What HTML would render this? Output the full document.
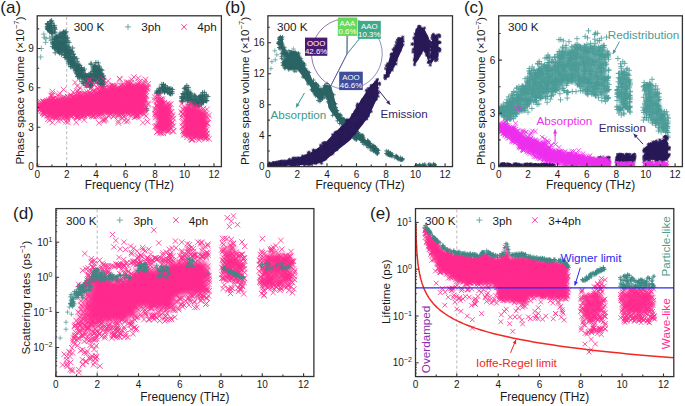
<!DOCTYPE html><html><head><meta charset="utf-8"><style>html,body{margin:0;padding:0;background:#fff;overflow:hidden}svg{display:block}</style></head><body>
<svg width="685" height="406" viewBox="0 0 685 406" font-family="'Liberation Sans', sans-serif">
<rect width="685" height="406" fill="#fff"/>
<defs>
<clipPath id="ca"><rect x="37.2" y="15.8" width="184.2" height="150.8"/></clipPath>
<clipPath id="cb"><rect x="267.9" y="15.8" width="184.6" height="150.8"/></clipPath>
<clipPath id="cc"><rect x="498.7" y="15.8" width="183.7" height="150.8"/></clipPath>
<clipPath id="cd"><rect x="55.9" y="208.6" width="258.0" height="167.9"/></clipPath>
<clipPath id="ce"><rect x="415.5" y="208.6" width="258.3" height="168.0"/></clipPath>
<filter id="bl" x="-20%" y="-20%" width="140%" height="140%"><feGaussianBlur stdDeviation="1.6"/></filter>
<filter id="bl2" x="-20%" y="-20%" width="140%" height="140%"><feGaussianBlur stdDeviation="2.6"/></filter>
</defs>
<path d="M66.7 16.8V166.5" stroke="#a8a8a8" stroke-width="0.8" stroke-dasharray="3 2.2" fill="none"/>
<g clip-path="url(#ca)"><path d="M49.8 26.2L49.7 22.3L52.7 23.6L52.9 30.8L52.9 30.8L52.7 31.5L49.7 30.2L49.8 26.3Z" fill="#2c6464" opacity="0.9" filter="url(#bl)"/></g>
<g clip-path="url(#ca)"><path d="M55.3 40.6L56.4 38L62.3 34.1L66.7 33.4L68.1 44.6L74 57.7L81.4 69.5L86.3 77.3L89.5 78.6L93.2 69.5L96.9 66.2L100.6 70.8L101.6 80L101.6 86.6L100.6 82.6L96.9 80L93.2 82.6L89.5 85.2L86.3 83.9L81.4 78.7L74 69.5L68.1 60.3L66.7 53.8L62.3 52.5L56.4 48.5L55.3 43.3Z" fill="#2c6464" opacity="0.9" filter="url(#bl)"/></g>
<g clip-path="url(#ca)"><path d="M158.6 92.5L159.5 87.2L163.2 85.3L168.4 89.8L171.5 91.8L171.5 94.4L168.4 91.1L163.2 90.4L159.5 92.4L158.6 96.3Z" fill="#2c6464" opacity="1.0" filter="url(#bl)"/></g>
<g clip-path="url(#ca)"><path d="M183.6 97.7L184.6 89.8L187.5 86.6L191.9 93.8L197.8 100.3L202.2 93.8L206.1 95.1L206.1 99L202.2 102.9L197.8 105.5L191.9 104.2L187.5 100.3L184.6 100.3L183.6 101.6Z" fill="#2c6464" opacity="1.0" filter="url(#bl)"/></g>
<path d="M115.2 107.9h5.2m-2.6-2.6v5.2M129.7 109.7h5.2m-2.6-2.6v5.2M124.6 102.8h5.2m-2.6-2.6v5.2M103.5 99.5h5.2m-2.6-2.6v5.2M102.6 101.2h5.2m-2.6-2.6v5.2M104 109.3h5.2m-2.6-2.6v5.2M119.7 91.9h5.2m-2.6-2.6v5.2M106.4 106.2h5.2m-2.6-2.6v5.2M128.6 89.1h5.2m-2.6-2.6v5.2M126.4 102.1h5.2m-2.6-2.6v5.2M144.1 110.3h5.2m-2.6-2.6v5.2M138.9 104.6h5.2m-2.6-2.6v5.2M107.3 108.7h5.2m-2.6-2.6v5.2M114.5 92.2h5.2m-2.6-2.6v5.2M108.9 97.7h5.2m-2.6-2.6v5.2M129.2 102.7h5.2m-2.6-2.6v5.2M125.1 110h5.2m-2.6-2.6v5.2M103.5 106.6h5.2m-2.6-2.6v5.2M131 101.4h5.2m-2.6-2.6v5.2M114.8 97.6h5.2m-2.6-2.6v5.2M120.9 104.4h5.2m-2.6-2.6v5.2M136 95h5.2m-2.6-2.6v5.2M111.7 97.9h5.2m-2.6-2.6v5.2M124.1 90.8h5.2m-2.6-2.6v5.2M133.2 104.6h5.2m-2.6-2.6v5.2M144.2 108.7h5.2m-2.6-2.6v5.2M119.4 93.6h5.2m-2.6-2.6v5.2M107.6 99.9h5.2m-2.6-2.6v5.2M102.6 95.7h5.2m-2.6-2.6v5.2M134.7 97.9h5.2m-2.6-2.6v5.2M139.6 104h5.2m-2.6-2.6v5.2M131.6 97.4h5.2m-2.6-2.6v5.2M126.5 100.7h5.2m-2.6-2.6v5.2M138 89.2h5.2m-2.6-2.6v5.2M121.9 95.8h5.2m-2.6-2.6v5.2M103.6 94.9h5.2m-2.6-2.6v5.2M129.5 88h5.2m-2.6-2.6v5.2M137.2 104.7h5.2m-2.6-2.6v5.2M118 95.7h5.2m-2.6-2.6v5.2M101.9 100.5h5.2m-2.6-2.6v5.2M46 29.9h5.2m-2.6-2.6v5.2M45.1 24.4h5.2m-2.6-2.6v5.2M45.7 28.4h5.2m-2.6-2.6v5.2M47.8 21.7h5.2m-2.6-2.6v5.2M45.3 26.6h5.2m-2.6-2.6v5.2M49.2 22.1h5.2m-2.6-2.6v5.2M51.4 25.9h5.2m-2.6-2.6v5.2M46.9 27.3h5.2m-2.6-2.6v5.2M47.6 21.4h5.2m-2.6-2.6v5.2M52.5 32.2h5.2m-2.6-2.6v5.2M46.1 28.9h5.2m-2.6-2.6v5.2M46.5 26.4h5.2m-2.6-2.6v5.2M49.5 30.4h5.2m-2.6-2.6v5.2M44.7 26.7h5.2m-2.6-2.6v5.2M47.7 25.6h5.2m-2.6-2.6v5.2M52.5 29.4h5.2m-2.6-2.6v5.2M48.9 25.5h5.2m-2.6-2.6v5.2M50.2 33.4h5.2m-2.6-2.6v5.2M52 28h5.2m-2.6-2.6v5.2M51.8 27.4h5.2m-2.6-2.6v5.2M47.9 27.9h5.2m-2.6-2.6v5.2M45.5 25.2h5.2m-2.6-2.6v5.2M45.1 29.2h5.2m-2.6-2.6v5.2M46.3 29.8h5.2m-2.6-2.6v5.2M47.4 32.2h5.2m-2.6-2.6v5.2M44.6 28.1h5.2m-2.6-2.6v5.2M45.5 27.3h5.2m-2.6-2.6v5.2M44.8 24h5.2m-2.6-2.6v5.2M49.7 32h5.2m-2.6-2.6v5.2M46.7 28h5.2m-2.6-2.6v5.2M47.6 31.4h5.2m-2.6-2.6v5.2M51.6 25.4h5.2m-2.6-2.6v5.2M48.5 27h5.2m-2.6-2.6v5.2M45.3 29.2h5.2m-2.6-2.6v5.2M47.4 29.5h5.2m-2.6-2.6v5.2M51.5 32.1h5.2m-2.6-2.6v5.2M44.8 23.6h5.2m-2.6-2.6v5.2M49 31.7h5.2m-2.6-2.6v5.2M49.1 33.3h5.2m-2.6-2.6v5.2M49 20.8h5.2m-2.6-2.6v5.2M51.7 28h5.2m-2.6-2.6v5.2M46.8 27.8h5.2m-2.6-2.6v5.2M46 23.6h5.2m-2.6-2.6v5.2M49 23.4h5.2m-2.6-2.6v5.2M47.3 30h5.2m-2.6-2.6v5.2M91.9 66h5.2m-2.6-2.6v5.2M94 67.5h5.2m-2.6-2.6v5.2M92.3 70.2h5.2m-2.6-2.6v5.2M61.8 43h5.2m-2.6-2.6v5.2M68.4 66.9h5.2m-2.6-2.6v5.2M51.5 44.9h5.2m-2.6-2.6v5.2M63.4 38.7h5.2m-2.6-2.6v5.2M99.4 80.1h5.2m-2.6-2.6v5.2M98.4 69.5h5.2m-2.6-2.6v5.2M99.3 81.2h5.2m-2.6-2.6v5.2M61.4 50.1h5.2m-2.6-2.6v5.2M60.2 50.4h5.2m-2.6-2.6v5.2M82.3 73.7h5.2m-2.6-2.6v5.2M93.4 74.2h5.2m-2.6-2.6v5.2M83.8 77.1h5.2m-2.6-2.6v5.2M54.4 40.6h5.2m-2.6-2.6v5.2M97 70.8h5.2m-2.6-2.6v5.2M88.8 79.3h5.2m-2.6-2.6v5.2M59.3 36.6h5.2m-2.6-2.6v5.2M67.2 49.7h5.2m-2.6-2.6v5.2M100.2 82.1h5.2m-2.6-2.6v5.2M70.8 54.5h5.2m-2.6-2.6v5.2M87.5 85.3h5.2m-2.6-2.6v5.2M56.6 50.1h5.2m-2.6-2.6v5.2M96.7 70.1h5.2m-2.6-2.6v5.2M57.6 36.5h5.2m-2.6-2.6v5.2M100.6 79.4h5.2m-2.6-2.6v5.2M68.1 56.4h5.2m-2.6-2.6v5.2M56.8 52.9h5.2m-2.6-2.6v5.2M100.1 78.5h5.2m-2.6-2.6v5.2M77.2 65.3h5.2m-2.6-2.6v5.2M72.4 58.8h5.2m-2.6-2.6v5.2M92.7 79.8h5.2m-2.6-2.6v5.2M63.1 48.7h5.2m-2.6-2.6v5.2M62.5 41.3h5.2m-2.6-2.6v5.2M63.4 45.6h5.2m-2.6-2.6v5.2M56.8 35.1h5.2m-2.6-2.6v5.2M68.3 58.5h5.2m-2.6-2.6v5.2M80.2 70.4h5.2m-2.6-2.6v5.2M71.8 57h5.2m-2.6-2.6v5.2M75.9 69.5h5.2m-2.6-2.6v5.2M77.1 78.9h5.2m-2.6-2.6v5.2M72.8 70.7h5.2m-2.6-2.6v5.2M50.3 39.6h5.2m-2.6-2.6v5.2M59 43.9h5.2m-2.6-2.6v5.2M87.5 80.3h5.2m-2.6-2.6v5.2M66.9 54.6h5.2m-2.6-2.6v5.2M78.7 69.9h5.2m-2.6-2.6v5.2M55.5 42.2h5.2m-2.6-2.6v5.2M62.9 49.1h5.2m-2.6-2.6v5.2M89.9 77h5.2m-2.6-2.6v5.2M79 70.7h5.2m-2.6-2.6v5.2M97.1 76.9h5.2m-2.6-2.6v5.2M81.7 77.9h5.2m-2.6-2.6v5.2M76.5 67.8h5.2m-2.6-2.6v5.2M73.4 65.8h5.2m-2.6-2.6v5.2M74.7 61.3h5.2m-2.6-2.6v5.2M86.1 77.2h5.2m-2.6-2.6v5.2M98.7 81.8h5.2m-2.6-2.6v5.2M78.9 67.9h5.2m-2.6-2.6v5.2M93.4 80.6h5.2m-2.6-2.6v5.2M56.3 44.4h5.2m-2.6-2.6v5.2M53.8 47.4h5.2m-2.6-2.6v5.2M53.8 40.6h5.2m-2.6-2.6v5.2M90.5 69h5.2m-2.6-2.6v5.2M58 38.6h5.2m-2.6-2.6v5.2M84.1 85h5.2m-2.6-2.6v5.2M95.6 65.8h5.2m-2.6-2.6v5.2M61.4 32.4h5.2m-2.6-2.6v5.2M70.6 62.3h5.2m-2.6-2.6v5.2M101.1 78.2h5.2m-2.6-2.6v5.2M58.4 44.8h5.2m-2.6-2.6v5.2M76.7 73.5h5.2m-2.6-2.6v5.2M60.2 47.6h5.2m-2.6-2.6v5.2M87.3 87.3h5.2m-2.6-2.6v5.2M78.6 74.7h5.2m-2.6-2.6v5.2M51 44h5.2m-2.6-2.6v5.2M82.3 78.6h5.2m-2.6-2.6v5.2M53.4 35.9h5.2m-2.6-2.6v5.2M90.7 67.3h5.2m-2.6-2.6v5.2M55.5 47.5h5.2m-2.6-2.6v5.2M52.1 39.3h5.2m-2.6-2.6v5.2M64 53.1h5.2m-2.6-2.6v5.2M71.9 57.2h5.2m-2.6-2.6v5.2M92.3 79.2h5.2m-2.6-2.6v5.2M57.8 34.4h5.2m-2.6-2.6v5.2M79.5 72.2h5.2m-2.6-2.6v5.2M54.7 50.8h5.2m-2.6-2.6v5.2M85.6 82.3h5.2m-2.6-2.6v5.2M53.8 36.4h5.2m-2.6-2.6v5.2M82.8 75.8h5.2m-2.6-2.6v5.2M54.4 37.4h5.2m-2.6-2.6v5.2M53.5 37.7h5.2m-2.6-2.6v5.2M73.5 69.1h5.2m-2.6-2.6v5.2M78.6 67.6h5.2m-2.6-2.6v5.2M63.9 53h5.2m-2.6-2.6v5.2M77.2 75.8h5.2m-2.6-2.6v5.2M55.7 49.5h5.2m-2.6-2.6v5.2M52.7 46.9h5.2m-2.6-2.6v5.2M66.2 57.6h5.2m-2.6-2.6v5.2M89.2 81.6h5.2m-2.6-2.6v5.2M75.9 74.9h5.2m-2.6-2.6v5.2M68 66.4h5.2m-2.6-2.6v5.2M63 55.7h5.2m-2.6-2.6v5.2M87.9 79.7h5.2m-2.6-2.6v5.2M59.8 43.9h5.2m-2.6-2.6v5.2M98.3 83.8h5.2m-2.6-2.6v5.2M92.3 75.9h5.2m-2.6-2.6v5.2M75.6 64.3h5.2m-2.6-2.6v5.2M70.3 61.4h5.2m-2.6-2.6v5.2M85.5 75.7h5.2m-2.6-2.6v5.2M67.7 50.1h5.2m-2.6-2.6v5.2M86.5 80.2h5.2m-2.6-2.6v5.2M70.9 65.3h5.2m-2.6-2.6v5.2M52.9 48.1h5.2m-2.6-2.6v5.2M53.7 39.5h5.2m-2.6-2.6v5.2M63.3 52h5.2m-2.6-2.6v5.2M54.4 37.6h5.2m-2.6-2.6v5.2M95 70.6h5.2m-2.6-2.6v5.2M64.6 53h5.2m-2.6-2.6v5.2M65.2 51.2h5.2m-2.6-2.6v5.2M58.2 44.5h5.2m-2.6-2.6v5.2M63.6 31.9h5.2m-2.6-2.6v5.2M100.2 80.1h5.2m-2.6-2.6v5.2M62.7 31.9h5.2m-2.6-2.6v5.2M66 56.3h5.2m-2.6-2.6v5.2M50.1 42.9h5.2m-2.6-2.6v5.2M74.6 68h5.2m-2.6-2.6v5.2M60.4 43.2h5.2m-2.6-2.6v5.2M50.3 44h5.2m-2.6-2.6v5.2M54.7 45h5.2m-2.6-2.6v5.2M52.2 48.7h5.2m-2.6-2.6v5.2M65.8 58.4h5.2m-2.6-2.6v5.2M80.3 75.7h5.2m-2.6-2.6v5.2M88.8 76.6h5.2m-2.6-2.6v5.2M87 77.3h5.2m-2.6-2.6v5.2M70.2 64.3h5.2m-2.6-2.6v5.2M100.9 86.4h5.2m-2.6-2.6v5.2M87.4 79.3h5.2m-2.6-2.6v5.2M52.3 38.5h5.2m-2.6-2.6v5.2M96.1 72.6h5.2m-2.6-2.6v5.2M87.9 76.1h5.2m-2.6-2.6v5.2M57.3 42.8h5.2m-2.6-2.6v5.2M76.1 65.1h5.2m-2.6-2.6v5.2M91.6 69.2h5.2m-2.6-2.6v5.2M80.2 70.6h5.2m-2.6-2.6v5.2M85.3 79h5.2m-2.6-2.6v5.2M61.9 55h5.2m-2.6-2.6v5.2M56.9 46.1h5.2m-2.6-2.6v5.2M55.5 37.2h5.2m-2.6-2.6v5.2M78.9 72.3h5.2m-2.6-2.6v5.2M82.4 76.6h5.2m-2.6-2.6v5.2M75.3 76.9h5.2m-2.6-2.6v5.2M91.2 71h5.2m-2.6-2.6v5.2M76 69.6h5.2m-2.6-2.6v5.2M84.1 85.9h5.2m-2.6-2.6v5.2M88.1 83.5h5.2m-2.6-2.6v5.2M53.9 47h5.2m-2.6-2.6v5.2M87.7 84.6h5.2m-2.6-2.6v5.2M88.2 73.1h5.2m-2.6-2.6v5.2M75.5 71.3h5.2m-2.6-2.6v5.2M74.8 65.4h5.2m-2.6-2.6v5.2M89.6 75.7h5.2m-2.6-2.6v5.2M83.2 85.1h5.2m-2.6-2.6v5.2M57.7 48.4h5.2m-2.6-2.6v5.2M88.4 82.4h5.2m-2.6-2.6v5.2M79.4 81.7h5.2m-2.6-2.6v5.2M53.2 46.4h5.2m-2.6-2.6v5.2M84.7 78.8h5.2m-2.6-2.6v5.2M84.9 83.6h5.2m-2.6-2.6v5.2M76.7 71.6h5.2m-2.6-2.6v5.2M74.1 73.6h5.2m-2.6-2.6v5.2M96.2 80.4h5.2m-2.6-2.6v5.2M100.5 75.4h5.2m-2.6-2.6v5.2M51 42.7h5.2m-2.6-2.6v5.2M92.4 65.9h5.2m-2.6-2.6v5.2M73.3 70h5.2m-2.6-2.6v5.2M60.9 32.6h5.2m-2.6-2.6v5.2M60.9 41.4h5.2m-2.6-2.6v5.2M57.4 42.8h5.2m-2.6-2.6v5.2M99.2 84.5h5.2m-2.6-2.6v5.2M92.4 74.5h5.2m-2.6-2.6v5.2M95.8 70.9h5.2m-2.6-2.6v5.2M62 33.7h5.2m-2.6-2.6v5.2M75.1 76.3h5.2m-2.6-2.6v5.2M50.3 42.1h5.2m-2.6-2.6v5.2M73.3 69.5h5.2m-2.6-2.6v5.2M57.3 46.5h5.2m-2.6-2.6v5.2M66.4 47.1h5.2m-2.6-2.6v5.2M50.2 40h5.2m-2.6-2.6v5.2M93.4 81h5.2m-2.6-2.6v5.2M97.9 73h5.2m-2.6-2.6v5.2M96.6 79.1h5.2m-2.6-2.6v5.2M69.3 61.5h5.2m-2.6-2.6v5.2M101.6 82.1h5.2m-2.6-2.6v5.2M68.7 59.7h5.2m-2.6-2.6v5.2M64.3 56h5.2m-2.6-2.6v5.2M55.3 37.3h5.2m-2.6-2.6v5.2M64.8 37.9h5.2m-2.6-2.6v5.2M62.9 49.4h5.2m-2.6-2.6v5.2M76.4 75.4h5.2m-2.6-2.6v5.2M69.3 51.2h5.2m-2.6-2.6v5.2M95.7 68.8h5.2m-2.6-2.6v5.2M82.6 74.1h5.2m-2.6-2.6v5.2M98.6 77h5.2m-2.6-2.6v5.2M87.2 87h5.2m-2.6-2.6v5.2M87.8 81.1h5.2m-2.6-2.6v5.2M88.9 76.6h5.2m-2.6-2.6v5.2M64.8 58.6h5.2m-2.6-2.6v5.2M97.9 83h5.2m-2.6-2.6v5.2M74.4 70.3h5.2m-2.6-2.6v5.2M65.4 46.7h5.2m-2.6-2.6v5.2M100.4 84.3h5.2m-2.6-2.6v5.2M83.9 83.1h5.2m-2.6-2.6v5.2M78.8 75.6h5.2m-2.6-2.6v5.2M58.7 50.8h5.2m-2.6-2.6v5.2M60.8 33.6h5.2m-2.6-2.6v5.2M75.7 74h5.2m-2.6-2.6v5.2M96.8 66.8h5.2m-2.6-2.6v5.2M73.3 72.1h5.2m-2.6-2.6v5.2M60 53h5.2m-2.6-2.6v5.2M67.7 64.5h5.2m-2.6-2.6v5.2M62.4 49.5h5.2m-2.6-2.6v5.2M79.5 69.5h5.2m-2.6-2.6v5.2M88.7 80.3h5.2m-2.6-2.6v5.2M71.4 63.1h5.2m-2.6-2.6v5.2M69.5 62.9h5.2m-2.6-2.6v5.2M53.3 46.4h5.2m-2.6-2.6v5.2M100 85.6h5.2m-2.6-2.6v5.2M76 68.1h5.2m-2.6-2.6v5.2M94.6 78.7h5.2m-2.6-2.6v5.2M64.1 50h5.2m-2.6-2.6v5.2M70.7 63.1h5.2m-2.6-2.6v5.2M99.3 73.7h5.2m-2.6-2.6v5.2M95.1 82.8h5.2m-2.6-2.6v5.2M51.7 40.2h5.2m-2.6-2.6v5.2M96.3 75.5h5.2m-2.6-2.6v5.2M80.4 83h5.2m-2.6-2.6v5.2M70.3 53.8h5.2m-2.6-2.6v5.2M92.7 67.7h5.2m-2.6-2.6v5.2M100.2 84.2h5.2m-2.6-2.6v5.2M55.7 49.6h5.2m-2.6-2.6v5.2M77 68.8h5.2m-2.6-2.6v5.2M98.6 74.3h5.2m-2.6-2.6v5.2M83.5 77.2h5.2m-2.6-2.6v5.2M73.7 65.9h5.2m-2.6-2.6v5.2M52.1 39.2h5.2m-2.6-2.6v5.2M62.1 33.1h5.2m-2.6-2.6v5.2M83.4 82.6h5.2m-2.6-2.6v5.2M56.7 48.1h5.2m-2.6-2.6v5.2M82.9 77.2h5.2m-2.6-2.6v5.2M55.9 51.2h5.2m-2.6-2.6v5.2M77.1 70.4h5.2m-2.6-2.6v5.2M70.1 66h5.2m-2.6-2.6v5.2M81.1 83.6h5.2m-2.6-2.6v5.2M65.6 53.4h5.2m-2.6-2.6v5.2M99.5 77.4h5.2m-2.6-2.6v5.2M95.7 74.9h5.2m-2.6-2.6v5.2M62.2 49.7h5.2m-2.6-2.6v5.2M99.6 76.6h5.2m-2.6-2.6v5.2M65.9 63.1h5.2m-2.6-2.6v5.2M75.8 67.1h5.2m-2.6-2.6v5.2M71.7 68.1h5.2m-2.6-2.6v5.2M84.5 76h5.2m-2.6-2.6v5.2M61.8 54.9h5.2m-2.6-2.6v5.2M67.5 57.7h5.2m-2.6-2.6v5.2M85.3 84.8h5.2m-2.6-2.6v5.2M91.2 71.2h5.2m-2.6-2.6v5.2M76.1 74.8h5.2m-2.6-2.6v5.2M100.1 83.1h5.2m-2.6-2.6v5.2M92.4 79.7h5.2m-2.6-2.6v5.2M61.5 37.1h5.2m-2.6-2.6v5.2M65.3 41h5.2m-2.6-2.6v5.2M75.6 74.4h5.2m-2.6-2.6v5.2M61.6 45.5h5.2m-2.6-2.6v5.2M84.4 75.6h5.2m-2.6-2.6v5.2M57.6 45.5h5.2m-2.6-2.6v5.2M61.1 31.9h5.2m-2.6-2.6v5.2M57.4 52.5h5.2m-2.6-2.6v5.2M53.2 44.6h5.2m-2.6-2.6v5.2M96.4 68.3h5.2m-2.6-2.6v5.2M87.9 73.7h5.2m-2.6-2.6v5.2M98.1 79.9h5.2m-2.6-2.6v5.2M59.6 33h5.2m-2.6-2.6v5.2M88.6 86.2h5.2m-2.6-2.6v5.2M84.3 82.3h5.2m-2.6-2.6v5.2M69.4 62.8h5.2m-2.6-2.6v5.2M58.8 54.4h5.2m-2.6-2.6v5.2M64.5 49.8h5.2m-2.6-2.6v5.2M99.4 84.8h5.2m-2.6-2.6v5.2M99.8 84.2h5.2m-2.6-2.6v5.2M68.5 51.9h5.2m-2.6-2.6v5.2M92.5 75.8h5.2m-2.6-2.6v5.2M52.6 43.2h5.2m-2.6-2.6v5.2M69.3 51.8h5.2m-2.6-2.6v5.2M60 46.5h5.2m-2.6-2.6v5.2M96.3 83.5h5.2m-2.6-2.6v5.2M71.3 57.9h5.2m-2.6-2.6v5.2M89.6 85.3h5.2m-2.6-2.6v5.2M51.9 47.7h5.2m-2.6-2.6v5.2M97.5 82h5.2m-2.6-2.6v5.2M88.4 63.3h5.2m-2.6-2.6v5.2M67.1 61.9h5.2m-2.6-2.6v5.2M99.4 76.9h5.2m-2.6-2.6v5.2M63.1 37.8h5.2m-2.6-2.6v5.2M65.9 60.1h5.2m-2.6-2.6v5.2M49.5 36.9h5.2m-2.6-2.6v5.2M97.3 73.6h5.2m-2.6-2.6v5.2M98.7 87.9h5.2m-2.6-2.6v5.2M61.6 45h5.2m-2.6-2.6v5.2M99.4 70.3h5.2m-2.6-2.6v5.2M69.6 66h5.2m-2.6-2.6v5.2M71.8 63.2h5.2m-2.6-2.6v5.2M97.9 83.9h5.2m-2.6-2.6v5.2M91.3 67h5.2m-2.6-2.6v5.2M92.4 66.1h5.2m-2.6-2.6v5.2M81.1 77.4h5.2m-2.6-2.6v5.2M66.1 58.1h5.2m-2.6-2.6v5.2M90.3 83.3h5.2m-2.6-2.6v5.2M59.7 36.7h5.2m-2.6-2.6v5.2M62.3 57.6h5.2m-2.6-2.6v5.2M51.1 41.6h5.2m-2.6-2.6v5.2M66.4 42.5h5.2m-2.6-2.6v5.2M95.6 62.9h5.2m-2.6-2.6v5.2M63.2 57.3h5.2m-2.6-2.6v5.2M54.4 43.3h5.2m-2.6-2.6v5.2M86.5 74.4h5.2m-2.6-2.6v5.2M61.6 46.7h5.2m-2.6-2.6v5.2M81.8 69.1h5.2m-2.6-2.6v5.2M88.5 64.5h5.2m-2.6-2.6v5.2M84.1 82.3h5.2m-2.6-2.6v5.2M93.3 77.9h5.2m-2.6-2.6v5.2M79 76.4h5.2m-2.6-2.6v5.2M87.9 80.4h5.2m-2.6-2.6v5.2M62.3 52.1h5.2m-2.6-2.6v5.2M57.4 33.2h5.2m-2.6-2.6v5.2M79.6 77.5h5.2m-2.6-2.6v5.2M70.1 48h5.2m-2.6-2.6v5.2M75.9 75.6h5.2m-2.6-2.6v5.2M91.6 69.1h5.2m-2.6-2.6v5.2M101.2 88.3h5.2m-2.6-2.6v5.2M74.2 58.7h5.2m-2.6-2.6v5.2M93.3 62.5h5.2m-2.6-2.6v5.2M51.4 47.8h5.2m-2.6-2.6v5.2M55.6 51.6h5.2m-2.6-2.6v5.2M100.2 78.6h5.2m-2.6-2.6v5.2M98 80.1h5.2m-2.6-2.6v5.2M94.6 74.5h5.2m-2.6-2.6v5.2M62.9 35.9h5.2m-2.6-2.6v5.2M98.8 86.3h5.2m-2.6-2.6v5.2M80.5 70.5h5.2m-2.6-2.6v5.2M60.7 48h5.2m-2.6-2.6v5.2M56.7 51.6h5.2m-2.6-2.6v5.2M62.7 41.4h5.2m-2.6-2.6v5.2M83.4 80.3h5.2m-2.6-2.6v5.2M49.9 46.6h5.2m-2.6-2.6v5.2M84.8 80.8h5.2m-2.6-2.6v5.2M65.7 61.7h5.2m-2.6-2.6v5.2M90.9 71.7h5.2m-2.6-2.6v5.2M52.6 52.8h5.2m-2.6-2.6v5.2M160.7 87.4h5.2m-2.6-2.6v5.2M164.8 92.4h5.2m-2.6-2.6v5.2M156.7 88.3h5.2m-2.6-2.6v5.2M160.9 89.9h5.2m-2.6-2.6v5.2M159.2 84.4h5.2m-2.6-2.6v5.2M159.3 88h5.2m-2.6-2.6v5.2M160 88.9h5.2m-2.6-2.6v5.2M168.6 89h5.2m-2.6-2.6v5.2M160.1 90.9h5.2m-2.6-2.6v5.2M166.3 92.3h5.2m-2.6-2.6v5.2M154.1 91.1h5.2m-2.6-2.6v5.2M161.1 85.3h5.2m-2.6-2.6v5.2M160.8 84.5h5.2m-2.6-2.6v5.2M161.8 91.2h5.2m-2.6-2.6v5.2M154.2 93.6h5.2m-2.6-2.6v5.2M164.8 87.6h5.2m-2.6-2.6v5.2M155.5 91h5.2m-2.6-2.6v5.2M160.2 88h5.2m-2.6-2.6v5.2M156.4 92.5h5.2m-2.6-2.6v5.2M162.8 85.8h5.2m-2.6-2.6v5.2M155.8 91.6h5.2m-2.6-2.6v5.2M167.6 88.7h5.2m-2.6-2.6v5.2M157.3 93h5.2m-2.6-2.6v5.2M169.9 89.6h5.2m-2.6-2.6v5.2M162.1 92.2h5.2m-2.6-2.6v5.2M169.7 93.2h5.2m-2.6-2.6v5.2M169.3 91.5h5.2m-2.6-2.6v5.2M167.9 93.5h5.2m-2.6-2.6v5.2M167.3 92.8h5.2m-2.6-2.6v5.2M160.8 84.8h5.2m-2.6-2.6v5.2M168 93.5h5.2m-2.6-2.6v5.2M157.7 90.3h5.2m-2.6-2.6v5.2M162.7 89.8h5.2m-2.6-2.6v5.2M156 93.4h5.2m-2.6-2.6v5.2M166.2 88.6h5.2m-2.6-2.6v5.2M154.7 92.8h5.2m-2.6-2.6v5.2M166.8 93.5h5.2m-2.6-2.6v5.2M168.2 93.9h5.2m-2.6-2.6v5.2M164.1 89.3h5.2m-2.6-2.6v5.2M164.6 91.1h5.2m-2.6-2.6v5.2M161.1 87.4h5.2m-2.6-2.6v5.2M161.2 86.8h5.2m-2.6-2.6v5.2M161.5 88.8h5.2m-2.6-2.6v5.2M154.4 92.8h5.2m-2.6-2.6v5.2M162.3 90.8h5.2m-2.6-2.6v5.2M166.9 89.5h5.2m-2.6-2.6v5.2M161.7 91.1h5.2m-2.6-2.6v5.2M162 91.7h5.2m-2.6-2.6v5.2M156.1 91.6h5.2m-2.6-2.6v5.2M155.5 92.5h5.2m-2.6-2.6v5.2M192.5 106.4h5.2m-2.6-2.6v5.2M195.9 106.3h5.2m-2.6-2.6v5.2M198.5 96.2h5.2m-2.6-2.6v5.2M192.6 106.3h5.2m-2.6-2.6v5.2M192.4 102.5h5.2m-2.6-2.6v5.2M204.2 100.6h5.2m-2.6-2.6v5.2M201.7 92.3h5.2m-2.6-2.6v5.2M198.4 95.8h5.2m-2.6-2.6v5.2M184.2 85.7h5.2m-2.6-2.6v5.2M192.1 95.3h5.2m-2.6-2.6v5.2M203.3 100.8h5.2m-2.6-2.6v5.2M199.9 92.7h5.2m-2.6-2.6v5.2M180.8 98.7h5.2m-2.6-2.6v5.2M199.1 103.2h5.2m-2.6-2.6v5.2M202.8 100h5.2m-2.6-2.6v5.2M200.6 102.5h5.2m-2.6-2.6v5.2M192.3 96.1h5.2m-2.6-2.6v5.2M184.5 97.7h5.2m-2.6-2.6v5.2M192.4 103.2h5.2m-2.6-2.6v5.2M180 101.3h5.2m-2.6-2.6v5.2M183.3 87.4h5.2m-2.6-2.6v5.2M197 96.8h5.2m-2.6-2.6v5.2M183.5 89.6h5.2m-2.6-2.6v5.2M182.1 94.6h5.2m-2.6-2.6v5.2M195.9 103.6h5.2m-2.6-2.6v5.2M202.2 97.2h5.2m-2.6-2.6v5.2M194.4 98.6h5.2m-2.6-2.6v5.2M181.8 88.4h5.2m-2.6-2.6v5.2M195.7 103.4h5.2m-2.6-2.6v5.2M200.2 101.2h5.2m-2.6-2.6v5.2M205.3 96.5h5.2m-2.6-2.6v5.2M188.6 94.1h5.2m-2.6-2.6v5.2M190.7 104.2h5.2m-2.6-2.6v5.2M198.7 104.8h5.2m-2.6-2.6v5.2M200.8 101.1h5.2m-2.6-2.6v5.2M196 97.4h5.2m-2.6-2.6v5.2M194.6 100.9h5.2m-2.6-2.6v5.2M187.3 104.4h5.2m-2.6-2.6v5.2M179.9 101.7h5.2m-2.6-2.6v5.2M195.4 103.4h5.2m-2.6-2.6v5.2M192.6 96.6h5.2m-2.6-2.6v5.2M182.5 98.9h5.2m-2.6-2.6v5.2M196.3 106.6h5.2m-2.6-2.6v5.2M179.1 100.7h5.2m-2.6-2.6v5.2M181.8 97.3h5.2m-2.6-2.6v5.2M185 92h5.2m-2.6-2.6v5.2M194.6 105.4h5.2m-2.6-2.6v5.2M195.6 102.8h5.2m-2.6-2.6v5.2M182.6 88.1h5.2m-2.6-2.6v5.2M185.5 100.2h5.2m-2.6-2.6v5.2M181.6 93.8h5.2m-2.6-2.6v5.2M202.1 94.7h5.2m-2.6-2.6v5.2M189.7 102.5h5.2m-2.6-2.6v5.2M179.3 97.9h5.2m-2.6-2.6v5.2M193.9 103.6h5.2m-2.6-2.6v5.2M196.1 102.5h5.2m-2.6-2.6v5.2M203.9 95.2h5.2m-2.6-2.6v5.2M185.6 87.4h5.2m-2.6-2.6v5.2M180.2 97.5h5.2m-2.6-2.6v5.2M189.8 103h5.2m-2.6-2.6v5.2M180.6 94.1h5.2m-2.6-2.6v5.2M179.3 98.7h5.2m-2.6-2.6v5.2M204 100.7h5.2m-2.6-2.6v5.2M184.3 91.9h5.2m-2.6-2.6v5.2M192.5 99.4h5.2m-2.6-2.6v5.2M200.6 102.1h5.2m-2.6-2.6v5.2M187.2 99.5h5.2m-2.6-2.6v5.2M180.3 93.5h5.2m-2.6-2.6v5.2M199.8 95.5h5.2m-2.6-2.6v5.2M179.2 96.5h5.2m-2.6-2.6v5.2M198.8 99.7h5.2m-2.6-2.6v5.2M198.7 99.9h5.2m-2.6-2.6v5.2M185 100.5h5.2m-2.6-2.6v5.2M185.2 101.8h5.2m-2.6-2.6v5.2M187.9 93.3h5.2m-2.6-2.6v5.2M197.5 96.8h5.2m-2.6-2.6v5.2M197.9 102.9h5.2m-2.6-2.6v5.2M193.7 102.6h5.2m-2.6-2.6v5.2M199.9 98h5.2m-2.6-2.6v5.2M186 92.5h5.2m-2.6-2.6v5.2" stroke="#2c6464" stroke-width="0.8" fill="none" opacity="1.0" clip-path="url(#ca)"/>
<path d="M38.5 48.5h5.6m-2.8-2.8v5.6M37.9 57h5.6m-2.8-2.8v5.6M41.6 37.4h5.6m-2.8-2.8v5.6M42.8 42.4h5.6m-2.8-2.8v5.6M43.2 38.7h5.6m-2.8-2.8v5.6M46.9 38h5.6m-2.8-2.8v5.6M48.4 40.7h5.6m-2.8-2.8v5.6M41 34.1h5.6m-2.8-2.8v5.6" stroke="#5f9f9c" stroke-width="0.8" fill="none" opacity="1.0" clip-path="url(#ca)"/>
<g clip-path="url(#ca)"><path d="M42.2 105.1L44.6 103.2L51.9 100.5L61.7 99.2L86.3 94L110.9 87.4L135.5 83.5L146.3 83.5L146.3 114.5L135.5 115.1L110.9 114.5L86.3 115.1L61.7 115.8L51.9 115.1L44.6 113.2L42.2 107.9Z" fill="#ff2b8e" opacity="1.0" filter="url(#bl)"/></g>
<g clip-path="url(#ca)"><path d="M156.6 99.2L159.5 96.6L165.4 104.5L171.3 107.1L171.3 130.2L165.4 131.5L159.5 131.5L156.6 128.9Z" fill="#ff2b8e" opacity="1.0" filter="url(#bl)"/></g>
<g clip-path="url(#ca)"><path d="M183.5 105.8L189 105.1L199.3 108.4L206.8 112.3L206.8 136.8L199.3 139.4L189 138.1L183.5 134.2Z" fill="#ff2b8e" opacity="1.0" filter="url(#bl)"/></g>
<path d="M141.9 106.4l5.6 5.6m0-5.6l-5.6 5.6M132.6 114l5.6 5.6m0-5.6l-5.6 5.6M65.4 109.8l5.6 5.6m0-5.6l-5.6 5.6M117.9 82.7l5.6 5.6m0-5.6l-5.6 5.6M118.1 103.3l5.6 5.6m0-5.6l-5.6 5.6M132.7 102.7l5.6 5.6m0-5.6l-5.6 5.6M63.1 95.3l5.6 5.6m0-5.6l-5.6 5.6M105.6 92.6l5.6 5.6m0-5.6l-5.6 5.6M109.3 82.9l5.6 5.6m0-5.6l-5.6 5.6M88.1 92l5.6 5.6m0-5.6l-5.6 5.6M112.9 86.3l5.6 5.6m0-5.6l-5.6 5.6M84.6 95.8l5.6 5.6m0-5.6l-5.6 5.6M99.1 105.1l5.6 5.6m0-5.6l-5.6 5.6M60.2 101.9l5.6 5.6m0-5.6l-5.6 5.6M45.6 98.3l5.6 5.6m0-5.6l-5.6 5.6M52.9 114.3l5.6 5.6m0-5.6l-5.6 5.6M48.8 97l5.6 5.6m0-5.6l-5.6 5.6M74.6 111.4l5.6 5.6m0-5.6l-5.6 5.6M40.3 110.4l5.6 5.6m0-5.6l-5.6 5.6M112.3 93.6l5.6 5.6m0-5.6l-5.6 5.6M112.8 90.2l5.6 5.6m0-5.6l-5.6 5.6M44.3 103.8l5.6 5.6m0-5.6l-5.6 5.6M76.6 94.9l5.6 5.6m0-5.6l-5.6 5.6M126.1 83.3l5.6 5.6m0-5.6l-5.6 5.6M44.4 99.4l5.6 5.6m0-5.6l-5.6 5.6M136.4 80.5l5.6 5.6m0-5.6l-5.6 5.6M48.8 110.6l5.6 5.6m0-5.6l-5.6 5.6M49.3 113.9l5.6 5.6m0-5.6l-5.6 5.6M129.1 85.7l5.6 5.6m0-5.6l-5.6 5.6M106 88.4l5.6 5.6m0-5.6l-5.6 5.6M105.7 105.1l5.6 5.6m0-5.6l-5.6 5.6M48 112.5l5.6 5.6m0-5.6l-5.6 5.6M119.3 107.3l5.6 5.6m0-5.6l-5.6 5.6M71.8 104.9l5.6 5.6m0-5.6l-5.6 5.6M39.5 107.2l5.6 5.6m0-5.6l-5.6 5.6M67.8 98.7l5.6 5.6m0-5.6l-5.6 5.6M77.1 106.9l5.6 5.6m0-5.6l-5.6 5.6M141.8 96.2l5.6 5.6m0-5.6l-5.6 5.6M129.5 92.5l5.6 5.6m0-5.6l-5.6 5.6M40.6 106l5.6 5.6m0-5.6l-5.6 5.6M84.5 94.6l5.6 5.6m0-5.6l-5.6 5.6M74.8 97.9l5.6 5.6m0-5.6l-5.6 5.6M95.5 108.1l5.6 5.6m0-5.6l-5.6 5.6M130.7 111.2l5.6 5.6m0-5.6l-5.6 5.6M126.1 108.4l5.6 5.6m0-5.6l-5.6 5.6M37.3 106l5.6 5.6m0-5.6l-5.6 5.6M119.9 81.3l5.6 5.6m0-5.6l-5.6 5.6M37.7 104l5.6 5.6m0-5.6l-5.6 5.6M90.5 92.6l5.6 5.6m0-5.6l-5.6 5.6M57.2 104.9l5.6 5.6m0-5.6l-5.6 5.6M74.9 94.8l5.6 5.6m0-5.6l-5.6 5.6M65.5 94.1l5.6 5.6m0-5.6l-5.6 5.6M68 110.1l5.6 5.6m0-5.6l-5.6 5.6M113.1 97.9l5.6 5.6m0-5.6l-5.6 5.6M49.1 102.4l5.6 5.6m0-5.6l-5.6 5.6M46 100.3l5.6 5.6m0-5.6l-5.6 5.6M112.8 88.6l5.6 5.6m0-5.6l-5.6 5.6M105.3 103l5.6 5.6m0-5.6l-5.6 5.6M80.7 104.7l5.6 5.6m0-5.6l-5.6 5.6M133.8 111.4l5.6 5.6m0-5.6l-5.6 5.6M133.6 113.6l5.6 5.6m0-5.6l-5.6 5.6M59.6 109.6l5.6 5.6m0-5.6l-5.6 5.6M134.9 96.4l5.6 5.6m0-5.6l-5.6 5.6M78.3 92.9l5.6 5.6m0-5.6l-5.6 5.6M62.5 105.1l5.6 5.6m0-5.6l-5.6 5.6M94.8 92.9l5.6 5.6m0-5.6l-5.6 5.6M118.9 92.5l5.6 5.6m0-5.6l-5.6 5.6M75 106.9l5.6 5.6m0-5.6l-5.6 5.6M54 98l5.6 5.6m0-5.6l-5.6 5.6M109 90.4l5.6 5.6m0-5.6l-5.6 5.6M55.6 106.1l5.6 5.6m0-5.6l-5.6 5.6M121.1 94.6l5.6 5.6m0-5.6l-5.6 5.6M50.9 105.7l5.6 5.6m0-5.6l-5.6 5.6M133.2 105.9l5.6 5.6m0-5.6l-5.6 5.6M58 108.9l5.6 5.6m0-5.6l-5.6 5.6M113.5 86.6l5.6 5.6m0-5.6l-5.6 5.6M54 111.8l5.6 5.6m0-5.6l-5.6 5.6M64.1 107.9l5.6 5.6m0-5.6l-5.6 5.6M93.8 109.8l5.6 5.6m0-5.6l-5.6 5.6M72.8 110.4l5.6 5.6m0-5.6l-5.6 5.6M143 88.1l5.6 5.6m0-5.6l-5.6 5.6M48.2 96.5l5.6 5.6m0-5.6l-5.6 5.6M48.2 107.2l5.6 5.6m0-5.6l-5.6 5.6M143.9 85.8l5.6 5.6m0-5.6l-5.6 5.6M116.7 99.7l5.6 5.6m0-5.6l-5.6 5.6M58.5 101.8l5.6 5.6m0-5.6l-5.6 5.6M48.8 110.6l5.6 5.6m0-5.6l-5.6 5.6M79.3 113.8l5.6 5.6m0-5.6l-5.6 5.6M80.5 94.8l5.6 5.6m0-5.6l-5.6 5.6M112.4 97.9l5.6 5.6m0-5.6l-5.6 5.6M105.8 99.6l5.6 5.6m0-5.6l-5.6 5.6M52.6 102.9l5.6 5.6m0-5.6l-5.6 5.6M81.1 96l5.6 5.6m0-5.6l-5.6 5.6M135.7 99l5.6 5.6m0-5.6l-5.6 5.6M99.5 92.1l5.6 5.6m0-5.6l-5.6 5.6M82.9 108.7l5.6 5.6m0-5.6l-5.6 5.6M115.5 85.2l5.6 5.6m0-5.6l-5.6 5.6M121.2 90.5l5.6 5.6m0-5.6l-5.6 5.6M129.7 90.3l5.6 5.6m0-5.6l-5.6 5.6M106.8 99.8l5.6 5.6m0-5.6l-5.6 5.6M71.1 100.3l5.6 5.6m0-5.6l-5.6 5.6M47.8 106.6l5.6 5.6m0-5.6l-5.6 5.6M122.1 90l5.6 5.6m0-5.6l-5.6 5.6M105.5 106.2l5.6 5.6m0-5.6l-5.6 5.6M83.1 102.9l5.6 5.6m0-5.6l-5.6 5.6M104.6 101.4l5.6 5.6m0-5.6l-5.6 5.6M110.4 84.3l5.6 5.6m0-5.6l-5.6 5.6M57.1 101.6l5.6 5.6m0-5.6l-5.6 5.6M121.6 101l5.6 5.6m0-5.6l-5.6 5.6M90.3 87.8l5.6 5.6m0-5.6l-5.6 5.6M41.3 104.6l5.6 5.6m0-5.6l-5.6 5.6M54.6 99.2l5.6 5.6m0-5.6l-5.6 5.6M139.2 95.7l5.6 5.6m0-5.6l-5.6 5.6M48.2 103.7l5.6 5.6m0-5.6l-5.6 5.6M95.9 93.7l5.6 5.6m0-5.6l-5.6 5.6M92.8 96.5l5.6 5.6m0-5.6l-5.6 5.6M127.1 96.1l5.6 5.6m0-5.6l-5.6 5.6M81.7 90.7l5.6 5.6m0-5.6l-5.6 5.6M60 100.7l5.6 5.6m0-5.6l-5.6 5.6M79.8 95.7l5.6 5.6m0-5.6l-5.6 5.6M50.5 95.7l5.6 5.6m0-5.6l-5.6 5.6M75.8 113.4l5.6 5.6m0-5.6l-5.6 5.6M67 106l5.6 5.6m0-5.6l-5.6 5.6M38.6 105l5.6 5.6m0-5.6l-5.6 5.6M82.8 96.8l5.6 5.6m0-5.6l-5.6 5.6M75.4 108.4l5.6 5.6m0-5.6l-5.6 5.6M61.5 99.2l5.6 5.6m0-5.6l-5.6 5.6M139.1 95.4l5.6 5.6m0-5.6l-5.6 5.6M60.9 98l5.6 5.6m0-5.6l-5.6 5.6M79.7 109.4l5.6 5.6m0-5.6l-5.6 5.6M51.2 99.6l5.6 5.6m0-5.6l-5.6 5.6M125 92.4l5.6 5.6m0-5.6l-5.6 5.6M88.1 99.4l5.6 5.6m0-5.6l-5.6 5.6M61.7 94.4l5.6 5.6m0-5.6l-5.6 5.6M75.5 99.4l5.6 5.6m0-5.6l-5.6 5.6M126 86l5.6 5.6m0-5.6l-5.6 5.6M88 106.6l5.6 5.6m0-5.6l-5.6 5.6M96.7 110.6l5.6 5.6m0-5.6l-5.6 5.6M127.6 102l5.6 5.6m0-5.6l-5.6 5.6M129.5 105l5.6 5.6m0-5.6l-5.6 5.6M78 108.5l5.6 5.6m0-5.6l-5.6 5.6M83.4 109.8l5.6 5.6m0-5.6l-5.6 5.6M37.5 102.1l5.6 5.6m0-5.6l-5.6 5.6M67.7 109.4l5.6 5.6m0-5.6l-5.6 5.6M69.9 103.9l5.6 5.6m0-5.6l-5.6 5.6M83.7 98.2l5.6 5.6m0-5.6l-5.6 5.6M108.7 102.5l5.6 5.6m0-5.6l-5.6 5.6M137.9 83.7l5.6 5.6m0-5.6l-5.6 5.6M43.4 100.2l5.6 5.6m0-5.6l-5.6 5.6M135.4 86.2l5.6 5.6m0-5.6l-5.6 5.6M52.4 98.4l5.6 5.6m0-5.6l-5.6 5.6M105.9 113.5l5.6 5.6m0-5.6l-5.6 5.6M38.4 100l5.6 5.6m0-5.6l-5.6 5.6M108.3 106l5.6 5.6m0-5.6l-5.6 5.6M48.2 111.7l5.6 5.6m0-5.6l-5.6 5.6M62.5 98.3l5.6 5.6m0-5.6l-5.6 5.6M74.8 111.1l5.6 5.6m0-5.6l-5.6 5.6M135.3 86l5.6 5.6m0-5.6l-5.6 5.6M55.4 96.9l5.6 5.6m0-5.6l-5.6 5.6M103.2 90.4l5.6 5.6m0-5.6l-5.6 5.6M109.7 85.5l5.6 5.6m0-5.6l-5.6 5.6M122.7 85.6l5.6 5.6m0-5.6l-5.6 5.6M58.6 100.7l5.6 5.6m0-5.6l-5.6 5.6M94.8 93.3l5.6 5.6m0-5.6l-5.6 5.6M84.8 91.7l5.6 5.6m0-5.6l-5.6 5.6M97.4 106.5l5.6 5.6m0-5.6l-5.6 5.6M62.6 112.1l5.6 5.6m0-5.6l-5.6 5.6M90.7 112.8l5.6 5.6m0-5.6l-5.6 5.6M87.9 110.6l5.6 5.6m0-5.6l-5.6 5.6M90.5 100.8l5.6 5.6m0-5.6l-5.6 5.6M95.7 89.6l5.6 5.6m0-5.6l-5.6 5.6M37.9 101.1l5.6 5.6m0-5.6l-5.6 5.6M88 99.4l5.6 5.6m0-5.6l-5.6 5.6M109.4 87.3l5.6 5.6m0-5.6l-5.6 5.6M77.9 104.4l5.6 5.6m0-5.6l-5.6 5.6M141.4 111.4l5.6 5.6m0-5.6l-5.6 5.6M106.3 94.2l5.6 5.6m0-5.6l-5.6 5.6M40.3 103.5l5.6 5.6m0-5.6l-5.6 5.6M111.2 84.1l5.6 5.6m0-5.6l-5.6 5.6M73 91.6l5.6 5.6m0-5.6l-5.6 5.6M92.6 100.9l5.6 5.6m0-5.6l-5.6 5.6M134.5 113.2l5.6 5.6m0-5.6l-5.6 5.6M115.1 93.6l5.6 5.6m0-5.6l-5.6 5.6M73.9 94.3l5.6 5.6m0-5.6l-5.6 5.6M76.9 103.2l5.6 5.6m0-5.6l-5.6 5.6M94.2 92.6l5.6 5.6m0-5.6l-5.6 5.6M60.1 105.9l5.6 5.6m0-5.6l-5.6 5.6M83 100.4l5.6 5.6m0-5.6l-5.6 5.6M126.9 104.1l5.6 5.6m0-5.6l-5.6 5.6M127 100.3l5.6 5.6m0-5.6l-5.6 5.6M91.8 106.8l5.6 5.6m0-5.6l-5.6 5.6M92.1 87.4l5.6 5.6m0-5.6l-5.6 5.6M108.2 89l5.6 5.6m0-5.6l-5.6 5.6M73.1 107.3l5.6 5.6m0-5.6l-5.6 5.6M69.7 101.4l5.6 5.6m0-5.6l-5.6 5.6M106.1 89.7l5.6 5.6m0-5.6l-5.6 5.6M41.5 102.2l5.6 5.6m0-5.6l-5.6 5.6M133.2 94.9l5.6 5.6m0-5.6l-5.6 5.6M42.6 108.3l5.6 5.6m0-5.6l-5.6 5.6M37.9 106.5l5.6 5.6m0-5.6l-5.6 5.6M137.1 92.5l5.6 5.6m0-5.6l-5.6 5.6M108.6 89l5.6 5.6m0-5.6l-5.6 5.6M135.9 92.4l5.6 5.6m0-5.6l-5.6 5.6M104.1 94.9l5.6 5.6m0-5.6l-5.6 5.6M112.7 94.7l5.6 5.6m0-5.6l-5.6 5.6M111.1 107.2l5.6 5.6m0-5.6l-5.6 5.6M109.5 99.4l5.6 5.6m0-5.6l-5.6 5.6M119.9 110.8l5.6 5.6m0-5.6l-5.6 5.6M56.9 114.3l5.6 5.6m0-5.6l-5.6 5.6M121.2 83.2l5.6 5.6m0-5.6l-5.6 5.6M108.3 102.3l5.6 5.6m0-5.6l-5.6 5.6M126.4 86.9l5.6 5.6m0-5.6l-5.6 5.6M98.2 106.6l5.6 5.6m0-5.6l-5.6 5.6M70 105.2l5.6 5.6m0-5.6l-5.6 5.6M71.7 104.8l5.6 5.6m0-5.6l-5.6 5.6M106.8 84.8l5.6 5.6m0-5.6l-5.6 5.6M43.1 104.3l5.6 5.6m0-5.6l-5.6 5.6M41.5 110.6l5.6 5.6m0-5.6l-5.6 5.6M125.1 94.4l5.6 5.6m0-5.6l-5.6 5.6M136.8 98.3l5.6 5.6m0-5.6l-5.6 5.6M38.7 105.4l5.6 5.6m0-5.6l-5.6 5.6M101.4 86.1l5.6 5.6m0-5.6l-5.6 5.6M143.6 97.1l5.6 5.6m0-5.6l-5.6 5.6M81.9 112l5.6 5.6m0-5.6l-5.6 5.6M107.1 107.3l5.6 5.6m0-5.6l-5.6 5.6M53.7 114.5l5.6 5.6m0-5.6l-5.6 5.6M37.7 102.4l5.6 5.6m0-5.6l-5.6 5.6M50.4 96l5.6 5.6m0-5.6l-5.6 5.6M46.8 98.7l5.6 5.6m0-5.6l-5.6 5.6M51.2 114.3l5.6 5.6m0-5.6l-5.6 5.6M115.2 106.1l5.6 5.6m0-5.6l-5.6 5.6M116.8 107.9l5.6 5.6m0-5.6l-5.6 5.6M42.6 101.2l5.6 5.6m0-5.6l-5.6 5.6M114.6 86.1l5.6 5.6m0-5.6l-5.6 5.6M116.3 111.3l5.6 5.6m0-5.6l-5.6 5.6M105.4 92.1l5.6 5.6m0-5.6l-5.6 5.6M87.2 89.8l5.6 5.6m0-5.6l-5.6 5.6M64.8 93.8l5.6 5.6m0-5.6l-5.6 5.6M115 113.7l5.6 5.6m0-5.6l-5.6 5.6M38.8 102.8l5.6 5.6m0-5.6l-5.6 5.6M125.8 111.6l5.6 5.6m0-5.6l-5.6 5.6M70.9 97.9l5.6 5.6m0-5.6l-5.6 5.6M55.2 97.5l5.6 5.6m0-5.6l-5.6 5.6M89.9 112.7l5.6 5.6m0-5.6l-5.6 5.6M77.1 100.7l5.6 5.6m0-5.6l-5.6 5.6M84.8 97l5.6 5.6m0-5.6l-5.6 5.6M52.9 99l5.6 5.6m0-5.6l-5.6 5.6M76.6 99.1l5.6 5.6m0-5.6l-5.6 5.6M105.5 101.1l5.6 5.6m0-5.6l-5.6 5.6M79 95.2l5.6 5.6m0-5.6l-5.6 5.6M139.7 86.2l5.6 5.6m0-5.6l-5.6 5.6M98.7 105.6l5.6 5.6m0-5.6l-5.6 5.6M43.8 97.9l5.6 5.6m0-5.6l-5.6 5.6M113.5 87.2l5.6 5.6m0-5.6l-5.6 5.6M73.2 100.5l5.6 5.6m0-5.6l-5.6 5.6M143.2 84.5l5.6 5.6m0-5.6l-5.6 5.6M102.4 104.7l5.6 5.6m0-5.6l-5.6 5.6M83.7 91.8l5.6 5.6m0-5.6l-5.6 5.6M78.1 97.9l5.6 5.6m0-5.6l-5.6 5.6M102.5 87l5.6 5.6m0-5.6l-5.6 5.6M124.8 104.5l5.6 5.6m0-5.6l-5.6 5.6M37.4 105.6l5.6 5.6m0-5.6l-5.6 5.6M83 99.6l5.6 5.6m0-5.6l-5.6 5.6M125.7 83.5l5.6 5.6m0-5.6l-5.6 5.6M41.8 100.6l5.6 5.6m0-5.6l-5.6 5.6M125.2 84.3l5.6 5.6m0-5.6l-5.6 5.6M99.2 106.1l5.6 5.6m0-5.6l-5.6 5.6M129.5 85.8l5.6 5.6m0-5.6l-5.6 5.6M111.5 84.7l5.6 5.6m0-5.6l-5.6 5.6M74.8 112.7l5.6 5.6m0-5.6l-5.6 5.6M97.2 91.2l5.6 5.6m0-5.6l-5.6 5.6M58.9 99.5l5.6 5.6m0-5.6l-5.6 5.6M138.3 105.9l5.6 5.6m0-5.6l-5.6 5.6M103 93.5l5.6 5.6m0-5.6l-5.6 5.6M87.7 108.9l5.6 5.6m0-5.6l-5.6 5.6M64.8 98.4l5.6 5.6m0-5.6l-5.6 5.6M123.1 98.5l5.6 5.6m0-5.6l-5.6 5.6M46.7 99.8l5.6 5.6m0-5.6l-5.6 5.6M120.9 106.3l5.6 5.6m0-5.6l-5.6 5.6M100.1 87.6l5.6 5.6m0-5.6l-5.6 5.6M133.2 95.7l5.6 5.6m0-5.6l-5.6 5.6M88.9 98.6l5.6 5.6m0-5.6l-5.6 5.6M57.7 111.1l5.6 5.6m0-5.6l-5.6 5.6M56.8 100.6l5.6 5.6m0-5.6l-5.6 5.6M76.6 101l5.6 5.6m0-5.6l-5.6 5.6M80.9 101.6l5.6 5.6m0-5.6l-5.6 5.6M53.4 113.9l5.6 5.6m0-5.6l-5.6 5.6M145.3 100.7l5.6 5.6m0-5.6l-5.6 5.6M48.7 102.6l5.6 5.6m0-5.6l-5.6 5.6M122.6 108.9l5.6 5.6m0-5.6l-5.6 5.6M102 103.7l5.6 5.6m0-5.6l-5.6 5.6M93.5 113.7l5.6 5.6m0-5.6l-5.6 5.6M40.8 98.7l5.6 5.6m0-5.6l-5.6 5.6M131.1 97.1l5.6 5.6m0-5.6l-5.6 5.6M98.7 106.5l5.6 5.6m0-5.6l-5.6 5.6M121.7 99.8l5.6 5.6m0-5.6l-5.6 5.6M139.9 86.8l5.6 5.6m0-5.6l-5.6 5.6M126 80.8l5.6 5.6m0-5.6l-5.6 5.6M64.7 114.2l5.6 5.6m0-5.6l-5.6 5.6M59 111.4l5.6 5.6m0-5.6l-5.6 5.6M46.3 112.9l5.6 5.6m0-5.6l-5.6 5.6M97.7 88.9l5.6 5.6m0-5.6l-5.6 5.6M86.9 89.5l5.6 5.6m0-5.6l-5.6 5.6M135.9 112.1l5.6 5.6m0-5.6l-5.6 5.6M102.1 102.1l5.6 5.6m0-5.6l-5.6 5.6M50.2 96.2l5.6 5.6m0-5.6l-5.6 5.6M65.1 102.5l5.6 5.6m0-5.6l-5.6 5.6M106.7 84.2l5.6 5.6m0-5.6l-5.6 5.6M109.8 101.4l5.6 5.6m0-5.6l-5.6 5.6M85.8 110.3l5.6 5.6m0-5.6l-5.6 5.6M141.9 78.8l5.6 5.6m0-5.6l-5.6 5.6M61.2 114.3l5.6 5.6m0-5.6l-5.6 5.6M64.9 107.3l5.6 5.6m0-5.6l-5.6 5.6M135.1 81.9l5.6 5.6m0-5.6l-5.6 5.6M128 112.8l5.6 5.6m0-5.6l-5.6 5.6M122.5 90l5.6 5.6m0-5.6l-5.6 5.6M107.3 83.1l5.6 5.6m0-5.6l-5.6 5.6M43.2 110.7l5.6 5.6m0-5.6l-5.6 5.6M119.1 82.7l5.6 5.6m0-5.6l-5.6 5.6M110.6 104.4l5.6 5.6m0-5.6l-5.6 5.6M101.3 91.4l5.6 5.6m0-5.6l-5.6 5.6M48.6 108.4l5.6 5.6m0-5.6l-5.6 5.6M65.1 112.3l5.6 5.6m0-5.6l-5.6 5.6M89.4 109.8l5.6 5.6m0-5.6l-5.6 5.6M63.1 112l5.6 5.6m0-5.6l-5.6 5.6M110.7 113.6l5.6 5.6m0-5.6l-5.6 5.6M115 107.7l5.6 5.6m0-5.6l-5.6 5.6M41.1 99.4l5.6 5.6m0-5.6l-5.6 5.6M61.1 95.2l5.6 5.6m0-5.6l-5.6 5.6M131.2 82.7l5.6 5.6m0-5.6l-5.6 5.6M52.4 106l5.6 5.6m0-5.6l-5.6 5.6M47.7 97.3l5.6 5.6m0-5.6l-5.6 5.6M128.5 92.3l5.6 5.6m0-5.6l-5.6 5.6M86.3 105.6l5.6 5.6m0-5.6l-5.6 5.6M126.5 97.7l5.6 5.6m0-5.6l-5.6 5.6M105.3 109.6l5.6 5.6m0-5.6l-5.6 5.6M61.2 113.9l5.6 5.6m0-5.6l-5.6 5.6M114.6 96l5.6 5.6m0-5.6l-5.6 5.6M52.9 97.6l5.6 5.6m0-5.6l-5.6 5.6M66.1 105.8l5.6 5.6m0-5.6l-5.6 5.6M54.1 109.5l5.6 5.6m0-5.6l-5.6 5.6M128.3 102.6l5.6 5.6m0-5.6l-5.6 5.6M55.4 105l5.6 5.6m0-5.6l-5.6 5.6M71.7 93.8l5.6 5.6m0-5.6l-5.6 5.6M49.6 95.9l5.6 5.6m0-5.6l-5.6 5.6M43.4 99.2l5.6 5.6m0-5.6l-5.6 5.6M109.7 107.2l5.6 5.6m0-5.6l-5.6 5.6M89 106.7l5.6 5.6m0-5.6l-5.6 5.6M65.2 110.6l5.6 5.6m0-5.6l-5.6 5.6M76.7 90.6l5.6 5.6m0-5.6l-5.6 5.6M145.4 81.1l5.6 5.6m0-5.6l-5.6 5.6M47.8 108.9l5.6 5.6m0-5.6l-5.6 5.6M134.4 112.4l5.6 5.6m0-5.6l-5.6 5.6M116 104.4l5.6 5.6m0-5.6l-5.6 5.6M143.3 113.4l5.6 5.6m0-5.6l-5.6 5.6M124.7 102.5l5.6 5.6m0-5.6l-5.6 5.6M52.4 114.7l5.6 5.6m0-5.6l-5.6 5.6M127.5 95.9l5.6 5.6m0-5.6l-5.6 5.6M57.4 106.1l5.6 5.6m0-5.6l-5.6 5.6M136.1 106.5l5.6 5.6m0-5.6l-5.6 5.6M99.2 110.1l5.6 5.6m0-5.6l-5.6 5.6M56.7 99.2l5.6 5.6m0-5.6l-5.6 5.6M114.4 107.6l5.6 5.6m0-5.6l-5.6 5.6M45.8 112.2l5.6 5.6m0-5.6l-5.6 5.6M103.2 99l5.6 5.6m0-5.6l-5.6 5.6M66.9 110.4l5.6 5.6m0-5.6l-5.6 5.6M103.6 92.5l5.6 5.6m0-5.6l-5.6 5.6M125.2 94.1l5.6 5.6m0-5.6l-5.6 5.6M59.1 113.8l5.6 5.6m0-5.6l-5.6 5.6M116.7 100.6l5.6 5.6m0-5.6l-5.6 5.6M115.5 112.3l5.6 5.6m0-5.6l-5.6 5.6M125.1 102.7l5.6 5.6m0-5.6l-5.6 5.6M128.5 83.9l5.6 5.6m0-5.6l-5.6 5.6M90.7 113.9l5.6 5.6m0-5.6l-5.6 5.6M135.9 97.3l5.6 5.6m0-5.6l-5.6 5.6M131.8 105l5.6 5.6m0-5.6l-5.6 5.6M57.4 97.9l5.6 5.6m0-5.6l-5.6 5.6M77 110.7l5.6 5.6m0-5.6l-5.6 5.6M77.5 100.2l5.6 5.6m0-5.6l-5.6 5.6M37.7 103.7l5.6 5.6m0-5.6l-5.6 5.6M85.5 101.1l5.6 5.6m0-5.6l-5.6 5.6M50.3 100.9l5.6 5.6m0-5.6l-5.6 5.6M125.8 84.3l5.6 5.6m0-5.6l-5.6 5.6M72 98.2l5.6 5.6m0-5.6l-5.6 5.6M78.6 96.2l5.6 5.6m0-5.6l-5.6 5.6M43.8 99.4l5.6 5.6m0-5.6l-5.6 5.6M140.7 96.5l5.6 5.6m0-5.6l-5.6 5.6M92.9 99.5l5.6 5.6m0-5.6l-5.6 5.6M95.5 113.6l5.6 5.6m0-5.6l-5.6 5.6M142.1 106.1l5.6 5.6m0-5.6l-5.6 5.6M57 113l5.6 5.6m0-5.6l-5.6 5.6M64.4 97.1l5.6 5.6m0-5.6l-5.6 5.6M40.5 109.9l5.6 5.6m0-5.6l-5.6 5.6M113 107.7l5.6 5.6m0-5.6l-5.6 5.6M39.1 103.4l5.6 5.6m0-5.6l-5.6 5.6M99.7 98.7l5.6 5.6m0-5.6l-5.6 5.6M113.4 110.7l5.6 5.6m0-5.6l-5.6 5.6M131.5 88.8l5.6 5.6m0-5.6l-5.6 5.6M42.1 110.9l5.6 5.6m0-5.6l-5.6 5.6M90.7 100.7l5.6 5.6m0-5.6l-5.6 5.6M67.5 112.2l5.6 5.6m0-5.6l-5.6 5.6M81.2 111.2l5.6 5.6m0-5.6l-5.6 5.6M101.4 88.4l5.6 5.6m0-5.6l-5.6 5.6M53.2 103.5l5.6 5.6m0-5.6l-5.6 5.6M118.2 108.7l5.6 5.6m0-5.6l-5.6 5.6M126.8 81.6l5.6 5.6m0-5.6l-5.6 5.6M79.4 104.2l5.6 5.6m0-5.6l-5.6 5.6M128.3 95.9l5.6 5.6m0-5.6l-5.6 5.6M80.1 91.2l5.6 5.6m0-5.6l-5.6 5.6M121.5 102.7l5.6 5.6m0-5.6l-5.6 5.6M63.3 107.8l5.6 5.6m0-5.6l-5.6 5.6M84.4 89.2l5.6 5.6m0-5.6l-5.6 5.6M124.4 82.8l5.6 5.6m0-5.6l-5.6 5.6M125.6 84.9l5.6 5.6m0-5.6l-5.6 5.6M43 105l5.6 5.6m0-5.6l-5.6 5.6M141.1 80.8l5.6 5.6m0-5.6l-5.6 5.6M64.2 105.8l5.6 5.6m0-5.6l-5.6 5.6M105.8 102.7l5.6 5.6m0-5.6l-5.6 5.6M94.8 112.3l5.6 5.6m0-5.6l-5.6 5.6M84.2 101.5l5.6 5.6m0-5.6l-5.6 5.6M39.5 108.4l5.6 5.6m0-5.6l-5.6 5.6M142.4 86.4l5.6 5.6m0-5.6l-5.6 5.6M138.8 91.6l5.6 5.6m0-5.6l-5.6 5.6M125 83.7l5.6 5.6m0-5.6l-5.6 5.6M133.1 113.3l5.6 5.6m0-5.6l-5.6 5.6M106.8 105.6l5.6 5.6m0-5.6l-5.6 5.6M110.8 105.2l5.6 5.6m0-5.6l-5.6 5.6M96 87.8l5.6 5.6m0-5.6l-5.6 5.6M104.6 106.3l5.6 5.6m0-5.6l-5.6 5.6M93.6 102.1l5.6 5.6m0-5.6l-5.6 5.6M140.3 103.9l5.6 5.6m0-5.6l-5.6 5.6M70.3 99.9l5.6 5.6m0-5.6l-5.6 5.6M50.3 103.2l5.6 5.6m0-5.6l-5.6 5.6M140.9 95.8l5.6 5.6m0-5.6l-5.6 5.6M66.3 104.6l5.6 5.6m0-5.6l-5.6 5.6M95.1 110l5.6 5.6m0-5.6l-5.6 5.6M50.6 112.1l5.6 5.6m0-5.6l-5.6 5.6M69 105.6l5.6 5.6m0-5.6l-5.6 5.6M68.5 109.4l5.6 5.6m0-5.6l-5.6 5.6M46.7 104.3l5.6 5.6m0-5.6l-5.6 5.6M128.3 92.9l5.6 5.6m0-5.6l-5.6 5.6M99 95.1l5.6 5.6m0-5.6l-5.6 5.6M59 100.3l5.6 5.6m0-5.6l-5.6 5.6M87.2 99.9l5.6 5.6m0-5.6l-5.6 5.6M103.7 99.7l5.6 5.6m0-5.6l-5.6 5.6M70.9 109.3l5.6 5.6m0-5.6l-5.6 5.6M61.2 104.2l5.6 5.6m0-5.6l-5.6 5.6M78.8 100.2l5.6 5.6m0-5.6l-5.6 5.6M38.5 105.6l5.6 5.6m0-5.6l-5.6 5.6M130.7 106l5.6 5.6m0-5.6l-5.6 5.6M97.6 99.9l5.6 5.6m0-5.6l-5.6 5.6M68.1 92.5l5.6 5.6m0-5.6l-5.6 5.6M69.2 97.2l5.6 5.6m0-5.6l-5.6 5.6M54.4 113.6l5.6 5.6m0-5.6l-5.6 5.6M131.7 98.7l5.6 5.6m0-5.6l-5.6 5.6M43.9 107l5.6 5.6m0-5.6l-5.6 5.6M84.9 95.5l5.6 5.6m0-5.6l-5.6 5.6M49 110.3l5.6 5.6m0-5.6l-5.6 5.6M141.2 87.8l5.6 5.6m0-5.6l-5.6 5.6M54 108.1l5.6 5.6m0-5.6l-5.6 5.6M75.4 98.5l5.6 5.6m0-5.6l-5.6 5.6M104 88.1l5.6 5.6m0-5.6l-5.6 5.6M126.3 96.3l5.6 5.6m0-5.6l-5.6 5.6M117.3 89.5l5.6 5.6m0-5.6l-5.6 5.6M119.6 98.2l5.6 5.6m0-5.6l-5.6 5.6M122.3 90.1l5.6 5.6m0-5.6l-5.6 5.6M136.4 109.8l5.6 5.6m0-5.6l-5.6 5.6M131.6 114.4l5.6 5.6m0-5.6l-5.6 5.6M120.2 94.5l5.6 5.6m0-5.6l-5.6 5.6M91.2 87.9l5.6 5.6m0-5.6l-5.6 5.6M99.2 101.9l5.6 5.6m0-5.6l-5.6 5.6M122.2 84.5l5.6 5.6m0-5.6l-5.6 5.6M103.1 102.5l5.6 5.6m0-5.6l-5.6 5.6M86.3 102.5l5.6 5.6m0-5.6l-5.6 5.6M115.6 104.5l5.6 5.6m0-5.6l-5.6 5.6M79.6 100.9l5.6 5.6m0-5.6l-5.6 5.6M78.9 106.7l5.6 5.6m0-5.6l-5.6 5.6M122.6 85.3l5.6 5.6m0-5.6l-5.6 5.6M91.4 102.1l5.6 5.6m0-5.6l-5.6 5.6M57.2 108.8l5.6 5.6m0-5.6l-5.6 5.6M52.9 103.4l5.6 5.6m0-5.6l-5.6 5.6M100.3 111.5l5.6 5.6m0-5.6l-5.6 5.6M137 102.7l5.6 5.6m0-5.6l-5.6 5.6M128.7 84.8l5.6 5.6m0-5.6l-5.6 5.6M141.2 106.8l5.6 5.6m0-5.6l-5.6 5.6M83.5 91.3l5.6 5.6m0-5.6l-5.6 5.6M38.4 108.2l5.6 5.6m0-5.6l-5.6 5.6M98.5 99.6l5.6 5.6m0-5.6l-5.6 5.6M137 86.6l5.6 5.6m0-5.6l-5.6 5.6M95.6 85.8l5.6 5.6m0-5.6l-5.6 5.6M93.3 99.8l5.6 5.6m0-5.6l-5.6 5.6M111.5 101.5l5.6 5.6m0-5.6l-5.6 5.6M76 100.4l5.6 5.6m0-5.6l-5.6 5.6M75.3 92l5.6 5.6m0-5.6l-5.6 5.6M110.6 97.2l5.6 5.6m0-5.6l-5.6 5.6M47.9 107.4l5.6 5.6m0-5.6l-5.6 5.6M80.7 100.6l5.6 5.6m0-5.6l-5.6 5.6M99.5 88.3l5.6 5.6m0-5.6l-5.6 5.6M141.8 96.8l5.6 5.6m0-5.6l-5.6 5.6M84.9 98.3l5.6 5.6m0-5.6l-5.6 5.6M145.2 101.8l5.6 5.6m0-5.6l-5.6 5.6M94.7 91.2l5.6 5.6m0-5.6l-5.6 5.6M55.7 108.5l5.6 5.6m0-5.6l-5.6 5.6M143.3 84.7l5.6 5.6m0-5.6l-5.6 5.6M92.8 111.2l5.6 5.6m0-5.6l-5.6 5.6M134.2 89.6l5.6 5.6m0-5.6l-5.6 5.6M126.2 79.9l5.6 5.6m0-5.6l-5.6 5.6M133.5 99.3l5.6 5.6m0-5.6l-5.6 5.6M54.2 109.1l5.6 5.6m0-5.6l-5.6 5.6M92.7 100.3l5.6 5.6m0-5.6l-5.6 5.6M57.6 111.3l5.6 5.6m0-5.6l-5.6 5.6M105.5 95.3l5.6 5.6m0-5.6l-5.6 5.6M75.5 90.8l5.6 5.6m0-5.6l-5.6 5.6M106.2 112.6l5.6 5.6m0-5.6l-5.6 5.6M81.8 94.7l5.6 5.6m0-5.6l-5.6 5.6M70.5 98.9l5.6 5.6m0-5.6l-5.6 5.6M37.6 105.4l5.6 5.6m0-5.6l-5.6 5.6M128.5 93.8l5.6 5.6m0-5.6l-5.6 5.6M109.7 107.7l5.6 5.6m0-5.6l-5.6 5.6M91.2 99.2l5.6 5.6m0-5.6l-5.6 5.6M66.1 100.6l5.6 5.6m0-5.6l-5.6 5.6M94.8 86l5.6 5.6m0-5.6l-5.6 5.6M99.5 102l5.6 5.6m0-5.6l-5.6 5.6M50.4 111.6l5.6 5.6m0-5.6l-5.6 5.6M119.6 110.6l5.6 5.6m0-5.6l-5.6 5.6M48.1 111.1l5.6 5.6m0-5.6l-5.6 5.6M93.9 91.2l5.6 5.6m0-5.6l-5.6 5.6M103.7 89.5l5.6 5.6m0-5.6l-5.6 5.6M43.9 113l5.6 5.6m0-5.6l-5.6 5.6M120.8 103.3l5.6 5.6m0-5.6l-5.6 5.6M114.8 102.5l5.6 5.6m0-5.6l-5.6 5.6M55.6 109.6l5.6 5.6m0-5.6l-5.6 5.6M48 97.7l5.6 5.6m0-5.6l-5.6 5.6M100.3 103.8l5.6 5.6m0-5.6l-5.6 5.6M86 104.4l5.6 5.6m0-5.6l-5.6 5.6M43.1 99.3l5.6 5.6m0-5.6l-5.6 5.6M100.4 85.7l5.6 5.6m0-5.6l-5.6 5.6M84.9 98.4l5.6 5.6m0-5.6l-5.6 5.6M64.2 114.1l5.6 5.6m0-5.6l-5.6 5.6M138.2 83.7l5.6 5.6m0-5.6l-5.6 5.6M71.3 93.9l5.6 5.6m0-5.6l-5.6 5.6M125.7 103.8l5.6 5.6m0-5.6l-5.6 5.6M102.6 85.1l5.6 5.6m0-5.6l-5.6 5.6M90.9 88.4l5.6 5.6m0-5.6l-5.6 5.6M63.5 106.6l5.6 5.6m0-5.6l-5.6 5.6M115.1 106.8l5.6 5.6m0-5.6l-5.6 5.6M70.7 94.6l5.6 5.6m0-5.6l-5.6 5.6M89.7 92.9l5.6 5.6m0-5.6l-5.6 5.6M63.6 111.3l5.6 5.6m0-5.6l-5.6 5.6M76.1 110.2l5.6 5.6m0-5.6l-5.6 5.6M142.6 103.7l5.6 5.6m0-5.6l-5.6 5.6M98.1 110.8l5.6 5.6m0-5.6l-5.6 5.6M95.1 103.3l5.6 5.6m0-5.6l-5.6 5.6M80.9 113l5.6 5.6m0-5.6l-5.6 5.6M50.6 98.7l5.6 5.6m0-5.6l-5.6 5.6M75.3 108.9l5.6 5.6m0-5.6l-5.6 5.6M57.9 109.2l5.6 5.6m0-5.6l-5.6 5.6M62.9 114.3l5.6 5.6m0-5.6l-5.6 5.6M109.2 103.1l5.6 5.6m0-5.6l-5.6 5.6M54.1 100.8l5.6 5.6m0-5.6l-5.6 5.6M47.2 109.2l5.6 5.6m0-5.6l-5.6 5.6M127.8 109.9l5.6 5.6m0-5.6l-5.6 5.6M85.3 92.8l5.6 5.6m0-5.6l-5.6 5.6M124.5 108.8l5.6 5.6m0-5.6l-5.6 5.6M75.5 97.4l5.6 5.6m0-5.6l-5.6 5.6M78.1 91.2l5.6 5.6m0-5.6l-5.6 5.6M59.8 95.1l5.6 5.6m0-5.6l-5.6 5.6M92 108l5.6 5.6m0-5.6l-5.6 5.6M86.3 111l5.6 5.6m0-5.6l-5.6 5.6M113.8 105.6l5.6 5.6m0-5.6l-5.6 5.6M134.8 93.3l5.6 5.6m0-5.6l-5.6 5.6M77.1 108.7l5.6 5.6m0-5.6l-5.6 5.6M103.2 107.6l5.6 5.6m0-5.6l-5.6 5.6M131.8 110.1l5.6 5.6m0-5.6l-5.6 5.6M92.8 99.2l5.6 5.6m0-5.6l-5.6 5.6M66.5 97.7l5.6 5.6m0-5.6l-5.6 5.6M78.9 98.4l5.6 5.6m0-5.6l-5.6 5.6M98.8 105.1l5.6 5.6m0-5.6l-5.6 5.6M79.5 112.5l5.6 5.6m0-5.6l-5.6 5.6M56.4 97.6l5.6 5.6m0-5.6l-5.6 5.6M72 99.3l5.6 5.6m0-5.6l-5.6 5.6M49 103.9l5.6 5.6m0-5.6l-5.6 5.6M76.4 102.6l5.6 5.6m0-5.6l-5.6 5.6M69.4 113.4l5.6 5.6m0-5.6l-5.6 5.6M71 109.6l5.6 5.6m0-5.6l-5.6 5.6M50.9 100.8l5.6 5.6m0-5.6l-5.6 5.6M67.8 105.8l5.6 5.6m0-5.6l-5.6 5.6M135.8 86.6l5.6 5.6m0-5.6l-5.6 5.6M132.9 83.5l5.6 5.6m0-5.6l-5.6 5.6M51.5 109.3l5.6 5.6m0-5.6l-5.6 5.6M40.4 102.7l5.6 5.6m0-5.6l-5.6 5.6M109.2 102.8l5.6 5.6m0-5.6l-5.6 5.6M81.9 97.9l5.6 5.6m0-5.6l-5.6 5.6M113 106l5.6 5.6m0-5.6l-5.6 5.6M129 102l5.6 5.6m0-5.6l-5.6 5.6M105.4 108.4l5.6 5.6m0-5.6l-5.6 5.6M49.7 97.1l5.6 5.6m0-5.6l-5.6 5.6M116.8 90.5l5.6 5.6m0-5.6l-5.6 5.6M41.6 111.8l5.6 5.6m0-5.6l-5.6 5.6M54.8 110.9l5.6 5.6m0-5.6l-5.6 5.6M70.1 106.1l5.6 5.6m0-5.6l-5.6 5.6M41.5 107.9l5.6 5.6m0-5.6l-5.6 5.6M106.4 108.3l5.6 5.6m0-5.6l-5.6 5.6M128.2 94.3l5.6 5.6m0-5.6l-5.6 5.6M114.9 105.7l5.6 5.6m0-5.6l-5.6 5.6M84.4 96.9l5.6 5.6m0-5.6l-5.6 5.6M75.1 114.7l5.6 5.6m0-5.6l-5.6 5.6M127.7 87.1l5.6 5.6m0-5.6l-5.6 5.6M68.3 114l5.6 5.6m0-5.6l-5.6 5.6M129.8 92.9l5.6 5.6m0-5.6l-5.6 5.6M42.3 109.1l5.6 5.6m0-5.6l-5.6 5.6M49.3 99.5l5.6 5.6m0-5.6l-5.6 5.6M60 95.8l5.6 5.6m0-5.6l-5.6 5.6M118.5 111.3l5.6 5.6m0-5.6l-5.6 5.6M112.5 101.3l5.6 5.6m0-5.6l-5.6 5.6M118.3 86.5l5.6 5.6m0-5.6l-5.6 5.6M67.7 112.9l5.6 5.6m0-5.6l-5.6 5.6M139.8 99.1l5.6 5.6m0-5.6l-5.6 5.6M138.1 89.5l5.6 5.6m0-5.6l-5.6 5.6M117.3 86.6l5.6 5.6m0-5.6l-5.6 5.6M105.3 100l5.6 5.6m0-5.6l-5.6 5.6M43.1 102.3l5.6 5.6m0-5.6l-5.6 5.6M83.7 101.4l5.6 5.6m0-5.6l-5.6 5.6M137.9 109.7l5.6 5.6m0-5.6l-5.6 5.6M119.8 112.7l5.6 5.6m0-5.6l-5.6 5.6M113.4 87.9l5.6 5.6m0-5.6l-5.6 5.6M65.5 102.9l5.6 5.6m0-5.6l-5.6 5.6M142.3 91.4l5.6 5.6m0-5.6l-5.6 5.6M96.2 107.1l5.6 5.6m0-5.6l-5.6 5.6M43.6 107.5l5.6 5.6m0-5.6l-5.6 5.6M81.8 109.5l5.6 5.6m0-5.6l-5.6 5.6M70.9 111.7l5.6 5.6m0-5.6l-5.6 5.6M113.9 92.2l5.6 5.6m0-5.6l-5.6 5.6M63 109.8l5.6 5.6m0-5.6l-5.6 5.6M93.1 101.9l5.6 5.6m0-5.6l-5.6 5.6M138.7 101.7l5.6 5.6m0-5.6l-5.6 5.6M69.7 94.6l5.6 5.6m0-5.6l-5.6 5.6M52.6 103.7l5.6 5.6m0-5.6l-5.6 5.6M73.4 95.5l5.6 5.6m0-5.6l-5.6 5.6M96.7 92.3l5.6 5.6m0-5.6l-5.6 5.6M55.6 101.4l5.6 5.6m0-5.6l-5.6 5.6M102.1 100.2l5.6 5.6m0-5.6l-5.6 5.6M120.3 86.2l5.6 5.6m0-5.6l-5.6 5.6M49.6 109l5.6 5.6m0-5.6l-5.6 5.6M76.3 109.7l5.6 5.6m0-5.6l-5.6 5.6M43.7 108.7l5.6 5.6m0-5.6l-5.6 5.6M58.6 100.5l5.6 5.6m0-5.6l-5.6 5.6M85.8 111.5l5.6 5.6m0-5.6l-5.6 5.6M72.4 103.8l5.6 5.6m0-5.6l-5.6 5.6M76.6 110.6l5.6 5.6m0-5.6l-5.6 5.6M45 116.5l5.6 5.6m0-5.6l-5.6 5.6M144.8 84.1l5.6 5.6m0-5.6l-5.6 5.6M46.3 97.3l5.6 5.6m0-5.6l-5.6 5.6M143.5 93.2l5.6 5.6m0-5.6l-5.6 5.6M49 103.8l5.6 5.6m0-5.6l-5.6 5.6M84.3 112.1l5.6 5.6m0-5.6l-5.6 5.6M96.1 120.1l5.6 5.6m0-5.6l-5.6 5.6M136.9 89.6l5.6 5.6m0-5.6l-5.6 5.6M105.3 78l5.6 5.6m0-5.6l-5.6 5.6M108 109l5.6 5.6m0-5.6l-5.6 5.6M63.9 115.1l5.6 5.6m0-5.6l-5.6 5.6M40.2 99.1l5.6 5.6m0-5.6l-5.6 5.6M128.3 106.5l5.6 5.6m0-5.6l-5.6 5.6M57.3 97.1l5.6 5.6m0-5.6l-5.6 5.6M128.9 76.7l5.6 5.6m0-5.6l-5.6 5.6M55.5 92.2l5.6 5.6m0-5.6l-5.6 5.6M127.3 85.5l5.6 5.6m0-5.6l-5.6 5.6M72.6 112.8l5.6 5.6m0-5.6l-5.6 5.6M126.7 105.4l5.6 5.6m0-5.6l-5.6 5.6M77.2 96.8l5.6 5.6m0-5.6l-5.6 5.6M77.3 84.8l5.6 5.6m0-5.6l-5.6 5.6M63.2 118.9l5.6 5.6m0-5.6l-5.6 5.6M98.7 92.3l5.6 5.6m0-5.6l-5.6 5.6M126.1 87.3l5.6 5.6m0-5.6l-5.6 5.6M135.4 75.4l5.6 5.6m0-5.6l-5.6 5.6M90.8 98.4l5.6 5.6m0-5.6l-5.6 5.6M54.3 109.8l5.6 5.6m0-5.6l-5.6 5.6M100.2 116.8l5.6 5.6m0-5.6l-5.6 5.6M111.8 112.9l5.6 5.6m0-5.6l-5.6 5.6M85.3 78l5.6 5.6m0-5.6l-5.6 5.6M46.9 117.3l5.6 5.6m0-5.6l-5.6 5.6M84.9 112.1l5.6 5.6m0-5.6l-5.6 5.6M115.6 120.3l5.6 5.6m0-5.6l-5.6 5.6M128.4 80.1l5.6 5.6m0-5.6l-5.6 5.6M122.5 100.6l5.6 5.6m0-5.6l-5.6 5.6M67.9 94l5.6 5.6m0-5.6l-5.6 5.6M93 101.7l5.6 5.6m0-5.6l-5.6 5.6M73.9 102.1l5.6 5.6m0-5.6l-5.6 5.6M109.4 82.7l5.6 5.6m0-5.6l-5.6 5.6M135.2 112.6l5.6 5.6m0-5.6l-5.6 5.6M69.3 102.6l5.6 5.6m0-5.6l-5.6 5.6M98.3 104.8l5.6 5.6m0-5.6l-5.6 5.6M58.4 117.3l5.6 5.6m0-5.6l-5.6 5.6M72.3 101.4l5.6 5.6m0-5.6l-5.6 5.6M142.5 76.6l5.6 5.6m0-5.6l-5.6 5.6M131.1 74.3l5.6 5.6m0-5.6l-5.6 5.6M141.5 90.6l5.6 5.6m0-5.6l-5.6 5.6M125.2 117.6l5.6 5.6m0-5.6l-5.6 5.6M110.6 92.6l5.6 5.6m0-5.6l-5.6 5.6M69.4 97.4l5.6 5.6m0-5.6l-5.6 5.6M140.5 97.3l5.6 5.6m0-5.6l-5.6 5.6M107.4 106.8l5.6 5.6m0-5.6l-5.6 5.6M74.4 83.3l5.6 5.6m0-5.6l-5.6 5.6M40.2 109.3l5.6 5.6m0-5.6l-5.6 5.6M110.8 100l5.6 5.6m0-5.6l-5.6 5.6M46.4 98.9l5.6 5.6m0-5.6l-5.6 5.6M77.5 95.5l5.6 5.6m0-5.6l-5.6 5.6M82.4 97.4l5.6 5.6m0-5.6l-5.6 5.6M98.5 102.7l5.6 5.6m0-5.6l-5.6 5.6M49.6 114.3l5.6 5.6m0-5.6l-5.6 5.6M133.7 94.4l5.6 5.6m0-5.6l-5.6 5.6M49.4 91l5.6 5.6m0-5.6l-5.6 5.6M64.7 116.7l5.6 5.6m0-5.6l-5.6 5.6M94.8 109.2l5.6 5.6m0-5.6l-5.6 5.6M90.3 96l5.6 5.6m0-5.6l-5.6 5.6M61.8 98.7l5.6 5.6m0-5.6l-5.6 5.6M49.5 102.9l5.6 5.6m0-5.6l-5.6 5.6M101 116.8l5.6 5.6m0-5.6l-5.6 5.6M81.5 117.2l5.6 5.6m0-5.6l-5.6 5.6M84.9 82.7l5.6 5.6m0-5.6l-5.6 5.6M96.9 88.5l5.6 5.6m0-5.6l-5.6 5.6M119.3 115.1l5.6 5.6m0-5.6l-5.6 5.6M144.6 85.5l5.6 5.6m0-5.6l-5.6 5.6M48.3 92.7l5.6 5.6m0-5.6l-5.6 5.6M79.7 113l5.6 5.6m0-5.6l-5.6 5.6M141.3 93.3l5.6 5.6m0-5.6l-5.6 5.6M121.3 114.1l5.6 5.6m0-5.6l-5.6 5.6M121.4 117.8l5.6 5.6m0-5.6l-5.6 5.6M62.9 106.2l5.6 5.6m0-5.6l-5.6 5.6M38.8 102.6l5.6 5.6m0-5.6l-5.6 5.6M60.3 109.2l5.6 5.6m0-5.6l-5.6 5.6M113.9 100.8l5.6 5.6m0-5.6l-5.6 5.6M133.6 90.9l5.6 5.6m0-5.6l-5.6 5.6M131.8 93.7l5.6 5.6m0-5.6l-5.6 5.6M136.7 78.8l5.6 5.6m0-5.6l-5.6 5.6M55.4 93.6l5.6 5.6m0-5.6l-5.6 5.6M74.2 88.4l5.6 5.6m0-5.6l-5.6 5.6M111 82.6l5.6 5.6m0-5.6l-5.6 5.6M50.5 107.6l5.6 5.6m0-5.6l-5.6 5.6M117.2 76.6l5.6 5.6m0-5.6l-5.6 5.6M115.5 118.4l5.6 5.6m0-5.6l-5.6 5.6M102.7 115.9l5.6 5.6m0-5.6l-5.6 5.6M96.7 84.6l5.6 5.6m0-5.6l-5.6 5.6M49.5 88.8l5.6 5.6m0-5.6l-5.6 5.6M110.4 108.8l5.6 5.6m0-5.6l-5.6 5.6M58.1 104l5.6 5.6m0-5.6l-5.6 5.6M128.1 93l5.6 5.6m0-5.6l-5.6 5.6M49.5 119.7l5.6 5.6m0-5.6l-5.6 5.6M49.2 93.1l5.6 5.6m0-5.6l-5.6 5.6M57.3 100.1l5.6 5.6m0-5.6l-5.6 5.6M68.7 92.8l5.6 5.6m0-5.6l-5.6 5.6M78.5 114.2l5.6 5.6m0-5.6l-5.6 5.6M132.1 94.9l5.6 5.6m0-5.6l-5.6 5.6M112 83.4l5.6 5.6m0-5.6l-5.6 5.6M140.1 119.8l5.6 5.6m0-5.6l-5.6 5.6M74.3 114.1l5.6 5.6m0-5.6l-5.6 5.6M91.6 81.8l5.6 5.6m0-5.6l-5.6 5.6M124 118.8l5.6 5.6m0-5.6l-5.6 5.6M57 90.6l5.6 5.6m0-5.6l-5.6 5.6M110.9 102.5l5.6 5.6m0-5.6l-5.6 5.6M88.8 113.5l5.6 5.6m0-5.6l-5.6 5.6M128.9 101.9l5.6 5.6m0-5.6l-5.6 5.6M131.9 91.5l5.6 5.6m0-5.6l-5.6 5.6M45.4 108.2l5.6 5.6m0-5.6l-5.6 5.6M60.7 86.8l5.6 5.6m0-5.6l-5.6 5.6M101.1 118.5l5.6 5.6m0-5.6l-5.6 5.6M55.6 107.4l5.6 5.6m0-5.6l-5.6 5.6M87.9 95.1l5.6 5.6m0-5.6l-5.6 5.6M79.3 105.1l5.6 5.6m0-5.6l-5.6 5.6M37.8 103l5.6 5.6m0-5.6l-5.6 5.6M73.4 119.6l5.6 5.6m0-5.6l-5.6 5.6M87 77.1l5.6 5.6m0-5.6l-5.6 5.6M42.1 111.2l5.6 5.6m0-5.6l-5.6 5.6M110 108l5.6 5.6m0-5.6l-5.6 5.6M66.8 100.6l5.6 5.6m0-5.6l-5.6 5.6M65.6 98.1l5.6 5.6m0-5.6l-5.6 5.6M94.5 77.9l5.6 5.6m0-5.6l-5.6 5.6M144.8 118.8l5.6 5.6m0-5.6l-5.6 5.6M98 85.9l5.6 5.6m0-5.6l-5.6 5.6M131.8 83.7l5.6 5.6m0-5.6l-5.6 5.6M105.9 91.6l5.6 5.6m0-5.6l-5.6 5.6M76.6 108.4l5.6 5.6m0-5.6l-5.6 5.6M123.5 79.6l5.6 5.6m0-5.6l-5.6 5.6M139 87.7l5.6 5.6m0-5.6l-5.6 5.6M70.2 89.4l5.6 5.6m0-5.6l-5.6 5.6M117.4 96.9l5.6 5.6m0-5.6l-5.6 5.6M106.1 104.5l5.6 5.6m0-5.6l-5.6 5.6M96.9 102.3l5.6 5.6m0-5.6l-5.6 5.6M43.8 107.6l5.6 5.6m0-5.6l-5.6 5.6M72.3 79.6l5.6 5.6m0-5.6l-5.6 5.6M89.4 104.2l5.6 5.6m0-5.6l-5.6 5.6M63.6 111.4l5.6 5.6m0-5.6l-5.6 5.6M75.1 114.7l5.6 5.6m0-5.6l-5.6 5.6M38 99.1l5.6 5.6m0-5.6l-5.6 5.6M86.3 100.9l5.6 5.6m0-5.6l-5.6 5.6M98.9 106.9l5.6 5.6m0-5.6l-5.6 5.6M55.5 118l5.6 5.6m0-5.6l-5.6 5.6M69.9 107.9l5.6 5.6m0-5.6l-5.6 5.6M116 95l5.6 5.6m0-5.6l-5.6 5.6M138.9 104.1l5.6 5.6m0-5.6l-5.6 5.6M137.1 92.5l5.6 5.6m0-5.6l-5.6 5.6M45.9 112.6l5.6 5.6m0-5.6l-5.6 5.6M100.2 76.1l5.6 5.6m0-5.6l-5.6 5.6M75.9 87.6l5.6 5.6m0-5.6l-5.6 5.6M83.6 82.5l5.6 5.6m0-5.6l-5.6 5.6M44.5 104l5.6 5.6m0-5.6l-5.6 5.6M134.7 107.3l5.6 5.6m0-5.6l-5.6 5.6M65.1 119.5l5.6 5.6m0-5.6l-5.6 5.6M55 110.8l5.6 5.6m0-5.6l-5.6 5.6M113.6 110.4l5.6 5.6m0-5.6l-5.6 5.6M80.5 111.7l5.6 5.6m0-5.6l-5.6 5.6M102.6 81.4l5.6 5.6m0-5.6l-5.6 5.6M107.5 111.5l5.6 5.6m0-5.6l-5.6 5.6M116.8 75.9l5.6 5.6m0-5.6l-5.6 5.6M102.4 116.9l5.6 5.6m0-5.6l-5.6 5.6M125 79.4l5.6 5.6m0-5.6l-5.6 5.6M74.2 114.7l5.6 5.6m0-5.6l-5.6 5.6M57.6 100.7l5.6 5.6m0-5.6l-5.6 5.6M132.1 90.1l5.6 5.6m0-5.6l-5.6 5.6M137.3 110.3l5.6 5.6m0-5.6l-5.6 5.6M157.8 102.6l5.6 5.6m0-5.6l-5.6 5.6M164 118.2l5.6 5.6m0-5.6l-5.6 5.6M164.6 120.3l5.6 5.6m0-5.6l-5.6 5.6M152.7 114.3l5.6 5.6m0-5.6l-5.6 5.6M152.4 106.8l5.6 5.6m0-5.6l-5.6 5.6M158 112.3l5.6 5.6m0-5.6l-5.6 5.6M163 122.8l5.6 5.6m0-5.6l-5.6 5.6M160.4 130.5l5.6 5.6m0-5.6l-5.6 5.6M169.3 113.9l5.6 5.6m0-5.6l-5.6 5.6M170.5 128.1l5.6 5.6m0-5.6l-5.6 5.6M163.3 108.3l5.6 5.6m0-5.6l-5.6 5.6M157.9 127.4l5.6 5.6m0-5.6l-5.6 5.6M154.5 124.5l5.6 5.6m0-5.6l-5.6 5.6M166.2 127.7l5.6 5.6m0-5.6l-5.6 5.6M167.1 117.8l5.6 5.6m0-5.6l-5.6 5.6M161.9 111.8l5.6 5.6m0-5.6l-5.6 5.6M162.2 109.9l5.6 5.6m0-5.6l-5.6 5.6M163.1 120.5l5.6 5.6m0-5.6l-5.6 5.6M165.7 122.7l5.6 5.6m0-5.6l-5.6 5.6M165.2 107.5l5.6 5.6m0-5.6l-5.6 5.6M166.4 121.2l5.6 5.6m0-5.6l-5.6 5.6M166.4 101.4l5.6 5.6m0-5.6l-5.6 5.6M160.2 121.3l5.6 5.6m0-5.6l-5.6 5.6M161.6 100l5.6 5.6m0-5.6l-5.6 5.6M154.1 129.3l5.6 5.6m0-5.6l-5.6 5.6M160.7 108.6l5.6 5.6m0-5.6l-5.6 5.6M166.4 119.6l5.6 5.6m0-5.6l-5.6 5.6M170.5 123.3l5.6 5.6m0-5.6l-5.6 5.6M166 127.7l5.6 5.6m0-5.6l-5.6 5.6M152.1 123.9l5.6 5.6m0-5.6l-5.6 5.6M152.7 111.2l5.6 5.6m0-5.6l-5.6 5.6M162.2 125.1l5.6 5.6m0-5.6l-5.6 5.6M169.6 119.5l5.6 5.6m0-5.6l-5.6 5.6M154.4 123.2l5.6 5.6m0-5.6l-5.6 5.6M165.7 102.8l5.6 5.6m0-5.6l-5.6 5.6M154.7 128.8l5.6 5.6m0-5.6l-5.6 5.6M166.5 123.1l5.6 5.6m0-5.6l-5.6 5.6M170.4 115.9l5.6 5.6m0-5.6l-5.6 5.6M163.7 120.1l5.6 5.6m0-5.6l-5.6 5.6M166.9 116.7l5.6 5.6m0-5.6l-5.6 5.6M157.8 96.7l5.6 5.6m0-5.6l-5.6 5.6M153.6 102.8l5.6 5.6m0-5.6l-5.6 5.6M152.8 106.1l5.6 5.6m0-5.6l-5.6 5.6M159.2 99.9l5.6 5.6m0-5.6l-5.6 5.6M152.7 109l5.6 5.6m0-5.6l-5.6 5.6M159.4 98.1l5.6 5.6m0-5.6l-5.6 5.6M169.7 112.2l5.6 5.6m0-5.6l-5.6 5.6M155.8 120.8l5.6 5.6m0-5.6l-5.6 5.6M156.6 113.9l5.6 5.6m0-5.6l-5.6 5.6M156 122.7l5.6 5.6m0-5.6l-5.6 5.6M166.1 111.2l5.6 5.6m0-5.6l-5.6 5.6M157.3 92.6l5.6 5.6m0-5.6l-5.6 5.6M155.7 108.6l5.6 5.6m0-5.6l-5.6 5.6M154.6 97.8l5.6 5.6m0-5.6l-5.6 5.6M168.2 122.3l5.6 5.6m0-5.6l-5.6 5.6M165.9 105.8l5.6 5.6m0-5.6l-5.6 5.6M157 118l5.6 5.6m0-5.6l-5.6 5.6M160.9 100.8l5.6 5.6m0-5.6l-5.6 5.6M154.6 104.5l5.6 5.6m0-5.6l-5.6 5.6M163 116.7l5.6 5.6m0-5.6l-5.6 5.6M162.6 103.2l5.6 5.6m0-5.6l-5.6 5.6M155.6 96.6l5.6 5.6m0-5.6l-5.6 5.6M158.5 102.1l5.6 5.6m0-5.6l-5.6 5.6M168.1 124.8l5.6 5.6m0-5.6l-5.6 5.6M168.1 101.4l5.6 5.6m0-5.6l-5.6 5.6M157.3 130l5.6 5.6m0-5.6l-5.6 5.6M153.7 94.1l5.6 5.6m0-5.6l-5.6 5.6M151.7 97.2l5.6 5.6m0-5.6l-5.6 5.6M154.4 102.5l5.6 5.6m0-5.6l-5.6 5.6M153.4 123.2l5.6 5.6m0-5.6l-5.6 5.6M164.6 127.9l5.6 5.6m0-5.6l-5.6 5.6M158.1 96.5l5.6 5.6m0-5.6l-5.6 5.6M165.3 103.9l5.6 5.6m0-5.6l-5.6 5.6M170.3 128.8l5.6 5.6m0-5.6l-5.6 5.6M156 100l5.6 5.6m0-5.6l-5.6 5.6M164.8 129.4l5.6 5.6m0-5.6l-5.6 5.6M161.2 123.2l5.6 5.6m0-5.6l-5.6 5.6M159.8 127.2l5.6 5.6m0-5.6l-5.6 5.6M151.9 94.3l5.6 5.6m0-5.6l-5.6 5.6M157.6 97.4l5.6 5.6m0-5.6l-5.6 5.6M153.9 111.7l5.6 5.6m0-5.6l-5.6 5.6M154.2 113.9l5.6 5.6m0-5.6l-5.6 5.6M155 104.3l5.6 5.6m0-5.6l-5.6 5.6M154.4 102.5l5.6 5.6m0-5.6l-5.6 5.6M161.1 127.2l5.6 5.6m0-5.6l-5.6 5.6M158.3 112.5l5.6 5.6m0-5.6l-5.6 5.6M169.2 120l5.6 5.6m0-5.6l-5.6 5.6M155.7 93.4l5.6 5.6m0-5.6l-5.6 5.6M168.5 109.1l5.6 5.6m0-5.6l-5.6 5.6M156.8 124l5.6 5.6m0-5.6l-5.6 5.6M156.6 128.2l5.6 5.6m0-5.6l-5.6 5.6M152.4 111l5.6 5.6m0-5.6l-5.6 5.6M159.4 111l5.6 5.6m0-5.6l-5.6 5.6M158.5 130.5l5.6 5.6m0-5.6l-5.6 5.6M164.7 110.7l5.6 5.6m0-5.6l-5.6 5.6M162 113.2l5.6 5.6m0-5.6l-5.6 5.6M164.8 100.7l5.6 5.6m0-5.6l-5.6 5.6M168.3 109.4l5.6 5.6m0-5.6l-5.6 5.6M159.2 119.5l5.6 5.6m0-5.6l-5.6 5.6M159.6 96.4l5.6 5.6m0-5.6l-5.6 5.6M189.2 123.7l5.6 5.6m0-5.6l-5.6 5.6M189.9 132.7l5.6 5.6m0-5.6l-5.6 5.6M206.2 136l5.6 5.6m0-5.6l-5.6 5.6M195.4 105.7l5.6 5.6m0-5.6l-5.6 5.6M185.6 114.6l5.6 5.6m0-5.6l-5.6 5.6M189 129l5.6 5.6m0-5.6l-5.6 5.6M184 132.2l5.6 5.6m0-5.6l-5.6 5.6M201.9 112.4l5.6 5.6m0-5.6l-5.6 5.6M203.7 135.3l5.6 5.6m0-5.6l-5.6 5.6M197.7 127.2l5.6 5.6m0-5.6l-5.6 5.6M196.4 119.3l5.6 5.6m0-5.6l-5.6 5.6M187.3 101.5l5.6 5.6m0-5.6l-5.6 5.6M178.5 109.1l5.6 5.6m0-5.6l-5.6 5.6M202.2 121.2l5.6 5.6m0-5.6l-5.6 5.6M194.9 103.1l5.6 5.6m0-5.6l-5.6 5.6M185 113.8l5.6 5.6m0-5.6l-5.6 5.6M199.1 125.3l5.6 5.6m0-5.6l-5.6 5.6M198.2 124.9l5.6 5.6m0-5.6l-5.6 5.6M193.1 116.3l5.6 5.6m0-5.6l-5.6 5.6M197.3 127.4l5.6 5.6m0-5.6l-5.6 5.6M195.9 119.4l5.6 5.6m0-5.6l-5.6 5.6M184.7 114.4l5.6 5.6m0-5.6l-5.6 5.6M185.9 103.5l5.6 5.6m0-5.6l-5.6 5.6M191.6 112l5.6 5.6m0-5.6l-5.6 5.6M193 121.2l5.6 5.6m0-5.6l-5.6 5.6M184.6 131.5l5.6 5.6m0-5.6l-5.6 5.6M204.2 120.7l5.6 5.6m0-5.6l-5.6 5.6M193 119.3l5.6 5.6m0-5.6l-5.6 5.6M201.1 129.9l5.6 5.6m0-5.6l-5.6 5.6M183.3 106.7l5.6 5.6m0-5.6l-5.6 5.6M191.3 114.8l5.6 5.6m0-5.6l-5.6 5.6M201.4 108.8l5.6 5.6m0-5.6l-5.6 5.6M202.6 135.8l5.6 5.6m0-5.6l-5.6 5.6M189.1 107.2l5.6 5.6m0-5.6l-5.6 5.6M201.2 133.6l5.6 5.6m0-5.6l-5.6 5.6M182.8 126.9l5.6 5.6m0-5.6l-5.6 5.6M181.4 122.7l5.6 5.6m0-5.6l-5.6 5.6M200.8 120.7l5.6 5.6m0-5.6l-5.6 5.6M191.1 134.9l5.6 5.6m0-5.6l-5.6 5.6M189.5 101.3l5.6 5.6m0-5.6l-5.6 5.6M197.8 122.9l5.6 5.6m0-5.6l-5.6 5.6M191.8 109.2l5.6 5.6m0-5.6l-5.6 5.6M199.5 133l5.6 5.6m0-5.6l-5.6 5.6M197.4 125.8l5.6 5.6m0-5.6l-5.6 5.6M192.9 129.8l5.6 5.6m0-5.6l-5.6 5.6M188.8 125.3l5.6 5.6m0-5.6l-5.6 5.6M189.1 137.2l5.6 5.6m0-5.6l-5.6 5.6M184.1 115.8l5.6 5.6m0-5.6l-5.6 5.6M180.1 128.4l5.6 5.6m0-5.6l-5.6 5.6M198.4 128.9l5.6 5.6m0-5.6l-5.6 5.6M187.5 128.7l5.6 5.6m0-5.6l-5.6 5.6M201.6 134.5l5.6 5.6m0-5.6l-5.6 5.6M196.1 108.3l5.6 5.6m0-5.6l-5.6 5.6M184.1 121.1l5.6 5.6m0-5.6l-5.6 5.6M200.5 117.5l5.6 5.6m0-5.6l-5.6 5.6M188.8 136.2l5.6 5.6m0-5.6l-5.6 5.6M190.8 124.7l5.6 5.6m0-5.6l-5.6 5.6M198.3 128.2l5.6 5.6m0-5.6l-5.6 5.6M189.8 114.2l5.6 5.6m0-5.6l-5.6 5.6M201 126.2l5.6 5.6m0-5.6l-5.6 5.6M189.2 116.6l5.6 5.6m0-5.6l-5.6 5.6M204.1 130.9l5.6 5.6m0-5.6l-5.6 5.6M205.4 115.5l5.6 5.6m0-5.6l-5.6 5.6M188.8 113.3l5.6 5.6m0-5.6l-5.6 5.6M187.6 135l5.6 5.6m0-5.6l-5.6 5.6M199.5 125.3l5.6 5.6m0-5.6l-5.6 5.6M193.1 120.5l5.6 5.6m0-5.6l-5.6 5.6M203.5 113.7l5.6 5.6m0-5.6l-5.6 5.6M179.2 114.2l5.6 5.6m0-5.6l-5.6 5.6M191.3 121.3l5.6 5.6m0-5.6l-5.6 5.6M201.8 124.2l5.6 5.6m0-5.6l-5.6 5.6M191.6 105.8l5.6 5.6m0-5.6l-5.6 5.6M190.7 120.1l5.6 5.6m0-5.6l-5.6 5.6M192.7 108.5l5.6 5.6m0-5.6l-5.6 5.6M197.1 112.7l5.6 5.6m0-5.6l-5.6 5.6M189.6 136.4l5.6 5.6m0-5.6l-5.6 5.6M197.4 119.3l5.6 5.6m0-5.6l-5.6 5.6M199.8 112.4l5.6 5.6m0-5.6l-5.6 5.6M181.8 127.6l5.6 5.6m0-5.6l-5.6 5.6M180.7 106.8l5.6 5.6m0-5.6l-5.6 5.6M181.3 132l5.6 5.6m0-5.6l-5.6 5.6M199.4 119.1l5.6 5.6m0-5.6l-5.6 5.6M180 111.4l5.6 5.6m0-5.6l-5.6 5.6M198.2 121.8l5.6 5.6m0-5.6l-5.6 5.6M180 111.1l5.6 5.6m0-5.6l-5.6 5.6M190.1 116.6l5.6 5.6m0-5.6l-5.6 5.6M206.2 112.6l5.6 5.6m0-5.6l-5.6 5.6M202.7 132.6l5.6 5.6m0-5.6l-5.6 5.6M187.8 118.5l5.6 5.6m0-5.6l-5.6 5.6M178.7 101.1l5.6 5.6m0-5.6l-5.6 5.6M186.1 127.7l5.6 5.6m0-5.6l-5.6 5.6M187.2 128.1l5.6 5.6m0-5.6l-5.6 5.6M202.3 119.7l5.6 5.6m0-5.6l-5.6 5.6M192.7 123.1l5.6 5.6m0-5.6l-5.6 5.6M179.9 124l5.6 5.6m0-5.6l-5.6 5.6M202.5 112l5.6 5.6m0-5.6l-5.6 5.6M202.3 129.1l5.6 5.6m0-5.6l-5.6 5.6M184.1 134.5l5.6 5.6m0-5.6l-5.6 5.6M193.4 124.9l5.6 5.6m0-5.6l-5.6 5.6M191.4 120.4l5.6 5.6m0-5.6l-5.6 5.6M194.7 125.5l5.6 5.6m0-5.6l-5.6 5.6M200.7 131.1l5.6 5.6m0-5.6l-5.6 5.6M204 119.9l5.6 5.6m0-5.6l-5.6 5.6M179.9 123.7l5.6 5.6m0-5.6l-5.6 5.6M193.3 123.7l5.6 5.6m0-5.6l-5.6 5.6M194.2 126.9l5.6 5.6m0-5.6l-5.6 5.6M186.1 107.7l5.6 5.6m0-5.6l-5.6 5.6M186.6 111l5.6 5.6m0-5.6l-5.6 5.6M200.7 118.4l5.6 5.6m0-5.6l-5.6 5.6M191.1 104.1l5.6 5.6m0-5.6l-5.6 5.6M190.8 106.1l5.6 5.6m0-5.6l-5.6 5.6M180.1 119.7l5.6 5.6m0-5.6l-5.6 5.6M196.2 137l5.6 5.6m0-5.6l-5.6 5.6M202.4 134.9l5.6 5.6m0-5.6l-5.6 5.6M195 132.2l5.6 5.6m0-5.6l-5.6 5.6M204.1 119.8l5.6 5.6m0-5.6l-5.6 5.6M200.7 121.4l5.6 5.6m0-5.6l-5.6 5.6M197.2 115l5.6 5.6m0-5.6l-5.6 5.6M186.7 129.7l5.6 5.6m0-5.6l-5.6 5.6M201.7 132.7l5.6 5.6m0-5.6l-5.6 5.6M203.9 130.5l5.6 5.6m0-5.6l-5.6 5.6M181.3 131.7l5.6 5.6m0-5.6l-5.6 5.6M200.2 106.5l5.6 5.6m0-5.6l-5.6 5.6M190 113.8l5.6 5.6m0-5.6l-5.6 5.6M185.7 103.7l5.6 5.6m0-5.6l-5.6 5.6M197.5 133.1l5.6 5.6m0-5.6l-5.6 5.6M180.1 110.9l5.6 5.6m0-5.6l-5.6 5.6M179.7 106.2l5.6 5.6m0-5.6l-5.6 5.6M186.7 128.9l5.6 5.6m0-5.6l-5.6 5.6M194.6 127.2l5.6 5.6m0-5.6l-5.6 5.6M194 133l5.6 5.6m0-5.6l-5.6 5.6M203.8 126.9l5.6 5.6m0-5.6l-5.6 5.6M201.8 132.5l5.6 5.6m0-5.6l-5.6 5.6M200.7 105.7l5.6 5.6m0-5.6l-5.6 5.6M189.4 136.7l5.6 5.6m0-5.6l-5.6 5.6M189 114.3l5.6 5.6m0-5.6l-5.6 5.6M184.7 116.8l5.6 5.6m0-5.6l-5.6 5.6M181.1 118.9l5.6 5.6m0-5.6l-5.6 5.6M198.7 123.6l5.6 5.6m0-5.6l-5.6 5.6M197.3 134.6l5.6 5.6m0-5.6l-5.6 5.6M201.5 133.5l5.6 5.6m0-5.6l-5.6 5.6M204.1 106.6l5.6 5.6m0-5.6l-5.6 5.6M204.5 120.8l5.6 5.6m0-5.6l-5.6 5.6M186.6 124.6l5.6 5.6m0-5.6l-5.6 5.6M199.3 121.4l5.6 5.6m0-5.6l-5.6 5.6M204.3 133.9l5.6 5.6m0-5.6l-5.6 5.6M191.9 106.9l5.6 5.6m0-5.6l-5.6 5.6M195.1 119.3l5.6 5.6m0-5.6l-5.6 5.6M181 130l5.6 5.6m0-5.6l-5.6 5.6M186 104.1l5.6 5.6m0-5.6l-5.6 5.6M34.4 163.7l5.6 5.6m0-5.6l-5.6 5.6" stroke="#ff2b8e" stroke-width="0.75" fill="none" opacity="1.0" clip-path="url(#ca)"/>
<rect x="37.2" y="15.8" width="184.2" height="150.8" fill="none" stroke="#333333" stroke-width="1.3"/>
<path d="M37.2 166.5v-3.2M51.9 166.5v-2.0M66.7 166.5v-3.2M81.4 166.5v-2.0M96.1 166.5v-3.2M110.9 166.5v-2.0M125.6 166.5v-3.2M140.4 166.5v-2.0M155.1 166.5v-3.2M169.8 166.5v-2.0M184.6 166.5v-3.2M199.3 166.5v-2.0M214.0 166.5v-3.2" stroke="#333333" stroke-width="1.1" fill="none"/>
<text x="37.2" y="178.2" font-size="10" fill="#1a1a1a" text-anchor="middle">0</text>
<text x="66.7" y="178.2" font-size="10" fill="#1a1a1a" text-anchor="middle">2</text>
<text x="96.1" y="178.2" font-size="10" fill="#1a1a1a" text-anchor="middle">4</text>
<text x="125.6" y="178.2" font-size="10" fill="#1a1a1a" text-anchor="middle">6</text>
<text x="155.1" y="178.2" font-size="10" fill="#1a1a1a" text-anchor="middle">8</text>
<text x="184.6" y="178.2" font-size="10" fill="#1a1a1a" text-anchor="middle">10</text>
<text x="214.0" y="178.2" font-size="10" fill="#1a1a1a" text-anchor="middle">12</text>
<text x="33.8" y="170.1" font-size="10" fill="#1a1a1a" text-anchor="end">0</text>
<text x="33.8" y="130.8" font-size="10" fill="#1a1a1a" text-anchor="end">3</text>
<text x="33.8" y="91.4" font-size="10" fill="#1a1a1a" text-anchor="end">6</text>
<text x="33.8" y="52.1" font-size="10" fill="#1a1a1a" text-anchor="end">9</text>
<path d="M37.2 166.5h3.2M37.2 146.8h2.0M37.2 127.2h3.2M37.2 107.5h2.0M37.2 87.8h3.2M37.2 68.2h2.0M37.2 48.5h3.2M37.2 28.9h2.0" stroke="#333333" stroke-width="1.1" fill="none"/>
<text x="73.8" y="31.0" font-size="11.7" fill="#1a1a1a" text-anchor="start">300 K</text>
<path d="M125 26.9h6m-3-3v6" stroke="#5f9f9c" stroke-width="0.9" fill="none" opacity="1.0"/>
<text x="141.3" y="31.0" font-size="11.7" fill="#1a1a1a" text-anchor="start">3ph</text>
<path d="M181.2 24.1l5.6 5.6m0-5.6l-5.6 5.6" stroke="#ff2b8e" stroke-width="0.9" fill="none" opacity="1.0"/>
<text x="197.2" y="31.0" font-size="11.7" fill="#1a1a1a" text-anchor="start">4ph</text>
<path d="M279.4 42.1L279.7 37.5L282.7 38.2L284 48.3L284 49.7L282.7 48.9L279.7 48.2L279.4 45.1Z" fill="#2c6464" opacity="1.0" clip-path="url(#cb)"/>
<path d="M282.8 53.7L283.7 51.4L289.6 49.8L297.4 52.1L299.4 55.2L303.3 63L305.3 67.2L310 73.8L312.4 80L314.9 83.1L317.4 86.2L319.7 88.1L322.2 89.8L324.8 86.2L325.9 84.8L327.1 85L328.4 85.2L330.8 85.4L333.3 93.5L337 109.3L339.4 114.8L349.3 126.4L359 133.3L368.9 142.6L374.2 147.2L377.1 151.1L377.1 153.3L374.2 151L368.9 147.1L359 140.2L349.3 134L339.4 122.4L337 119.3L333.3 114.7L330.8 111.6L328.4 107.7L327.1 98.9L325.9 96.1L324.8 95.3L322.2 98.4L319.7 100.1L317.4 98.4L314.9 94.6L312.4 90.7L310 86L305.3 79.9L303.3 77.5L299.4 72.1L297.4 69.8L289.6 69.8L283.7 67.5L282.8 62.9Z" fill="#2c6464" opacity="1.0" clip-path="url(#cb)"/>
<path d="M387.6 151.9L392 154.2L397.9 156.9L401.4 159.5L401.4 159.5L397.9 157.9L392 155.2L387.6 152.5Z" fill="#2c6464" opacity="1.0" clip-path="url(#cb)"/>
<path d="M416.4 165L418.5 164.2L424.4 164.8L434.7 165L434.7 165L424.4 164.8L418.5 164.5L416.4 165Z" fill="#2c6464" opacity="1.0" clip-path="url(#cb)"/>
<path d="M282.4 49.1h4m-2-2v4M283 50.9h4m-2-2v4M280.5 37h4m-2-2v4M278.5 36.8h4m-2-2v4M280.9 50h4m-2-2v4M278.4 43.7h4m-2-2v4M277.7 39.4h4m-2-2v4M277.2 39.6h4m-2-2v4M278.1 48.9h4m-2-2v4M280.2 49.1h4m-2-2v4M280.1 39.4h4m-2-2v4M280.5 44.1h4m-2-2v4M276.1 43.4h4m-2-2v4M276.6 41.9h4m-2-2v4M276.8 42.4h4m-2-2v4M278.6 44.8h4m-2-2v4M281 48.5h4m-2-2v4M277.1 38h4m-2-2v4M278.4 38.2h4m-2-2v4M282.6 47.3h4m-2-2v4M277 47.5h4m-2-2v4M282.7 50.2h4m-2-2v4M279.7 42.8h4m-2-2v4M276.7 43.5h4m-2-2v4M277.1 42.7h4m-2-2v4M279.8 45.2h4m-2-2v4M277.3 44.2h4m-2-2v4M277.4 47.6h4m-2-2v4M277.7 37.7h4m-2-2v4M279.7 37.9h4m-2-2v4M280.7 51.7h4m-2-2v4M326.8 89.1h4m-2-2v4M334.8 111.1h4m-2-2v4M301.5 66.2h4m-2-2v4M294.2 65.8h4m-2-2v4M282.2 61.6h4m-2-2v4M329.7 106.2h4m-2-2v4M366 147.4h4m-2-2v4M335.6 118.7h4m-2-2v4M337.2 115.2h4m-2-2v4M348.5 135.7h4m-2-2v4M303.1 71.8h4m-2-2v4M375 153.8h4m-2-2v4M339.5 118.9h4m-2-2v4M358.6 139.6h4m-2-2v4M358.2 138.1h4m-2-2v4M368.9 150.1h4m-2-2v4M370.8 148.6h4m-2-2v4M318.9 99.7h4m-2-2v4M303.1 69.4h4m-2-2v4M345.4 131.7h4m-2-2v4M312.8 93.9h4m-2-2v4M298.5 71h4m-2-2v4M311.5 80.1h4m-2-2v4M376.4 150.4h4m-2-2v4M325.9 94.8h4m-2-2v4M355.1 131.3h4m-2-2v4M352.4 132.2h4m-2-2v4M298.6 63.3h4m-2-2v4M361.6 137.9h4m-2-2v4M288.2 54.9h4m-2-2v4M313.2 94.3h4m-2-2v4M373.3 148.7h4m-2-2v4M351.9 137.1h4m-2-2v4M359.9 135h4m-2-2v4M367.4 143.3h4m-2-2v4M360.3 136.7h4m-2-2v4M336.7 118.2h4m-2-2v4M359.6 136.2h4m-2-2v4M364.1 144.2h4m-2-2v4M372.9 149.3h4m-2-2v4M371.4 151.2h4m-2-2v4M373.6 148.2h4m-2-2v4M303.8 68.9h4m-2-2v4M301.8 76.3h4m-2-2v4M323.8 94.2h4m-2-2v4M327.2 86.1h4m-2-2v4M346 126.4h4m-2-2v4M317.4 89.5h4m-2-2v4M356.5 134.6h4m-2-2v4M371 145.8h4m-2-2v4M318.8 99.8h4m-2-2v4M342.8 121.3h4m-2-2v4M312.3 86.6h4m-2-2v4M360.7 137.1h4m-2-2v4M279.6 58.6h4m-2-2v4M280.8 65.5h4m-2-2v4M358.4 138.6h4m-2-2v4M338.1 119.9h4m-2-2v4M311.9 91.6h4m-2-2v4M313.7 84.8h4m-2-2v4M339.6 123.4h4m-2-2v4M287.8 65.1h4m-2-2v4M347.5 131h4m-2-2v4M343.6 122.6h4m-2-2v4M291 56.2h4m-2-2v4M283.2 53h4m-2-2v4M297.1 68h4m-2-2v4M372.5 150.3h4m-2-2v4M301 62.8h4m-2-2v4M338.7 115.8h4m-2-2v4M317.6 94h4m-2-2v4M372.4 149.1h4m-2-2v4M375.5 153.2h4m-2-2v4M360.2 142.5h4m-2-2v4M330.6 115.3h4m-2-2v4M296.3 53h4m-2-2v4M323.5 86.3h4m-2-2v4M303.6 76.4h4m-2-2v4M289 58.8h4m-2-2v4M363.2 141.7h4m-2-2v4M315.9 86.1h4m-2-2v4M366.3 143h4m-2-2v4M286.6 57h4m-2-2v4M322.5 85.5h4m-2-2v4M314.5 88.6h4m-2-2v4M340.8 123.9h4m-2-2v4M330.1 96.6h4m-2-2v4M367.6 145.4h4m-2-2v4M314.6 84h4m-2-2v4M284.7 52.5h4m-2-2v4M345.8 127.8h4m-2-2v4M322.8 87.6h4m-2-2v4M366 142.3h4m-2-2v4M352.3 138.4h4m-2-2v4M310.9 91.2h4m-2-2v4M372.1 146.3h4m-2-2v4M293.3 58.8h4m-2-2v4M335.4 120.8h4m-2-2v4M317.4 90.1h4m-2-2v4M341.7 126h4m-2-2v4M353.5 136.5h4m-2-2v4M332.2 108.3h4m-2-2v4M374.5 149.8h4m-2-2v4M357.6 135.5h4m-2-2v4M316.3 85.9h4m-2-2v4M348.4 128.9h4m-2-2v4M306.2 82.8h4m-2-2v4M335.3 110.5h4m-2-2v4M356.5 138h4m-2-2v4M292.8 60.2h4m-2-2v4M364.7 145.8h4m-2-2v4M351.2 136.2h4m-2-2v4M309.6 90h4m-2-2v4M308.2 82.2h4m-2-2v4M373.4 146.9h4m-2-2v4M297.4 67.6h4m-2-2v4M371.2 150.4h4m-2-2v4M310.5 86.4h4m-2-2v4M289.8 65.5h4m-2-2v4M317.6 95.7h4m-2-2v4M373.1 151.3h4m-2-2v4M299.1 58.7h4m-2-2v4M323.1 86.3h4m-2-2v4M341.3 120.1h4m-2-2v4M309.9 89.2h4m-2-2v4M353 134.3h4m-2-2v4M333.7 107.6h4m-2-2v4M352.5 136.1h4m-2-2v4M314.5 84.8h4m-2-2v4M330.8 108.3h4m-2-2v4M340.6 125h4m-2-2v4M354.4 139.7h4m-2-2v4M359.8 138.4h4m-2-2v4M313.7 83.3h4m-2-2v4M305.1 80h4m-2-2v4M286 58.6h4m-2-2v4M352.7 131.9h4m-2-2v4M319.4 90.1h4m-2-2v4M290 64.5h4m-2-2v4M342 119h4m-2-2v4M341 120.7h4m-2-2v4M354.7 136.2h4m-2-2v4M370.8 146.3h4m-2-2v4M312.5 89.9h4m-2-2v4M357.7 138.8h4m-2-2v4M297.3 56.1h4m-2-2v4M331 102.9h4m-2-2v4M344.4 122.5h4m-2-2v4M292.2 64h4m-2-2v4M285.6 61.6h4m-2-2v4M328.1 87.9h4m-2-2v4M344.3 125.8h4m-2-2v4M318.5 93.1h4m-2-2v4M305.9 71.7h4m-2-2v4M356 132.7h4m-2-2v4M293.9 57.1h4m-2-2v4M352.7 133.8h4m-2-2v4M366.8 141.6h4m-2-2v4M351.6 129.7h4m-2-2v4M342.4 120.4h4m-2-2v4M292 56h4m-2-2v4M347.8 129.3h4m-2-2v4M306 84h4m-2-2v4M338 115.8h4m-2-2v4M305.8 81.5h4m-2-2v4M301 77h4m-2-2v4M345.1 122.5h4m-2-2v4M357.4 138.4h4m-2-2v4M347.4 134.9h4m-2-2v4M360.9 141.5h4m-2-2v4M279.5 56.7h4m-2-2v4M292.7 65.4h4m-2-2v4M285 60.8h4m-2-2v4M333.3 103.8h4m-2-2v4M283.1 52.9h4m-2-2v4M290 66.4h4m-2-2v4M340.5 124h4m-2-2v4M311.5 85.9h4m-2-2v4M300.4 63.4h4m-2-2v4M299.6 60.9h4m-2-2v4M358 137.2h4m-2-2v4M282.2 54h4m-2-2v4M282 59.4h4m-2-2v4M320.5 98.9h4m-2-2v4M340.6 119.9h4m-2-2v4M336.2 117.7h4m-2-2v4M329.1 96.6h4m-2-2v4M301.2 63.5h4m-2-2v4M376.2 150.2h4m-2-2v4M372.9 150.7h4m-2-2v4M375.3 153.8h4m-2-2v4M325.8 101.9h4m-2-2v4M323.4 88.1h4m-2-2v4M348.2 131.3h4m-2-2v4M312.5 92.8h4m-2-2v4M318.5 97.2h4m-2-2v4M298.1 60.3h4m-2-2v4M329.5 101.7h4m-2-2v4M298.5 61.5h4m-2-2v4M298.4 69.9h4m-2-2v4M333.8 107.6h4m-2-2v4M374 148.8h4m-2-2v4M371.6 145.7h4m-2-2v4M349.6 129.4h4m-2-2v4M285.3 66h4m-2-2v4M280.5 53.1h4m-2-2v4M349.6 130.3h4m-2-2v4M304.9 78h4m-2-2v4M295.1 58.2h4m-2-2v4M375.8 152.7h4m-2-2v4M283.5 66.2h4m-2-2v4M313.8 84.2h4m-2-2v4M357.6 137.7h4m-2-2v4M289.1 69h4m-2-2v4M294.2 54.9h4m-2-2v4M325.1 83.6h4m-2-2v4M368.1 143.5h4m-2-2v4M325.6 87.1h4m-2-2v4M291.7 69h4m-2-2v4M334.1 111.7h4m-2-2v4M299.6 72h4m-2-2v4M281.3 51.8h4m-2-2v4M348.4 126.2h4m-2-2v4M374.8 151.3h4m-2-2v4M350.6 133.6h4m-2-2v4M358.3 134.5h4m-2-2v4M292.2 71.1h4m-2-2v4M300.1 66.5h4m-2-2v4M316.1 100.4h4m-2-2v4M360.1 136.6h4m-2-2v4M324.4 98.1h4m-2-2v4M365.8 143.7h4m-2-2v4M286.1 63.6h4m-2-2v4M340.1 117.6h4m-2-2v4M326.4 92.8h4m-2-2v4M299.2 71.7h4m-2-2v4M367.5 146.2h4m-2-2v4M289.3 58h4m-2-2v4M291.5 67h4m-2-2v4M323.7 89.3h4m-2-2v4M341.2 120.8h4m-2-2v4M322 97h4m-2-2v4M349.8 136.6h4m-2-2v4M325.1 93.6h4m-2-2v4M344.8 124.9h4m-2-2v4M302.6 69.9h4m-2-2v4M346.6 129.7h4m-2-2v4M293 51.8h4m-2-2v4M337.6 123.5h4m-2-2v4M302.4 64h4m-2-2v4M301.5 72.4h4m-2-2v4M356 132.8h4m-2-2v4M341 120.2h4m-2-2v4M282.9 67.7h4m-2-2v4M374.3 148.7h4m-2-2v4M282.9 68.6h4m-2-2v4M302.6 65.3h4m-2-2v4M300.6 65.9h4m-2-2v4M369.9 146.2h4m-2-2v4M368.8 148.1h4m-2-2v4M294.1 71h4m-2-2v4M353 138.1h4m-2-2v4M374 149h4m-2-2v4M297.4 57.6h4m-2-2v4M295.1 60.7h4m-2-2v4M289.5 53.6h4m-2-2v4M365.9 140.7h4m-2-2v4M279.4 53.8h4m-2-2v4M333.4 103.9h4m-2-2v4M328.2 94.5h4m-2-2v4M337.1 114.8h4m-2-2v4M286.8 69.8h4m-2-2v4M332.4 111.4h4m-2-2v4M317.9 101.5h4m-2-2v4M351.8 138.2h4m-2-2v4M360.1 136.3h4m-2-2v4M323.8 95.9h4m-2-2v4M342.6 127.8h4m-2-2v4M321 97.8h4m-2-2v4M374.4 150.3h4m-2-2v4M313.6 95.8h4m-2-2v4M350.4 128.5h4m-2-2v4M361.9 144.3h4m-2-2v4M315 94.8h4m-2-2v4M353.5 138h4m-2-2v4M338.3 114.5h4m-2-2v4M354.1 139.9h4m-2-2v4M286.5 68.4h4m-2-2v4M346.7 128.4h4m-2-2v4M329.9 102.1h4m-2-2v4M318.9 92.6h4m-2-2v4M342.4 120h4m-2-2v4M350.6 129.3h4m-2-2v4M368.2 143.3h4m-2-2v4M349 136.4h4m-2-2v4M345.6 124.4h4m-2-2v4M321.2 88.3h4m-2-2v4M296.7 53.8h4m-2-2v4M322.2 88.9h4m-2-2v4M303.8 77.4h4m-2-2v4M313.2 91.8h4m-2-2v4M288.4 61.2h4m-2-2v4M374.8 150h4m-2-2v4M370.1 145.5h4m-2-2v4M360.8 135.3h4m-2-2v4M352.6 136.1h4m-2-2v4M303.5 75.3h4m-2-2v4M281.2 64.1h4m-2-2v4M365.6 140.4h4m-2-2v4M311.2 82.7h4m-2-2v4M354.7 131.2h4m-2-2v4M356.6 136.2h4m-2-2v4M289.4 52.7h4m-2-2v4M309.8 82.2h4m-2-2v4M315 91.2h4m-2-2v4M373.3 152.1h4m-2-2v4M330.9 99.5h4m-2-2v4M331.7 94.8h4m-2-2v4M318.9 88.5h4m-2-2v4M346.4 124.1h4m-2-2v4M287.9 66.5h4m-2-2v4M307.2 72.5h4m-2-2v4M280.5 62.7h4m-2-2v4M349 126.1h4m-2-2v4M296.4 63.6h4m-2-2v4M346.1 126.8h4m-2-2v4M351.9 130.6h4m-2-2v4M303.4 77.6h4m-2-2v4M281.9 55.7h4m-2-2v4M387.6 154.7h4m-2-2v4M400.4 158.8h4m-2-2v4M394.1 155.9h4m-2-2v4M394.2 155.8h4m-2-2v4M389.2 156.2h4m-2-2v4M385.2 154.6h4m-2-2v4M390.2 156.3h4m-2-2v4M386 153h4m-2-2v4M400.5 158.7h4m-2-2v4M388.7 153.1h4m-2-2v4M387.1 155.1h4m-2-2v4M389.2 154.8h4m-2-2v4M395.8 157.6h4m-2-2v4M396.4 159.3h4m-2-2v4M399.9 159.6h4m-2-2v4M398.2 160.1h4m-2-2v4M398.1 159.4h4m-2-2v4M398.6 157.4h4m-2-2v4M395.4 158.2h4m-2-2v4M384.2 153.5h4m-2-2v4M399.4 160.1h4m-2-2v4M395.2 156.8h4m-2-2v4M395.3 158.5h4m-2-2v4M386.5 154.9h4m-2-2v4M400.7 159.8h4m-2-2v4M395.1 156.8h4m-2-2v4M387.8 155.6h4m-2-2v4M384.3 150.9h4m-2-2v4M386.3 151.3h4m-2-2v4M390.2 153.9h4m-2-2v4M386.4 152h4m-2-2v4M388.3 154.6h4m-2-2v4M392.9 157.7h4m-2-2v4M388.3 152.8h4m-2-2v4M388.9 154.8h4m-2-2v4M429.2 165.6h4m-2-2v4M417 165.4h4m-2-2v4M421.1 165.1h4m-2-2v4M426.6 164.9h4m-2-2v4M431.5 166h4m-2-2v4M427.1 164h4m-2-2v4M417.9 166h4m-2-2v4M422.2 165.8h4m-2-2v4M422.7 164.2h4m-2-2v4M414.8 165.8h4m-2-2v4M423.1 165.6h4m-2-2v4M417.8 164.7h4m-2-2v4M415.4 165.9h4m-2-2v4M420.6 164.7h4m-2-2v4M432.9 164.8h4m-2-2v4M414.4 165.5h4m-2-2v4M428.8 164.7h4m-2-2v4M431.5 163.8h4m-2-2v4M431.2 165.8h4m-2-2v4M433 164.9h4m-2-2v4M418 165.6h4m-2-2v4M431.4 165.6h4m-2-2v4M414.6 165.3h4m-2-2v4M432.6 165h4m-2-2v4M428.5 165.9h4m-2-2v4" stroke="#2c6464" stroke-width="0.8" fill="none" opacity="1.0" clip-path="url(#cb)"/>
<path d="M269.6 61.7h4.6m-2.3-2.3v4.6M268.6 68.6h4.6m-2.3-2.3v4.6M272.5 50.8h4.6m-2.3-2.3v4.6M274.5 54.8h4.6m-2.3-2.3v4.6M281.4 57.7h4.6m-2.3-2.3v4.6M286.3 51.3h4.6m-2.3-2.3v4.6M291.1 49h4.6m-2.3-2.3v4.6M273 59.8h4.6m-2.3-2.3v4.6" stroke="#5f9f9c" stroke-width="0.8" fill="none" opacity="1.0" clip-path="url(#cb)"/>
<path d="M269.3 164.5L285.2 161.9L299.9 157.1L312.2 151.7L324.6 143.2L334.4 133.1L349.3 118.5L359.5 102.2L368.9 87.5L376.3 79.8L378.7 78.2L378 79.8L378 87.8L378.7 93.2L376.3 100.2L368.9 116.4L359.5 128.8L349.3 141.1L334.4 152.7L324.6 161.2L312.2 164.7L299.9 165.1L285.2 165.1L269.3 165.1Z" fill="#2a1b58" opacity="1.0" clip-path="url(#cb)"/>
<path d="M386 70.5L389 59.7L393.4 50.4L397.9 40.3L400.8 37.3L403.1 38L403.1 46.8L400.8 52.2L397.9 58.4L393.4 68.5L389 75.4L386 78.5Z" fill="#2a1b58" opacity="1.0" clip-path="url(#cb)"/>
<path d="M413.7 40.3L415.6 28.7L420 26.4L424.4 28.7L428.9 38L428.9 51.9L428.9 64.6L428.9 63.1L424.4 49.1L420 56.9L415.6 63.8L413.7 64.6Z" fill="#2a1b58" opacity="1.0" clip-path="url(#cb)"/>
<path d="M431 45.8L433.3 34.2L438.5 36.5L438.5 56.9L433.3 60.7L431 64.6Z" fill="#2a1b58" opacity="1.0" clip-path="url(#cb)"/>
<path d="M316.7 158.5h3.4m-1.7-1.7v3.4M289.1 161.3h3.4m-1.7-1.7v3.4M306.5 164.5h3.4m-1.7-1.7v3.4M375.9 87.9h3.4m-1.7-1.7v3.4M286.3 166.4h3.4m-1.7-1.7v3.4M339 137h3.4m-1.7-1.7v3.4M268.9 164.7h3.4m-1.7-1.7v3.4M348.8 127.2h3.4m-1.7-1.7v3.4M292.3 162.1h3.4m-1.7-1.7v3.4M333.6 138.6h3.4m-1.7-1.7v3.4M282.4 161.8h3.4m-1.7-1.7v3.4M371.6 88.4h3.4m-1.7-1.7v3.4M361.8 113.7h3.4m-1.7-1.7v3.4M366.9 112.5h3.4m-1.7-1.7v3.4M291.5 161.4h3.4m-1.7-1.7v3.4M366.7 115.8h3.4m-1.7-1.7v3.4M290.4 166.2h3.4m-1.7-1.7v3.4M315.1 162.3h3.4m-1.7-1.7v3.4M287.6 161h3.4m-1.7-1.7v3.4M331.2 134.5h3.4m-1.7-1.7v3.4M311 155.1h3.4m-1.7-1.7v3.4M267.6 163.1h3.4m-1.7-1.7v3.4M292.2 162.3h3.4m-1.7-1.7v3.4M323.2 142.5h3.4m-1.7-1.7v3.4M321.1 143.2h3.4m-1.7-1.7v3.4M335.5 147h3.4m-1.7-1.7v3.4M359.2 122.3h3.4m-1.7-1.7v3.4M377.7 84.4h3.4m-1.7-1.7v3.4M291.4 158.3h3.4m-1.7-1.7v3.4M302.1 161.3h3.4m-1.7-1.7v3.4M304.5 157.4h3.4m-1.7-1.7v3.4M268.8 165.1h3.4m-1.7-1.7v3.4M284.3 161.4h3.4m-1.7-1.7v3.4M266.2 164.4h3.4m-1.7-1.7v3.4M294.9 162.1h3.4m-1.7-1.7v3.4M328.8 141.9h3.4m-1.7-1.7v3.4M281.6 165.1h3.4m-1.7-1.7v3.4M279.6 161.3h3.4m-1.7-1.7v3.4M282.8 165.7h3.4m-1.7-1.7v3.4M324.4 149h3.4m-1.7-1.7v3.4M365 118.9h3.4m-1.7-1.7v3.4M292.3 165h3.4m-1.7-1.7v3.4M331.5 145.1h3.4m-1.7-1.7v3.4M311.8 151.2h3.4m-1.7-1.7v3.4M340 127.9h3.4m-1.7-1.7v3.4M372.9 98.5h3.4m-1.7-1.7v3.4M371.2 97.9h3.4m-1.7-1.7v3.4M272 162.6h3.4m-1.7-1.7v3.4M277.8 166.4h3.4m-1.7-1.7v3.4M298.5 163.3h3.4m-1.7-1.7v3.4M374 82.1h3.4m-1.7-1.7v3.4M313 156.5h3.4m-1.7-1.7v3.4M360.8 101.8h3.4m-1.7-1.7v3.4M339.1 137h3.4m-1.7-1.7v3.4M279.2 165.2h3.4m-1.7-1.7v3.4M339.6 134.8h3.4m-1.7-1.7v3.4M355.5 107.3h3.4m-1.7-1.7v3.4M373.5 99.3h3.4m-1.7-1.7v3.4M274.7 162.3h3.4m-1.7-1.7v3.4M329.8 152.6h3.4m-1.7-1.7v3.4M343.4 139.5h3.4m-1.7-1.7v3.4M292.6 163.2h3.4m-1.7-1.7v3.4M324.6 146.8h3.4m-1.7-1.7v3.4M274.4 163.1h3.4m-1.7-1.7v3.4M335.8 140.8h3.4m-1.7-1.7v3.4M341.1 128.2h3.4m-1.7-1.7v3.4M267.3 164.8h3.4m-1.7-1.7v3.4M341.8 129.8h3.4m-1.7-1.7v3.4M338.4 145.4h3.4m-1.7-1.7v3.4M373.1 85.3h3.4m-1.7-1.7v3.4M292.2 162.7h3.4m-1.7-1.7v3.4M373 99.9h3.4m-1.7-1.7v3.4M311.8 150h3.4m-1.7-1.7v3.4M366.6 111.3h3.4m-1.7-1.7v3.4M348.2 132.6h3.4m-1.7-1.7v3.4M340.2 129.9h3.4m-1.7-1.7v3.4M280.4 165.3h3.4m-1.7-1.7v3.4M290.2 164.3h3.4m-1.7-1.7v3.4M270.2 166h3.4m-1.7-1.7v3.4M311.5 159h3.4m-1.7-1.7v3.4M274.9 163.8h3.4m-1.7-1.7v3.4M371.3 93.3h3.4m-1.7-1.7v3.4M305.9 156.4h3.4m-1.7-1.7v3.4M314.9 161.8h3.4m-1.7-1.7v3.4M319.9 163.1h3.4m-1.7-1.7v3.4M341.6 143.3h3.4m-1.7-1.7v3.4M307.4 152.2h3.4m-1.7-1.7v3.4M351.7 114.9h3.4m-1.7-1.7v3.4M337.8 135.3h3.4m-1.7-1.7v3.4M344.8 120.7h3.4m-1.7-1.7v3.4M288.1 160.8h3.4m-1.7-1.7v3.4M299.7 163.5h3.4m-1.7-1.7v3.4M357.8 112.4h3.4m-1.7-1.7v3.4M360.9 99.6h3.4m-1.7-1.7v3.4M331.9 150.4h3.4m-1.7-1.7v3.4M267.9 164.5h3.4m-1.7-1.7v3.4M347.1 136h3.4m-1.7-1.7v3.4M274 166.5h3.4m-1.7-1.7v3.4M285.5 161.9h3.4m-1.7-1.7v3.4M266.6 165.7h3.4m-1.7-1.7v3.4M295.8 159.4h3.4m-1.7-1.7v3.4M376.3 96.3h3.4m-1.7-1.7v3.4M278.9 161.6h3.4m-1.7-1.7v3.4M374.3 98.6h3.4m-1.7-1.7v3.4M303.6 159.5h3.4m-1.7-1.7v3.4M301.9 161.2h3.4m-1.7-1.7v3.4M319.6 158.5h3.4m-1.7-1.7v3.4M272.3 166.1h3.4m-1.7-1.7v3.4M284.3 165.9h3.4m-1.7-1.7v3.4M335.8 135.6h3.4m-1.7-1.7v3.4M295.5 158.6h3.4m-1.7-1.7v3.4M347.5 133.9h3.4m-1.7-1.7v3.4M321 159.4h3.4m-1.7-1.7v3.4M369.8 96h3.4m-1.7-1.7v3.4M271.9 165.8h3.4m-1.7-1.7v3.4M343.4 136.3h3.4m-1.7-1.7v3.4M346.1 137.9h3.4m-1.7-1.7v3.4M355.1 110.7h3.4m-1.7-1.7v3.4M276.7 163.6h3.4m-1.7-1.7v3.4M287.5 161.3h3.4m-1.7-1.7v3.4M355.8 109.8h3.4m-1.7-1.7v3.4M292 165.7h3.4m-1.7-1.7v3.4M340.2 134.8h3.4m-1.7-1.7v3.4M281.6 165.4h3.4m-1.7-1.7v3.4M331.1 153.1h3.4m-1.7-1.7v3.4M336.9 145.2h3.4m-1.7-1.7v3.4M295 162.4h3.4m-1.7-1.7v3.4M325.6 144.8h3.4m-1.7-1.7v3.4M269.6 163.7h3.4m-1.7-1.7v3.4M290.8 164.1h3.4m-1.7-1.7v3.4M337.5 134.2h3.4m-1.7-1.7v3.4M334.7 131.9h3.4m-1.7-1.7v3.4M289 164.1h3.4m-1.7-1.7v3.4M340.1 142.1h3.4m-1.7-1.7v3.4M283.7 165.1h3.4m-1.7-1.7v3.4M352.2 114.4h3.4m-1.7-1.7v3.4M346.1 119.6h3.4m-1.7-1.7v3.4M354.8 125.1h3.4m-1.7-1.7v3.4M301.4 157.7h3.4m-1.7-1.7v3.4M272.4 163.9h3.4m-1.7-1.7v3.4M276.1 166.3h3.4m-1.7-1.7v3.4M323.5 159h3.4m-1.7-1.7v3.4M370.1 86.6h3.4m-1.7-1.7v3.4M317.7 160.4h3.4m-1.7-1.7v3.4M279.5 163.8h3.4m-1.7-1.7v3.4M324.3 153.7h3.4m-1.7-1.7v3.4M346.1 130.4h3.4m-1.7-1.7v3.4M352.7 133.4h3.4m-1.7-1.7v3.4M274 164.7h3.4m-1.7-1.7v3.4M320.1 158.4h3.4m-1.7-1.7v3.4M340.7 142.5h3.4m-1.7-1.7v3.4M301.7 160.6h3.4m-1.7-1.7v3.4M345.6 124.8h3.4m-1.7-1.7v3.4M307.6 159.6h3.4m-1.7-1.7v3.4M369.6 85.5h3.4m-1.7-1.7v3.4M335.2 149.8h3.4m-1.7-1.7v3.4M317 152.5h3.4m-1.7-1.7v3.4M297.3 166.1h3.4m-1.7-1.7v3.4M375.6 79.6h3.4m-1.7-1.7v3.4M280.6 163.9h3.4m-1.7-1.7v3.4M335.3 145.2h3.4m-1.7-1.7v3.4M273.8 163.1h3.4m-1.7-1.7v3.4M352.1 125.1h3.4m-1.7-1.7v3.4M275.8 164.6h3.4m-1.7-1.7v3.4M276.7 161.7h3.4m-1.7-1.7v3.4M271.9 165.3h3.4m-1.7-1.7v3.4M351.8 133.7h3.4m-1.7-1.7v3.4M278.1 166.1h3.4m-1.7-1.7v3.4M284.5 163.2h3.4m-1.7-1.7v3.4M359.1 123.4h3.4m-1.7-1.7v3.4M285.6 161.4h3.4m-1.7-1.7v3.4M313.7 159.4h3.4m-1.7-1.7v3.4M279.9 165.2h3.4m-1.7-1.7v3.4M374.5 98.9h3.4m-1.7-1.7v3.4M295.1 159.2h3.4m-1.7-1.7v3.4M365.6 91.6h3.4m-1.7-1.7v3.4M318.9 145.3h3.4m-1.7-1.7v3.4M333.6 146.9h3.4m-1.7-1.7v3.4M318.1 150.4h3.4m-1.7-1.7v3.4M348 138.6h3.4m-1.7-1.7v3.4M287.8 159.4h3.4m-1.7-1.7v3.4M278.1 162.3h3.4m-1.7-1.7v3.4M304 163.1h3.4m-1.7-1.7v3.4M294.6 162h3.4m-1.7-1.7v3.4M376.6 92.8h3.4m-1.7-1.7v3.4M361.5 115.6h3.4m-1.7-1.7v3.4M285.5 161.6h3.4m-1.7-1.7v3.4M304.3 163.8h3.4m-1.7-1.7v3.4M312.9 151.7h3.4m-1.7-1.7v3.4M362.4 106.5h3.4m-1.7-1.7v3.4M267.4 163.8h3.4m-1.7-1.7v3.4M333.8 132.8h3.4m-1.7-1.7v3.4M372.3 98.1h3.4m-1.7-1.7v3.4M360.8 101.5h3.4m-1.7-1.7v3.4M295.9 162.8h3.4m-1.7-1.7v3.4M308 161h3.4m-1.7-1.7v3.4M308.4 164.5h3.4m-1.7-1.7v3.4M291.5 158.7h3.4m-1.7-1.7v3.4M312 155.2h3.4m-1.7-1.7v3.4M365.1 97h3.4m-1.7-1.7v3.4M293.4 158h3.4m-1.7-1.7v3.4M355.9 104.1h3.4m-1.7-1.7v3.4M347.4 123.5h3.4m-1.7-1.7v3.4M356.8 123.9h3.4m-1.7-1.7v3.4M339.3 139.9h3.4m-1.7-1.7v3.4M359.8 123.5h3.4m-1.7-1.7v3.4M326.3 152.5h3.4m-1.7-1.7v3.4M357.7 120.1h3.4m-1.7-1.7v3.4M360.3 101.4h3.4m-1.7-1.7v3.4M364.2 117.4h3.4m-1.7-1.7v3.4M370.8 89.4h3.4m-1.7-1.7v3.4M341.7 131.3h3.4m-1.7-1.7v3.4M271.6 162.9h3.4m-1.7-1.7v3.4M327.3 149h3.4m-1.7-1.7v3.4M304 156h3.4m-1.7-1.7v3.4M353.4 111.3h3.4m-1.7-1.7v3.4M290.1 163.7h3.4m-1.7-1.7v3.4M294 165.6h3.4m-1.7-1.7v3.4M302.7 166h3.4m-1.7-1.7v3.4M355 127.1h3.4m-1.7-1.7v3.4M274.1 166.2h3.4m-1.7-1.7v3.4M348.8 135.9h3.4m-1.7-1.7v3.4M317.7 156.5h3.4m-1.7-1.7v3.4M355.7 105.5h3.4m-1.7-1.7v3.4M300.8 158.9h3.4m-1.7-1.7v3.4M366 104.7h3.4m-1.7-1.7v3.4M366.5 95.6h3.4m-1.7-1.7v3.4M300.9 156h3.4m-1.7-1.7v3.4M330.1 154h3.4m-1.7-1.7v3.4M331.7 136.5h3.4m-1.7-1.7v3.4M324 151.5h3.4m-1.7-1.7v3.4M312.6 150.8h3.4m-1.7-1.7v3.4M340.4 143.1h3.4m-1.7-1.7v3.4M306.6 161.1h3.4m-1.7-1.7v3.4M373.1 87.5h3.4m-1.7-1.7v3.4M280.1 161.5h3.4m-1.7-1.7v3.4M270.1 164.2h3.4m-1.7-1.7v3.4M314.4 152.5h3.4m-1.7-1.7v3.4M314.1 163.5h3.4m-1.7-1.7v3.4M324.6 143.8h3.4m-1.7-1.7v3.4M354.2 124.6h3.4m-1.7-1.7v3.4M291 160.2h3.4m-1.7-1.7v3.4M355.6 126.6h3.4m-1.7-1.7v3.4M364.7 90.3h3.4m-1.7-1.7v3.4M314.5 158.3h3.4m-1.7-1.7v3.4M345.3 121h3.4m-1.7-1.7v3.4M288.7 164.2h3.4m-1.7-1.7v3.4M302.9 157h3.4m-1.7-1.7v3.4M287 162.6h3.4m-1.7-1.7v3.4M322 149.2h3.4m-1.7-1.7v3.4M282.2 161h3.4m-1.7-1.7v3.4M377.7 83.1h3.4m-1.7-1.7v3.4M354.9 128.5h3.4m-1.7-1.7v3.4M367.7 99.6h3.4m-1.7-1.7v3.4M350.9 115.3h3.4m-1.7-1.7v3.4M306.5 153.1h3.4m-1.7-1.7v3.4M289.3 166.3h3.4m-1.7-1.7v3.4M322.2 144.3h3.4m-1.7-1.7v3.4M366.6 88.5h3.4m-1.7-1.7v3.4M323.2 142.9h3.4m-1.7-1.7v3.4M328.6 154.5h3.4m-1.7-1.7v3.4M336.6 132.4h3.4m-1.7-1.7v3.4M313.5 155h3.4m-1.7-1.7v3.4M295.1 163.8h3.4m-1.7-1.7v3.4M313.1 156.7h3.4m-1.7-1.7v3.4M318.4 162.1h3.4m-1.7-1.7v3.4M266.8 165.3h3.4m-1.7-1.7v3.4M346.1 124.8h3.4m-1.7-1.7v3.4M292.6 164.2h3.4m-1.7-1.7v3.4M323.8 158.2h3.4m-1.7-1.7v3.4M333.4 133.1h3.4m-1.7-1.7v3.4M288.7 162h3.4m-1.7-1.7v3.4M346.6 124.4h3.4m-1.7-1.7v3.4M345.6 126.3h3.4m-1.7-1.7v3.4M296.6 157.9h3.4m-1.7-1.7v3.4M369.3 111.6h3.4m-1.7-1.7v3.4M371.5 96.6h3.4m-1.7-1.7v3.4M275.8 166.2h3.4m-1.7-1.7v3.4M355 114.3h3.4m-1.7-1.7v3.4M282 163.9h3.4m-1.7-1.7v3.4M395.6 40.3h3.4m-1.7-1.7v3.4M389.6 58.1h3.4m-1.7-1.7v3.4M387.8 72.4h3.4m-1.7-1.7v3.4M386.1 70.9h3.4m-1.7-1.7v3.4M395.2 55.7h3.4m-1.7-1.7v3.4M386.1 74.1h3.4m-1.7-1.7v3.4M384.6 76.1h3.4m-1.7-1.7v3.4M389.2 64h3.4m-1.7-1.7v3.4M386.5 69.1h3.4m-1.7-1.7v3.4M391.6 49.7h3.4m-1.7-1.7v3.4M392.6 48.3h3.4m-1.7-1.7v3.4M392.3 64.5h3.4m-1.7-1.7v3.4M394.7 60.2h3.4m-1.7-1.7v3.4M386.2 76.3h3.4m-1.7-1.7v3.4M396.8 38.9h3.4m-1.7-1.7v3.4M390.9 63.9h3.4m-1.7-1.7v3.4M391.3 63.2h3.4m-1.7-1.7v3.4M396.6 50.8h3.4m-1.7-1.7v3.4M385.9 63.9h3.4m-1.7-1.7v3.4M394.3 63.9h3.4m-1.7-1.7v3.4M399.8 40.5h3.4m-1.7-1.7v3.4M389.9 60.1h3.4m-1.7-1.7v3.4M401.2 44.8h3.4m-1.7-1.7v3.4M391.5 64h3.4m-1.7-1.7v3.4M393.9 51.1h3.4m-1.7-1.7v3.4M397.5 38.5h3.4m-1.7-1.7v3.4M385.8 72.1h3.4m-1.7-1.7v3.4M399.8 39.5h3.4m-1.7-1.7v3.4M394.6 49.1h3.4m-1.7-1.7v3.4M389.6 54.4h3.4m-1.7-1.7v3.4M393.8 56.7h3.4m-1.7-1.7v3.4M386.5 75.4h3.4m-1.7-1.7v3.4M400.8 39.2h3.4m-1.7-1.7v3.4M383.4 75.7h3.4m-1.7-1.7v3.4M392.4 57.9h3.4m-1.7-1.7v3.4M390.1 54.5h3.4m-1.7-1.7v3.4M389.8 62.2h3.4m-1.7-1.7v3.4M401.4 41.4h3.4m-1.7-1.7v3.4M392.4 61.5h3.4m-1.7-1.7v3.4M390.6 59.3h3.4m-1.7-1.7v3.4M398.5 50h3.4m-1.7-1.7v3.4M390.3 64.4h3.4m-1.7-1.7v3.4M390.1 54.1h3.4m-1.7-1.7v3.4M393.6 59.8h3.4m-1.7-1.7v3.4M389.5 57.2h3.4m-1.7-1.7v3.4M386.1 66.4h3.4m-1.7-1.7v3.4M383.3 77.4h3.4m-1.7-1.7v3.4M384.1 68.7h3.4m-1.7-1.7v3.4M385.8 74.2h3.4m-1.7-1.7v3.4M384 75.7h3.4m-1.7-1.7v3.4M397.5 43h3.4m-1.7-1.7v3.4M401 37h3.4m-1.7-1.7v3.4M393.9 45.8h3.4m-1.7-1.7v3.4M384.7 65.8h3.4m-1.7-1.7v3.4M391.5 66.2h3.4m-1.7-1.7v3.4M397.8 40h3.4m-1.7-1.7v3.4M390.6 69.8h3.4m-1.7-1.7v3.4M400.3 40h3.4m-1.7-1.7v3.4M394.8 42.6h3.4m-1.7-1.7v3.4M383.6 78.7h3.4m-1.7-1.7v3.4M412.9 64.7h3.4m-1.7-1.7v3.4M423.4 37.5h3.4m-1.7-1.7v3.4M412.7 60h3.4m-1.7-1.7v3.4M413.9 42.1h3.4m-1.7-1.7v3.4M422.7 28.1h3.4m-1.7-1.7v3.4M417.1 26.4h3.4m-1.7-1.7v3.4M418.5 45.1h3.4m-1.7-1.7v3.4M415.2 54.7h3.4m-1.7-1.7v3.4M428.2 46.3h3.4m-1.7-1.7v3.4M423.3 48.3h3.4m-1.7-1.7v3.4M413.9 59.5h3.4m-1.7-1.7v3.4M417 34.8h3.4m-1.7-1.7v3.4M411.7 49.5h3.4m-1.7-1.7v3.4M422.9 50.2h3.4m-1.7-1.7v3.4M418.6 32h3.4m-1.7-1.7v3.4M421 41.3h3.4m-1.7-1.7v3.4M426.5 46.1h3.4m-1.7-1.7v3.4M416.7 47h3.4m-1.7-1.7v3.4M427.6 44.3h3.4m-1.7-1.7v3.4M427.1 48.7h3.4m-1.7-1.7v3.4M413.2 59.2h3.4m-1.7-1.7v3.4M417.5 36h3.4m-1.7-1.7v3.4M410.7 44.1h3.4m-1.7-1.7v3.4M424.8 43.9h3.4m-1.7-1.7v3.4M410.7 44.1h3.4m-1.7-1.7v3.4M418.1 36.2h3.4m-1.7-1.7v3.4M420.9 33.8h3.4m-1.7-1.7v3.4M418 26.5h3.4m-1.7-1.7v3.4M427.8 44.6h3.4m-1.7-1.7v3.4M421.7 44.3h3.4m-1.7-1.7v3.4M417.4 50.5h3.4m-1.7-1.7v3.4M426.9 41.8h3.4m-1.7-1.7v3.4M424.8 36.3h3.4m-1.7-1.7v3.4M428.5 54.2h3.4m-1.7-1.7v3.4M416.4 34.6h3.4m-1.7-1.7v3.4M415.4 40.7h3.4m-1.7-1.7v3.4M413.5 34h3.4m-1.7-1.7v3.4M419.4 47.9h3.4m-1.7-1.7v3.4M427.3 62.3h3.4m-1.7-1.7v3.4M427.4 45h3.4m-1.7-1.7v3.4M413.3 38h3.4m-1.7-1.7v3.4M421 28.9h3.4m-1.7-1.7v3.4M421.2 41.8h3.4m-1.7-1.7v3.4M427.4 62.5h3.4m-1.7-1.7v3.4M424.6 53.9h3.4m-1.7-1.7v3.4M415.6 58.4h3.4m-1.7-1.7v3.4M426.3 49.9h3.4m-1.7-1.7v3.4M423.7 47.4h3.4m-1.7-1.7v3.4M423.8 38.1h3.4m-1.7-1.7v3.4M412.4 49.3h3.4m-1.7-1.7v3.4M423.6 48.2h3.4m-1.7-1.7v3.4M422.4 44.5h3.4m-1.7-1.7v3.4M417.3 28.3h3.4m-1.7-1.7v3.4M427.6 40.9h3.4m-1.7-1.7v3.4M418.3 39.3h3.4m-1.7-1.7v3.4M425.2 38.7h3.4m-1.7-1.7v3.4M418.9 29.7h3.4m-1.7-1.7v3.4M417.9 26.9h3.4m-1.7-1.7v3.4M419.1 53.1h3.4m-1.7-1.7v3.4M424.1 51.3h3.4m-1.7-1.7v3.4M422.9 49.7h3.4m-1.7-1.7v3.4M428.4 56.5h3.4m-1.7-1.7v3.4M424 51.2h3.4m-1.7-1.7v3.4M422.1 42.4h3.4m-1.7-1.7v3.4M415.1 33.5h3.4m-1.7-1.7v3.4M411.2 52h3.4m-1.7-1.7v3.4M412.2 38.2h3.4m-1.7-1.7v3.4M426.7 62.1h3.4m-1.7-1.7v3.4M419 42.2h3.4m-1.7-1.7v3.4M423.6 35.6h3.4m-1.7-1.7v3.4M416.8 28.1h3.4m-1.7-1.7v3.4M414 59.9h3.4m-1.7-1.7v3.4M425.3 55.5h3.4m-1.7-1.7v3.4M414 46.2h3.4m-1.7-1.7v3.4M416.7 55.1h3.4m-1.7-1.7v3.4M427.4 52.3h3.4m-1.7-1.7v3.4M424.8 50.6h3.4m-1.7-1.7v3.4M427.1 58h3.4m-1.7-1.7v3.4M427 46.9h3.4m-1.7-1.7v3.4M428.1 50.2h3.4m-1.7-1.7v3.4M434.4 46.2h3.4m-1.7-1.7v3.4M436.7 48.2h3.4m-1.7-1.7v3.4M428.9 43.2h3.4m-1.7-1.7v3.4M436.2 42.3h3.4m-1.7-1.7v3.4M435.6 53.9h3.4m-1.7-1.7v3.4M432.7 38.2h3.4m-1.7-1.7v3.4M437.9 36.7h3.4m-1.7-1.7v3.4M429.6 47.1h3.4m-1.7-1.7v3.4M433.6 49.8h3.4m-1.7-1.7v3.4M429.6 60.7h3.4m-1.7-1.7v3.4M432.8 47.5h3.4m-1.7-1.7v3.4M430.7 53h3.4m-1.7-1.7v3.4M433.6 40h3.4m-1.7-1.7v3.4M434 56.3h3.4m-1.7-1.7v3.4M437.1 50h3.4m-1.7-1.7v3.4M437.8 35.4h3.4m-1.7-1.7v3.4M429.4 50.1h3.4m-1.7-1.7v3.4M437.9 49.4h3.4m-1.7-1.7v3.4M433.6 52.3h3.4m-1.7-1.7v3.4M428.2 61.1h3.4m-1.7-1.7v3.4M429.2 57.7h3.4m-1.7-1.7v3.4M434.4 45.4h3.4m-1.7-1.7v3.4M437.7 42.3h3.4m-1.7-1.7v3.4M431.7 34.3h3.4m-1.7-1.7v3.4M434.5 46h3.4m-1.7-1.7v3.4M436.8 42.7h3.4m-1.7-1.7v3.4M431.6 44.4h3.4m-1.7-1.7v3.4M431 35.5h3.4m-1.7-1.7v3.4M430.4 37.2h3.4m-1.7-1.7v3.4M428.6 65.1h3.4m-1.7-1.7v3.4M433.6 55.3h3.4m-1.7-1.7v3.4M433.2 57.9h3.4m-1.7-1.7v3.4M436.6 42.7h3.4m-1.7-1.7v3.4M435 35.9h3.4m-1.7-1.7v3.4M438.2 42.5h3.4m-1.7-1.7v3.4M435.3 59.9h3.4m-1.7-1.7v3.4M428.4 55.8h3.4m-1.7-1.7v3.4M437.9 51.1h3.4m-1.7-1.7v3.4M433.8 60.6h3.4m-1.7-1.7v3.4M432.2 35.8h3.4m-1.7-1.7v3.4M434 38.4h3.4m-1.7-1.7v3.4M428 61.4h3.4m-1.7-1.7v3.4M429.8 42.8h3.4m-1.7-1.7v3.4M429 42.7h3.4m-1.7-1.7v3.4M430.7 38.9h3.4m-1.7-1.7v3.4M433.2 52.2h3.4m-1.7-1.7v3.4M437.9 48.9h3.4m-1.7-1.7v3.4M435.1 58.3h3.4m-1.7-1.7v3.4M436.5 34.9h3.4m-1.7-1.7v3.4M429.1 46.9h3.4m-1.7-1.7v3.4M317.1 157.2l2.7 2.7m0-2.7l-2.7 2.7M289.4 160l2.7 2.7m0-2.7l-2.7 2.7M306.8 163.2l2.7 2.7m0-2.7l-2.7 2.7M376.3 86.6l2.7 2.7m0-2.7l-2.7 2.7M286.6 165.1l2.7 2.7m0-2.7l-2.7 2.7M339.3 135.6l2.7 2.7m0-2.7l-2.7 2.7M269.3 163.4l2.7 2.7m0-2.7l-2.7 2.7M349.1 125.8l2.7 2.7m0-2.7l-2.7 2.7M292.6 160.7l2.7 2.7m0-2.7l-2.7 2.7M334 137.3l2.7 2.7m0-2.7l-2.7 2.7M282.7 160.5l2.7 2.7m0-2.7l-2.7 2.7M372 87l2.7 2.7m0-2.7l-2.7 2.7M362.1 112.4l2.7 2.7m0-2.7l-2.7 2.7M367.2 111.2l2.7 2.7m0-2.7l-2.7 2.7M291.8 160l2.7 2.7m0-2.7l-2.7 2.7M367.1 114.5l2.7 2.7m0-2.7l-2.7 2.7M290.7 164.8l2.7 2.7m0-2.7l-2.7 2.7M315.5 161l2.7 2.7m0-2.7l-2.7 2.7M287.9 159.7l2.7 2.7m0-2.7l-2.7 2.7M331.6 133.2l2.7 2.7m0-2.7l-2.7 2.7M311.4 153.7l2.7 2.7m0-2.7l-2.7 2.7M267.9 161.7l2.7 2.7m0-2.7l-2.7 2.7M292.5 160.9l2.7 2.7m0-2.7l-2.7 2.7M323.6 141.1l2.7 2.7m0-2.7l-2.7 2.7M321.4 141.8l2.7 2.7m0-2.7l-2.7 2.7M335.8 145.6l2.7 2.7m0-2.7l-2.7 2.7M359.5 120.9l2.7 2.7m0-2.7l-2.7 2.7M378 83l2.7 2.7m0-2.7l-2.7 2.7M291.8 156.9l2.7 2.7m0-2.7l-2.7 2.7M302.4 160l2.7 2.7m0-2.7l-2.7 2.7M304.8 156l2.7 2.7m0-2.7l-2.7 2.7M269.1 163.7l2.7 2.7m0-2.7l-2.7 2.7M284.6 160l2.7 2.7m0-2.7l-2.7 2.7M266.6 163.1l2.7 2.7m0-2.7l-2.7 2.7M295.3 160.7l2.7 2.7m0-2.7l-2.7 2.7M329.2 140.6l2.7 2.7m0-2.7l-2.7 2.7M281.9 163.8l2.7 2.7m0-2.7l-2.7 2.7M280 160l2.7 2.7m0-2.7l-2.7 2.7M283.2 164.3l2.7 2.7m0-2.7l-2.7 2.7M324.8 147.7l2.7 2.7m0-2.7l-2.7 2.7M365.4 117.5l2.7 2.7m0-2.7l-2.7 2.7M292.7 163.7l2.7 2.7m0-2.7l-2.7 2.7M331.8 143.7l2.7 2.7m0-2.7l-2.7 2.7M312.1 149.8l2.7 2.7m0-2.7l-2.7 2.7M340.3 126.5l2.7 2.7m0-2.7l-2.7 2.7M373.2 97.2l2.7 2.7m0-2.7l-2.7 2.7M371.6 96.6l2.7 2.7m0-2.7l-2.7 2.7M272.3 161.3l2.7 2.7m0-2.7l-2.7 2.7M278.1 165.1l2.7 2.7m0-2.7l-2.7 2.7M298.8 162l2.7 2.7m0-2.7l-2.7 2.7M374.3 80.7l2.7 2.7m0-2.7l-2.7 2.7M313.4 155.1l2.7 2.7m0-2.7l-2.7 2.7M361.2 100.5l2.7 2.7m0-2.7l-2.7 2.7M339.4 135.6l2.7 2.7m0-2.7l-2.7 2.7M279.5 163.8l2.7 2.7m0-2.7l-2.7 2.7M339.9 133.4l2.7 2.7m0-2.7l-2.7 2.7M355.9 105.9l2.7 2.7m0-2.7l-2.7 2.7M373.8 97.9l2.7 2.7m0-2.7l-2.7 2.7M275 161l2.7 2.7m0-2.7l-2.7 2.7M330.1 151.3l2.7 2.7m0-2.7l-2.7 2.7M343.7 138.2l2.7 2.7m0-2.7l-2.7 2.7M292.9 161.9l2.7 2.7m0-2.7l-2.7 2.7M325 145.5l2.7 2.7m0-2.7l-2.7 2.7M274.7 161.7l2.7 2.7m0-2.7l-2.7 2.7M336.1 139.4l2.7 2.7m0-2.7l-2.7 2.7M341.5 126.9l2.7 2.7m0-2.7l-2.7 2.7M267.6 163.4l2.7 2.7m0-2.7l-2.7 2.7M342.1 128.5l2.7 2.7m0-2.7l-2.7 2.7M338.7 144.1l2.7 2.7m0-2.7l-2.7 2.7M373.4 84l2.7 2.7m0-2.7l-2.7 2.7M292.5 161.3l2.7 2.7m0-2.7l-2.7 2.7M373.3 98.5l2.7 2.7m0-2.7l-2.7 2.7M312.2 148.6l2.7 2.7m0-2.7l-2.7 2.7M366.9 110l2.7 2.7m0-2.7l-2.7 2.7M348.5 131.2l2.7 2.7m0-2.7l-2.7 2.7M340.5 128.6l2.7 2.7m0-2.7l-2.7 2.7M280.8 163.9l2.7 2.7m0-2.7l-2.7 2.7M290.5 163l2.7 2.7m0-2.7l-2.7 2.7M270.5 164.6l2.7 2.7m0-2.7l-2.7 2.7M311.8 157.6l2.7 2.7m0-2.7l-2.7 2.7M275.2 162.4l2.7 2.7m0-2.7l-2.7 2.7M371.6 91.9l2.7 2.7m0-2.7l-2.7 2.7M306.2 155.1l2.7 2.7m0-2.7l-2.7 2.7M315.3 160.4l2.7 2.7m0-2.7l-2.7 2.7M320.2 161.8l2.7 2.7m0-2.7l-2.7 2.7M341.9 141.9l2.7 2.7m0-2.7l-2.7 2.7M307.8 150.8l2.7 2.7m0-2.7l-2.7 2.7M352 113.6l2.7 2.7m0-2.7l-2.7 2.7M338.1 133.9l2.7 2.7m0-2.7l-2.7 2.7M345.1 119.3l2.7 2.7m0-2.7l-2.7 2.7M288.4 159.4l2.7 2.7m0-2.7l-2.7 2.7M300.1 162.2l2.7 2.7m0-2.7l-2.7 2.7M358.1 111.1l2.7 2.7m0-2.7l-2.7 2.7M361.3 98.3l2.7 2.7m0-2.7l-2.7 2.7M332.2 149.1l2.7 2.7m0-2.7l-2.7 2.7M268.2 163.2l2.7 2.7m0-2.7l-2.7 2.7M347.4 134.6l2.7 2.7m0-2.7l-2.7 2.7M274.4 165.1l2.7 2.7m0-2.7l-2.7 2.7M285.9 160.5l2.7 2.7m0-2.7l-2.7 2.7M267 164.3l2.7 2.7m0-2.7l-2.7 2.7M296.1 158l2.7 2.7m0-2.7l-2.7 2.7M376.6 94.9l2.7 2.7m0-2.7l-2.7 2.7M279.3 160.2l2.7 2.7m0-2.7l-2.7 2.7M374.7 97.3l2.7 2.7m0-2.7l-2.7 2.7M303.9 158.2l2.7 2.7m0-2.7l-2.7 2.7M302.2 159.9l2.7 2.7m0-2.7l-2.7 2.7M319.9 157.2l2.7 2.7m0-2.7l-2.7 2.7M272.7 164.8l2.7 2.7m0-2.7l-2.7 2.7M284.7 164.6l2.7 2.7m0-2.7l-2.7 2.7M336.1 134.3l2.7 2.7m0-2.7l-2.7 2.7M295.9 157.3l2.7 2.7m0-2.7l-2.7 2.7M347.8 132.6l2.7 2.7m0-2.7l-2.7 2.7M321.4 158l2.7 2.7m0-2.7l-2.7 2.7M370.1 94.7l2.7 2.7m0-2.7l-2.7 2.7M272.3 164.5l2.7 2.7m0-2.7l-2.7 2.7M343.8 134.9l2.7 2.7m0-2.7l-2.7 2.7M346.5 136.5l2.7 2.7m0-2.7l-2.7 2.7M355.4 109.3l2.7 2.7m0-2.7l-2.7 2.7M277 162.2l2.7 2.7m0-2.7l-2.7 2.7M287.9 160l2.7 2.7m0-2.7l-2.7 2.7M356.2 108.5l2.7 2.7m0-2.7l-2.7 2.7M292.3 164.3l2.7 2.7m0-2.7l-2.7 2.7M340.5 133.4l2.7 2.7m0-2.7l-2.7 2.7M282 164l2.7 2.7m0-2.7l-2.7 2.7M331.5 151.7l2.7 2.7m0-2.7l-2.7 2.7M337.2 143.9l2.7 2.7m0-2.7l-2.7 2.7M295.4 161l2.7 2.7m0-2.7l-2.7 2.7M326 143.5l2.7 2.7m0-2.7l-2.7 2.7M270 162.3l2.7 2.7m0-2.7l-2.7 2.7M291.2 162.7l2.7 2.7m0-2.7l-2.7 2.7M337.9 132.8l2.7 2.7m0-2.7l-2.7 2.7M335.1 130.6l2.7 2.7m0-2.7l-2.7 2.7M289.4 162.7l2.7 2.7m0-2.7l-2.7 2.7M340.4 140.8l2.7 2.7m0-2.7l-2.7 2.7M284.1 163.8l2.7 2.7m0-2.7l-2.7 2.7M352.5 113l2.7 2.7m0-2.7l-2.7 2.7M346.4 118.3l2.7 2.7m0-2.7l-2.7 2.7M355.1 123.7l2.7 2.7m0-2.7l-2.7 2.7M301.7 156.3l2.7 2.7m0-2.7l-2.7 2.7M272.7 162.5l2.7 2.7m0-2.7l-2.7 2.7M276.5 164.9l2.7 2.7m0-2.7l-2.7 2.7M323.8 157.6l2.7 2.7m0-2.7l-2.7 2.7M370.4 85.2l2.7 2.7m0-2.7l-2.7 2.7M318 159l2.7 2.7m0-2.7l-2.7 2.7M279.9 162.4l2.7 2.7m0-2.7l-2.7 2.7M324.7 152.4l2.7 2.7m0-2.7l-2.7 2.7M346.4 129l2.7 2.7m0-2.7l-2.7 2.7M353 132.1l2.7 2.7m0-2.7l-2.7 2.7M274.4 163.4l2.7 2.7m0-2.7l-2.7 2.7M320.5 157.1l2.7 2.7m0-2.7l-2.7 2.7M341.1 141.1l2.7 2.7m0-2.7l-2.7 2.7M302 159.2l2.7 2.7m0-2.7l-2.7 2.7M346 123.4l2.7 2.7m0-2.7l-2.7 2.7M308 158.3l2.7 2.7m0-2.7l-2.7 2.7M370 84.1l2.7 2.7m0-2.7l-2.7 2.7M335.5 148.4l2.7 2.7m0-2.7l-2.7 2.7M317.4 151.2l2.7 2.7m0-2.7l-2.7 2.7M297.6 164.7l2.7 2.7m0-2.7l-2.7 2.7M375.9 78.2l2.7 2.7m0-2.7l-2.7 2.7M280.9 162.6l2.7 2.7m0-2.7l-2.7 2.7M335.6 143.9l2.7 2.7m0-2.7l-2.7 2.7M274.2 161.7l2.7 2.7m0-2.7l-2.7 2.7M352.5 123.7l2.7 2.7m0-2.7l-2.7 2.7M276.1 163.2l2.7 2.7m0-2.7l-2.7 2.7M277 160.4l2.7 2.7m0-2.7l-2.7 2.7M272.3 163.9l2.7 2.7m0-2.7l-2.7 2.7M352.2 132.4l2.7 2.7m0-2.7l-2.7 2.7M278.4 164.8l2.7 2.7m0-2.7l-2.7 2.7M284.8 161.8l2.7 2.7m0-2.7l-2.7 2.7M359.4 122l2.7 2.7m0-2.7l-2.7 2.7M285.9 160.1l2.7 2.7m0-2.7l-2.7 2.7M314 158.1l2.7 2.7m0-2.7l-2.7 2.7M280.3 163.8l2.7 2.7m0-2.7l-2.7 2.7M374.9 97.6l2.7 2.7m0-2.7l-2.7 2.7M295.5 157.9l2.7 2.7m0-2.7l-2.7 2.7M366 90.2l2.7 2.7m0-2.7l-2.7 2.7M319.3 144l2.7 2.7m0-2.7l-2.7 2.7M333.9 145.6l2.7 2.7m0-2.7l-2.7 2.7M318.4 149.1l2.7 2.7m0-2.7l-2.7 2.7M348.4 137.3l2.7 2.7m0-2.7l-2.7 2.7M288.1 158.1l2.7 2.7m0-2.7l-2.7 2.7M278.5 160.9l2.7 2.7m0-2.7l-2.7 2.7M304.3 161.7l2.7 2.7m0-2.7l-2.7 2.7M295 160.6l2.7 2.7m0-2.7l-2.7 2.7M377 91.4l2.7 2.7m0-2.7l-2.7 2.7M361.8 114.2l2.7 2.7m0-2.7l-2.7 2.7M285.8 160.2l2.7 2.7m0-2.7l-2.7 2.7M304.6 162.5l2.7 2.7m0-2.7l-2.7 2.7M313.2 150.3l2.7 2.7m0-2.7l-2.7 2.7M362.8 105.1l2.7 2.7m0-2.7l-2.7 2.7M267.7 162.4l2.7 2.7m0-2.7l-2.7 2.7M334.2 131.5l2.7 2.7m0-2.7l-2.7 2.7M372.7 96.7l2.7 2.7m0-2.7l-2.7 2.7M361.1 100.2l2.7 2.7m0-2.7l-2.7 2.7M296.2 161.5l2.7 2.7m0-2.7l-2.7 2.7M308.3 159.6l2.7 2.7m0-2.7l-2.7 2.7M308.7 163.2l2.7 2.7m0-2.7l-2.7 2.7M291.9 157.3l2.7 2.7m0-2.7l-2.7 2.7M312.3 153.9l2.7 2.7m0-2.7l-2.7 2.7M365.5 95.6l2.7 2.7m0-2.7l-2.7 2.7M293.8 156.6l2.7 2.7m0-2.7l-2.7 2.7M356.2 102.7l2.7 2.7m0-2.7l-2.7 2.7M347.7 122.2l2.7 2.7m0-2.7l-2.7 2.7M357.2 122.6l2.7 2.7m0-2.7l-2.7 2.7M339.7 138.5l2.7 2.7m0-2.7l-2.7 2.7M360.2 122.1l2.7 2.7m0-2.7l-2.7 2.7M326.7 151.1l2.7 2.7m0-2.7l-2.7 2.7M358 118.7l2.7 2.7m0-2.7l-2.7 2.7M360.6 100.1l2.7 2.7m0-2.7l-2.7 2.7M364.5 116.1l2.7 2.7m0-2.7l-2.7 2.7M371.2 88l2.7 2.7m0-2.7l-2.7 2.7M342 129.9l2.7 2.7m0-2.7l-2.7 2.7M271.9 161.5l2.7 2.7m0-2.7l-2.7 2.7M327.6 147.6l2.7 2.7m0-2.7l-2.7 2.7M304.4 154.6l2.7 2.7m0-2.7l-2.7 2.7M353.8 110l2.7 2.7m0-2.7l-2.7 2.7M290.4 162.4l2.7 2.7m0-2.7l-2.7 2.7M294.3 164.2l2.7 2.7m0-2.7l-2.7 2.7M303 164.7l2.7 2.7m0-2.7l-2.7 2.7M355.4 125.7l2.7 2.7m0-2.7l-2.7 2.7M274.4 164.8l2.7 2.7m0-2.7l-2.7 2.7M349.2 134.5l2.7 2.7m0-2.7l-2.7 2.7M318.1 155.2l2.7 2.7m0-2.7l-2.7 2.7M356 104.1l2.7 2.7m0-2.7l-2.7 2.7M301.1 157.6l2.7 2.7m0-2.7l-2.7 2.7M366.3 103.3l2.7 2.7m0-2.7l-2.7 2.7M366.9 94.2l2.7 2.7m0-2.7l-2.7 2.7M301.3 154.6l2.7 2.7m0-2.7l-2.7 2.7M330.5 152.7l2.7 2.7m0-2.7l-2.7 2.7M332 135.1l2.7 2.7m0-2.7l-2.7 2.7M324.4 150.1l2.7 2.7m0-2.7l-2.7 2.7M313 149.4l2.7 2.7m0-2.7l-2.7 2.7M340.7 141.8l2.7 2.7m0-2.7l-2.7 2.7M306.9 159.7l2.7 2.7m0-2.7l-2.7 2.7M373.4 86.2l2.7 2.7m0-2.7l-2.7 2.7M280.5 160.2l2.7 2.7m0-2.7l-2.7 2.7M270.4 162.8l2.7 2.7m0-2.7l-2.7 2.7M314.7 151.2l2.7 2.7m0-2.7l-2.7 2.7M314.4 162.2l2.7 2.7m0-2.7l-2.7 2.7M324.9 142.5l2.7 2.7m0-2.7l-2.7 2.7M354.5 123.2l2.7 2.7m0-2.7l-2.7 2.7M291.3 158.9l2.7 2.7m0-2.7l-2.7 2.7M355.9 125.2l2.7 2.7m0-2.7l-2.7 2.7M365 88.9l2.7 2.7m0-2.7l-2.7 2.7M314.9 157l2.7 2.7m0-2.7l-2.7 2.7M345.7 119.7l2.7 2.7m0-2.7l-2.7 2.7M289 162.8l2.7 2.7m0-2.7l-2.7 2.7M303.2 155.7l2.7 2.7m0-2.7l-2.7 2.7M287.4 161.2l2.7 2.7m0-2.7l-2.7 2.7M322.3 147.8l2.7 2.7m0-2.7l-2.7 2.7M282.5 159.6l2.7 2.7m0-2.7l-2.7 2.7M378 81.8l2.7 2.7m0-2.7l-2.7 2.7M355.2 127.1l2.7 2.7m0-2.7l-2.7 2.7M368 98.2l2.7 2.7m0-2.7l-2.7 2.7M351.2 113.9l2.7 2.7m0-2.7l-2.7 2.7M306.9 151.7l2.7 2.7m0-2.7l-2.7 2.7M289.7 165l2.7 2.7m0-2.7l-2.7 2.7M322.6 143l2.7 2.7m0-2.7l-2.7 2.7M366.9 87.1l2.7 2.7m0-2.7l-2.7 2.7M323.5 141.6l2.7 2.7m0-2.7l-2.7 2.7M329 153.1l2.7 2.7m0-2.7l-2.7 2.7M336.9 131.1l2.7 2.7m0-2.7l-2.7 2.7M313.8 153.7l2.7 2.7m0-2.7l-2.7 2.7M295.4 162.4l2.7 2.7m0-2.7l-2.7 2.7M313.4 155.4l2.7 2.7m0-2.7l-2.7 2.7M318.8 160.8l2.7 2.7m0-2.7l-2.7 2.7M267.2 164l2.7 2.7m0-2.7l-2.7 2.7M346.5 123.5l2.7 2.7m0-2.7l-2.7 2.7M293 162.8l2.7 2.7m0-2.7l-2.7 2.7M324.1 156.8l2.7 2.7m0-2.7l-2.7 2.7M333.8 131.8l2.7 2.7m0-2.7l-2.7 2.7M289.1 160.6l2.7 2.7m0-2.7l-2.7 2.7M346.9 123.1l2.7 2.7m0-2.7l-2.7 2.7M345.9 124.9l2.7 2.7m0-2.7l-2.7 2.7M296.9 156.5l2.7 2.7m0-2.7l-2.7 2.7M369.7 110.2l2.7 2.7m0-2.7l-2.7 2.7M371.8 95.2l2.7 2.7m0-2.7l-2.7 2.7M276.2 164.8l2.7 2.7m0-2.7l-2.7 2.7M355.4 112.9l2.7 2.7m0-2.7l-2.7 2.7M282.4 162.5l2.7 2.7m0-2.7l-2.7 2.7M395.9 38.9l2.7 2.7m0-2.7l-2.7 2.7M389.9 56.8l2.7 2.7m0-2.7l-2.7 2.7M388.1 71l2.7 2.7m0-2.7l-2.7 2.7M386.4 69.6l2.7 2.7m0-2.7l-2.7 2.7M395.5 54.3l2.7 2.7m0-2.7l-2.7 2.7M386.4 72.7l2.7 2.7m0-2.7l-2.7 2.7M384.9 74.7l2.7 2.7m0-2.7l-2.7 2.7M389.5 62.7l2.7 2.7m0-2.7l-2.7 2.7M386.9 67.7l2.7 2.7m0-2.7l-2.7 2.7M392 48.4l2.7 2.7m0-2.7l-2.7 2.7M392.9 46.9l2.7 2.7m0-2.7l-2.7 2.7M392.6 63.2l2.7 2.7m0-2.7l-2.7 2.7M395 58.8l2.7 2.7m0-2.7l-2.7 2.7M386.6 75l2.7 2.7m0-2.7l-2.7 2.7M397.2 37.5l2.7 2.7m0-2.7l-2.7 2.7M391.2 62.6l2.7 2.7m0-2.7l-2.7 2.7M391.7 61.8l2.7 2.7m0-2.7l-2.7 2.7M397 49.5l2.7 2.7m0-2.7l-2.7 2.7M386.2 62.5l2.7 2.7m0-2.7l-2.7 2.7M394.6 62.6l2.7 2.7m0-2.7l-2.7 2.7M400.1 39.1l2.7 2.7m0-2.7l-2.7 2.7M390.3 58.8l2.7 2.7m0-2.7l-2.7 2.7M401.6 43.5l2.7 2.7m0-2.7l-2.7 2.7M391.8 62.7l2.7 2.7m0-2.7l-2.7 2.7M394.3 49.7l2.7 2.7m0-2.7l-2.7 2.7M397.9 37.1l2.7 2.7m0-2.7l-2.7 2.7M386.1 70.7l2.7 2.7m0-2.7l-2.7 2.7M400.2 38.1l2.7 2.7m0-2.7l-2.7 2.7M395 47.8l2.7 2.7m0-2.7l-2.7 2.7M390 53.1l2.7 2.7m0-2.7l-2.7 2.7M394.2 55.4l2.7 2.7m0-2.7l-2.7 2.7M386.8 74l2.7 2.7m0-2.7l-2.7 2.7M401.1 37.8l2.7 2.7m0-2.7l-2.7 2.7M383.7 74.4l2.7 2.7m0-2.7l-2.7 2.7M392.8 56.6l2.7 2.7m0-2.7l-2.7 2.7M390.5 53.1l2.7 2.7m0-2.7l-2.7 2.7M390.2 60.9l2.7 2.7m0-2.7l-2.7 2.7M401.7 40l2.7 2.7m0-2.7l-2.7 2.7M392.7 60.1l2.7 2.7m0-2.7l-2.7 2.7M390.9 57.9l2.7 2.7m0-2.7l-2.7 2.7M398.9 48.7l2.7 2.7m0-2.7l-2.7 2.7M390.6 63l2.7 2.7m0-2.7l-2.7 2.7M390.4 52.8l2.7 2.7m0-2.7l-2.7 2.7M394 58.5l2.7 2.7m0-2.7l-2.7 2.7M389.8 55.8l2.7 2.7m0-2.7l-2.7 2.7M386.4 65l2.7 2.7m0-2.7l-2.7 2.7M383.6 76l2.7 2.7m0-2.7l-2.7 2.7M384.4 67.3l2.7 2.7m0-2.7l-2.7 2.7M386.1 72.9l2.7 2.7m0-2.7l-2.7 2.7M384.4 74.4l2.7 2.7m0-2.7l-2.7 2.7M397.8 41.6l2.7 2.7m0-2.7l-2.7 2.7M401.4 35.7l2.7 2.7m0-2.7l-2.7 2.7M394.2 44.4l2.7 2.7m0-2.7l-2.7 2.7M385 64.4l2.7 2.7m0-2.7l-2.7 2.7M391.9 64.8l2.7 2.7m0-2.7l-2.7 2.7M398.1 38.6l2.7 2.7m0-2.7l-2.7 2.7M390.9 68.5l2.7 2.7m0-2.7l-2.7 2.7M400.6 38.6l2.7 2.7m0-2.7l-2.7 2.7M395.1 41.2l2.7 2.7m0-2.7l-2.7 2.7M384 77.3l2.7 2.7m0-2.7l-2.7 2.7M413.2 63.4l2.7 2.7m0-2.7l-2.7 2.7M423.7 36.2l2.7 2.7m0-2.7l-2.7 2.7M413 58.7l2.7 2.7m0-2.7l-2.7 2.7M414.2 40.8l2.7 2.7m0-2.7l-2.7 2.7M423.1 26.7l2.7 2.7m0-2.7l-2.7 2.7M417.5 25l2.7 2.7m0-2.7l-2.7 2.7M418.8 43.8l2.7 2.7m0-2.7l-2.7 2.7M415.5 53.3l2.7 2.7m0-2.7l-2.7 2.7M428.5 45l2.7 2.7m0-2.7l-2.7 2.7M423.7 46.9l2.7 2.7m0-2.7l-2.7 2.7M414.2 58.1l2.7 2.7m0-2.7l-2.7 2.7M417.3 33.5l2.7 2.7m0-2.7l-2.7 2.7M412 48.2l2.7 2.7m0-2.7l-2.7 2.7M423.2 48.9l2.7 2.7m0-2.7l-2.7 2.7M418.9 30.6l2.7 2.7m0-2.7l-2.7 2.7M421.3 40l2.7 2.7m0-2.7l-2.7 2.7M426.9 44.7l2.7 2.7m0-2.7l-2.7 2.7M417 45.6l2.7 2.7m0-2.7l-2.7 2.7M428 42.9l2.7 2.7m0-2.7l-2.7 2.7M427.5 47.3l2.7 2.7m0-2.7l-2.7 2.7M413.5 57.8l2.7 2.7m0-2.7l-2.7 2.7M417.9 34.6l2.7 2.7m0-2.7l-2.7 2.7M411.1 42.7l2.7 2.7m0-2.7l-2.7 2.7M425.1 42.6l2.7 2.7m0-2.7l-2.7 2.7M411.1 42.8l2.7 2.7m0-2.7l-2.7 2.7M418.4 34.8l2.7 2.7m0-2.7l-2.7 2.7M421.2 32.5l2.7 2.7m0-2.7l-2.7 2.7M418.3 25.2l2.7 2.7m0-2.7l-2.7 2.7M428.2 43.2l2.7 2.7m0-2.7l-2.7 2.7M422.1 42.9l2.7 2.7m0-2.7l-2.7 2.7M417.8 49.1l2.7 2.7m0-2.7l-2.7 2.7M427.3 40.5l2.7 2.7m0-2.7l-2.7 2.7M425.2 34.9l2.7 2.7m0-2.7l-2.7 2.7M428.8 52.9l2.7 2.7m0-2.7l-2.7 2.7M416.7 33.2l2.7 2.7m0-2.7l-2.7 2.7M415.7 39.4l2.7 2.7m0-2.7l-2.7 2.7M413.8 32.6l2.7 2.7m0-2.7l-2.7 2.7M419.8 46.5l2.7 2.7m0-2.7l-2.7 2.7M427.6 60.9l2.7 2.7m0-2.7l-2.7 2.7M427.7 43.6l2.7 2.7m0-2.7l-2.7 2.7M413.7 36.6l2.7 2.7m0-2.7l-2.7 2.7M421.3 27.6l2.7 2.7m0-2.7l-2.7 2.7M421.5 40.5l2.7 2.7m0-2.7l-2.7 2.7M427.8 61.2l2.7 2.7m0-2.7l-2.7 2.7M425 52.5l2.7 2.7m0-2.7l-2.7 2.7M416 57l2.7 2.7m0-2.7l-2.7 2.7M426.7 48.5l2.7 2.7m0-2.7l-2.7 2.7M424.1 46l2.7 2.7m0-2.7l-2.7 2.7M424.1 36.7l2.7 2.7m0-2.7l-2.7 2.7M412.7 48l2.7 2.7m0-2.7l-2.7 2.7M424 46.8l2.7 2.7m0-2.7l-2.7 2.7M422.8 43.1l2.7 2.7m0-2.7l-2.7 2.7M417.6 26.9l2.7 2.7m0-2.7l-2.7 2.7M428 39.6l2.7 2.7m0-2.7l-2.7 2.7M418.7 37.9l2.7 2.7m0-2.7l-2.7 2.7M425.5 37.4l2.7 2.7m0-2.7l-2.7 2.7M419.2 28.3l2.7 2.7m0-2.7l-2.7 2.7M418.2 25.6l2.7 2.7m0-2.7l-2.7 2.7M419.5 51.7l2.7 2.7m0-2.7l-2.7 2.7M424.5 50l2.7 2.7m0-2.7l-2.7 2.7M423.2 48.3l2.7 2.7m0-2.7l-2.7 2.7M428.8 55.1l2.7 2.7m0-2.7l-2.7 2.7M424.3 49.8l2.7 2.7m0-2.7l-2.7 2.7M422.4 41l2.7 2.7m0-2.7l-2.7 2.7M415.5 32.1l2.7 2.7m0-2.7l-2.7 2.7M411.6 50.6l2.7 2.7m0-2.7l-2.7 2.7M412.5 36.8l2.7 2.7m0-2.7l-2.7 2.7M427.1 60.7l2.7 2.7m0-2.7l-2.7 2.7M419.3 40.8l2.7 2.7m0-2.7l-2.7 2.7M423.9 34.3l2.7 2.7m0-2.7l-2.7 2.7M417.2 26.8l2.7 2.7m0-2.7l-2.7 2.7M414.3 58.6l2.7 2.7m0-2.7l-2.7 2.7M425.6 54.1l2.7 2.7m0-2.7l-2.7 2.7M414.3 44.8l2.7 2.7m0-2.7l-2.7 2.7M417 53.7l2.7 2.7m0-2.7l-2.7 2.7M427.7 51l2.7 2.7m0-2.7l-2.7 2.7M425.1 49.3l2.7 2.7m0-2.7l-2.7 2.7M427.4 56.7l2.7 2.7m0-2.7l-2.7 2.7M427.3 45.5l2.7 2.7m0-2.7l-2.7 2.7M428.5 48.8l2.7 2.7m0-2.7l-2.7 2.7M434.8 44.9l2.7 2.7m0-2.7l-2.7 2.7M437.1 46.9l2.7 2.7m0-2.7l-2.7 2.7M429.3 41.9l2.7 2.7m0-2.7l-2.7 2.7M436.6 41l2.7 2.7m0-2.7l-2.7 2.7M435.9 52.5l2.7 2.7m0-2.7l-2.7 2.7M433 36.8l2.7 2.7m0-2.7l-2.7 2.7M438.2 35.4l2.7 2.7m0-2.7l-2.7 2.7M429.9 45.7l2.7 2.7m0-2.7l-2.7 2.7M434 48.5l2.7 2.7m0-2.7l-2.7 2.7M430 59.4l2.7 2.7m0-2.7l-2.7 2.7M433.1 46.1l2.7 2.7m0-2.7l-2.7 2.7M431 51.7l2.7 2.7m0-2.7l-2.7 2.7M434 38.7l2.7 2.7m0-2.7l-2.7 2.7M434.3 55l2.7 2.7m0-2.7l-2.7 2.7M437.4 48.7l2.7 2.7m0-2.7l-2.7 2.7M438.2 34l2.7 2.7m0-2.7l-2.7 2.7M429.7 48.7l2.7 2.7m0-2.7l-2.7 2.7M438.2 48.1l2.7 2.7m0-2.7l-2.7 2.7M433.9 51l2.7 2.7m0-2.7l-2.7 2.7M428.5 59.8l2.7 2.7m0-2.7l-2.7 2.7M429.5 56.4l2.7 2.7m0-2.7l-2.7 2.7M434.8 44.1l2.7 2.7m0-2.7l-2.7 2.7M438.1 41l2.7 2.7m0-2.7l-2.7 2.7M432 32.9l2.7 2.7m0-2.7l-2.7 2.7M434.8 44.6l2.7 2.7m0-2.7l-2.7 2.7M437.2 41.3l2.7 2.7m0-2.7l-2.7 2.7M432 43l2.7 2.7m0-2.7l-2.7 2.7M431.4 34.1l2.7 2.7m0-2.7l-2.7 2.7M430.8 35.8l2.7 2.7m0-2.7l-2.7 2.7M428.9 63.7l2.7 2.7m0-2.7l-2.7 2.7M434 53.9l2.7 2.7m0-2.7l-2.7 2.7M433.5 56.6l2.7 2.7m0-2.7l-2.7 2.7M436.9 41.3l2.7 2.7m0-2.7l-2.7 2.7M435.3 34.5l2.7 2.7m0-2.7l-2.7 2.7M438.5 41.2l2.7 2.7m0-2.7l-2.7 2.7M435.6 58.6l2.7 2.7m0-2.7l-2.7 2.7M428.8 54.4l2.7 2.7m0-2.7l-2.7 2.7M438.3 49.7l2.7 2.7m0-2.7l-2.7 2.7M434.1 59.3l2.7 2.7m0-2.7l-2.7 2.7M432.5 34.4l2.7 2.7m0-2.7l-2.7 2.7M434.3 37l2.7 2.7m0-2.7l-2.7 2.7M428.4 60.1l2.7 2.7m0-2.7l-2.7 2.7M430.1 41.5l2.7 2.7m0-2.7l-2.7 2.7M429.3 41.3l2.7 2.7m0-2.7l-2.7 2.7M431 37.6l2.7 2.7m0-2.7l-2.7 2.7M433.6 50.8l2.7 2.7m0-2.7l-2.7 2.7M438.2 47.6l2.7 2.7m0-2.7l-2.7 2.7M435.5 57l2.7 2.7m0-2.7l-2.7 2.7M436.8 33.6l2.7 2.7m0-2.7l-2.7 2.7M429.4 45.5l2.7 2.7m0-2.7l-2.7 2.7" stroke="#2a1b58" stroke-width="0.7" fill="none" opacity="1.0" clip-path="url(#cb)"/>
<rect x="267.9" y="15.8" width="184.6" height="150.8" fill="none" stroke="#333333" stroke-width="1.3"/>
<path d="M267.9 166.5v-3.2M282.7 166.5v-2.0M297.4 166.5v-3.2M312.2 166.5v-2.0M327.0 166.5v-3.2M341.7 166.5v-2.0M356.5 166.5v-3.2M371.3 166.5v-2.0M386.0 166.5v-3.2M400.8 166.5v-2.0M415.6 166.5v-3.2M430.3 166.5v-2.0M445.1 166.5v-3.2" stroke="#333333" stroke-width="1.1" fill="none"/>
<text x="267.9" y="178.2" font-size="10" fill="#1a1a1a" text-anchor="middle">0</text>
<text x="297.4" y="178.2" font-size="10" fill="#1a1a1a" text-anchor="middle">2</text>
<text x="327.0" y="178.2" font-size="10" fill="#1a1a1a" text-anchor="middle">4</text>
<text x="356.5" y="178.2" font-size="10" fill="#1a1a1a" text-anchor="middle">6</text>
<text x="386.0" y="178.2" font-size="10" fill="#1a1a1a" text-anchor="middle">8</text>
<text x="415.6" y="178.2" font-size="10" fill="#1a1a1a" text-anchor="middle">10</text>
<text x="445.1" y="178.2" font-size="10" fill="#1a1a1a" text-anchor="middle">12</text>
<text x="264.6" y="170.1" font-size="10" fill="#1a1a1a" text-anchor="end">0</text>
<text x="264.6" y="139.2" font-size="10" fill="#1a1a1a" text-anchor="end">4</text>
<text x="264.6" y="108.3" font-size="10" fill="#1a1a1a" text-anchor="end">8</text>
<text x="264.6" y="77.3" font-size="10" fill="#1a1a1a" text-anchor="end">12</text>
<text x="264.6" y="46.4" font-size="10" fill="#1a1a1a" text-anchor="end">16</text>
<path d="M267.9 166.5h3.2M267.9 151.0h2.0M267.9 135.6h3.2M267.9 120.1h2.0M267.9 104.7h3.2M267.9 89.2h2.0M267.9 73.7h3.2M267.9 58.3h2.0M267.9 42.8h3.2M267.9 27.3h2.0" stroke="#333333" stroke-width="1.1" fill="none"/>
<text x="276.9" y="30.8" font-size="11.7" fill="#1a1a1a" text-anchor="start">300 K</text>
<text x="270.4" y="119.1" font-size="11.7" fill="#3d9a8c" text-anchor="start">Absorption</text>
<path d="M304.5 92.9L296.0 107.5" stroke="#3d9a8c" stroke-width="1.0" fill="none"/>
<path d="M296.0 107.5L296.3 103.0L299.7 105.0Z" fill="#3d9a8c"/>
<text x="380.4" y="117.5" font-size="11.7" fill="#35276e" text-anchor="start">Emission</text>
<path d="M378.4 89.9L390.2 104.7" stroke="#35276e" stroke-width="1.0" fill="none"/>
<path d="M390.2 104.7L386.1 102.8L389.2 100.3Z" fill="#35276e"/>
<path d="M330.9 85.6A35.5 35.5 0 0 1 347.0 18.5L347.0 54.0Z" fill="none" stroke="#4d1b73" stroke-width="0.6"/>
<path d="M369.4 26.5A35.5 35.5 0 0 1 330.9 85.6L347.0 54.0Z" fill="none" stroke="#3e4c98" stroke-width="0.6"/>
<path d="M348.4 18.5A35.5 35.5 0 0 1 369.4 26.5L347.0 54.0Z" fill="none" stroke="#3c9f88" stroke-width="0.6"/>
<path d="M347.0 54.0L347.0 18.5" stroke="#3c8f80" stroke-width="0.6"/>
<rect x="337.8" y="17.5" width="19.4" height="18.4" fill="#68d95c"/>
<text x="347.5" y="25.5" font-size="7.9" fill="#ffffff" text-anchor="middle">AAA</text>
<text x="347.5" y="33.5" font-size="7.9" fill="#ffffff" text-anchor="middle">0.6%</text>
<rect x="357.8" y="20.9" width="23.0" height="18.0" fill="#3fa98a"/>
<text x="369.3" y="28.9" font-size="7.9" fill="#ffffff" text-anchor="middle">AAO</text>
<text x="369.3" y="36.9" font-size="7.9" fill="#ffffff" text-anchor="middle">10.3%</text>
<rect x="305.0" y="37.6" width="22.3" height="18.2" fill="#4b1a70"/>
<text x="316.1" y="45.6" font-size="7.9" fill="#ffffff" text-anchor="middle">OOO</text>
<text x="316.1" y="53.6" font-size="7.9" fill="#ffffff" text-anchor="middle">42.6%</text>
<rect x="339.2" y="71.7" width="23.6" height="18.4" fill="#3f4d9a"/>
<text x="351.0" y="79.7" font-size="7.9" fill="#ffffff" text-anchor="middle">AOO</text>
<text x="351.0" y="87.7" font-size="7.9" fill="#ffffff" text-anchor="middle">46.6%</text>
<g clip-path="url(#cc)"><path d="M502 110.6L506 105.3L510.5 101.7L516.3 94.6L525.2 85.7L530 73.3L542.8 66.2L556 62.7L558.2 50.3L569.2 48.5L576.6 48.5L583.2 45L594.2 45L606 48.5L606.6 57.4L606.6 96.5L606 96.5L594.2 94.7L583.2 91.2L576.6 84.1L569.2 82.3L558.2 89.4L556 93L542.8 94.7L530 101.8L525.2 107.1L516.3 111.6L510.5 117.8L506 116L502 110.7Z" fill="#4b9c98" opacity="0.85" filter="url(#bl)"/></g>
<g clip-path="url(#cc)"><path d="M619.6 75.1L623.6 73.3L627.6 80.4L627.6 107.1L623.6 108.9L619.6 107.1Z" fill="#4b9c98" opacity="0.85" filter="url(#bl)"/></g>
<g clip-path="url(#cc)"><path d="M645.8 84L648.6 82.2L655.9 89.3L662.4 110.6L665.8 121.2L665.8 132L662.4 130.2L655.9 123.1L648.6 117.8L645.8 112.5Z" fill="#4b9c98" opacity="0.85" filter="url(#bl)"/></g>
<path d="M526.3 100.6h5.6m-2.8-2.8v5.6M536.6 76.9h5.6m-2.8-2.8v5.6M601.3 45.7h5.6m-2.8-2.8v5.6M605.7 70.3h5.6m-2.8-2.8v5.6M568.4 79h5.6m-2.8-2.8v5.6M576.3 64.7h5.6m-2.8-2.8v5.6M536 69.2h5.6m-2.8-2.8v5.6M524.6 103h5.6m-2.8-2.8v5.6M514 110.6h5.6m-2.8-2.8v5.6M561.2 55h5.6m-2.8-2.8v5.6M514.2 102.5h5.6m-2.8-2.8v5.6M559.7 65.6h5.6m-2.8-2.8v5.6M541.9 78.6h5.6m-2.8-2.8v5.6M498.3 114.2h5.6m-2.8-2.8v5.6M543 88.8h5.6m-2.8-2.8v5.6M579.7 80.9h5.6m-2.8-2.8v5.6M587.1 83h5.6m-2.8-2.8v5.6M506.8 110.4h5.6m-2.8-2.8v5.6M539.2 86.5h5.6m-2.8-2.8v5.6M580.6 82.4h5.6m-2.8-2.8v5.6M570.2 52.5h5.6m-2.8-2.8v5.6M546.3 79.1h5.6m-2.8-2.8v5.6M598 65.7h5.6m-2.8-2.8v5.6M516.5 111h5.6m-2.8-2.8v5.6M505.7 113.3h5.6m-2.8-2.8v5.6M506.4 107.1h5.6m-2.8-2.8v5.6M543.1 86.4h5.6m-2.8-2.8v5.6M552.9 62.4h5.6m-2.8-2.8v5.6M523.5 104.2h5.6m-2.8-2.8v5.6M530.2 91.9h5.6m-2.8-2.8v5.6M596.5 59.8h5.6m-2.8-2.8v5.6M543.7 91.2h5.6m-2.8-2.8v5.6M501.6 115.7h5.6m-2.8-2.8v5.6M589.7 61.5h5.6m-2.8-2.8v5.6M513.8 100.1h5.6m-2.8-2.8v5.6M503 110.5h5.6m-2.8-2.8v5.6M533.4 97.5h5.6m-2.8-2.8v5.6M578.1 57.1h5.6m-2.8-2.8v5.6M552.7 89.7h5.6m-2.8-2.8v5.6M570.1 68.5h5.6m-2.8-2.8v5.6M569.2 82h5.6m-2.8-2.8v5.6M595.7 97.8h5.6m-2.8-2.8v5.6M521.1 100h5.6m-2.8-2.8v5.6M518.4 109.6h5.6m-2.8-2.8v5.6M572.1 46.1h5.6m-2.8-2.8v5.6M533.4 92h5.6m-2.8-2.8v5.6M570.3 76.9h5.6m-2.8-2.8v5.6M540.6 74h5.6m-2.8-2.8v5.6M543.9 91.5h5.6m-2.8-2.8v5.6M504.4 109.7h5.6m-2.8-2.8v5.6M605.4 55.7h5.6m-2.8-2.8v5.6M507.6 109.7h5.6m-2.8-2.8v5.6M550.3 89.2h5.6m-2.8-2.8v5.6M570.2 66h5.6m-2.8-2.8v5.6M585.4 79.9h5.6m-2.8-2.8v5.6M599.2 54.7h5.6m-2.8-2.8v5.6M548.6 91.3h5.6m-2.8-2.8v5.6M549.7 91.6h5.6m-2.8-2.8v5.6M571.9 58.1h5.6m-2.8-2.8v5.6M560.1 47.9h5.6m-2.8-2.8v5.6M501.6 107.8h5.6m-2.8-2.8v5.6M584.6 89.2h5.6m-2.8-2.8v5.6M532 100h5.6m-2.8-2.8v5.6M560.6 58.4h5.6m-2.8-2.8v5.6M534.8 76.8h5.6m-2.8-2.8v5.6M536.9 75.1h5.6m-2.8-2.8v5.6M527 71.9h5.6m-2.8-2.8v5.6M544.7 96.6h5.6m-2.8-2.8v5.6M506.7 105.4h5.6m-2.8-2.8v5.6M591.6 62.4h5.6m-2.8-2.8v5.6M513.7 94.7h5.6m-2.8-2.8v5.6M575.3 83.4h5.6m-2.8-2.8v5.6M538.4 75.6h5.6m-2.8-2.8v5.6M497 113.4h5.6m-2.8-2.8v5.6M535.5 70.4h5.6m-2.8-2.8v5.6M606 84.6h5.6m-2.8-2.8v5.6M596.4 55.5h5.6m-2.8-2.8v5.6M591.6 65h5.6m-2.8-2.8v5.6M603 64.8h5.6m-2.8-2.8v5.6M600.7 68.4h5.6m-2.8-2.8v5.6M518.2 99.1h5.6m-2.8-2.8v5.6M549.7 84.2h5.6m-2.8-2.8v5.6M537.7 81.4h5.6m-2.8-2.8v5.6M561.2 79.1h5.6m-2.8-2.8v5.6M527.1 87.7h5.6m-2.8-2.8v5.6M552 80.9h5.6m-2.8-2.8v5.6M569.5 78.3h5.6m-2.8-2.8v5.6M555 80.9h5.6m-2.8-2.8v5.6M581.2 57.7h5.6m-2.8-2.8v5.6M582.4 67.5h5.6m-2.8-2.8v5.6M524 81.2h5.6m-2.8-2.8v5.6M552.7 82.3h5.6m-2.8-2.8v5.6M528.5 90.2h5.6m-2.8-2.8v5.6M574.4 53.1h5.6m-2.8-2.8v5.6M549.6 70.5h5.6m-2.8-2.8v5.6M520 99.4h5.6m-2.8-2.8v5.6M535.9 89.3h5.6m-2.8-2.8v5.6M536.1 74.1h5.6m-2.8-2.8v5.6M577.1 80.7h5.6m-2.8-2.8v5.6M522.3 88.9h5.6m-2.8-2.8v5.6M568.5 58.7h5.6m-2.8-2.8v5.6M566.4 57.9h5.6m-2.8-2.8v5.6M526.6 103.1h5.6m-2.8-2.8v5.6M536.2 98.3h5.6m-2.8-2.8v5.6M602.2 71h5.6m-2.8-2.8v5.6M570.2 47.2h5.6m-2.8-2.8v5.6M584.9 83.1h5.6m-2.8-2.8v5.6M533.6 97.2h5.6m-2.8-2.8v5.6M584 56.2h5.6m-2.8-2.8v5.6M550.2 83h5.6m-2.8-2.8v5.6M526.3 89.7h5.6m-2.8-2.8v5.6M574.8 49.8h5.6m-2.8-2.8v5.6M589.8 49.6h5.6m-2.8-2.8v5.6M544.9 82.2h5.6m-2.8-2.8v5.6M531.1 69.4h5.6m-2.8-2.8v5.6M516.8 108.8h5.6m-2.8-2.8v5.6M527.5 73.2h5.6m-2.8-2.8v5.6M590.2 78.9h5.6m-2.8-2.8v5.6M590.1 48.3h5.6m-2.8-2.8v5.6M543.5 90.3h5.6m-2.8-2.8v5.6M581.5 74.7h5.6m-2.8-2.8v5.6M509.7 98.7h5.6m-2.8-2.8v5.6M544.9 83h5.6m-2.8-2.8v5.6M562 77.3h5.6m-2.8-2.8v5.6M498.9 111.6h5.6m-2.8-2.8v5.6M538.3 97.9h5.6m-2.8-2.8v5.6M537.4 73.1h5.6m-2.8-2.8v5.6M533.2 78.2h5.6m-2.8-2.8v5.6M565.2 78.3h5.6m-2.8-2.8v5.6M498.9 109.1h5.6m-2.8-2.8v5.6M563.7 74.8h5.6m-2.8-2.8v5.6M518.6 90.5h5.6m-2.8-2.8v5.6M596.5 85.4h5.6m-2.8-2.8v5.6M561 64.5h5.6m-2.8-2.8v5.6M532 100.5h5.6m-2.8-2.8v5.6M532.3 79.9h5.6m-2.8-2.8v5.6M562.7 66.5h5.6m-2.8-2.8v5.6M510.1 113.2h5.6m-2.8-2.8v5.6M530.8 88.4h5.6m-2.8-2.8v5.6M536.5 68.9h5.6m-2.8-2.8v5.6M509.4 97.3h5.6m-2.8-2.8v5.6M523 85.4h5.6m-2.8-2.8v5.6M523.4 92.1h5.6m-2.8-2.8v5.6M538 97.1h5.6m-2.8-2.8v5.6M584.1 52.3h5.6m-2.8-2.8v5.6M526.2 80.5h5.6m-2.8-2.8v5.6M549.2 61.6h5.6m-2.8-2.8v5.6M502.6 112.4h5.6m-2.8-2.8v5.6M521.6 93.7h5.6m-2.8-2.8v5.6M582 50.6h5.6m-2.8-2.8v5.6M556.8 74.2h5.6m-2.8-2.8v5.6M584.4 89.6h5.6m-2.8-2.8v5.6M525.2 83.5h5.6m-2.8-2.8v5.6M545 62.5h5.6m-2.8-2.8v5.6M506.6 110.7h5.6m-2.8-2.8v5.6M520 110.9h5.6m-2.8-2.8v5.6M506.9 118.2h5.6m-2.8-2.8v5.6M537.1 84.3h5.6m-2.8-2.8v5.6M552.4 85.4h5.6m-2.8-2.8v5.6M573.7 65.6h5.6m-2.8-2.8v5.6M604.4 90.7h5.6m-2.8-2.8v5.6M552.7 78.2h5.6m-2.8-2.8v5.6M537.5 69.7h5.6m-2.8-2.8v5.6M519.6 89h5.6m-2.8-2.8v5.6M535.9 88.3h5.6m-2.8-2.8v5.6M564.1 63.8h5.6m-2.8-2.8v5.6M527.8 101.2h5.6m-2.8-2.8v5.6M601.5 79.1h5.6m-2.8-2.8v5.6M509.2 104.6h5.6m-2.8-2.8v5.6M555 78.6h5.6m-2.8-2.8v5.6M532.7 72.9h5.6m-2.8-2.8v5.6M533.8 86.7h5.6m-2.8-2.8v5.6M601.7 79.6h5.6m-2.8-2.8v5.6M540.8 91.8h5.6m-2.8-2.8v5.6M569.4 59.2h5.6m-2.8-2.8v5.6M545.6 82.6h5.6m-2.8-2.8v5.6M522.2 88.9h5.6m-2.8-2.8v5.6M546.8 67.6h5.6m-2.8-2.8v5.6M537.8 73.8h5.6m-2.8-2.8v5.6M499.8 113.5h5.6m-2.8-2.8v5.6M602.1 62.5h5.6m-2.8-2.8v5.6M570.8 66.1h5.6m-2.8-2.8v5.6M548.5 89.3h5.6m-2.8-2.8v5.6M515.6 98.1h5.6m-2.8-2.8v5.6M572.8 76h5.6m-2.8-2.8v5.6M567.4 79.8h5.6m-2.8-2.8v5.6M563.9 79.6h5.6m-2.8-2.8v5.6M552.6 84.5h5.6m-2.8-2.8v5.6M557.1 85.1h5.6m-2.8-2.8v5.6M549.7 74.4h5.6m-2.8-2.8v5.6M511.4 109.7h5.6m-2.8-2.8v5.6M571.1 64.1h5.6m-2.8-2.8v5.6M564.3 55h5.6m-2.8-2.8v5.6M559.4 80h5.6m-2.8-2.8v5.6M545.2 68.1h5.6m-2.8-2.8v5.6M558.8 57.7h5.6m-2.8-2.8v5.6M536.6 84.1h5.6m-2.8-2.8v5.6M603.1 55.3h5.6m-2.8-2.8v5.6M568.3 81.2h5.6m-2.8-2.8v5.6M563.8 85.3h5.6m-2.8-2.8v5.6M599.2 46.2h5.6m-2.8-2.8v5.6M576.6 77.6h5.6m-2.8-2.8v5.6M589.5 87.1h5.6m-2.8-2.8v5.6M587.5 68.1h5.6m-2.8-2.8v5.6M498.4 107.5h5.6m-2.8-2.8v5.6M544.9 68.1h5.6m-2.8-2.8v5.6M572.2 64.8h5.6m-2.8-2.8v5.6M591.3 86.1h5.6m-2.8-2.8v5.6M595.3 79.5h5.6m-2.8-2.8v5.6M499.5 112.3h5.6m-2.8-2.8v5.6M503.9 117.7h5.6m-2.8-2.8v5.6M565.2 81h5.6m-2.8-2.8v5.6M514.2 107.3h5.6m-2.8-2.8v5.6M527.2 73.4h5.6m-2.8-2.8v5.6M596 50.8h5.6m-2.8-2.8v5.6M605.3 78.2h5.6m-2.8-2.8v5.6M584 80.2h5.6m-2.8-2.8v5.6M598.3 54.7h5.6m-2.8-2.8v5.6M577 79.7h5.6m-2.8-2.8v5.6M506.7 101.4h5.6m-2.8-2.8v5.6M557.3 64.2h5.6m-2.8-2.8v5.6M591.3 89.4h5.6m-2.8-2.8v5.6M573.4 67.7h5.6m-2.8-2.8v5.6M582.9 70.8h5.6m-2.8-2.8v5.6M518.2 88.4h5.6m-2.8-2.8v5.6M527.5 79.2h5.6m-2.8-2.8v5.6M587.9 82.9h5.6m-2.8-2.8v5.6M572.9 70.4h5.6m-2.8-2.8v5.6M521.2 104.7h5.6m-2.8-2.8v5.6M601.4 79.1h5.6m-2.8-2.8v5.6M552.6 77.9h5.6m-2.8-2.8v5.6M499.6 108.1h5.6m-2.8-2.8v5.6M578.4 49.4h5.6m-2.8-2.8v5.6M535.8 92.6h5.6m-2.8-2.8v5.6M534.8 75.6h5.6m-2.8-2.8v5.6M568.9 69.4h5.6m-2.8-2.8v5.6M554.2 87.8h5.6m-2.8-2.8v5.6M597.5 72.7h5.6m-2.8-2.8v5.6M552.3 67.9h5.6m-2.8-2.8v5.6M518.4 94h5.6m-2.8-2.8v5.6M535.4 72.5h5.6m-2.8-2.8v5.6M507 114.5h5.6m-2.8-2.8v5.6M566.4 66.1h5.6m-2.8-2.8v5.6M538 78.9h5.6m-2.8-2.8v5.6M520.5 99.4h5.6m-2.8-2.8v5.6M496.8 108.9h5.6m-2.8-2.8v5.6M524.5 82.7h5.6m-2.8-2.8v5.6M557.2 64.7h5.6m-2.8-2.8v5.6M565.4 80.7h5.6m-2.8-2.8v5.6M582 79.1h5.6m-2.8-2.8v5.6M591.3 54.1h5.6m-2.8-2.8v5.6M571.1 53.3h5.6m-2.8-2.8v5.6M544.6 73.6h5.6m-2.8-2.8v5.6M601.2 88.7h5.6m-2.8-2.8v5.6M507.7 111.6h5.6m-2.8-2.8v5.6M552.6 90.4h5.6m-2.8-2.8v5.6M520.9 88h5.6m-2.8-2.8v5.6M539.2 92.7h5.6m-2.8-2.8v5.6M516.7 98.9h5.6m-2.8-2.8v5.6M517.5 100.7h5.6m-2.8-2.8v5.6M555.7 72.4h5.6m-2.8-2.8v5.6M551.9 66.2h5.6m-2.8-2.8v5.6M498.5 107.1h5.6m-2.8-2.8v5.6M518.5 110.7h5.6m-2.8-2.8v5.6M580.9 64.5h5.6m-2.8-2.8v5.6M555.7 82.2h5.6m-2.8-2.8v5.6M582.4 78.5h5.6m-2.8-2.8v5.6M576.4 79.2h5.6m-2.8-2.8v5.6M559.5 61.9h5.6m-2.8-2.8v5.6M537.4 82.6h5.6m-2.8-2.8v5.6M503.8 108.1h5.6m-2.8-2.8v5.6M572.5 80.2h5.6m-2.8-2.8v5.6M557.1 59h5.6m-2.8-2.8v5.6M507.7 102.4h5.6m-2.8-2.8v5.6M592.2 94.7h5.6m-2.8-2.8v5.6M523.9 105.6h5.6m-2.8-2.8v5.6M524.4 105h5.6m-2.8-2.8v5.6M550.4 87.2h5.6m-2.8-2.8v5.6M529.6 87.6h5.6m-2.8-2.8v5.6M537.4 72.2h5.6m-2.8-2.8v5.6M576 84h5.6m-2.8-2.8v5.6M521.2 110.1h5.6m-2.8-2.8v5.6M532.8 97.7h5.6m-2.8-2.8v5.6M573.2 54.8h5.6m-2.8-2.8v5.6M606 89.6h5.6m-2.8-2.8v5.6M500.7 107.6h5.6m-2.8-2.8v5.6M541.8 65.5h5.6m-2.8-2.8v5.6M539.7 87h5.6m-2.8-2.8v5.6M504.6 102.5h5.6m-2.8-2.8v5.6M552.9 80h5.6m-2.8-2.8v5.6M544.6 70.3h5.6m-2.8-2.8v5.6M587.8 70.6h5.6m-2.8-2.8v5.6M516.2 103.3h5.6m-2.8-2.8v5.6M594.5 75.6h5.6m-2.8-2.8v5.6M569.2 63.4h5.6m-2.8-2.8v5.6M547.3 76.4h5.6m-2.8-2.8v5.6M523.5 92.6h5.6m-2.8-2.8v5.6M591.6 93h5.6m-2.8-2.8v5.6M537.1 69.2h5.6m-2.8-2.8v5.6M604 98.4h5.6m-2.8-2.8v5.6M565.5 60.6h5.6m-2.8-2.8v5.6M589.2 71.1h5.6m-2.8-2.8v5.6M511 110.3h5.6m-2.8-2.8v5.6M574.9 56.9h5.6m-2.8-2.8v5.6M519.1 95.3h5.6m-2.8-2.8v5.6M568.7 59.4h5.6m-2.8-2.8v5.6M499 111.2h5.6m-2.8-2.8v5.6M532.3 81.5h5.6m-2.8-2.8v5.6M533.6 96.6h5.6m-2.8-2.8v5.6M570.2 74.4h5.6m-2.8-2.8v5.6M583.4 78.7h5.6m-2.8-2.8v5.6M556.6 55.9h5.6m-2.8-2.8v5.6M509.3 102.9h5.6m-2.8-2.8v5.6M504.1 103h5.6m-2.8-2.8v5.6M499.4 108.4h5.6m-2.8-2.8v5.6M537.1 92.9h5.6m-2.8-2.8v5.6M540 80.4h5.6m-2.8-2.8v5.6M542.2 92.9h5.6m-2.8-2.8v5.6M554 82.6h5.6m-2.8-2.8v5.6M602.8 78.6h5.6m-2.8-2.8v5.6M544.4 88.9h5.6m-2.8-2.8v5.6M603 81.9h5.6m-2.8-2.8v5.6M567.6 52.5h5.6m-2.8-2.8v5.6M539.8 72h5.6m-2.8-2.8v5.6M527.2 100.7h5.6m-2.8-2.8v5.6M501.3 111.3h5.6m-2.8-2.8v5.6M592.6 86.4h5.6m-2.8-2.8v5.6M545 70.4h5.6m-2.8-2.8v5.6M527 99.6h5.6m-2.8-2.8v5.6M553.6 79.1h5.6m-2.8-2.8v5.6M599.7 50.4h5.6m-2.8-2.8v5.6M522.8 94h5.6m-2.8-2.8v5.6M542.3 95.9h5.6m-2.8-2.8v5.6M545.4 65.1h5.6m-2.8-2.8v5.6M529.9 83.2h5.6m-2.8-2.8v5.6M574.6 84.9h5.6m-2.8-2.8v5.6M598.1 92.4h5.6m-2.8-2.8v5.6M529.7 78.9h5.6m-2.8-2.8v5.6M498.8 111.7h5.6m-2.8-2.8v5.6M510.5 107.1h5.6m-2.8-2.8v5.6M498.4 113.5h5.6m-2.8-2.8v5.6M521.1 108.3h5.6m-2.8-2.8v5.6M506.6 116.1h5.6m-2.8-2.8v5.6M553.5 90.2h5.6m-2.8-2.8v5.6M586.8 73.5h5.6m-2.8-2.8v5.6M524.3 100.5h5.6m-2.8-2.8v5.6M588.8 93.9h5.6m-2.8-2.8v5.6M578.1 86.7h5.6m-2.8-2.8v5.6M600.3 76.8h5.6m-2.8-2.8v5.6M562.2 52.2h5.6m-2.8-2.8v5.6M507.7 119h5.6m-2.8-2.8v5.6M572.8 62.6h5.6m-2.8-2.8v5.6M575.8 76.6h5.6m-2.8-2.8v5.6M551.2 89.3h5.6m-2.8-2.8v5.6M544.6 87h5.6m-2.8-2.8v5.6M560.9 76h5.6m-2.8-2.8v5.6M526.8 83.6h5.6m-2.8-2.8v5.6M506 104.3h5.6m-2.8-2.8v5.6M551.1 87.8h5.6m-2.8-2.8v5.6M509.3 107.8h5.6m-2.8-2.8v5.6M552 70.3h5.6m-2.8-2.8v5.6M537.7 84.7h5.6m-2.8-2.8v5.6M594.6 82.9h5.6m-2.8-2.8v5.6M604.3 54.4h5.6m-2.8-2.8v5.6M605.3 54.5h5.6m-2.8-2.8v5.6M524.9 82.3h5.6m-2.8-2.8v5.6M563.8 78.4h5.6m-2.8-2.8v5.6M606.1 69.9h5.6m-2.8-2.8v5.6M585.5 65.8h5.6m-2.8-2.8v5.6M505.4 103.5h5.6m-2.8-2.8v5.6M515.9 106.9h5.6m-2.8-2.8v5.6M564.3 78.5h5.6m-2.8-2.8v5.6M547.4 71.6h5.6m-2.8-2.8v5.6M507.2 106.5h5.6m-2.8-2.8v5.6M508.1 109.8h5.6m-2.8-2.8v5.6M567.9 58.2h5.6m-2.8-2.8v5.6M501.4 114.6h5.6m-2.8-2.8v5.6M602 78.1h5.6m-2.8-2.8v5.6M543.3 84.1h5.6m-2.8-2.8v5.6M573.1 56.4h5.6m-2.8-2.8v5.6M568 69.4h5.6m-2.8-2.8v5.6M559.2 67.7h5.6m-2.8-2.8v5.6M517.3 89.5h5.6m-2.8-2.8v5.6M602.6 57.6h5.6m-2.8-2.8v5.6M605.6 77.4h5.6m-2.8-2.8v5.6M588.8 83.4h5.6m-2.8-2.8v5.6M578.2 57.2h5.6m-2.8-2.8v5.6M599.7 53.8h5.6m-2.8-2.8v5.6M593.2 82.9h5.6m-2.8-2.8v5.6M583.1 69.8h5.6m-2.8-2.8v5.6M530.9 89.9h5.6m-2.8-2.8v5.6M584.3 50.6h5.6m-2.8-2.8v5.6M589.4 60.3h5.6m-2.8-2.8v5.6M515.3 109.7h5.6m-2.8-2.8v5.6M559 80.7h5.6m-2.8-2.8v5.6M533.6 97.4h5.6m-2.8-2.8v5.6M513.6 98.2h5.6m-2.8-2.8v5.6M521.2 88.3h5.6m-2.8-2.8v5.6M532.8 72.7h5.6m-2.8-2.8v5.6M529.9 93.9h5.6m-2.8-2.8v5.6M540 96.9h5.6m-2.8-2.8v5.6M544.4 83.7h5.6m-2.8-2.8v5.6M498 107.9h5.6m-2.8-2.8v5.6M537.8 98.5h5.6m-2.8-2.8v5.6M602.1 86.7h5.6m-2.8-2.8v5.6M524.4 106.8h5.6m-2.8-2.8v5.6M507.6 105.3h5.6m-2.8-2.8v5.6M560.5 67.6h5.6m-2.8-2.8v5.6M523.7 100.1h5.6m-2.8-2.8v5.6M603.1 79.3h5.6m-2.8-2.8v5.6M605.3 57h5.6m-2.8-2.8v5.6M510.3 99.2h5.6m-2.8-2.8v5.6M498.9 108.7h5.6m-2.8-2.8v5.6M585.5 58.5h5.6m-2.8-2.8v5.6M557 55.6h5.6m-2.8-2.8v5.6M513.6 102.2h5.6m-2.8-2.8v5.6M525.8 93.3h5.6m-2.8-2.8v5.6M517.6 95h5.6m-2.8-2.8v5.6M559.6 56.4h5.6m-2.8-2.8v5.6M565.6 61.8h5.6m-2.8-2.8v5.6M597.8 54.4h5.6m-2.8-2.8v5.6M558.9 75.9h5.6m-2.8-2.8v5.6M598.5 78.4h5.6m-2.8-2.8v5.6M507.8 113.1h5.6m-2.8-2.8v5.6M574.2 48.5h5.6m-2.8-2.8v5.6M567.5 59.2h5.6m-2.8-2.8v5.6M599.5 56.7h5.6m-2.8-2.8v5.6M545.5 80.7h5.6m-2.8-2.8v5.6M580 77.2h5.6m-2.8-2.8v5.6M508.7 106h5.6m-2.8-2.8v5.6M585.4 82.2h5.6m-2.8-2.8v5.6M571.7 50.2h5.6m-2.8-2.8v5.6M510.6 114.3h5.6m-2.8-2.8v5.6M550.8 84.1h5.6m-2.8-2.8v5.6M600.9 45.4h5.6m-2.8-2.8v5.6M545.6 69.3h5.6m-2.8-2.8v5.6M566 78.4h5.6m-2.8-2.8v5.6M603.3 89.9h5.6m-2.8-2.8v5.6M505 111.1h5.6m-2.8-2.8v5.6M498.6 110.8h5.6m-2.8-2.8v5.6M541.9 64.7h5.6m-2.8-2.8v5.6M542 68.2h5.6m-2.8-2.8v5.6M582.2 63.9h5.6m-2.8-2.8v5.6M522.7 101h5.6m-2.8-2.8v5.6M550.6 82h5.6m-2.8-2.8v5.6M567.5 65.3h5.6m-2.8-2.8v5.6M532.1 81.3h5.6m-2.8-2.8v5.6M606 89.9h5.6m-2.8-2.8v5.6M533.5 100.5h5.6m-2.8-2.8v5.6M506.9 119h5.6m-2.8-2.8v5.6M543.1 68.4h5.6m-2.8-2.8v5.6M573.2 47.3h5.6m-2.8-2.8v5.6M588.5 64.7h5.6m-2.8-2.8v5.6M560.4 88.3h5.6m-2.8-2.8v5.6M538.7 89.2h5.6m-2.8-2.8v5.6M564.8 83.4h5.6m-2.8-2.8v5.6M556.2 75h5.6m-2.8-2.8v5.6M550.6 81.7h5.6m-2.8-2.8v5.6M507.9 104.6h5.6m-2.8-2.8v5.6M584.5 63.5h5.6m-2.8-2.8v5.6M509.3 105.7h5.6m-2.8-2.8v5.6M592.3 43.3h5.6m-2.8-2.8v5.6M579.9 90.9h5.6m-2.8-2.8v5.6M593.1 61.2h5.6m-2.8-2.8v5.6M527 73.9h5.6m-2.8-2.8v5.6M587.3 48h5.6m-2.8-2.8v5.6M523.8 91.6h5.6m-2.8-2.8v5.6M538.2 88.3h5.6m-2.8-2.8v5.6M580.2 62.1h5.6m-2.8-2.8v5.6M533.1 82.9h5.6m-2.8-2.8v5.6M598.5 67.9h5.6m-2.8-2.8v5.6M596.9 67.5h5.6m-2.8-2.8v5.6M605.6 97.7h5.6m-2.8-2.8v5.6M547.1 77.2h5.6m-2.8-2.8v5.6M576.4 45.9h5.6m-2.8-2.8v5.6M565.1 66.8h5.6m-2.8-2.8v5.6M566.3 64.2h5.6m-2.8-2.8v5.6M574 48h5.6m-2.8-2.8v5.6M498.2 112h5.6m-2.8-2.8v5.6M592.8 94.3h5.6m-2.8-2.8v5.6M583.4 93.1h5.6m-2.8-2.8v5.6M567.8 53.8h5.6m-2.8-2.8v5.6M522.8 98.9h5.6m-2.8-2.8v5.6M521.5 91.7h5.6m-2.8-2.8v5.6M554.7 68.1h5.6m-2.8-2.8v5.6M532.4 81.8h5.6m-2.8-2.8v5.6M601.4 57.2h5.6m-2.8-2.8v5.6M601.1 85.6h5.6m-2.8-2.8v5.6M553.3 81.7h5.6m-2.8-2.8v5.6M534.6 73.2h5.6m-2.8-2.8v5.6M515.8 100h5.6m-2.8-2.8v5.6M581.6 45.7h5.6m-2.8-2.8v5.6M498.7 112.6h5.6m-2.8-2.8v5.6M550.8 63h5.6m-2.8-2.8v5.6M514.5 94.6h5.6m-2.8-2.8v5.6M540.2 78.8h5.6m-2.8-2.8v5.6M598.5 94.9h5.6m-2.8-2.8v5.6M532.8 96.1h5.6m-2.8-2.8v5.6M511.3 109.9h5.6m-2.8-2.8v5.6M573.6 63h5.6m-2.8-2.8v5.6M510 100.6h5.6m-2.8-2.8v5.6M552.3 90.6h5.6m-2.8-2.8v5.6M586.7 51.9h5.6m-2.8-2.8v5.6M520.4 86.6h5.6m-2.8-2.8v5.6M585.6 83.3h5.6m-2.8-2.8v5.6M496.7 108.6h5.6m-2.8-2.8v5.6M587.3 90.8h5.6m-2.8-2.8v5.6M580.8 54h5.6m-2.8-2.8v5.6M566.2 52.5h5.6m-2.8-2.8v5.6M604.7 83.1h5.6m-2.8-2.8v5.6M588.2 46.6h5.6m-2.8-2.8v5.6M531.1 79.3h5.6m-2.8-2.8v5.6M571.8 52h5.6m-2.8-2.8v5.6M558.9 78h5.6m-2.8-2.8v5.6M524.3 91.7h5.6m-2.8-2.8v5.6M511.5 97.5h5.6m-2.8-2.8v5.6M594.3 84.5h5.6m-2.8-2.8v5.6M573.2 59.2h5.6m-2.8-2.8v5.6M510 101.1h5.6m-2.8-2.8v5.6M580.8 78.1h5.6m-2.8-2.8v5.6M507.4 114.4h5.6m-2.8-2.8v5.6M581.3 69.9h5.6m-2.8-2.8v5.6M586.1 87.1h5.6m-2.8-2.8v5.6M508.3 112.2h5.6m-2.8-2.8v5.6M593.2 88.7h5.6m-2.8-2.8v5.6M504.7 105.9h5.6m-2.8-2.8v5.6M506.7 106.6h5.6m-2.8-2.8v5.6M505.8 114.9h5.6m-2.8-2.8v5.6M569.5 50.9h5.6m-2.8-2.8v5.6M541.6 81.9h5.6m-2.8-2.8v5.6M500 112.4h5.6m-2.8-2.8v5.6M523.2 86.8h5.6m-2.8-2.8v5.6M575 54.5h5.6m-2.8-2.8v5.6M555 62.8h5.6m-2.8-2.8v5.6M510.6 108.9h5.6m-2.8-2.8v5.6M528.8 94h5.6m-2.8-2.8v5.6M577.8 80.9h5.6m-2.8-2.8v5.6M532.4 92.1h5.6m-2.8-2.8v5.6M591.5 62.2h5.6m-2.8-2.8v5.6M549.4 82.8h5.6m-2.8-2.8v5.6M597.8 47.6h5.6m-2.8-2.8v5.6M546 77h5.6m-2.8-2.8v5.6M591.3 83.2h5.6m-2.8-2.8v5.6M525 103.7h5.6m-2.8-2.8v5.6M551.7 68.7h5.6m-2.8-2.8v5.6M513.8 104.4h5.6m-2.8-2.8v5.6M605.4 76.4h5.6m-2.8-2.8v5.6M538.6 69.8h5.6m-2.8-2.8v5.6M594.6 77.3h5.6m-2.8-2.8v5.6M510.2 103.9h5.6m-2.8-2.8v5.6M577.9 47.3h5.6m-2.8-2.8v5.6M569.1 73.4h5.6m-2.8-2.8v5.6M553.2 85.4h5.6m-2.8-2.8v5.6M545.6 80.5h5.6m-2.8-2.8v5.6M596.8 49.1h5.6m-2.8-2.8v5.6M598.3 72.6h5.6m-2.8-2.8v5.6M602.5 91.6h5.6m-2.8-2.8v5.6M597.8 63.7h5.6m-2.8-2.8v5.6M592.4 74.8h5.6m-2.8-2.8v5.6M605.4 97.9h5.6m-2.8-2.8v5.6M589.7 52.2h5.6m-2.8-2.8v5.6M537.7 70.7h5.6m-2.8-2.8v5.6M520.1 91.7h5.6m-2.8-2.8v5.6M548.1 82h5.6m-2.8-2.8v5.6M518.2 92.2h5.6m-2.8-2.8v5.6M576.9 85.9h5.6m-2.8-2.8v5.6M604 87.8h5.6m-2.8-2.8v5.6M537.8 84.6h5.6m-2.8-2.8v5.6M559.9 51.6h5.6m-2.8-2.8v5.6M600.4 64.7h5.6m-2.8-2.8v5.6M536.8 95.5h5.6m-2.8-2.8v5.6M504.2 110.1h5.6m-2.8-2.8v5.6M560.7 69.9h5.6m-2.8-2.8v5.6M604.5 78.6h5.6m-2.8-2.8v5.6M535.2 85.9h5.6m-2.8-2.8v5.6M515.5 91.5h5.6m-2.8-2.8v5.6M561.5 65.6h5.6m-2.8-2.8v5.6M543.4 88.3h5.6m-2.8-2.8v5.6M531.3 85.5h5.6m-2.8-2.8v5.6M545.6 62.8h5.6m-2.8-2.8v5.6M558.4 81.2h5.6m-2.8-2.8v5.6M502.5 115.7h5.6m-2.8-2.8v5.6M534.6 74h5.6m-2.8-2.8v5.6M594.3 84.9h5.6m-2.8-2.8v5.6M582.3 71.4h5.6m-2.8-2.8v5.6M555.6 68.3h5.6m-2.8-2.8v5.6M501.3 116.2h5.6m-2.8-2.8v5.6M569.9 58.3h5.6m-2.8-2.8v5.6M538.4 67.3h5.6m-2.8-2.8v5.6M586.6 79.7h5.6m-2.8-2.8v5.6M504 109.6h5.6m-2.8-2.8v5.6M568.5 76.5h5.6m-2.8-2.8v5.6M501.4 110.8h5.6m-2.8-2.8v5.6M500.4 107.9h5.6m-2.8-2.8v5.6M565.3 74.6h5.6m-2.8-2.8v5.6M545.6 88.6h5.6m-2.8-2.8v5.6M517 108.1h5.6m-2.8-2.8v5.6M586.2 71.5h5.6m-2.8-2.8v5.6M575.2 73.2h5.6m-2.8-2.8v5.6M585.2 63.8h5.6m-2.8-2.8v5.6M568.4 69.9h5.6m-2.8-2.8v5.6M558.3 82h5.6m-2.8-2.8v5.6M603.5 64h5.6m-2.8-2.8v5.6M555.1 65.1h5.6m-2.8-2.8v5.6M507.6 113.3h5.6m-2.8-2.8v5.6M522 87.7h5.6m-2.8-2.8v5.6M498.1 111.1h5.6m-2.8-2.8v5.6M592 54.5h5.6m-2.8-2.8v5.6M575.5 75.4h5.6m-2.8-2.8v5.6M522.1 91.2h5.6m-2.8-2.8v5.6M529.4 78.8h5.6m-2.8-2.8v5.6M535.1 74.4h5.6m-2.8-2.8v5.6M559.5 54.8h5.6m-2.8-2.8v5.6M604.8 80.7h5.6m-2.8-2.8v5.6M604.9 98.6h5.6m-2.8-2.8v5.6M592.9 95.9h5.6m-2.8-2.8v5.6M556.5 74.3h5.6m-2.8-2.8v5.6M581.2 77.7h5.6m-2.8-2.8v5.6M519.5 91.5h5.6m-2.8-2.8v5.6M557 58.1h5.6m-2.8-2.8v5.6M550.4 94.7h5.6m-2.8-2.8v5.6M581.3 82.8h5.6m-2.8-2.8v5.6M548.4 96.2h5.6m-2.8-2.8v5.6M525.1 86.4h5.6m-2.8-2.8v5.6M580.5 61.1h5.6m-2.8-2.8v5.6M545.3 71.4h5.6m-2.8-2.8v5.6M570.1 77.6h5.6m-2.8-2.8v5.6M555.4 65.7h5.6m-2.8-2.8v5.6M576.6 80.8h5.6m-2.8-2.8v5.6M530.7 90.9h5.6m-2.8-2.8v5.6M507.2 113h5.6m-2.8-2.8v5.6M576.7 63.6h5.6m-2.8-2.8v5.6M515.6 96.1h5.6m-2.8-2.8v5.6M509.5 102.3h5.6m-2.8-2.8v5.6M512.9 112.8h5.6m-2.8-2.8v5.6M524.3 92.5h5.6m-2.8-2.8v5.6M526.3 76.8h5.6m-2.8-2.8v5.6M599.6 83.3h5.6m-2.8-2.8v5.6M579 58.1h5.6m-2.8-2.8v5.6M558.2 79.2h5.6m-2.8-2.8v5.6M600.9 47.5h5.6m-2.8-2.8v5.6M498.1 111.9h5.6m-2.8-2.8v5.6M531.9 95.1h5.6m-2.8-2.8v5.6M543.9 66.1h5.6m-2.8-2.8v5.6M499.3 107.4h5.6m-2.8-2.8v5.6M530.6 102.1h5.6m-2.8-2.8v5.6M595.4 83.1h5.6m-2.8-2.8v5.6M519.9 108h5.6m-2.8-2.8v5.6M536.9 95h5.6m-2.8-2.8v5.6M516.4 106.9h5.6m-2.8-2.8v5.6M561.4 69.8h5.6m-2.8-2.8v5.6M532.3 84.4h5.6m-2.8-2.8v5.6M582.3 49.1h5.6m-2.8-2.8v5.6M536.4 63.7h5.6m-2.8-2.8v5.6M584.1 60.6h5.6m-2.8-2.8v5.6M550.5 84.6h5.6m-2.8-2.8v5.6M514 88.2h5.6m-2.8-2.8v5.6M564.6 92.6h5.6m-2.8-2.8v5.6M598.5 38.1h5.6m-2.8-2.8v5.6M503.3 106.3h5.6m-2.8-2.8v5.6M525.1 89.1h5.6m-2.8-2.8v5.6M588.7 76.4h5.6m-2.8-2.8v5.6M552.9 61.9h5.6m-2.8-2.8v5.6M520.2 89h5.6m-2.8-2.8v5.6M545.1 55h5.6m-2.8-2.8v5.6M519.7 85.9h5.6m-2.8-2.8v5.6M504.1 116.3h5.6m-2.8-2.8v5.6M512.3 116.6h5.6m-2.8-2.8v5.6M556.1 89.3h5.6m-2.8-2.8v5.6M584.5 93.9h5.6m-2.8-2.8v5.6M566.2 41.7h5.6m-2.8-2.8v5.6M513.2 113.4h5.6m-2.8-2.8v5.6M581.3 66.8h5.6m-2.8-2.8v5.6M599.2 79.3h5.6m-2.8-2.8v5.6M542.2 58.1h5.6m-2.8-2.8v5.6M536.4 61.4h5.6m-2.8-2.8v5.6M594.8 88.8h5.6m-2.8-2.8v5.6M558 39.5h5.6m-2.8-2.8v5.6M512.2 92.6h5.6m-2.8-2.8v5.6M582.3 47.3h5.6m-2.8-2.8v5.6M563.8 92.5h5.6m-2.8-2.8v5.6M602 97h5.6m-2.8-2.8v5.6M583.3 49.1h5.6m-2.8-2.8v5.6M533.6 76.3h5.6m-2.8-2.8v5.6M543.5 67.4h5.6m-2.8-2.8v5.6M504.3 99.8h5.6m-2.8-2.8v5.6M540.7 66.4h5.6m-2.8-2.8v5.6M550 59.7h5.6m-2.8-2.8v5.6M531.9 83.8h5.6m-2.8-2.8v5.6M502.4 111.6h5.6m-2.8-2.8v5.6M508.2 98.6h5.6m-2.8-2.8v5.6M572 70.3h5.6m-2.8-2.8v5.6M603.7 37.1h5.6m-2.8-2.8v5.6M601.8 98.5h5.6m-2.8-2.8v5.6M574.8 49.4h5.6m-2.8-2.8v5.6M564.4 98.1h5.6m-2.8-2.8v5.6M598.3 71.6h5.6m-2.8-2.8v5.6M563.2 45.3h5.6m-2.8-2.8v5.6M529.1 108.5h5.6m-2.8-2.8v5.6M598.2 84.2h5.6m-2.8-2.8v5.6M504.1 119.6h5.6m-2.8-2.8v5.6M605.9 53h5.6m-2.8-2.8v5.6M522.1 108.8h5.6m-2.8-2.8v5.6M595.5 53.7h5.6m-2.8-2.8v5.6M561.9 90.5h5.6m-2.8-2.8v5.6M543.8 57.6h5.6m-2.8-2.8v5.6M500.1 113.9h5.6m-2.8-2.8v5.6M505.8 96.8h5.6m-2.8-2.8v5.6M510.9 91.5h5.6m-2.8-2.8v5.6M589.5 48.6h5.6m-2.8-2.8v5.6M504.2 105.8h5.6m-2.8-2.8v5.6M552.3 73.1h5.6m-2.8-2.8v5.6M515.2 100.4h5.6m-2.8-2.8v5.6M585.3 91.6h5.6m-2.8-2.8v5.6M593.2 72h5.6m-2.8-2.8v5.6M528.1 99.9h5.6m-2.8-2.8v5.6M548.8 69.7h5.6m-2.8-2.8v5.6M560.5 40.9h5.6m-2.8-2.8v5.6M554.3 69h5.6m-2.8-2.8v5.6M605.2 89.4h5.6m-2.8-2.8v5.6M501.5 115.4h5.6m-2.8-2.8v5.6M533.1 102.1h5.6m-2.8-2.8v5.6M544.3 102.3h5.6m-2.8-2.8v5.6M598 68.1h5.6m-2.8-2.8v5.6M593.5 51.2h5.6m-2.8-2.8v5.6M577.6 46.9h5.6m-2.8-2.8v5.6M531.9 75.5h5.6m-2.8-2.8v5.6M521.7 91h5.6m-2.8-2.8v5.6M563.2 47.9h5.6m-2.8-2.8v5.6M517.6 104.3h5.6m-2.8-2.8v5.6M587.7 43.3h5.6m-2.8-2.8v5.6M604.1 96h5.6m-2.8-2.8v5.6M522.1 110.5h5.6m-2.8-2.8v5.6M576.9 47.9h5.6m-2.8-2.8v5.6M568.9 46.7h5.6m-2.8-2.8v5.6M554.8 65.6h5.6m-2.8-2.8v5.6M598 55.8h5.6m-2.8-2.8v5.6M569.7 59.5h5.6m-2.8-2.8v5.6M552.4 57.5h5.6m-2.8-2.8v5.6M560.8 90.7h5.6m-2.8-2.8v5.6M545.2 82.9h5.6m-2.8-2.8v5.6M545.8 75.6h5.6m-2.8-2.8v5.6M538.3 87.2h5.6m-2.8-2.8v5.6M545.3 85.3h5.6m-2.8-2.8v5.6M603.4 98h5.6m-2.8-2.8v5.6M501.5 106.9h5.6m-2.8-2.8v5.6M541.9 82.9h5.6m-2.8-2.8v5.6M562.9 74.9h5.6m-2.8-2.8v5.6M525.2 112.1h5.6m-2.8-2.8v5.6M592.9 33.1h5.6m-2.8-2.8v5.6M530.2 88.4h5.6m-2.8-2.8v5.6M534.3 104.4h5.6m-2.8-2.8v5.6M595 40.7h5.6m-2.8-2.8v5.6M525.4 101.4h5.6m-2.8-2.8v5.6M574.2 44.8h5.6m-2.8-2.8v5.6M549.8 82.4h5.6m-2.8-2.8v5.6M524.6 77.9h5.6m-2.8-2.8v5.6M591.9 39.2h5.6m-2.8-2.8v5.6M511.9 101.8h5.6m-2.8-2.8v5.6M604.8 54.2h5.6m-2.8-2.8v5.6M548.7 95.5h5.6m-2.8-2.8v5.6M506.2 103.6h5.6m-2.8-2.8v5.6M507 100.9h5.6m-2.8-2.8v5.6M570.7 67.1h5.6m-2.8-2.8v5.6M594.8 33.4h5.6m-2.8-2.8v5.6M565.5 92.5h5.6m-2.8-2.8v5.6M562.5 71.3h5.6m-2.8-2.8v5.6M526.3 70.8h5.6m-2.8-2.8v5.6M577.6 90.7h5.6m-2.8-2.8v5.6M524.1 98.5h5.6m-2.8-2.8v5.6M560.8 77.8h5.6m-2.8-2.8v5.6M546.6 62.5h5.6m-2.8-2.8v5.6M519.1 86.5h5.6m-2.8-2.8v5.6M535 63.4h5.6m-2.8-2.8v5.6M601.3 80.6h5.6m-2.8-2.8v5.6M564.4 91.8h5.6m-2.8-2.8v5.6M543.5 73.7h5.6m-2.8-2.8v5.6M567.8 76.2h5.6m-2.8-2.8v5.6M503.3 119.9h5.6m-2.8-2.8v5.6M559.5 88.3h5.6m-2.8-2.8v5.6M532.4 80.1h5.6m-2.8-2.8v5.6M595.8 65.1h5.6m-2.8-2.8v5.6M526.9 85.5h5.6m-2.8-2.8v5.6M529.1 75h5.6m-2.8-2.8v5.6M516.4 108.8h5.6m-2.8-2.8v5.6M546.5 57.8h5.6m-2.8-2.8v5.6M517.4 110.7h5.6m-2.8-2.8v5.6M513.8 113.1h5.6m-2.8-2.8v5.6M535.2 88.5h5.6m-2.8-2.8v5.6M580.8 71.4h5.6m-2.8-2.8v5.6M550.4 81.1h5.6m-2.8-2.8v5.6M582.3 36.4h5.6m-2.8-2.8v5.6M545.1 58h5.6m-2.8-2.8v5.6M526.5 68.5h5.6m-2.8-2.8v5.6M555.8 57.5h5.6m-2.8-2.8v5.6M540.4 92.1h5.6m-2.8-2.8v5.6M514.1 88h5.6m-2.8-2.8v5.6M538.1 72.9h5.6m-2.8-2.8v5.6M548.9 75.9h5.6m-2.8-2.8v5.6M521.8 107.7h5.6m-2.8-2.8v5.6M535.6 75.1h5.6m-2.8-2.8v5.6M557.7 99.8h5.6m-2.8-2.8v5.6M575.6 69.4h5.6m-2.8-2.8v5.6M507.1 116.3h5.6m-2.8-2.8v5.6M522.3 78.7h5.6m-2.8-2.8v5.6M558.4 78.7h5.6m-2.8-2.8v5.6M526.2 99.1h5.6m-2.8-2.8v5.6M529.6 94.1h5.6m-2.8-2.8v5.6M584.1 44.5h5.6m-2.8-2.8v5.6M574.2 38.7h5.6m-2.8-2.8v5.6M569.5 91.5h5.6m-2.8-2.8v5.6M504.5 119h5.6m-2.8-2.8v5.6M527.3 87.8h5.6m-2.8-2.8v5.6M587.4 59.2h5.6m-2.8-2.8v5.6M545.6 91.6h5.6m-2.8-2.8v5.6M604.5 51.3h5.6m-2.8-2.8v5.6M536.1 104h5.6m-2.8-2.8v5.6M604.5 86.4h5.6m-2.8-2.8v5.6M590.2 93.9h5.6m-2.8-2.8v5.6M569.4 75.1h5.6m-2.8-2.8v5.6M594.6 81.5h5.6m-2.8-2.8v5.6M510.5 116.5h5.6m-2.8-2.8v5.6M585.7 30.8h5.6m-2.8-2.8v5.6M568.3 53.4h5.6m-2.8-2.8v5.6M529.8 97.3h5.6m-2.8-2.8v5.6M509 94h5.6m-2.8-2.8v5.6M504.4 107.8h5.6m-2.8-2.8v5.6M537.1 97.2h5.6m-2.8-2.8v5.6M546.2 56.9h5.6m-2.8-2.8v5.6M526.2 104.8h5.6m-2.8-2.8v5.6M566.9 55.2h5.6m-2.8-2.8v5.6M554.2 89.7h5.6m-2.8-2.8v5.6M593 95.1h5.6m-2.8-2.8v5.6M518.3 107.8h5.6m-2.8-2.8v5.6M554.5 71.1h5.6m-2.8-2.8v5.6M558.8 52.7h5.6m-2.8-2.8v5.6M595.1 68.6h5.6m-2.8-2.8v5.6M504.2 102.5h5.6m-2.8-2.8v5.6M501.7 115.6h5.6m-2.8-2.8v5.6M515 97.3h5.6m-2.8-2.8v5.6M583.1 91.2h5.6m-2.8-2.8v5.6M531.1 70.5h5.6m-2.8-2.8v5.6M573.2 91.7h5.6m-2.8-2.8v5.6M573 45.1h5.6m-2.8-2.8v5.6M543.3 96.7h5.6m-2.8-2.8v5.6M570 77.6h5.6m-2.8-2.8v5.6M514 114.7h5.6m-2.8-2.8v5.6M542.7 98.3h5.6m-2.8-2.8v5.6M540.8 78.5h5.6m-2.8-2.8v5.6M558.6 73.7h5.6m-2.8-2.8v5.6M585.1 94.7h5.6m-2.8-2.8v5.6M534.9 64h5.6m-2.8-2.8v5.6M591.9 34.5h5.6m-2.8-2.8v5.6M581.4 62.3h5.6m-2.8-2.8v5.6M583.7 59.8h5.6m-2.8-2.8v5.6M512.3 113h5.6m-2.8-2.8v5.6M510.1 95.3h5.6m-2.8-2.8v5.6M534.1 88.6h5.6m-2.8-2.8v5.6M557.1 93.7h5.6m-2.8-2.8v5.6M575 44.7h5.6m-2.8-2.8v5.6M584.7 37.9h5.6m-2.8-2.8v5.6M533.6 100.8h5.6m-2.8-2.8v5.6M581 51.2h5.6m-2.8-2.8v5.6M539.4 89h5.6m-2.8-2.8v5.6M516.1 86.7h5.6m-2.8-2.8v5.6M548.9 61.3h5.6m-2.8-2.8v5.6M536 91.4h5.6m-2.8-2.8v5.6M554.5 54.3h5.6m-2.8-2.8v5.6M593.9 77.1h5.6m-2.8-2.8v5.6M573.7 71.6h5.6m-2.8-2.8v5.6M591.6 46.5h5.6m-2.8-2.8v5.6M559 76.2h5.6m-2.8-2.8v5.6M528.9 70.7h5.6m-2.8-2.8v5.6M585.2 79.1h5.6m-2.8-2.8v5.6M508.8 118.1h5.6m-2.8-2.8v5.6M602.6 101.6h5.6m-2.8-2.8v5.6M586.1 63.2h5.6m-2.8-2.8v5.6M558.8 64.8h5.6m-2.8-2.8v5.6M543.5 76.9h5.6m-2.8-2.8v5.6M509.3 95.3h5.6m-2.8-2.8v5.6M510.7 118.3h5.6m-2.8-2.8v5.6M571.5 55.7h5.6m-2.8-2.8v5.6M585.8 51.4h5.6m-2.8-2.8v5.6M599 100.6h5.6m-2.8-2.8v5.6M500.9 117.4h5.6m-2.8-2.8v5.6M582.8 89.5h5.6m-2.8-2.8v5.6M556.4 51.5h5.6m-2.8-2.8v5.6M516.4 98.3h5.6m-2.8-2.8v5.6M595.8 47.4h5.6m-2.8-2.8v5.6M542.2 81.3h5.6m-2.8-2.8v5.6M529.4 67h5.6m-2.8-2.8v5.6M583.2 52.2h5.6m-2.8-2.8v5.6M532.2 75.2h5.6m-2.8-2.8v5.6M551.7 56.8h5.6m-2.8-2.8v5.6M538.5 64h5.6m-2.8-2.8v5.6M572.8 68.5h5.6m-2.8-2.8v5.6M559.8 47h5.6m-2.8-2.8v5.6M556.2 39.7h5.6m-2.8-2.8v5.6M500.5 104h5.6m-2.8-2.8v5.6M575.9 65.6h5.6m-2.8-2.8v5.6M590.4 91.6h5.6m-2.8-2.8v5.6M535.7 73.5h5.6m-2.8-2.8v5.6M587.6 74.6h5.6m-2.8-2.8v5.6M605.8 59.3h5.6m-2.8-2.8v5.6M504.6 120h5.6m-2.8-2.8v5.6M507.9 107.2h5.6m-2.8-2.8v5.6M534.1 95.3h5.6m-2.8-2.8v5.6M547.5 99.2h5.6m-2.8-2.8v5.6M596.7 40.7h5.6m-2.8-2.8v5.6M559.3 70.7h5.6m-2.8-2.8v5.6M618.3 87.1h5.6m-2.8-2.8v5.6M618.8 72.2h5.6m-2.8-2.8v5.6M626.8 86.1h5.6m-2.8-2.8v5.6M625.1 107.7h5.6m-2.8-2.8v5.6M615.8 97h5.6m-2.8-2.8v5.6M615.9 94.1h5.6m-2.8-2.8v5.6M627.2 83h5.6m-2.8-2.8v5.6M626.9 102.7h5.6m-2.8-2.8v5.6M617.1 109.6h5.6m-2.8-2.8v5.6M617.8 108.5h5.6m-2.8-2.8v5.6M621.2 99.3h5.6m-2.8-2.8v5.6M623.1 89.7h5.6m-2.8-2.8v5.6M622.1 99.5h5.6m-2.8-2.8v5.6M623.9 85.4h5.6m-2.8-2.8v5.6M623.7 93.3h5.6m-2.8-2.8v5.6M620.3 99.8h5.6m-2.8-2.8v5.6M614.7 92.4h5.6m-2.8-2.8v5.6M622.4 103.9h5.6m-2.8-2.8v5.6M625.6 80h5.6m-2.8-2.8v5.6M625.5 82.1h5.6m-2.8-2.8v5.6M620.7 104.3h5.6m-2.8-2.8v5.6M617.8 81.8h5.6m-2.8-2.8v5.6M627.2 106.2h5.6m-2.8-2.8v5.6M614.3 96.6h5.6m-2.8-2.8v5.6M618.8 87.2h5.6m-2.8-2.8v5.6M615.7 78h5.6m-2.8-2.8v5.6M618.7 74.9h5.6m-2.8-2.8v5.6M618.6 98.8h5.6m-2.8-2.8v5.6M616.5 73.2h5.6m-2.8-2.8v5.6M622 78.8h5.6m-2.8-2.8v5.6M615 89.5h5.6m-2.8-2.8v5.6M623.9 74.6h5.6m-2.8-2.8v5.6M626.6 106.5h5.6m-2.8-2.8v5.6M619.1 71.2h5.6m-2.8-2.8v5.6M621.3 73h5.6m-2.8-2.8v5.6M617.6 109.6h5.6m-2.8-2.8v5.6M626.7 101.3h5.6m-2.8-2.8v5.6M621.6 97h5.6m-2.8-2.8v5.6M621.8 74.4h5.6m-2.8-2.8v5.6M626.7 81.1h5.6m-2.8-2.8v5.6M617.6 78.6h5.6m-2.8-2.8v5.6M614.4 94.3h5.6m-2.8-2.8v5.6M626.7 101.6h5.6m-2.8-2.8v5.6M619.1 87.9h5.6m-2.8-2.8v5.6M617.3 83h5.6m-2.8-2.8v5.6M622.8 107.4h5.6m-2.8-2.8v5.6M626.4 107.6h5.6m-2.8-2.8v5.6M623.4 97.8h5.6m-2.8-2.8v5.6M616.1 107.3h5.6m-2.8-2.8v5.6M627.4 84.2h5.6m-2.8-2.8v5.6M620.3 79.2h5.6m-2.8-2.8v5.6M627 79.8h5.6m-2.8-2.8v5.6M621.2 100.3h5.6m-2.8-2.8v5.6M621.1 71.7h5.6m-2.8-2.8v5.6M623.9 86.1h5.6m-2.8-2.8v5.6M625.4 96.1h5.6m-2.8-2.8v5.6M621.6 77.6h5.6m-2.8-2.8v5.6M616.8 77.3h5.6m-2.8-2.8v5.6M614.5 89.7h5.6m-2.8-2.8v5.6M621.8 105.5h5.6m-2.8-2.8v5.6M626.4 95.4h5.6m-2.8-2.8v5.6M616.7 94.5h5.6m-2.8-2.8v5.6M622 94.4h5.6m-2.8-2.8v5.6M614.2 106.3h5.6m-2.8-2.8v5.6M623.6 105.9h5.6m-2.8-2.8v5.6M617.6 79.1h5.6m-2.8-2.8v5.6M625.6 79.9h5.6m-2.8-2.8v5.6M616.5 110.2h5.6m-2.8-2.8v5.6M624.2 88.9h5.6m-2.8-2.8v5.6M619 110.3h5.6m-2.8-2.8v5.6M619.9 101.7h5.6m-2.8-2.8v5.6M622 72.7h5.6m-2.8-2.8v5.6M617 107.6h5.6m-2.8-2.8v5.6M623.4 106.8h5.6m-2.8-2.8v5.6M617.2 93.5h5.6m-2.8-2.8v5.6M627.2 99.4h5.6m-2.8-2.8v5.6M618.4 92.1h5.6m-2.8-2.8v5.6M616.3 94.9h5.6m-2.8-2.8v5.6M623.5 98.7h5.6m-2.8-2.8v5.6M624.7 103.9h5.6m-2.8-2.8v5.6M615.5 86.3h5.6m-2.8-2.8v5.6M620.2 74.2h5.6m-2.8-2.8v5.6M615.6 81.8h5.6m-2.8-2.8v5.6M623.1 96.9h5.6m-2.8-2.8v5.6M615.9 86.9h5.6m-2.8-2.8v5.6M624.2 93.5h5.6m-2.8-2.8v5.6M620.5 83.6h5.6m-2.8-2.8v5.6M622.3 94.7h5.6m-2.8-2.8v5.6M616.7 92.5h5.6m-2.8-2.8v5.6M621.5 75.6h5.6m-2.8-2.8v5.6M627.4 91.9h5.6m-2.8-2.8v5.6M618.5 102.1h5.6m-2.8-2.8v5.6M622.5 82.6h5.6m-2.8-2.8v5.6M617.5 83.7h5.6m-2.8-2.8v5.6M627.4 97.2h5.6m-2.8-2.8v5.6M626.6 95.6h5.6m-2.8-2.8v5.6M622.8 78h5.6m-2.8-2.8v5.6M616.9 97.1h5.6m-2.8-2.8v5.6M627.2 107.7h5.6m-2.8-2.8v5.6M618.3 92.1h5.6m-2.8-2.8v5.6M624.1 87.7h5.6m-2.8-2.8v5.6M626.5 87.8h5.6m-2.8-2.8v5.6M614.2 107.1h5.6m-2.8-2.8v5.6M614.7 93.7h5.6m-2.8-2.8v5.6M614.6 90.2h5.6m-2.8-2.8v5.6M622.6 103.3h5.6m-2.8-2.8v5.6M625.5 96h5.6m-2.8-2.8v5.6M626.9 98.2h5.6m-2.8-2.8v5.6M622.4 90.1h5.6m-2.8-2.8v5.6M617.7 80.2h5.6m-2.8-2.8v5.6M614.3 100.5h5.6m-2.8-2.8v5.6M618.4 66.4h5.6m-2.8-2.8v5.6M620.8 113.1h5.6m-2.8-2.8v5.6M618.2 81.3h5.6m-2.8-2.8v5.6M624.9 109.6h5.6m-2.8-2.8v5.6M624.5 95.4h5.6m-2.8-2.8v5.6M621.1 92.8h5.6m-2.8-2.8v5.6M620 61.7h5.6m-2.8-2.8v5.6M626.4 70.3h5.6m-2.8-2.8v5.6M623.9 79.6h5.6m-2.8-2.8v5.6M616.1 113.1h5.6m-2.8-2.8v5.6M625.2 81.6h5.6m-2.8-2.8v5.6M622.5 98.9h5.6m-2.8-2.8v5.6M617.7 63.8h5.6m-2.8-2.8v5.6M621.2 114h5.6m-2.8-2.8v5.6M618.7 95.9h5.6m-2.8-2.8v5.6M615.1 58.5h5.6m-2.8-2.8v5.6M626.1 75.2h5.6m-2.8-2.8v5.6M614.3 90.7h5.6m-2.8-2.8v5.6M615.7 73.5h5.6m-2.8-2.8v5.6M624.9 75.7h5.6m-2.8-2.8v5.6M624.7 109h5.6m-2.8-2.8v5.6M614.4 109.6h5.6m-2.8-2.8v5.6M625.3 74h5.6m-2.8-2.8v5.6M621 102.6h5.6m-2.8-2.8v5.6M625.5 109.1h5.6m-2.8-2.8v5.6M618.5 115h5.6m-2.8-2.8v5.6M627.2 95.1h5.6m-2.8-2.8v5.6M624.4 74.7h5.6m-2.8-2.8v5.6M621.9 63.4h5.6m-2.8-2.8v5.6M624.4 68.4h5.6m-2.8-2.8v5.6M626.9 111.1h5.6m-2.8-2.8v5.6M624.1 103.6h5.6m-2.8-2.8v5.6M618.5 96.3h5.6m-2.8-2.8v5.6M627.3 112.2h5.6m-2.8-2.8v5.6M620 108.2h5.6m-2.8-2.8v5.6M627.4 91.3h5.6m-2.8-2.8v5.6M623.5 88.5h5.6m-2.8-2.8v5.6M624.4 98.1h5.6m-2.8-2.8v5.6M619.7 74.8h5.6m-2.8-2.8v5.6M623.5 69.8h5.6m-2.8-2.8v5.6M618.3 68.2h5.6m-2.8-2.8v5.6M624 86h5.6m-2.8-2.8v5.6M619.6 84.3h5.6m-2.8-2.8v5.6M615.2 109.5h5.6m-2.8-2.8v5.6M648.2 117.2h5.6m-2.8-2.8v5.6M641.6 91h5.6m-2.8-2.8v5.6M658.8 115.6h5.6m-2.8-2.8v5.6M645.6 90.9h5.6m-2.8-2.8v5.6M661.2 119.4h5.6m-2.8-2.8v5.6M646.1 97.6h5.6m-2.8-2.8v5.6M650.3 113h5.6m-2.8-2.8v5.6M644.1 85.4h5.6m-2.8-2.8v5.6M656.3 99.4h5.6m-2.8-2.8v5.6M644.7 108.9h5.6m-2.8-2.8v5.6M653.2 123.5h5.6m-2.8-2.8v5.6M648 100.2h5.6m-2.8-2.8v5.6M652.5 89.6h5.6m-2.8-2.8v5.6M655 105.4h5.6m-2.8-2.8v5.6M655.2 100.7h5.6m-2.8-2.8v5.6M649.6 123.1h5.6m-2.8-2.8v5.6M665.1 121.2h5.6m-2.8-2.8v5.6M643.6 114h5.6m-2.8-2.8v5.6M646 93.7h5.6m-2.8-2.8v5.6M643.7 117.5h5.6m-2.8-2.8v5.6M652.9 125.3h5.6m-2.8-2.8v5.6M646.9 105.7h5.6m-2.8-2.8v5.6M645.5 120h5.6m-2.8-2.8v5.6M646.9 111.3h5.6m-2.8-2.8v5.6M648.6 105.8h5.6m-2.8-2.8v5.6M649.5 110.1h5.6m-2.8-2.8v5.6M640.8 86.8h5.6m-2.8-2.8v5.6M659 119.3h5.6m-2.8-2.8v5.6M640.4 107.3h5.6m-2.8-2.8v5.6M663.1 124.8h5.6m-2.8-2.8v5.6M645.6 87h5.6m-2.8-2.8v5.6M662.9 131.3h5.6m-2.8-2.8v5.6M653 103.7h5.6m-2.8-2.8v5.6M643.3 106h5.6m-2.8-2.8v5.6M656 106.7h5.6m-2.8-2.8v5.6M656.2 109.1h5.6m-2.8-2.8v5.6M649.9 120.6h5.6m-2.8-2.8v5.6M640.8 86.8h5.6m-2.8-2.8v5.6M662.2 114.6h5.6m-2.8-2.8v5.6M642.3 89.1h5.6m-2.8-2.8v5.6M644.7 105.7h5.6m-2.8-2.8v5.6M645.4 85.4h5.6m-2.8-2.8v5.6M661.1 114.3h5.6m-2.8-2.8v5.6M650 86.2h5.6m-2.8-2.8v5.6M646.9 97.9h5.6m-2.8-2.8v5.6M657.4 123.4h5.6m-2.8-2.8v5.6M650 119.5h5.6m-2.8-2.8v5.6M660.5 128.7h5.6m-2.8-2.8v5.6M643.8 107.8h5.6m-2.8-2.8v5.6M656.5 109.3h5.6m-2.8-2.8v5.6M653.6 93.8h5.6m-2.8-2.8v5.6M659.4 127.2h5.6m-2.8-2.8v5.6M653.9 120.2h5.6m-2.8-2.8v5.6M646.5 114.9h5.6m-2.8-2.8v5.6M642.3 104.3h5.6m-2.8-2.8v5.6M662.8 120.5h5.6m-2.8-2.8v5.6M642.6 109.2h5.6m-2.8-2.8v5.6M655.3 109.9h5.6m-2.8-2.8v5.6M641 112.5h5.6m-2.8-2.8v5.6M654.7 105.9h5.6m-2.8-2.8v5.6M642.4 89h5.6m-2.8-2.8v5.6M646.4 96.9h5.6m-2.8-2.8v5.6M653.7 113.6h5.6m-2.8-2.8v5.6M664.3 127.1h5.6m-2.8-2.8v5.6M651.1 102.8h5.6m-2.8-2.8v5.6M661.6 111.7h5.6m-2.8-2.8v5.6M659.8 119.6h5.6m-2.8-2.8v5.6M658.5 114.1h5.6m-2.8-2.8v5.6M664.6 117.3h5.6m-2.8-2.8v5.6M659.6 127.4h5.6m-2.8-2.8v5.6M654.7 111.8h5.6m-2.8-2.8v5.6M646.2 88.9h5.6m-2.8-2.8v5.6M646 91.6h5.6m-2.8-2.8v5.6M652.7 108.7h5.6m-2.8-2.8v5.6M658.2 111.1h5.6m-2.8-2.8v5.6M665.4 118.2h5.6m-2.8-2.8v5.6M660.6 126.9h5.6m-2.8-2.8v5.6M657.3 115.4h5.6m-2.8-2.8v5.6M664.1 126h5.6m-2.8-2.8v5.6M649.4 122h5.6m-2.8-2.8v5.6M652.2 104.2h5.6m-2.8-2.8v5.6M648.2 117.9h5.6m-2.8-2.8v5.6M652.6 122.5h5.6m-2.8-2.8v5.6M644.7 101.8h5.6m-2.8-2.8v5.6M649.2 102.8h5.6m-2.8-2.8v5.6M653.8 111.7h5.6m-2.8-2.8v5.6M643.7 117.7h5.6m-2.8-2.8v5.6M654.5 92.2h5.6m-2.8-2.8v5.6M647.5 107.4h5.6m-2.8-2.8v5.6M648.4 92.5h5.6m-2.8-2.8v5.6M652.8 94.4h5.6m-2.8-2.8v5.6M640.5 110.7h5.6m-2.8-2.8v5.6M645.6 105.2h5.6m-2.8-2.8v5.6M650.5 108.5h5.6m-2.8-2.8v5.6M664.8 126.7h5.6m-2.8-2.8v5.6M654.9 93.8h5.6m-2.8-2.8v5.6M656.6 110.8h5.6m-2.8-2.8v5.6M661.3 125.8h5.6m-2.8-2.8v5.6M641.3 82.6h5.6m-2.8-2.8v5.6M653.9 104.7h5.6m-2.8-2.8v5.6M642 90h5.6m-2.8-2.8v5.6M649.8 97.7h5.6m-2.8-2.8v5.6M647.5 84.6h5.6m-2.8-2.8v5.6M649.7 112.2h5.6m-2.8-2.8v5.6M663 129.4h5.6m-2.8-2.8v5.6M647.2 101.7h5.6m-2.8-2.8v5.6M665.2 132.5h5.6m-2.8-2.8v5.6M645.7 87.9h5.6m-2.8-2.8v5.6M642.3 101.9h5.6m-2.8-2.8v5.6M660.2 115.8h5.6m-2.8-2.8v5.6M660.4 130.3h5.6m-2.8-2.8v5.6M662.9 126.6h5.6m-2.8-2.8v5.6M660.9 122.4h5.6m-2.8-2.8v5.6M662.9 124.2h5.6m-2.8-2.8v5.6M646.9 115.1h5.6m-2.8-2.8v5.6M652.9 123.6h5.6m-2.8-2.8v5.6M644.5 84.9h5.6m-2.8-2.8v5.6M654.9 97.2h5.6m-2.8-2.8v5.6M644.2 100.2h5.6m-2.8-2.8v5.6M652.2 120.8h5.6m-2.8-2.8v5.6M647 83.9h5.6m-2.8-2.8v5.6M658.7 118h5.6m-2.8-2.8v5.6M655.8 99.9h5.6m-2.8-2.8v5.6M664.5 123.7h5.6m-2.8-2.8v5.6M641.6 85.5h5.6m-2.8-2.8v5.6M644.5 109.7h5.6m-2.8-2.8v5.6M643.8 98.9h5.6m-2.8-2.8v5.6M655.1 111.8h5.6m-2.8-2.8v5.6M652.2 119.5h5.6m-2.8-2.8v5.6M658.5 116.9h5.6m-2.8-2.8v5.6M648.1 85.2h5.6m-2.8-2.8v5.6M663.8 111.8h5.6m-2.8-2.8v5.6M665 136.1h5.6m-2.8-2.8v5.6M650.1 105.1h5.6m-2.8-2.8v5.6M646.8 89h5.6m-2.8-2.8v5.6M663 132.5h5.6m-2.8-2.8v5.6M653 85.8h5.6m-2.8-2.8v5.6M662.6 122.9h5.6m-2.8-2.8v5.6M643 100.8h5.6m-2.8-2.8v5.6M653.3 94.6h5.6m-2.8-2.8v5.6M645 110.4h5.6m-2.8-2.8v5.6M665 137.6h5.6m-2.8-2.8v5.6M655.6 127.4h5.6m-2.8-2.8v5.6M659.1 118.9h5.6m-2.8-2.8v5.6M663.5 130.6h5.6m-2.8-2.8v5.6M662.3 129.2h5.6m-2.8-2.8v5.6M641.6 117.2h5.6m-2.8-2.8v5.6M642.3 103.6h5.6m-2.8-2.8v5.6M664.6 128.4h5.6m-2.8-2.8v5.6M658.3 131.9h5.6m-2.8-2.8v5.6M653.2 105.5h5.6m-2.8-2.8v5.6M642.8 94.9h5.6m-2.8-2.8v5.6M651.5 112.8h5.6m-2.8-2.8v5.6M661.1 113.2h5.6m-2.8-2.8v5.6M643.4 117.5h5.6m-2.8-2.8v5.6M641.7 109.1h5.6m-2.8-2.8v5.6M656.3 93.3h5.6m-2.8-2.8v5.6M664.6 115h5.6m-2.8-2.8v5.6M643.5 85.2h5.6m-2.8-2.8v5.6M659.4 117.6h5.6m-2.8-2.8v5.6M665.2 123.1h5.6m-2.8-2.8v5.6M643.3 112.3h5.6m-2.8-2.8v5.6M643.6 93.9h5.6m-2.8-2.8v5.6M656 97h5.6m-2.8-2.8v5.6M640.6 120.1h5.6m-2.8-2.8v5.6M664.7 130.8h5.6m-2.8-2.8v5.6M647 83.1h5.6m-2.8-2.8v5.6M643.1 85h5.6m-2.8-2.8v5.6M662.8 120h5.6m-2.8-2.8v5.6M655.6 131h5.6m-2.8-2.8v5.6M655.5 106.1h5.6m-2.8-2.8v5.6M659.6 116.4h5.6m-2.8-2.8v5.6M643.2 111.9h5.6m-2.8-2.8v5.6M656.7 128.9h5.6m-2.8-2.8v5.6M643 110.5h5.6m-2.8-2.8v5.6M660.3 116.4h5.6m-2.8-2.8v5.6M649.3 79.3h5.6m-2.8-2.8v5.6M654.9 120.7h5.6m-2.8-2.8v5.6M654.5 94h5.6m-2.8-2.8v5.6M649.6 105.5h5.6m-2.8-2.8v5.6M654.8 89.1h5.6m-2.8-2.8v5.6M656.3 124.6h5.6m-2.8-2.8v5.6M654.9 117.3h5.6m-2.8-2.8v5.6M652.2 95.8h5.6m-2.8-2.8v5.6M640.9 97.3h5.6m-2.8-2.8v5.6M648.2 96.7h5.6m-2.8-2.8v5.6M660.9 119.9h5.6m-2.8-2.8v5.6M656.1 120.1h5.6m-2.8-2.8v5.6M646.8 100.3h5.6m-2.8-2.8v5.6M653.7 120.1h5.6m-2.8-2.8v5.6" stroke="#4b9c98" stroke-width="0.8" fill="none" opacity="1.0" clip-path="url(#cc)"/>
<path d="M645.7 152.3L647.1 147L653.4 143.5L662.4 139.9L667 137.3L667.4 145.2L667.4 157.6L667 158.5L662.4 159.4L653.4 159.4L647.1 159.4L645.7 159.4Z" fill="#2a1b58" opacity="1.0" clip-path="url(#cc)"/>
<path d="M617.5 155.6L633.9 156.2L633.9 160.9L617.5 160.9Z" fill="#2a1b58" opacity="1.0" clip-path="url(#cc)"/>
<path d="M540 165.4h3.6m-1.8-1.8v3.6M517.7 165.9h3.6m-1.8-1.8v3.6M543.9 164.5h3.6m-1.8-1.8v3.6M549.4 166h3.6m-1.8-1.8v3.6M502.2 164.9h3.6m-1.8-1.8v3.6M499.7 164.4h3.6m-1.8-1.8v3.6M535.3 165.7h3.6m-1.8-1.8v3.6M522.4 164.9h3.6m-1.8-1.8v3.6M507.1 165.6h3.6m-1.8-1.8v3.6M541.2 165h3.6m-1.8-1.8v3.6M530.2 166.3h3.6m-1.8-1.8v3.6M510.2 165.9h3.6m-1.8-1.8v3.6M500.1 164.9h3.6m-1.8-1.8v3.6M529.5 164.4h3.6m-1.8-1.8v3.6M528.5 164.4h3.6m-1.8-1.8v3.6M523.9 165.3h3.6m-1.8-1.8v3.6M513.7 165.4h3.6m-1.8-1.8v3.6M549.3 165.5h3.6m-1.8-1.8v3.6M498.5 165.6h3.6m-1.8-1.8v3.6M509.1 165h3.6m-1.8-1.8v3.6M526.1 165.4h3.6m-1.8-1.8v3.6M548.8 164.9h3.6m-1.8-1.8v3.6M503.1 166.4h3.6m-1.8-1.8v3.6M536.5 165.2h3.6m-1.8-1.8v3.6M533.8 165.4h3.6m-1.8-1.8v3.6M500.3 165.4h3.6m-1.8-1.8v3.6M543.8 165.2h3.6m-1.8-1.8v3.6M500.8 166.2h3.6m-1.8-1.8v3.6M547.6 165.3h3.6m-1.8-1.8v3.6M507.3 164.8h3.6m-1.8-1.8v3.6M548.7 164.6h3.6m-1.8-1.8v3.6M533.5 164.7h3.6m-1.8-1.8v3.6M503.1 165.4h3.6m-1.8-1.8v3.6M542.4 165.8h3.6m-1.8-1.8v3.6M506.2 164.4h3.6m-1.8-1.8v3.6M536.7 166.5h3.6m-1.8-1.8v3.6M501.8 165.1h3.6m-1.8-1.8v3.6M550.2 165.2h3.6m-1.8-1.8v3.6M546 166.3h3.6m-1.8-1.8v3.6M529.7 166.1h3.6m-1.8-1.8v3.6M516.4 166.1h3.6m-1.8-1.8v3.6M523.6 166.4h3.6m-1.8-1.8v3.6M534.1 165h3.6m-1.8-1.8v3.6M547.6 164.8h3.6m-1.8-1.8v3.6M502.5 164.4h3.6m-1.8-1.8v3.6M527.9 164.4h3.6m-1.8-1.8v3.6M525.1 166.3h3.6m-1.8-1.8v3.6M536.7 166.1h3.6m-1.8-1.8v3.6M551.9 165.3h3.6m-1.8-1.8v3.6M547.4 165.4h3.6m-1.8-1.8v3.6M516.1 164.9h3.6m-1.8-1.8v3.6M537 165.5h3.6m-1.8-1.8v3.6M513.4 165.5h3.6m-1.8-1.8v3.6M537.2 166h3.6m-1.8-1.8v3.6M507 165.3h3.6m-1.8-1.8v3.6M534.1 166.4h3.6m-1.8-1.8v3.6M513.1 164.2h3.6m-1.8-1.8v3.6M512.9 164.7h3.6m-1.8-1.8v3.6M515 166.3h3.6m-1.8-1.8v3.6M524.8 164.5h3.6m-1.8-1.8v3.6M540.6 166.4h3.6m-1.8-1.8v3.6M536.6 165.1h3.6m-1.8-1.8v3.6M524.6 165h3.6m-1.8-1.8v3.6M526.7 166.1h3.6m-1.8-1.8v3.6M536.2 166.2h3.6m-1.8-1.8v3.6M515.2 164.5h3.6m-1.8-1.8v3.6M529.3 165.3h3.6m-1.8-1.8v3.6M537 165.4h3.6m-1.8-1.8v3.6M519.3 165.2h3.6m-1.8-1.8v3.6M499.6 165.6h3.6m-1.8-1.8v3.6M500.5 164h3.6m-1.8-1.8v3.6M547.7 165.1h3.6m-1.8-1.8v3.6M507 164.4h3.6m-1.8-1.8v3.6M513.8 164.6h3.6m-1.8-1.8v3.6M533.8 165.1h3.6m-1.8-1.8v3.6M538.7 165.9h3.6m-1.8-1.8v3.6M543.7 165.3h3.6m-1.8-1.8v3.6M539.5 164.6h3.6m-1.8-1.8v3.6M512.2 165.5h3.6m-1.8-1.8v3.6M518 166.3h3.6m-1.8-1.8v3.6M546 165h3.6m-1.8-1.8v3.6M525 165.2h3.6m-1.8-1.8v3.6M546.2 166.3h3.6m-1.8-1.8v3.6M517.8 164.9h3.6m-1.8-1.8v3.6M527.4 165.4h3.6m-1.8-1.8v3.6M512.4 166h3.6m-1.8-1.8v3.6M534.8 165.7h3.6m-1.8-1.8v3.6M549.3 164.6h3.6m-1.8-1.8v3.6M551.1 165.9h3.6m-1.8-1.8v3.6M526.3 166.3h3.6m-1.8-1.8v3.6M517.9 166.3h3.6m-1.8-1.8v3.6M525.6 164.3h3.6m-1.8-1.8v3.6M539.8 165.7h3.6m-1.8-1.8v3.6M513.4 164.3h3.6m-1.8-1.8v3.6M501.2 164.4h3.6m-1.8-1.8v3.6M544.9 166.3h3.6m-1.8-1.8v3.6M550.1 165.1h3.6m-1.8-1.8v3.6M519.5 165.5h3.6m-1.8-1.8v3.6M531.5 165.3h3.6m-1.8-1.8v3.6M545.6 164.6h3.6m-1.8-1.8v3.6M516.1 166.5h3.6m-1.8-1.8v3.6M540.7 165.1h3.6m-1.8-1.8v3.6M534 166.3h3.6m-1.8-1.8v3.6M502.5 164.3h3.6m-1.8-1.8v3.6M518.2 165.4h3.6m-1.8-1.8v3.6M551.3 166.1h3.6m-1.8-1.8v3.6M532.9 166.4h3.6m-1.8-1.8v3.6M528.9 164.8h3.6m-1.8-1.8v3.6M506.9 164.7h3.6m-1.8-1.8v3.6M551 164.7h3.6m-1.8-1.8v3.6M541.4 164.4h3.6m-1.8-1.8v3.6M537.3 165.3h3.6m-1.8-1.8v3.6M543.2 164.7h3.6m-1.8-1.8v3.6M532.6 165h3.6m-1.8-1.8v3.6M508.1 165.7h3.6m-1.8-1.8v3.6M516.1 164.5h3.6m-1.8-1.8v3.6M540.9 165.9h3.6m-1.8-1.8v3.6M552.4 166.4h3.6m-1.8-1.8v3.6M501.7 165.7h3.6m-1.8-1.8v3.6M502.6 164.2h3.6m-1.8-1.8v3.6M517.9 165.6h3.6m-1.8-1.8v3.6M544.9 165.3h3.6m-1.8-1.8v3.6M532.7 165.5h3.6m-1.8-1.8v3.6M523.4 164.3h3.6m-1.8-1.8v3.6M513.4 165.2h3.6m-1.8-1.8v3.6M524.4 166.2h3.6m-1.8-1.8v3.6M506.3 165.3h3.6m-1.8-1.8v3.6M541.8 165.5h3.6m-1.8-1.8v3.6M501.6 164.2h3.6m-1.8-1.8v3.6M505.8 164.3h3.6m-1.8-1.8v3.6M596.3 159.5h3.6m-1.8-1.8v3.6M597.5 161.6h3.6m-1.8-1.8v3.6M600.8 158.8h3.6m-1.8-1.8v3.6M601 160.7h3.6m-1.8-1.8v3.6M600.6 160.1h3.6m-1.8-1.8v3.6M599.1 157.8h3.6m-1.8-1.8v3.6M598.1 162.2h3.6m-1.8-1.8v3.6M602.3 161h3.6m-1.8-1.8v3.6M604.4 162.7h3.6m-1.8-1.8v3.6M603.9 160.9h3.6m-1.8-1.8v3.6M606.8 161.3h3.6m-1.8-1.8v3.6M601 161.2h3.6m-1.8-1.8v3.6M602.2 161.4h3.6m-1.8-1.8v3.6M603.8 160.7h3.6m-1.8-1.8v3.6M604.2 161.3h3.6m-1.8-1.8v3.6M601.2 159.9h3.6m-1.8-1.8v3.6M604.4 159.3h3.6m-1.8-1.8v3.6M600.9 162.5h3.6m-1.8-1.8v3.6M597.1 162.2h3.6m-1.8-1.8v3.6M598 162h3.6m-1.8-1.8v3.6M603.7 161.1h3.6m-1.8-1.8v3.6M606.6 161.6h3.6m-1.8-1.8v3.6M598.7 162h3.6m-1.8-1.8v3.6M597.5 159.3h3.6m-1.8-1.8v3.6M602.7 161.6h3.6m-1.8-1.8v3.6M605.5 159.2h3.6m-1.8-1.8v3.6M600.9 159.6h3.6m-1.8-1.8v3.6M603.6 160.5h3.6m-1.8-1.8v3.6M596.9 161h3.6m-1.8-1.8v3.6M607.1 160.8h3.6m-1.8-1.8v3.6M603.4 162.5h3.6m-1.8-1.8v3.6M605 158.1h3.6m-1.8-1.8v3.6M600.2 160.9h3.6m-1.8-1.8v3.6M601.9 161.6h3.6m-1.8-1.8v3.6M598.3 162.3h3.6m-1.8-1.8v3.6M604 160.1h3.6m-1.8-1.8v3.6M607.2 157.5h3.6m-1.8-1.8v3.6M606.2 157.6h3.6m-1.8-1.8v3.6M605.8 162.8h3.6m-1.8-1.8v3.6M597.3 157.7h3.6m-1.8-1.8v3.6M606.2 159.5h3.6m-1.8-1.8v3.6M603.2 160.5h3.6m-1.8-1.8v3.6M600.9 162.2h3.6m-1.8-1.8v3.6M602.3 161.4h3.6m-1.8-1.8v3.6M597.3 158.3h3.6m-1.8-1.8v3.6M625.3 154.9h3.6m-1.8-1.8v3.6M620 157.3h3.6m-1.8-1.8v3.6M619.7 155.2h3.6m-1.8-1.8v3.6M618.4 156.7h3.6m-1.8-1.8v3.6M624.9 159.4h3.6m-1.8-1.8v3.6M616 158h3.6m-1.8-1.8v3.6M624.3 155.4h3.6m-1.8-1.8v3.6M618.3 160.5h3.6m-1.8-1.8v3.6M620.2 155.5h3.6m-1.8-1.8v3.6M618.8 156.8h3.6m-1.8-1.8v3.6M615.1 161.4h3.6m-1.8-1.8v3.6M627.8 158h3.6m-1.8-1.8v3.6M616.6 158.1h3.6m-1.8-1.8v3.6M632.2 158.9h3.6m-1.8-1.8v3.6M624.9 158.6h3.6m-1.8-1.8v3.6M624 161.7h3.6m-1.8-1.8v3.6M631.1 157.4h3.6m-1.8-1.8v3.6M621 159.7h3.6m-1.8-1.8v3.6M618 154.3h3.6m-1.8-1.8v3.6M630.3 159h3.6m-1.8-1.8v3.6M625.8 157.6h3.6m-1.8-1.8v3.6M618.2 161.8h3.6m-1.8-1.8v3.6M628.3 160.8h3.6m-1.8-1.8v3.6M625.1 161.9h3.6m-1.8-1.8v3.6M614.9 160.7h3.6m-1.8-1.8v3.6M626.8 157.1h3.6m-1.8-1.8v3.6M633.1 156.8h3.6m-1.8-1.8v3.6M624.3 162h3.6m-1.8-1.8v3.6M632.5 158.2h3.6m-1.8-1.8v3.6M630.6 161.7h3.6m-1.8-1.8v3.6M630.2 158.2h3.6m-1.8-1.8v3.6M618.5 158.7h3.6m-1.8-1.8v3.6M615.9 157.2h3.6m-1.8-1.8v3.6M618.6 156.3h3.6m-1.8-1.8v3.6M617.7 156.4h3.6m-1.8-1.8v3.6M626.1 156.3h3.6m-1.8-1.8v3.6M632.3 159.7h3.6m-1.8-1.8v3.6M627.3 158.9h3.6m-1.8-1.8v3.6M631.3 155.4h3.6m-1.8-1.8v3.6M628.8 157.2h3.6m-1.8-1.8v3.6M619.4 154.6h3.6m-1.8-1.8v3.6M632.7 154.5h3.6m-1.8-1.8v3.6M620.8 155.3h3.6m-1.8-1.8v3.6M627.2 155.3h3.6m-1.8-1.8v3.6M629.6 158.4h3.6m-1.8-1.8v3.6M621.9 155.5h3.6m-1.8-1.8v3.6M626.8 157.7h3.6m-1.8-1.8v3.6M630.9 161.8h3.6m-1.8-1.8v3.6M614.7 158.2h3.6m-1.8-1.8v3.6M616.3 155.1h3.6m-1.8-1.8v3.6M616.1 154.7h3.6m-1.8-1.8v3.6M618.7 161h3.6m-1.8-1.8v3.6M628.6 156.6h3.6m-1.8-1.8v3.6M622.2 157.2h3.6m-1.8-1.8v3.6M624.9 154.3h3.6m-1.8-1.8v3.6M624 157.7h3.6m-1.8-1.8v3.6M623.2 158.7h3.6m-1.8-1.8v3.6M627.4 161.2h3.6m-1.8-1.8v3.6M627.5 154.6h3.6m-1.8-1.8v3.6M628.8 157.7h3.6m-1.8-1.8v3.6M621.1 161.3h3.6m-1.8-1.8v3.6M616.2 157.6h3.6m-1.8-1.8v3.6M631 155.1h3.6m-1.8-1.8v3.6M617.9 155.9h3.6m-1.8-1.8v3.6M629.7 158.2h3.6m-1.8-1.8v3.6M630.6 160.6h3.6m-1.8-1.8v3.6M620.8 157.8h3.6m-1.8-1.8v3.6M628.1 158.4h3.6m-1.8-1.8v3.6M620.2 154.9h3.6m-1.8-1.8v3.6M621.8 158.6h3.6m-1.8-1.8v3.6M647.7 152.8h3.6m-1.8-1.8v3.6M659.9 152.9h3.6m-1.8-1.8v3.6M658.8 150.2h3.6m-1.8-1.8v3.6M642.4 150.5h3.6m-1.8-1.8v3.6M649.4 151.2h3.6m-1.8-1.8v3.6M666.3 155.7h3.6m-1.8-1.8v3.6M643.7 158.4h3.6m-1.8-1.8v3.6M646 147.3h3.6m-1.8-1.8v3.6M655.2 160.3h3.6m-1.8-1.8v3.6M649 152h3.6m-1.8-1.8v3.6M646.5 156.1h3.6m-1.8-1.8v3.6M665 149.3h3.6m-1.8-1.8v3.6M648 150.7h3.6m-1.8-1.8v3.6M644.9 153.2h3.6m-1.8-1.8v3.6M658.5 159.2h3.6m-1.8-1.8v3.6M656 154.6h3.6m-1.8-1.8v3.6M660.9 146.8h3.6m-1.8-1.8v3.6M665.1 145.3h3.6m-1.8-1.8v3.6M646.7 158.1h3.6m-1.8-1.8v3.6M659.9 142.7h3.6m-1.8-1.8v3.6M643.7 155.7h3.6m-1.8-1.8v3.6M649.2 152.7h3.6m-1.8-1.8v3.6M664.1 146.8h3.6m-1.8-1.8v3.6M660.9 143.4h3.6m-1.8-1.8v3.6M649.1 150h3.6m-1.8-1.8v3.6M651.6 151.9h3.6m-1.8-1.8v3.6M655.5 147.1h3.6m-1.8-1.8v3.6M646.4 147.3h3.6m-1.8-1.8v3.6M646.2 156h3.6m-1.8-1.8v3.6M663.6 136.8h3.6m-1.8-1.8v3.6M651.4 142.8h3.6m-1.8-1.8v3.6M643 149.5h3.6m-1.8-1.8v3.6M647.2 160.6h3.6m-1.8-1.8v3.6M661.4 157.3h3.6m-1.8-1.8v3.6M661.1 160.9h3.6m-1.8-1.8v3.6M645.2 155.5h3.6m-1.8-1.8v3.6M644.2 154.5h3.6m-1.8-1.8v3.6M650.8 147.1h3.6m-1.8-1.8v3.6M654.6 141.2h3.6m-1.8-1.8v3.6M663.4 156.5h3.6m-1.8-1.8v3.6M665.3 138.4h3.6m-1.8-1.8v3.6M656.4 149.9h3.6m-1.8-1.8v3.6M646.4 155.9h3.6m-1.8-1.8v3.6M647.7 157.8h3.6m-1.8-1.8v3.6M657.6 154.1h3.6m-1.8-1.8v3.6M661.5 147.6h3.6m-1.8-1.8v3.6M663 158.6h3.6m-1.8-1.8v3.6M663.5 148.3h3.6m-1.8-1.8v3.6M658.1 155.9h3.6m-1.8-1.8v3.6M659.7 152h3.6m-1.8-1.8v3.6M660.3 147.8h3.6m-1.8-1.8v3.6M645.6 156.3h3.6m-1.8-1.8v3.6M661.1 160.7h3.6m-1.8-1.8v3.6M658.1 149.2h3.6m-1.8-1.8v3.6M660.2 153.7h3.6m-1.8-1.8v3.6M654.2 151.4h3.6m-1.8-1.8v3.6M661 159.4h3.6m-1.8-1.8v3.6M655 155.8h3.6m-1.8-1.8v3.6M657 155.6h3.6m-1.8-1.8v3.6M647.3 157.2h3.6m-1.8-1.8v3.6M664.7 151.4h3.6m-1.8-1.8v3.6M664.3 142.4h3.6m-1.8-1.8v3.6M648.9 151.2h3.6m-1.8-1.8v3.6M642.3 150.9h3.6m-1.8-1.8v3.6M658 158.7h3.6m-1.8-1.8v3.6M655.2 150.8h3.6m-1.8-1.8v3.6M659.1 154.7h3.6m-1.8-1.8v3.6M665.1 144.9h3.6m-1.8-1.8v3.6M643.9 150h3.6m-1.8-1.8v3.6M664.5 153h3.6m-1.8-1.8v3.6M660.1 141.5h3.6m-1.8-1.8v3.6M664.4 158.7h3.6m-1.8-1.8v3.6M663.3 154.7h3.6m-1.8-1.8v3.6M662.4 144.5h3.6m-1.8-1.8v3.6M653.9 142.8h3.6m-1.8-1.8v3.6M662.4 137.2h3.6m-1.8-1.8v3.6M666.3 148.3h3.6m-1.8-1.8v3.6M660.7 145.7h3.6m-1.8-1.8v3.6M652.2 151.3h3.6m-1.8-1.8v3.6M654.9 156.7h3.6m-1.8-1.8v3.6M648.7 146.1h3.6m-1.8-1.8v3.6M663.5 143.8h3.6m-1.8-1.8v3.6M659.5 149.6h3.6m-1.8-1.8v3.6M656.6 146.9h3.6m-1.8-1.8v3.6M642.3 156.3h3.6m-1.8-1.8v3.6M666.6 155.8h3.6m-1.8-1.8v3.6M653.9 159.6h3.6m-1.8-1.8v3.6M648.5 146.5h3.6m-1.8-1.8v3.6M642.9 151.6h3.6m-1.8-1.8v3.6M662.3 140.3h3.6m-1.8-1.8v3.6M648.6 144.6h3.6m-1.8-1.8v3.6M651.5 152.4h3.6m-1.8-1.8v3.6M666.1 148.5h3.6m-1.8-1.8v3.6M659.3 158.7h3.6m-1.8-1.8v3.6M642.2 158.3h3.6m-1.8-1.8v3.6M644.8 148.8h3.6m-1.8-1.8v3.6M648.4 144.2h3.6m-1.8-1.8v3.6M659.2 156.9h3.6m-1.8-1.8v3.6M660.1 153.9h3.6m-1.8-1.8v3.6M655.4 159.6h3.6m-1.8-1.8v3.6M663.1 141.8h3.6m-1.8-1.8v3.6M656.8 146.3h3.6m-1.8-1.8v3.6M650.7 158.8h3.6m-1.8-1.8v3.6M650.3 147.3h3.6m-1.8-1.8v3.6M656.3 158.3h3.6m-1.8-1.8v3.6M648.2 152.8h3.6m-1.8-1.8v3.6M642.5 160.7h3.6m-1.8-1.8v3.6M653.5 158.5h3.6m-1.8-1.8v3.6M664.6 157.2h3.6m-1.8-1.8v3.6M661 142.6h3.6m-1.8-1.8v3.6M650.1 151.1h3.6m-1.8-1.8v3.6M667.2 149.1h3.6m-1.8-1.8v3.6M651.9 142.1h3.6m-1.8-1.8v3.6M648.7 144.1h3.6m-1.8-1.8v3.6M649.9 153.4h3.6m-1.8-1.8v3.6M650.1 149h3.6m-1.8-1.8v3.6M664.4 143.5h3.6m-1.8-1.8v3.6M646.7 144.6h3.6m-1.8-1.8v3.6M660.4 149.6h3.6m-1.8-1.8v3.6M663.6 158h3.6m-1.8-1.8v3.6M657.2 144.1h3.6m-1.8-1.8v3.6M661.7 145.2h3.6m-1.8-1.8v3.6M643.7 154.8h3.6m-1.8-1.8v3.6M648.9 150.3h3.6m-1.8-1.8v3.6M652.1 152.2h3.6m-1.8-1.8v3.6M655.7 148.8h3.6m-1.8-1.8v3.6M664.6 153.5h3.6m-1.8-1.8v3.6M649 157.9h3.6m-1.8-1.8v3.6M644.9 148.2h3.6m-1.8-1.8v3.6M665.3 157.2h3.6m-1.8-1.8v3.6M651.2 143.8h3.6m-1.8-1.8v3.6M663.9 136.7h3.6m-1.8-1.8v3.6M667.2 154.4h3.6m-1.8-1.8v3.6M643.8 157.8h3.6m-1.8-1.8v3.6M654.8 160.9h3.6m-1.8-1.8v3.6M648.5 152.8h3.6m-1.8-1.8v3.6M659.3 157.7h3.6m-1.8-1.8v3.6M645.2 156h3.6m-1.8-1.8v3.6M644.4 159.4h3.6m-1.8-1.8v3.6M644.7 149.2h3.6m-1.8-1.8v3.6M664.3 159.4h3.6m-1.8-1.8v3.6M662.4 140.8h3.6m-1.8-1.8v3.6M658.6 154.5h3.6m-1.8-1.8v3.6M662.8 158.8h3.6m-1.8-1.8v3.6M643.3 149.2h3.6m-1.8-1.8v3.6M647.7 145.4h3.6m-1.8-1.8v3.6M661.2 160h3.6m-1.8-1.8v3.6M644.5 151.8h3.6m-1.8-1.8v3.6M645.8 150.4h3.6m-1.8-1.8v3.6M659.1 156h3.6m-1.8-1.8v3.6M654.1 156.8h3.6m-1.8-1.8v3.6M664.1 145.1h3.6m-1.8-1.8v3.6M659.6 147.1h3.6m-1.8-1.8v3.6M643.6 149.5h3.6m-1.8-1.8v3.6M661.8 148.8h3.6m-1.8-1.8v3.6M657 150.5h3.6m-1.8-1.8v3.6M661.2 148.7h3.6m-1.8-1.8v3.6M649.1 151.8h3.6m-1.8-1.8v3.6M647.5 161.1h3.6m-1.8-1.8v3.6M655.3 143h3.6m-1.8-1.8v3.6M660.3 156.4h3.6m-1.8-1.8v3.6M654.9 149h3.6m-1.8-1.8v3.6M656.7 151.3h3.6m-1.8-1.8v3.6M655 146.8h3.6m-1.8-1.8v3.6M664.4 147.8h3.6m-1.8-1.8v3.6M661.9 144.9h3.6m-1.8-1.8v3.6M645.1 157.1h3.6m-1.8-1.8v3.6M650 154.6h3.6m-1.8-1.8v3.6M654.5 155.1h3.6m-1.8-1.8v3.6M667.3 147.5h3.6m-1.8-1.8v3.6M651.5 147.6h3.6m-1.8-1.8v3.6M665.5 156.4h3.6m-1.8-1.8v3.6M658 140.1h3.6m-1.8-1.8v3.6M651.6 144.1h3.6m-1.8-1.8v3.6M662.4 153.2h3.6m-1.8-1.8v3.6M645.7 148.1h3.6m-1.8-1.8v3.6M652.6 154.2h3.6m-1.8-1.8v3.6M653.8 146.3h3.6m-1.8-1.8v3.6M664.7 137.8h3.6m-1.8-1.8v3.6M661.5 156.9h3.6m-1.8-1.8v3.6M540.3 164l2.9 2.9m0-2.9l-2.9 2.9M518.1 164.5l2.9 2.9m0-2.9l-2.9 2.9M544.2 163.1l2.9 2.9m0-2.9l-2.9 2.9M549.7 164.5l2.9 2.9m0-2.9l-2.9 2.9M502.6 163.5l2.9 2.9m0-2.9l-2.9 2.9M500.1 162.9l2.9 2.9m0-2.9l-2.9 2.9M535.7 164.3l2.9 2.9m0-2.9l-2.9 2.9M522.7 163.5l2.9 2.9m0-2.9l-2.9 2.9M507.4 164.2l2.9 2.9m0-2.9l-2.9 2.9M541.5 163.6l2.9 2.9m0-2.9l-2.9 2.9M530.6 164.8l2.9 2.9m0-2.9l-2.9 2.9M510.5 164.4l2.9 2.9m0-2.9l-2.9 2.9M500.4 163.5l2.9 2.9m0-2.9l-2.9 2.9M529.9 163l2.9 2.9m0-2.9l-2.9 2.9M528.9 163l2.9 2.9m0-2.9l-2.9 2.9M524.2 163.9l2.9 2.9m0-2.9l-2.9 2.9M514 164l2.9 2.9m0-2.9l-2.9 2.9M549.7 164l2.9 2.9m0-2.9l-2.9 2.9M498.8 164.2l2.9 2.9m0-2.9l-2.9 2.9M509.5 163.6l2.9 2.9m0-2.9l-2.9 2.9M526.4 164l2.9 2.9m0-2.9l-2.9 2.9M549.1 163.4l2.9 2.9m0-2.9l-2.9 2.9M503.5 165l2.9 2.9m0-2.9l-2.9 2.9M536.8 163.7l2.9 2.9m0-2.9l-2.9 2.9M534.2 163.9l2.9 2.9m0-2.9l-2.9 2.9M500.7 163.9l2.9 2.9m0-2.9l-2.9 2.9M544.2 163.7l2.9 2.9m0-2.9l-2.9 2.9M501.1 164.8l2.9 2.9m0-2.9l-2.9 2.9M547.9 163.9l2.9 2.9m0-2.9l-2.9 2.9M507.7 163.3l2.9 2.9m0-2.9l-2.9 2.9M549 163.2l2.9 2.9m0-2.9l-2.9 2.9M533.8 163.2l2.9 2.9m0-2.9l-2.9 2.9M503.5 163.9l2.9 2.9m0-2.9l-2.9 2.9M542.8 164.3l2.9 2.9m0-2.9l-2.9 2.9M506.6 163l2.9 2.9m0-2.9l-2.9 2.9M537 165l2.9 2.9m0-2.9l-2.9 2.9M502.2 163.7l2.9 2.9m0-2.9l-2.9 2.9M550.6 163.7l2.9 2.9m0-2.9l-2.9 2.9M546.4 164.8l2.9 2.9m0-2.9l-2.9 2.9M530 164.6l2.9 2.9m0-2.9l-2.9 2.9M516.8 164.7l2.9 2.9m0-2.9l-2.9 2.9M524 165l2.9 2.9m0-2.9l-2.9 2.9M534.4 163.6l2.9 2.9m0-2.9l-2.9 2.9M547.9 163.4l2.9 2.9m0-2.9l-2.9 2.9M502.8 162.9l2.9 2.9m0-2.9l-2.9 2.9M528.3 162.9l2.9 2.9m0-2.9l-2.9 2.9M525.5 164.9l2.9 2.9m0-2.9l-2.9 2.9M537 164.7l2.9 2.9m0-2.9l-2.9 2.9M552.2 163.9l2.9 2.9m0-2.9l-2.9 2.9M547.8 164l2.9 2.9m0-2.9l-2.9 2.9M516.5 163.5l2.9 2.9m0-2.9l-2.9 2.9M537.3 164l2.9 2.9m0-2.9l-2.9 2.9M513.7 164.1l2.9 2.9m0-2.9l-2.9 2.9M537.6 164.6l2.9 2.9m0-2.9l-2.9 2.9M507.3 163.9l2.9 2.9m0-2.9l-2.9 2.9M534.5 164.9l2.9 2.9m0-2.9l-2.9 2.9M513.5 162.7l2.9 2.9m0-2.9l-2.9 2.9M513.3 163.2l2.9 2.9m0-2.9l-2.9 2.9M515.3 164.9l2.9 2.9m0-2.9l-2.9 2.9M525.2 163.1l2.9 2.9m0-2.9l-2.9 2.9M541 165l2.9 2.9m0-2.9l-2.9 2.9M537 163.7l2.9 2.9m0-2.9l-2.9 2.9M525 163.5l2.9 2.9m0-2.9l-2.9 2.9M527.1 164.6l2.9 2.9m0-2.9l-2.9 2.9M536.5 164.8l2.9 2.9m0-2.9l-2.9 2.9M515.6 163l2.9 2.9m0-2.9l-2.9 2.9M529.6 163.9l2.9 2.9m0-2.9l-2.9 2.9M537.3 164l2.9 2.9m0-2.9l-2.9 2.9M519.6 163.8l2.9 2.9m0-2.9l-2.9 2.9M499.9 164.2l2.9 2.9m0-2.9l-2.9 2.9M500.9 162.6l2.9 2.9m0-2.9l-2.9 2.9M548.1 163.6l2.9 2.9m0-2.9l-2.9 2.9M507.3 163l2.9 2.9m0-2.9l-2.9 2.9M514.1 163.1l2.9 2.9m0-2.9l-2.9 2.9M534.1 163.7l2.9 2.9m0-2.9l-2.9 2.9M539 164.5l2.9 2.9m0-2.9l-2.9 2.9M544.1 163.9l2.9 2.9m0-2.9l-2.9 2.9M539.9 163.2l2.9 2.9m0-2.9l-2.9 2.9M512.6 164.1l2.9 2.9m0-2.9l-2.9 2.9M518.4 164.9l2.9 2.9m0-2.9l-2.9 2.9M546.3 163.6l2.9 2.9m0-2.9l-2.9 2.9M525.4 163.8l2.9 2.9m0-2.9l-2.9 2.9M546.6 164.9l2.9 2.9m0-2.9l-2.9 2.9M518.2 163.4l2.9 2.9m0-2.9l-2.9 2.9M527.8 163.9l2.9 2.9m0-2.9l-2.9 2.9M512.8 164.5l2.9 2.9m0-2.9l-2.9 2.9M535.2 164.3l2.9 2.9m0-2.9l-2.9 2.9M549.7 163.1l2.9 2.9m0-2.9l-2.9 2.9M551.5 164.5l2.9 2.9m0-2.9l-2.9 2.9M526.7 164.8l2.9 2.9m0-2.9l-2.9 2.9M518.3 164.9l2.9 2.9m0-2.9l-2.9 2.9M526 162.9l2.9 2.9m0-2.9l-2.9 2.9M540.2 164.3l2.9 2.9m0-2.9l-2.9 2.9M513.7 162.8l2.9 2.9m0-2.9l-2.9 2.9M501.6 163l2.9 2.9m0-2.9l-2.9 2.9M545.3 164.9l2.9 2.9m0-2.9l-2.9 2.9M550.4 163.7l2.9 2.9m0-2.9l-2.9 2.9M519.9 164.1l2.9 2.9m0-2.9l-2.9 2.9M531.8 163.9l2.9 2.9m0-2.9l-2.9 2.9M545.9 163.1l2.9 2.9m0-2.9l-2.9 2.9M516.5 165l2.9 2.9m0-2.9l-2.9 2.9M541.1 163.6l2.9 2.9m0-2.9l-2.9 2.9M534.3 164.9l2.9 2.9m0-2.9l-2.9 2.9M502.9 162.9l2.9 2.9m0-2.9l-2.9 2.9M518.5 163.9l2.9 2.9m0-2.9l-2.9 2.9M551.7 164.6l2.9 2.9m0-2.9l-2.9 2.9M533.3 164.9l2.9 2.9m0-2.9l-2.9 2.9M529.2 163.4l2.9 2.9m0-2.9l-2.9 2.9M507.3 163.2l2.9 2.9m0-2.9l-2.9 2.9M551.4 163.3l2.9 2.9m0-2.9l-2.9 2.9M541.7 163l2.9 2.9m0-2.9l-2.9 2.9M537.7 163.8l2.9 2.9m0-2.9l-2.9 2.9M543.6 163.3l2.9 2.9m0-2.9l-2.9 2.9M532.9 163.5l2.9 2.9m0-2.9l-2.9 2.9M508.4 164.2l2.9 2.9m0-2.9l-2.9 2.9M516.4 163l2.9 2.9m0-2.9l-2.9 2.9M541.2 164.4l2.9 2.9m0-2.9l-2.9 2.9M552.8 164.9l2.9 2.9m0-2.9l-2.9 2.9M502.1 164.3l2.9 2.9m0-2.9l-2.9 2.9M502.9 162.7l2.9 2.9m0-2.9l-2.9 2.9M518.2 164.1l2.9 2.9m0-2.9l-2.9 2.9M545.2 163.9l2.9 2.9m0-2.9l-2.9 2.9M533 164.1l2.9 2.9m0-2.9l-2.9 2.9M523.8 162.8l2.9 2.9m0-2.9l-2.9 2.9M513.8 163.8l2.9 2.9m0-2.9l-2.9 2.9M524.8 164.7l2.9 2.9m0-2.9l-2.9 2.9M506.7 163.8l2.9 2.9m0-2.9l-2.9 2.9M542.2 164.1l2.9 2.9m0-2.9l-2.9 2.9M501.9 162.8l2.9 2.9m0-2.9l-2.9 2.9M506.2 162.9l2.9 2.9m0-2.9l-2.9 2.9M596.7 158l2.9 2.9m0-2.9l-2.9 2.9M597.9 160.1l2.9 2.9m0-2.9l-2.9 2.9M601.2 157.4l2.9 2.9m0-2.9l-2.9 2.9M601.3 159.2l2.9 2.9m0-2.9l-2.9 2.9M601 158.7l2.9 2.9m0-2.9l-2.9 2.9M599.5 156.3l2.9 2.9m0-2.9l-2.9 2.9M598.4 160.8l2.9 2.9m0-2.9l-2.9 2.9M602.7 159.6l2.9 2.9m0-2.9l-2.9 2.9M604.8 161.3l2.9 2.9m0-2.9l-2.9 2.9M604.2 159.5l2.9 2.9m0-2.9l-2.9 2.9M607.2 159.8l2.9 2.9m0-2.9l-2.9 2.9M601.3 159.8l2.9 2.9m0-2.9l-2.9 2.9M602.5 160l2.9 2.9m0-2.9l-2.9 2.9M604.1 159.2l2.9 2.9m0-2.9l-2.9 2.9M604.6 159.9l2.9 2.9m0-2.9l-2.9 2.9M601.6 158.5l2.9 2.9m0-2.9l-2.9 2.9M604.7 157.9l2.9 2.9m0-2.9l-2.9 2.9M601.3 161l2.9 2.9m0-2.9l-2.9 2.9M597.5 160.7l2.9 2.9m0-2.9l-2.9 2.9M598.4 160.5l2.9 2.9m0-2.9l-2.9 2.9M604 159.6l2.9 2.9m0-2.9l-2.9 2.9M607 160.2l2.9 2.9m0-2.9l-2.9 2.9M599.1 160.5l2.9 2.9m0-2.9l-2.9 2.9M597.9 157.8l2.9 2.9m0-2.9l-2.9 2.9M603 160.1l2.9 2.9m0-2.9l-2.9 2.9M605.8 157.7l2.9 2.9m0-2.9l-2.9 2.9M601.3 158.2l2.9 2.9m0-2.9l-2.9 2.9M604 159.1l2.9 2.9m0-2.9l-2.9 2.9M597.3 159.6l2.9 2.9m0-2.9l-2.9 2.9M607.4 159.4l2.9 2.9m0-2.9l-2.9 2.9M603.8 161l2.9 2.9m0-2.9l-2.9 2.9M605.4 156.7l2.9 2.9m0-2.9l-2.9 2.9M600.6 159.5l2.9 2.9m0-2.9l-2.9 2.9M602.3 160.1l2.9 2.9m0-2.9l-2.9 2.9M598.7 160.8l2.9 2.9m0-2.9l-2.9 2.9M604.3 158.7l2.9 2.9m0-2.9l-2.9 2.9M607.5 156.1l2.9 2.9m0-2.9l-2.9 2.9M606.6 156.2l2.9 2.9m0-2.9l-2.9 2.9M606.1 161.4l2.9 2.9m0-2.9l-2.9 2.9M597.7 156.3l2.9 2.9m0-2.9l-2.9 2.9M606.6 158l2.9 2.9m0-2.9l-2.9 2.9M603.5 159.1l2.9 2.9m0-2.9l-2.9 2.9M601.2 160.7l2.9 2.9m0-2.9l-2.9 2.9M602.7 160l2.9 2.9m0-2.9l-2.9 2.9M597.6 156.8l2.9 2.9m0-2.9l-2.9 2.9M625.6 153.5l2.9 2.9m0-2.9l-2.9 2.9M620.4 155.9l2.9 2.9m0-2.9l-2.9 2.9M620 153.8l2.9 2.9m0-2.9l-2.9 2.9M618.8 155.3l2.9 2.9m0-2.9l-2.9 2.9M625.3 158l2.9 2.9m0-2.9l-2.9 2.9M616.3 156.6l2.9 2.9m0-2.9l-2.9 2.9M624.7 154l2.9 2.9m0-2.9l-2.9 2.9M618.6 159.1l2.9 2.9m0-2.9l-2.9 2.9M620.6 154l2.9 2.9m0-2.9l-2.9 2.9M619.2 155.4l2.9 2.9m0-2.9l-2.9 2.9M615.4 159.9l2.9 2.9m0-2.9l-2.9 2.9M628.2 156.6l2.9 2.9m0-2.9l-2.9 2.9M616.9 156.7l2.9 2.9m0-2.9l-2.9 2.9M632.5 157.5l2.9 2.9m0-2.9l-2.9 2.9M625.3 157.2l2.9 2.9m0-2.9l-2.9 2.9M624.3 160.3l2.9 2.9m0-2.9l-2.9 2.9M631.4 156l2.9 2.9m0-2.9l-2.9 2.9M621.4 158.3l2.9 2.9m0-2.9l-2.9 2.9M618.3 152.9l2.9 2.9m0-2.9l-2.9 2.9M630.6 157.6l2.9 2.9m0-2.9l-2.9 2.9M626.2 156.1l2.9 2.9m0-2.9l-2.9 2.9M618.6 160.4l2.9 2.9m0-2.9l-2.9 2.9M628.7 159.3l2.9 2.9m0-2.9l-2.9 2.9M625.5 160.5l2.9 2.9m0-2.9l-2.9 2.9M615.2 159.3l2.9 2.9m0-2.9l-2.9 2.9M627.1 155.7l2.9 2.9m0-2.9l-2.9 2.9M633.5 155.4l2.9 2.9m0-2.9l-2.9 2.9M624.6 160.5l2.9 2.9m0-2.9l-2.9 2.9M632.8 156.7l2.9 2.9m0-2.9l-2.9 2.9M631 160.3l2.9 2.9m0-2.9l-2.9 2.9M630.5 156.8l2.9 2.9m0-2.9l-2.9 2.9M618.9 157.3l2.9 2.9m0-2.9l-2.9 2.9M616.2 155.8l2.9 2.9m0-2.9l-2.9 2.9M618.9 154.8l2.9 2.9m0-2.9l-2.9 2.9M618.1 154.9l2.9 2.9m0-2.9l-2.9 2.9M626.4 154.8l2.9 2.9m0-2.9l-2.9 2.9M632.7 158.3l2.9 2.9m0-2.9l-2.9 2.9M627.7 157.4l2.9 2.9m0-2.9l-2.9 2.9M631.6 154l2.9 2.9m0-2.9l-2.9 2.9M629.2 155.8l2.9 2.9m0-2.9l-2.9 2.9M619.7 153.1l2.9 2.9m0-2.9l-2.9 2.9M633.1 153l2.9 2.9m0-2.9l-2.9 2.9M621.2 153.9l2.9 2.9m0-2.9l-2.9 2.9M627.6 153.8l2.9 2.9m0-2.9l-2.9 2.9M629.9 157l2.9 2.9m0-2.9l-2.9 2.9M622.3 154.1l2.9 2.9m0-2.9l-2.9 2.9M627.1 156.3l2.9 2.9m0-2.9l-2.9 2.9M631.3 160.4l2.9 2.9m0-2.9l-2.9 2.9M615.1 156.8l2.9 2.9m0-2.9l-2.9 2.9M616.7 153.6l2.9 2.9m0-2.9l-2.9 2.9M616.5 153.3l2.9 2.9m0-2.9l-2.9 2.9M619.1 159.5l2.9 2.9m0-2.9l-2.9 2.9M629 155.2l2.9 2.9m0-2.9l-2.9 2.9M622.5 155.7l2.9 2.9m0-2.9l-2.9 2.9M625.2 152.9l2.9 2.9m0-2.9l-2.9 2.9M624.4 156.2l2.9 2.9m0-2.9l-2.9 2.9M623.5 157.3l2.9 2.9m0-2.9l-2.9 2.9M627.8 159.7l2.9 2.9m0-2.9l-2.9 2.9M627.9 153.1l2.9 2.9m0-2.9l-2.9 2.9M629.1 156.2l2.9 2.9m0-2.9l-2.9 2.9M621.5 159.8l2.9 2.9m0-2.9l-2.9 2.9M616.6 156.1l2.9 2.9m0-2.9l-2.9 2.9M631.4 153.7l2.9 2.9m0-2.9l-2.9 2.9M618.3 154.4l2.9 2.9m0-2.9l-2.9 2.9M630 156.8l2.9 2.9m0-2.9l-2.9 2.9M631 159.1l2.9 2.9m0-2.9l-2.9 2.9M621.1 156.4l2.9 2.9m0-2.9l-2.9 2.9M628.5 157l2.9 2.9m0-2.9l-2.9 2.9M620.5 153.5l2.9 2.9m0-2.9l-2.9 2.9M622.2 157.2l2.9 2.9m0-2.9l-2.9 2.9M648.1 151.4l2.9 2.9m0-2.9l-2.9 2.9M660.3 151.5l2.9 2.9m0-2.9l-2.9 2.9M659.2 148.7l2.9 2.9m0-2.9l-2.9 2.9M642.8 149l2.9 2.9m0-2.9l-2.9 2.9M649.7 149.8l2.9 2.9m0-2.9l-2.9 2.9M666.7 154.2l2.9 2.9m0-2.9l-2.9 2.9M644.1 157l2.9 2.9m0-2.9l-2.9 2.9M646.3 145.8l2.9 2.9m0-2.9l-2.9 2.9M655.5 158.9l2.9 2.9m0-2.9l-2.9 2.9M649.3 150.5l2.9 2.9m0-2.9l-2.9 2.9M646.9 154.6l2.9 2.9m0-2.9l-2.9 2.9M665.3 147.9l2.9 2.9m0-2.9l-2.9 2.9M648.4 149.3l2.9 2.9m0-2.9l-2.9 2.9M645.3 151.8l2.9 2.9m0-2.9l-2.9 2.9M658.8 157.8l2.9 2.9m0-2.9l-2.9 2.9M656.3 153.2l2.9 2.9m0-2.9l-2.9 2.9M661.3 145.4l2.9 2.9m0-2.9l-2.9 2.9M665.4 143.8l2.9 2.9m0-2.9l-2.9 2.9M647.1 156.6l2.9 2.9m0-2.9l-2.9 2.9M660.2 141.3l2.9 2.9m0-2.9l-2.9 2.9M644 154.2l2.9 2.9m0-2.9l-2.9 2.9M649.6 151.3l2.9 2.9m0-2.9l-2.9 2.9M664.5 145.4l2.9 2.9m0-2.9l-2.9 2.9M661.3 142l2.9 2.9m0-2.9l-2.9 2.9M649.5 148.5l2.9 2.9m0-2.9l-2.9 2.9M651.9 150.5l2.9 2.9m0-2.9l-2.9 2.9M655.9 145.7l2.9 2.9m0-2.9l-2.9 2.9M646.7 145.9l2.9 2.9m0-2.9l-2.9 2.9M646.5 154.6l2.9 2.9m0-2.9l-2.9 2.9M663.9 135.3l2.9 2.9m0-2.9l-2.9 2.9M651.7 141.3l2.9 2.9m0-2.9l-2.9 2.9M643.4 148.1l2.9 2.9m0-2.9l-2.9 2.9M647.5 159.1l2.9 2.9m0-2.9l-2.9 2.9M661.7 155.8l2.9 2.9m0-2.9l-2.9 2.9M661.5 159.5l2.9 2.9m0-2.9l-2.9 2.9M645.6 154.1l2.9 2.9m0-2.9l-2.9 2.9M644.6 153.1l2.9 2.9m0-2.9l-2.9 2.9M651.2 145.7l2.9 2.9m0-2.9l-2.9 2.9M654.9 139.8l2.9 2.9m0-2.9l-2.9 2.9M663.8 155.1l2.9 2.9m0-2.9l-2.9 2.9M665.6 137l2.9 2.9m0-2.9l-2.9 2.9M656.7 148.5l2.9 2.9m0-2.9l-2.9 2.9M646.8 154.4l2.9 2.9m0-2.9l-2.9 2.9M648 156.4l2.9 2.9m0-2.9l-2.9 2.9M658 152.6l2.9 2.9m0-2.9l-2.9 2.9M661.9 146.2l2.9 2.9m0-2.9l-2.9 2.9M663.4 157.2l2.9 2.9m0-2.9l-2.9 2.9M663.9 146.9l2.9 2.9m0-2.9l-2.9 2.9M658.4 154.5l2.9 2.9m0-2.9l-2.9 2.9M660.1 150.5l2.9 2.9m0-2.9l-2.9 2.9M660.7 146.3l2.9 2.9m0-2.9l-2.9 2.9M646 154.9l2.9 2.9m0-2.9l-2.9 2.9M661.5 159.3l2.9 2.9m0-2.9l-2.9 2.9M658.4 147.7l2.9 2.9m0-2.9l-2.9 2.9M660.5 152.2l2.9 2.9m0-2.9l-2.9 2.9M654.5 150l2.9 2.9m0-2.9l-2.9 2.9M661.4 158l2.9 2.9m0-2.9l-2.9 2.9M655.4 154.3l2.9 2.9m0-2.9l-2.9 2.9M657.4 154.1l2.9 2.9m0-2.9l-2.9 2.9M647.7 155.8l2.9 2.9m0-2.9l-2.9 2.9M665.1 150l2.9 2.9m0-2.9l-2.9 2.9M664.7 141l2.9 2.9m0-2.9l-2.9 2.9M649.3 149.8l2.9 2.9m0-2.9l-2.9 2.9M642.7 149.5l2.9 2.9m0-2.9l-2.9 2.9M658.4 157.3l2.9 2.9m0-2.9l-2.9 2.9M655.6 149.4l2.9 2.9m0-2.9l-2.9 2.9M659.4 153.2l2.9 2.9m0-2.9l-2.9 2.9M665.5 143.4l2.9 2.9m0-2.9l-2.9 2.9M644.3 148.6l2.9 2.9m0-2.9l-2.9 2.9M664.8 151.5l2.9 2.9m0-2.9l-2.9 2.9M660.4 140.1l2.9 2.9m0-2.9l-2.9 2.9M664.7 157.3l2.9 2.9m0-2.9l-2.9 2.9M663.6 153.2l2.9 2.9m0-2.9l-2.9 2.9M662.7 143.1l2.9 2.9m0-2.9l-2.9 2.9M654.2 141.4l2.9 2.9m0-2.9l-2.9 2.9M662.8 135.8l2.9 2.9m0-2.9l-2.9 2.9M666.7 146.8l2.9 2.9m0-2.9l-2.9 2.9M661 144.3l2.9 2.9m0-2.9l-2.9 2.9M652.6 149.9l2.9 2.9m0-2.9l-2.9 2.9M655.3 155.2l2.9 2.9m0-2.9l-2.9 2.9M649.1 144.7l2.9 2.9m0-2.9l-2.9 2.9M663.8 142.3l2.9 2.9m0-2.9l-2.9 2.9M659.9 148.2l2.9 2.9m0-2.9l-2.9 2.9M656.9 145.4l2.9 2.9m0-2.9l-2.9 2.9M642.6 154.9l2.9 2.9m0-2.9l-2.9 2.9M667 154.4l2.9 2.9m0-2.9l-2.9 2.9M654.3 158.2l2.9 2.9m0-2.9l-2.9 2.9M648.9 145.1l2.9 2.9m0-2.9l-2.9 2.9M643.3 150.2l2.9 2.9m0-2.9l-2.9 2.9M662.6 138.8l2.9 2.9m0-2.9l-2.9 2.9M649 143.2l2.9 2.9m0-2.9l-2.9 2.9M651.9 151l2.9 2.9m0-2.9l-2.9 2.9M666.5 147l2.9 2.9m0-2.9l-2.9 2.9M659.7 157.3l2.9 2.9m0-2.9l-2.9 2.9M642.6 156.9l2.9 2.9m0-2.9l-2.9 2.9M645.1 147.3l2.9 2.9m0-2.9l-2.9 2.9M648.8 142.8l2.9 2.9m0-2.9l-2.9 2.9M659.6 155.4l2.9 2.9m0-2.9l-2.9 2.9M660.4 152.5l2.9 2.9m0-2.9l-2.9 2.9M655.8 158.1l2.9 2.9m0-2.9l-2.9 2.9M663.5 140.3l2.9 2.9m0-2.9l-2.9 2.9M657.1 144.9l2.9 2.9m0-2.9l-2.9 2.9M651 157.3l2.9 2.9m0-2.9l-2.9 2.9M650.7 145.9l2.9 2.9m0-2.9l-2.9 2.9M656.7 156.9l2.9 2.9m0-2.9l-2.9 2.9M648.5 151.4l2.9 2.9m0-2.9l-2.9 2.9M642.8 159.2l2.9 2.9m0-2.9l-2.9 2.9M653.8 157l2.9 2.9m0-2.9l-2.9 2.9M664.9 155.8l2.9 2.9m0-2.9l-2.9 2.9M661.4 141.2l2.9 2.9m0-2.9l-2.9 2.9M650.4 149.6l2.9 2.9m0-2.9l-2.9 2.9M667.5 147.7l2.9 2.9m0-2.9l-2.9 2.9M652.2 140.6l2.9 2.9m0-2.9l-2.9 2.9M649 142.7l2.9 2.9m0-2.9l-2.9 2.9M650.3 151.9l2.9 2.9m0-2.9l-2.9 2.9M650.4 147.6l2.9 2.9m0-2.9l-2.9 2.9M664.8 142.1l2.9 2.9m0-2.9l-2.9 2.9M647.1 143.2l2.9 2.9m0-2.9l-2.9 2.9M660.7 148.1l2.9 2.9m0-2.9l-2.9 2.9M663.9 156.6l2.9 2.9m0-2.9l-2.9 2.9M657.6 142.7l2.9 2.9m0-2.9l-2.9 2.9M662.1 143.7l2.9 2.9m0-2.9l-2.9 2.9M644 153.4l2.9 2.9m0-2.9l-2.9 2.9M649.3 148.8l2.9 2.9m0-2.9l-2.9 2.9M652.5 150.8l2.9 2.9m0-2.9l-2.9 2.9M656.1 147.3l2.9 2.9m0-2.9l-2.9 2.9M665 152l2.9 2.9m0-2.9l-2.9 2.9M649.4 156.4l2.9 2.9m0-2.9l-2.9 2.9M645.3 146.7l2.9 2.9m0-2.9l-2.9 2.9M665.7 155.7l2.9 2.9m0-2.9l-2.9 2.9M651.6 142.3l2.9 2.9m0-2.9l-2.9 2.9M664.3 135.3l2.9 2.9m0-2.9l-2.9 2.9M667.5 153l2.9 2.9m0-2.9l-2.9 2.9M644.1 156.4l2.9 2.9m0-2.9l-2.9 2.9M655.2 159.4l2.9 2.9m0-2.9l-2.9 2.9M648.9 151.3l2.9 2.9m0-2.9l-2.9 2.9M659.7 156.3l2.9 2.9m0-2.9l-2.9 2.9M645.6 154.5l2.9 2.9m0-2.9l-2.9 2.9M644.8 158l2.9 2.9m0-2.9l-2.9 2.9M645.1 147.8l2.9 2.9m0-2.9l-2.9 2.9M664.7 158l2.9 2.9m0-2.9l-2.9 2.9M662.8 139.3l2.9 2.9m0-2.9l-2.9 2.9M658.9 153.1l2.9 2.9m0-2.9l-2.9 2.9M663.2 157.4l2.9 2.9m0-2.9l-2.9 2.9M643.6 147.7l2.9 2.9m0-2.9l-2.9 2.9M648.1 143.9l2.9 2.9m0-2.9l-2.9 2.9M661.5 158.5l2.9 2.9m0-2.9l-2.9 2.9M644.8 150.3l2.9 2.9m0-2.9l-2.9 2.9M646.1 148.9l2.9 2.9m0-2.9l-2.9 2.9M659.5 154.5l2.9 2.9m0-2.9l-2.9 2.9M654.5 155.4l2.9 2.9m0-2.9l-2.9 2.9M664.5 143.7l2.9 2.9m0-2.9l-2.9 2.9M659.9 145.7l2.9 2.9m0-2.9l-2.9 2.9M644 148.1l2.9 2.9m0-2.9l-2.9 2.9M662.2 147.4l2.9 2.9m0-2.9l-2.9 2.9M657.4 149.1l2.9 2.9m0-2.9l-2.9 2.9M661.6 147.2l2.9 2.9m0-2.9l-2.9 2.9M649.5 150.4l2.9 2.9m0-2.9l-2.9 2.9M647.9 159.7l2.9 2.9m0-2.9l-2.9 2.9M655.6 141.5l2.9 2.9m0-2.9l-2.9 2.9M660.6 154.9l2.9 2.9m0-2.9l-2.9 2.9M655.3 147.6l2.9 2.9m0-2.9l-2.9 2.9M657.1 149.8l2.9 2.9m0-2.9l-2.9 2.9M655.3 145.4l2.9 2.9m0-2.9l-2.9 2.9M664.7 146.4l2.9 2.9m0-2.9l-2.9 2.9M662.3 143.5l2.9 2.9m0-2.9l-2.9 2.9M645.5 155.7l2.9 2.9m0-2.9l-2.9 2.9M650.4 153.2l2.9 2.9m0-2.9l-2.9 2.9M654.9 153.7l2.9 2.9m0-2.9l-2.9 2.9M667.7 146.1l2.9 2.9m0-2.9l-2.9 2.9M651.8 146.2l2.9 2.9m0-2.9l-2.9 2.9M665.8 155l2.9 2.9m0-2.9l-2.9 2.9M658.4 138.6l2.9 2.9m0-2.9l-2.9 2.9M651.9 142.7l2.9 2.9m0-2.9l-2.9 2.9M662.8 151.8l2.9 2.9m0-2.9l-2.9 2.9M646.1 146.7l2.9 2.9m0-2.9l-2.9 2.9M653 152.8l2.9 2.9m0-2.9l-2.9 2.9M654.2 144.9l2.9 2.9m0-2.9l-2.9 2.9M665.1 136.4l2.9 2.9m0-2.9l-2.9 2.9M661.8 155.5l2.9 2.9m0-2.9l-2.9 2.9" stroke="#2a1b58" stroke-width="0.8" fill="none" opacity="1.0" clip-path="url(#cc)"/>
<g clip-path="url(#cc)"><path d="M500.1 124.4L507.1 126.2L520.6 132.4L536.5 142.2L543.4 145L554.7 151.1L566 154.2L579.5 157.3L590 159.9L607.8 162.6L607.8 164.2L590 164.2L579.5 164.2L566 164.2L554.7 161.6L543.4 158.7L536.5 156.2L520.6 147.4L507.1 135.8L500.1 130.5Z" fill="#ee30ee" opacity="1.0" filter="url(#bl)"/></g>
<path d="M537.2 156.3l4.6 4.6m0-4.6l-4.6 4.6M518.6 140.6l4.6 4.6m0-4.6l-4.6 4.6M516 136.5l4.6 4.6m0-4.6l-4.6 4.6M511 130.5l4.6 4.6m0-4.6l-4.6 4.6M541.8 154l4.6 4.6m0-4.6l-4.6 4.6M572.2 159.7l4.6 4.6m0-4.6l-4.6 4.6M499 122.9l4.6 4.6m0-4.6l-4.6 4.6M579.7 155.3l4.6 4.6m0-4.6l-4.6 4.6M528.9 147.8l4.6 4.6m0-4.6l-4.6 4.6M573.4 161.8l4.6 4.6m0-4.6l-4.6 4.6M603.2 160.1l4.6 4.6m0-4.6l-4.6 4.6M557 161.1l4.6 4.6m0-4.6l-4.6 4.6M527.7 144.4l4.6 4.6m0-4.6l-4.6 4.6M604.8 162.6l4.6 4.6m0-4.6l-4.6 4.6M561.8 161.9l4.6 4.6m0-4.6l-4.6 4.6M603.7 159.7l4.6 4.6m0-4.6l-4.6 4.6M586.2 157.7l4.6 4.6m0-4.6l-4.6 4.6M516.3 140.6l4.6 4.6m0-4.6l-4.6 4.6M500.7 126.5l4.6 4.6m0-4.6l-4.6 4.6M505.4 133.1l4.6 4.6m0-4.6l-4.6 4.6M515.6 128.8l4.6 4.6m0-4.6l-4.6 4.6M583.7 161l4.6 4.6m0-4.6l-4.6 4.6M603.7 162.5l4.6 4.6m0-4.6l-4.6 4.6M511.9 135.2l4.6 4.6m0-4.6l-4.6 4.6M585.4 162.6l4.6 4.6m0-4.6l-4.6 4.6M583.6 158.9l4.6 4.6m0-4.6l-4.6 4.6M584.6 160.7l4.6 4.6m0-4.6l-4.6 4.6M501.1 131.5l4.6 4.6m0-4.6l-4.6 4.6M576.3 158.3l4.6 4.6m0-4.6l-4.6 4.6M580.8 161.6l4.6 4.6m0-4.6l-4.6 4.6M527.3 147.8l4.6 4.6m0-4.6l-4.6 4.6M590.4 158.6l4.6 4.6m0-4.6l-4.6 4.6M513.5 130.9l4.6 4.6m0-4.6l-4.6 4.6M500.7 127.4l4.6 4.6m0-4.6l-4.6 4.6M524.8 136.8l4.6 4.6m0-4.6l-4.6 4.6M575.8 156.4l4.6 4.6m0-4.6l-4.6 4.6M518.2 145.6l4.6 4.6m0-4.6l-4.6 4.6M567.1 155l4.6 4.6m0-4.6l-4.6 4.6M497.4 122.5l4.6 4.6m0-4.6l-4.6 4.6M595.6 161.1l4.6 4.6m0-4.6l-4.6 4.6M553.8 152.4l4.6 4.6m0-4.6l-4.6 4.6M598.7 159.7l4.6 4.6m0-4.6l-4.6 4.6M553.4 150.7l4.6 4.6m0-4.6l-4.6 4.6M550.5 159.7l4.6 4.6m0-4.6l-4.6 4.6M556.9 156.3l4.6 4.6m0-4.6l-4.6 4.6M533.4 148.3l4.6 4.6m0-4.6l-4.6 4.6M520.8 142.4l4.6 4.6m0-4.6l-4.6 4.6M579 155.1l4.6 4.6m0-4.6l-4.6 4.6M546.8 146.7l4.6 4.6m0-4.6l-4.6 4.6M510.3 132.1l4.6 4.6m0-4.6l-4.6 4.6M578.7 156l4.6 4.6m0-4.6l-4.6 4.6M539.2 154.4l4.6 4.6m0-4.6l-4.6 4.6M602.6 160.2l4.6 4.6m0-4.6l-4.6 4.6M568.6 159.3l4.6 4.6m0-4.6l-4.6 4.6M508.9 130.4l4.6 4.6m0-4.6l-4.6 4.6M541.1 143.2l4.6 4.6m0-4.6l-4.6 4.6M569.7 154.7l4.6 4.6m0-4.6l-4.6 4.6M559.4 152.5l4.6 4.6m0-4.6l-4.6 4.6M511.2 125.5l4.6 4.6m0-4.6l-4.6 4.6M560.6 154.9l4.6 4.6m0-4.6l-4.6 4.6M517.4 144.1l4.6 4.6m0-4.6l-4.6 4.6M574.3 155.8l4.6 4.6m0-4.6l-4.6 4.6M570.1 160.4l4.6 4.6m0-4.6l-4.6 4.6M550.2 149.4l4.6 4.6m0-4.6l-4.6 4.6M567.2 152.4l4.6 4.6m0-4.6l-4.6 4.6M506.3 126.1l4.6 4.6m0-4.6l-4.6 4.6M497.9 124.6l4.6 4.6m0-4.6l-4.6 4.6M555.4 160.4l4.6 4.6m0-4.6l-4.6 4.6M542.7 147.5l4.6 4.6m0-4.6l-4.6 4.6M592.3 162.8l4.6 4.6m0-4.6l-4.6 4.6M552.7 150.2l4.6 4.6m0-4.6l-4.6 4.6M509.3 126.1l4.6 4.6m0-4.6l-4.6 4.6M600.2 161.5l4.6 4.6m0-4.6l-4.6 4.6M519.5 144.6l4.6 4.6m0-4.6l-4.6 4.6M520.7 140.4l4.6 4.6m0-4.6l-4.6 4.6M574.5 153.6l4.6 4.6m0-4.6l-4.6 4.6M558.1 149.6l4.6 4.6m0-4.6l-4.6 4.6M543.6 148.1l4.6 4.6m0-4.6l-4.6 4.6M496.4 125.9l4.6 4.6m0-4.6l-4.6 4.6M498.9 129.9l4.6 4.6m0-4.6l-4.6 4.6M585.8 162.4l4.6 4.6m0-4.6l-4.6 4.6M529.5 143.7l4.6 4.6m0-4.6l-4.6 4.6M554.5 160.7l4.6 4.6m0-4.6l-4.6 4.6M508.6 128.8l4.6 4.6m0-4.6l-4.6 4.6M541.1 156.3l4.6 4.6m0-4.6l-4.6 4.6M549.3 154.6l4.6 4.6m0-4.6l-4.6 4.6M606.9 163.1l4.6 4.6m0-4.6l-4.6 4.6M516.3 143.5l4.6 4.6m0-4.6l-4.6 4.6M557.3 149.3l4.6 4.6m0-4.6l-4.6 4.6M582.3 162.4l4.6 4.6m0-4.6l-4.6 4.6M556 156.8l4.6 4.6m0-4.6l-4.6 4.6M604.4 159.9l4.6 4.6m0-4.6l-4.6 4.6M563.2 159.9l4.6 4.6m0-4.6l-4.6 4.6M544.7 150.6l4.6 4.6m0-4.6l-4.6 4.6M538.2 147.4l4.6 4.6m0-4.6l-4.6 4.6M506.4 130.8l4.6 4.6m0-4.6l-4.6 4.6M605.5 161.5l4.6 4.6m0-4.6l-4.6 4.6M552.3 150.6l4.6 4.6m0-4.6l-4.6 4.6M586.2 157.8l4.6 4.6m0-4.6l-4.6 4.6M538.5 145.1l4.6 4.6m0-4.6l-4.6 4.6M518.5 135.6l4.6 4.6m0-4.6l-4.6 4.6M498.2 128.9l4.6 4.6m0-4.6l-4.6 4.6M515.7 138.4l4.6 4.6m0-4.6l-4.6 4.6M578 163.1l4.6 4.6m0-4.6l-4.6 4.6M593.2 162.7l4.6 4.6m0-4.6l-4.6 4.6M601.4 158.4l4.6 4.6m0-4.6l-4.6 4.6M564.3 152.7l4.6 4.6m0-4.6l-4.6 4.6M600.4 160.9l4.6 4.6m0-4.6l-4.6 4.6M591 163.1l4.6 4.6m0-4.6l-4.6 4.6M582.7 157.9l4.6 4.6m0-4.6l-4.6 4.6M582.2 162l4.6 4.6m0-4.6l-4.6 4.6M505.6 129l4.6 4.6m0-4.6l-4.6 4.6M563.4 154.5l4.6 4.6m0-4.6l-4.6 4.6M516.2 135.1l4.6 4.6m0-4.6l-4.6 4.6M603.5 162.1l4.6 4.6m0-4.6l-4.6 4.6M587 156.3l4.6 4.6m0-4.6l-4.6 4.6M570.8 158.4l4.6 4.6m0-4.6l-4.6 4.6M542.6 150.7l4.6 4.6m0-4.6l-4.6 4.6M510.2 138.5l4.6 4.6m0-4.6l-4.6 4.6M527.3 148.5l4.6 4.6m0-4.6l-4.6 4.6M595.8 161.2l4.6 4.6m0-4.6l-4.6 4.6M593.1 159.7l4.6 4.6m0-4.6l-4.6 4.6M595.6 157.9l4.6 4.6m0-4.6l-4.6 4.6M575 158.7l4.6 4.6m0-4.6l-4.6 4.6M523.3 139.4l4.6 4.6m0-4.6l-4.6 4.6M530.8 139.4l4.6 4.6m0-4.6l-4.6 4.6M501.1 125.7l4.6 4.6m0-4.6l-4.6 4.6M533.9 148.1l4.6 4.6m0-4.6l-4.6 4.6M556.3 148.7l4.6 4.6m0-4.6l-4.6 4.6M606.2 161.7l4.6 4.6m0-4.6l-4.6 4.6M602.2 158.5l4.6 4.6m0-4.6l-4.6 4.6M554.5 153.7l4.6 4.6m0-4.6l-4.6 4.6M518.2 132.4l4.6 4.6m0-4.6l-4.6 4.6M550 149.4l4.6 4.6m0-4.6l-4.6 4.6M598.3 159.8l4.6 4.6m0-4.6l-4.6 4.6M573.2 157.5l4.6 4.6m0-4.6l-4.6 4.6M510.9 133.3l4.6 4.6m0-4.6l-4.6 4.6M503.3 131.9l4.6 4.6m0-4.6l-4.6 4.6M604.8 161.5l4.6 4.6m0-4.6l-4.6 4.6M511.3 134l4.6 4.6m0-4.6l-4.6 4.6M503 126.7l4.6 4.6m0-4.6l-4.6 4.6M521.6 144.5l4.6 4.6m0-4.6l-4.6 4.6M566.8 152.1l4.6 4.6m0-4.6l-4.6 4.6M497.9 123.8l4.6 4.6m0-4.6l-4.6 4.6M560.7 156.3l4.6 4.6m0-4.6l-4.6 4.6M543 158.1l4.6 4.6m0-4.6l-4.6 4.6M535.3 146.9l4.6 4.6m0-4.6l-4.6 4.6M533.5 138.2l4.6 4.6m0-4.6l-4.6 4.6M534 141l4.6 4.6m0-4.6l-4.6 4.6M586 157.3l4.6 4.6m0-4.6l-4.6 4.6M550.8 153.4l4.6 4.6m0-4.6l-4.6 4.6M589.6 162.5l4.6 4.6m0-4.6l-4.6 4.6M521.2 147.9l4.6 4.6m0-4.6l-4.6 4.6M550.7 154l4.6 4.6m0-4.6l-4.6 4.6M602 158.6l4.6 4.6m0-4.6l-4.6 4.6M541.3 149.7l4.6 4.6m0-4.6l-4.6 4.6M508 127.4l4.6 4.6m0-4.6l-4.6 4.6M553.8 158.8l4.6 4.6m0-4.6l-4.6 4.6M593.3 163l4.6 4.6m0-4.6l-4.6 4.6M517.7 137.6l4.6 4.6m0-4.6l-4.6 4.6M606.6 162.7l4.6 4.6m0-4.6l-4.6 4.6M525.9 137l4.6 4.6m0-4.6l-4.6 4.6M533.6 139.3l4.6 4.6m0-4.6l-4.6 4.6M498.5 128.6l4.6 4.6m0-4.6l-4.6 4.6M530.6 138.9l4.6 4.6m0-4.6l-4.6 4.6M507.7 128.3l4.6 4.6m0-4.6l-4.6 4.6M594.4 157.3l4.6 4.6m0-4.6l-4.6 4.6M585.5 162.9l4.6 4.6m0-4.6l-4.6 4.6M549.8 156.9l4.6 4.6m0-4.6l-4.6 4.6M509.9 135.8l4.6 4.6m0-4.6l-4.6 4.6M577.6 157.8l4.6 4.6m0-4.6l-4.6 4.6M510.8 135.9l4.6 4.6m0-4.6l-4.6 4.6M503.7 123.2l4.6 4.6m0-4.6l-4.6 4.6M579.7 159l4.6 4.6m0-4.6l-4.6 4.6M602.6 158.4l4.6 4.6m0-4.6l-4.6 4.6M519.2 142.5l4.6 4.6m0-4.6l-4.6 4.6M517.5 134.9l4.6 4.6m0-4.6l-4.6 4.6M562.2 156.3l4.6 4.6m0-4.6l-4.6 4.6M581.9 158.8l4.6 4.6m0-4.6l-4.6 4.6M531.2 142.3l4.6 4.6m0-4.6l-4.6 4.6M601.3 163.1l4.6 4.6m0-4.6l-4.6 4.6M550.1 158.1l4.6 4.6m0-4.6l-4.6 4.6M579 159.3l4.6 4.6m0-4.6l-4.6 4.6M589.1 158.7l4.6 4.6m0-4.6l-4.6 4.6M602.4 160.4l4.6 4.6m0-4.6l-4.6 4.6M562.2 150.5l4.6 4.6m0-4.6l-4.6 4.6M585.2 160.7l4.6 4.6m0-4.6l-4.6 4.6M507.8 125l4.6 4.6m0-4.6l-4.6 4.6M503.4 123.1l4.6 4.6m0-4.6l-4.6 4.6M599.6 159.7l4.6 4.6m0-4.6l-4.6 4.6M601.3 160.1l4.6 4.6m0-4.6l-4.6 4.6M578.8 157.7l4.6 4.6m0-4.6l-4.6 4.6M521 146.6l4.6 4.6m0-4.6l-4.6 4.6M578.5 159.1l4.6 4.6m0-4.6l-4.6 4.6M510.2 131.4l4.6 4.6m0-4.6l-4.6 4.6M525.7 146l4.6 4.6m0-4.6l-4.6 4.6M593.2 159.4l4.6 4.6m0-4.6l-4.6 4.6M579.1 155.7l4.6 4.6m0-4.6l-4.6 4.6M544.7 151.7l4.6 4.6m0-4.6l-4.6 4.6M544.2 153l4.6 4.6m0-4.6l-4.6 4.6M582.4 155.9l4.6 4.6m0-4.6l-4.6 4.6M529.3 140.5l4.6 4.6m0-4.6l-4.6 4.6M520.2 147.4l4.6 4.6m0-4.6l-4.6 4.6M572.1 154.9l4.6 4.6m0-4.6l-4.6 4.6M532.9 137.8l4.6 4.6m0-4.6l-4.6 4.6M575.9 160.1l4.6 4.6m0-4.6l-4.6 4.6M580.4 155.8l4.6 4.6m0-4.6l-4.6 4.6M511.9 127.1l4.6 4.6m0-4.6l-4.6 4.6M544.4 154.4l4.6 4.6m0-4.6l-4.6 4.6M538.1 148l4.6 4.6m0-4.6l-4.6 4.6M554.7 157.3l4.6 4.6m0-4.6l-4.6 4.6M503 126.5l4.6 4.6m0-4.6l-4.6 4.6M575.7 156.3l4.6 4.6m0-4.6l-4.6 4.6M540.2 143.3l4.6 4.6m0-4.6l-4.6 4.6M498.3 129.6l4.6 4.6m0-4.6l-4.6 4.6M498.4 125.5l4.6 4.6m0-4.6l-4.6 4.6M554.2 158.1l4.6 4.6m0-4.6l-4.6 4.6M554.5 161.1l4.6 4.6m0-4.6l-4.6 4.6M500.4 122l4.6 4.6m0-4.6l-4.6 4.6M594.3 162.9l4.6 4.6m0-4.6l-4.6 4.6M568.9 157.4l4.6 4.6m0-4.6l-4.6 4.6M555.9 150.4l4.6 4.6m0-4.6l-4.6 4.6M567.3 152l4.6 4.6m0-4.6l-4.6 4.6M571.7 153.3l4.6 4.6m0-4.6l-4.6 4.6M509.3 127.1l4.6 4.6m0-4.6l-4.6 4.6M531.7 138.3l4.6 4.6m0-4.6l-4.6 4.6M583.9 155.5l4.6 4.6m0-4.6l-4.6 4.6M579.9 159.8l4.6 4.6m0-4.6l-4.6 4.6M554.3 150.8l4.6 4.6m0-4.6l-4.6 4.6M502.8 127.4l4.6 4.6m0-4.6l-4.6 4.6M559.2 152.9l4.6 4.6m0-4.6l-4.6 4.6M534.2 145.1l4.6 4.6m0-4.6l-4.6 4.6M577.7 159.6l4.6 4.6m0-4.6l-4.6 4.6M571.7 153.4l4.6 4.6m0-4.6l-4.6 4.6M537.2 147.6l4.6 4.6m0-4.6l-4.6 4.6M549.9 148.3l4.6 4.6m0-4.6l-4.6 4.6M526.2 146l4.6 4.6m0-4.6l-4.6 4.6M539.8 146.5l4.6 4.6m0-4.6l-4.6 4.6M513.5 126.9l4.6 4.6m0-4.6l-4.6 4.6M552 150.8l4.6 4.6m0-4.6l-4.6 4.6M542 157.6l4.6 4.6m0-4.6l-4.6 4.6M539 147.6l4.6 4.6m0-4.6l-4.6 4.6M506.4 123.5l4.6 4.6m0-4.6l-4.6 4.6M561.3 156.8l4.6 4.6m0-4.6l-4.6 4.6M499.6 129.1l4.6 4.6m0-4.6l-4.6 4.6M533.7 144.1l4.6 4.6m0-4.6l-4.6 4.6M515.6 136.1l4.6 4.6m0-4.6l-4.6 4.6M526.3 141.2l4.6 4.6m0-4.6l-4.6 4.6M572.4 157.7l4.6 4.6m0-4.6l-4.6 4.6M579.3 157.6l4.6 4.6m0-4.6l-4.6 4.6M505.6 127.3l4.6 4.6m0-4.6l-4.6 4.6M549.9 149.4l4.6 4.6m0-4.6l-4.6 4.6M600 161.4l4.6 4.6m0-4.6l-4.6 4.6M590.3 161.8l4.6 4.6m0-4.6l-4.6 4.6M568.2 163.2l4.6 4.6m0-4.6l-4.6 4.6M587.6 160.1l4.6 4.6m0-4.6l-4.6 4.6M546.6 151.8l4.6 4.6m0-4.6l-4.6 4.6M537.6 152.7l4.6 4.6m0-4.6l-4.6 4.6M572.9 156.6l4.6 4.6m0-4.6l-4.6 4.6M502.4 130.4l4.6 4.6m0-4.6l-4.6 4.6M599.4 161.8l4.6 4.6m0-4.6l-4.6 4.6M528.8 142.4l4.6 4.6m0-4.6l-4.6 4.6M537.6 140.8l4.6 4.6m0-4.6l-4.6 4.6M605 162.7l4.6 4.6m0-4.6l-4.6 4.6M521.3 145.1l4.6 4.6m0-4.6l-4.6 4.6M545.6 154.6l4.6 4.6m0-4.6l-4.6 4.6M570.9 153.4l4.6 4.6m0-4.6l-4.6 4.6M504.3 134.3l4.6 4.6m0-4.6l-4.6 4.6M508.8 134l4.6 4.6m0-4.6l-4.6 4.6M511.2 134l4.6 4.6m0-4.6l-4.6 4.6M536.6 144l4.6 4.6m0-4.6l-4.6 4.6M603.3 158.5l4.6 4.6m0-4.6l-4.6 4.6M542.9 148l4.6 4.6m0-4.6l-4.6 4.6M511 131.2l4.6 4.6m0-4.6l-4.6 4.6M594 157.8l4.6 4.6m0-4.6l-4.6 4.6M511.9 138.5l4.6 4.6m0-4.6l-4.6 4.6M596.1 159.2l4.6 4.6m0-4.6l-4.6 4.6M580.7 162.7l4.6 4.6m0-4.6l-4.6 4.6M564.8 163l4.6 4.6m0-4.6l-4.6 4.6M577.8 155.7l4.6 4.6m0-4.6l-4.6 4.6M532 154.1l4.6 4.6m0-4.6l-4.6 4.6M577.4 153.6l4.6 4.6m0-4.6l-4.6 4.6M565 158.7l4.6 4.6m0-4.6l-4.6 4.6M532.8 140.8l4.6 4.6m0-4.6l-4.6 4.6M603.5 161.5l4.6 4.6m0-4.6l-4.6 4.6M520.8 130.3l4.6 4.6m0-4.6l-4.6 4.6M543.7 151.5l4.6 4.6m0-4.6l-4.6 4.6M530.7 141.1l4.6 4.6m0-4.6l-4.6 4.6M605 161.1l4.6 4.6m0-4.6l-4.6 4.6M590.9 160.7l4.6 4.6m0-4.6l-4.6 4.6M543 145.5l4.6 4.6m0-4.6l-4.6 4.6M603.7 159.6l4.6 4.6m0-4.6l-4.6 4.6M574.3 154.7l4.6 4.6m0-4.6l-4.6 4.6M598 157.9l4.6 4.6m0-4.6l-4.6 4.6M555.1 156.2l4.6 4.6m0-4.6l-4.6 4.6M497.2 125.3l4.6 4.6m0-4.6l-4.6 4.6M535.7 155.9l4.6 4.6m0-4.6l-4.6 4.6M606.2 161.9l4.6 4.6m0-4.6l-4.6 4.6M599.4 163.2l4.6 4.6m0-4.6l-4.6 4.6M536.2 142.9l4.6 4.6m0-4.6l-4.6 4.6M570.8 155.8l4.6 4.6m0-4.6l-4.6 4.6M550.4 158.9l4.6 4.6m0-4.6l-4.6 4.6M588.3 158l4.6 4.6m0-4.6l-4.6 4.6M549.2 151.9l4.6 4.6m0-4.6l-4.6 4.6M585.2 159.5l4.6 4.6m0-4.6l-4.6 4.6M549 152.9l4.6 4.6m0-4.6l-4.6 4.6M577.8 156.2l4.6 4.6m0-4.6l-4.6 4.6M533.4 141.8l4.6 4.6m0-4.6l-4.6 4.6M537.9 145.5l4.6 4.6m0-4.6l-4.6 4.6M538.1 141.8l4.6 4.6m0-4.6l-4.6 4.6M600.3 159.2l4.6 4.6m0-4.6l-4.6 4.6M538.5 151.1l4.6 4.6m0-4.6l-4.6 4.6M544.3 149.2l4.6 4.6m0-4.6l-4.6 4.6M500.1 126.3l4.6 4.6m0-4.6l-4.6 4.6M599 163l4.6 4.6m0-4.6l-4.6 4.6M594.9 159.8l4.6 4.6m0-4.6l-4.6 4.6M606.7 160.1l4.6 4.6m0-4.6l-4.6 4.6M575.8 155.7l4.6 4.6m0-4.6l-4.6 4.6M542.9 156.4l4.6 4.6m0-4.6l-4.6 4.6M590.9 157.5l4.6 4.6m0-4.6l-4.6 4.6M576.1 161.1l4.6 4.6m0-4.6l-4.6 4.6M551.6 153.5l4.6 4.6m0-4.6l-4.6 4.6M536.6 148l4.6 4.6m0-4.6l-4.6 4.6M547 144.7l4.6 4.6m0-4.6l-4.6 4.6M565.7 151.3l4.6 4.6m0-4.6l-4.6 4.6M596.8 162.3l4.6 4.6m0-4.6l-4.6 4.6M581.6 160l4.6 4.6m0-4.6l-4.6 4.6M562.4 155.8l4.6 4.6m0-4.6l-4.6 4.6M578.2 160.5l4.6 4.6m0-4.6l-4.6 4.6M571.3 159.2l4.6 4.6m0-4.6l-4.6 4.6M582.9 159.2l4.6 4.6m0-4.6l-4.6 4.6M567.5 151.4l4.6 4.6m0-4.6l-4.6 4.6M527.4 151.5l4.6 4.6m0-4.6l-4.6 4.6M595.4 160.1l4.6 4.6m0-4.6l-4.6 4.6M567.8 153.5l4.6 4.6m0-4.6l-4.6 4.6M594.8 161l4.6 4.6m0-4.6l-4.6 4.6M605.5 161.5l4.6 4.6m0-4.6l-4.6 4.6M576.7 155.1l4.6 4.6m0-4.6l-4.6 4.6M536.5 149.1l4.6 4.6m0-4.6l-4.6 4.6M536.9 150.6l4.6 4.6m0-4.6l-4.6 4.6M541.9 144.2l4.6 4.6m0-4.6l-4.6 4.6M503.1 122.3l4.6 4.6m0-4.6l-4.6 4.6M583.8 158.8l4.6 4.6m0-4.6l-4.6 4.6M567.4 159.7l4.6 4.6m0-4.6l-4.6 4.6M580.9 155.6l4.6 4.6m0-4.6l-4.6 4.6M538.6 148.6l4.6 4.6m0-4.6l-4.6 4.6M520.6 143.3l4.6 4.6m0-4.6l-4.6 4.6M590.6 159l4.6 4.6m0-4.6l-4.6 4.6M545.8 149.3l4.6 4.6m0-4.6l-4.6 4.6M516.9 145.2l4.6 4.6m0-4.6l-4.6 4.6M535.9 146.3l4.6 4.6m0-4.6l-4.6 4.6M516.8 135.9l4.6 4.6m0-4.6l-4.6 4.6M532.3 149.9l4.6 4.6m0-4.6l-4.6 4.6M578.2 159.9l4.6 4.6m0-4.6l-4.6 4.6M578.4 156.2l4.6 4.6m0-4.6l-4.6 4.6M537.9 156.1l4.6 4.6m0-4.6l-4.6 4.6M589.5 159.5l4.6 4.6m0-4.6l-4.6 4.6M560.5 153.7l4.6 4.6m0-4.6l-4.6 4.6M557 149.9l4.6 4.6m0-4.6l-4.6 4.6M497.4 121.2l4.6 4.6m0-4.6l-4.6 4.6M564.5 158.2l4.6 4.6m0-4.6l-4.6 4.6M596.7 158.1l4.6 4.6m0-4.6l-4.6 4.6M562.3 162.9l4.6 4.6m0-4.6l-4.6 4.6M565.3 158.2l4.6 4.6m0-4.6l-4.6 4.6M559.8 151.6l4.6 4.6m0-4.6l-4.6 4.6M511 127.7l4.6 4.6m0-4.6l-4.6 4.6M530.7 149.1l4.6 4.6m0-4.6l-4.6 4.6M500.5 131.1l4.6 4.6m0-4.6l-4.6 4.6M526 141.6l4.6 4.6m0-4.6l-4.6 4.6M600.3 162.4l4.6 4.6m0-4.6l-4.6 4.6M528.3 145.7l4.6 4.6m0-4.6l-4.6 4.6M567.1 159.1l4.6 4.6m0-4.6l-4.6 4.6M570.4 161.6l4.6 4.6m0-4.6l-4.6 4.6M501.2 126.4l4.6 4.6m0-4.6l-4.6 4.6M576.4 162l4.6 4.6m0-4.6l-4.6 4.6M501.7 125.6l4.6 4.6m0-4.6l-4.6 4.6M503.6 123.2l4.6 4.6m0-4.6l-4.6 4.6M572.7 161.6l4.6 4.6m0-4.6l-4.6 4.6M541.7 157.1l4.6 4.6m0-4.6l-4.6 4.6M506.1 131.5l4.6 4.6m0-4.6l-4.6 4.6M593.4 157.6l4.6 4.6m0-4.6l-4.6 4.6M579.6 157.5l4.6 4.6m0-4.6l-4.6 4.6M561 156.1l4.6 4.6m0-4.6l-4.6 4.6M568.9 157.5l4.6 4.6m0-4.6l-4.6 4.6M540.4 143.7l4.6 4.6m0-4.6l-4.6 4.6M529.7 145.9l4.6 4.6m0-4.6l-4.6 4.6M571.5 152.7l4.6 4.6m0-4.6l-4.6 4.6M534.5 148.2l4.6 4.6m0-4.6l-4.6 4.6M540.8 154.3l4.6 4.6m0-4.6l-4.6 4.6M535.6 142.6l4.6 4.6m0-4.6l-4.6 4.6M517.2 137.2l4.6 4.6m0-4.6l-4.6 4.6M527.8 141.8l4.6 4.6m0-4.6l-4.6 4.6M581.9 162.3l4.6 4.6m0-4.6l-4.6 4.6M550.2 157.5l4.6 4.6m0-4.6l-4.6 4.6M567.8 155.3l4.6 4.6m0-4.6l-4.6 4.6M520.8 143.8l4.6 4.6m0-4.6l-4.6 4.6M529.9 147.3l4.6 4.6m0-4.6l-4.6 4.6M595.1 158l4.6 4.6m0-4.6l-4.6 4.6M583.9 160.1l4.6 4.6m0-4.6l-4.6 4.6M546.9 156.3l4.6 4.6m0-4.6l-4.6 4.6M547.3 145.3l4.6 4.6m0-4.6l-4.6 4.6M506.5 131.2l4.6 4.6m0-4.6l-4.6 4.6M518 131.3l4.6 4.6m0-4.6l-4.6 4.6M529.7 144.5l4.6 4.6m0-4.6l-4.6 4.6M502.2 125.5l4.6 4.6m0-4.6l-4.6 4.6M553.2 150.2l4.6 4.6m0-4.6l-4.6 4.6M576.1 155.9l4.6 4.6m0-4.6l-4.6 4.6M525.4 146.1l4.6 4.6m0-4.6l-4.6 4.6M562.5 162.4l4.6 4.6m0-4.6l-4.6 4.6M599.9 159.4l4.6 4.6m0-4.6l-4.6 4.6M550.9 155.3l4.6 4.6m0-4.6l-4.6 4.6M505 128.2l4.6 4.6m0-4.6l-4.6 4.6M581.8 162.3l4.6 4.6m0-4.6l-4.6 4.6M507.3 127.9l4.6 4.6m0-4.6l-4.6 4.6M548.3 148.2l4.6 4.6m0-4.6l-4.6 4.6M541.9 142l4.6 4.6m0-4.6l-4.6 4.6M592.8 161.3l4.6 4.6m0-4.6l-4.6 4.6M555.7 153.7l4.6 4.6m0-4.6l-4.6 4.6M546.2 146.8l4.6 4.6m0-4.6l-4.6 4.6M574.3 154.8l4.6 4.6m0-4.6l-4.6 4.6M524.3 141.1l4.6 4.6m0-4.6l-4.6 4.6M556.5 154l4.6 4.6m0-4.6l-4.6 4.6M498.2 122.9l4.6 4.6m0-4.6l-4.6 4.6M545.9 156.6l4.6 4.6m0-4.6l-4.6 4.6M590.9 159.6l4.6 4.6m0-4.6l-4.6 4.6M578.2 156.3l4.6 4.6m0-4.6l-4.6 4.6M565.2 151.9l4.6 4.6m0-4.6l-4.6 4.6M502.6 129.7l4.6 4.6m0-4.6l-4.6 4.6M514.5 132.9l4.6 4.6m0-4.6l-4.6 4.6M520.7 147.3l4.6 4.6m0-4.6l-4.6 4.6M511.5 138l4.6 4.6m0-4.6l-4.6 4.6M556.1 155.5l4.6 4.6m0-4.6l-4.6 4.6M547.7 159.3l4.6 4.6m0-4.6l-4.6 4.6M554.8 157.9l4.6 4.6m0-4.6l-4.6 4.6M506.5 135.7l4.6 4.6m0-4.6l-4.6 4.6M513.1 135.7l4.6 4.6m0-4.6l-4.6 4.6M514.8 135.9l4.6 4.6m0-4.6l-4.6 4.6M514.5 131.3l4.6 4.6m0-4.6l-4.6 4.6M593.2 161.3l4.6 4.6m0-4.6l-4.6 4.6M504.3 122.9l4.6 4.6m0-4.6l-4.6 4.6M505.7 127.4l4.6 4.6m0-4.6l-4.6 4.6M580 158.9l4.6 4.6m0-4.6l-4.6 4.6M594.9 162.4l4.6 4.6m0-4.6l-4.6 4.6M576 154.2l4.6 4.6m0-4.6l-4.6 4.6M595.5 158.2l4.6 4.6m0-4.6l-4.6 4.6M544.6 150.8l4.6 4.6m0-4.6l-4.6 4.6M590.2 160.8l4.6 4.6m0-4.6l-4.6 4.6M524.6 149.4l4.6 4.6m0-4.6l-4.6 4.6M519 144.3l4.6 4.6m0-4.6l-4.6 4.6M599.1 161.6l4.6 4.6m0-4.6l-4.6 4.6M535.3 139.4l4.6 4.6m0-4.6l-4.6 4.6M572.8 158.6l4.6 4.6m0-4.6l-4.6 4.6M508.1 132.7l4.6 4.6m0-4.6l-4.6 4.6M528.6 135.9l4.6 4.6m0-4.6l-4.6 4.6M542.9 142.7l4.6 4.6m0-4.6l-4.6 4.6M526.3 150.1l4.6 4.6m0-4.6l-4.6 4.6M595.8 162.9l4.6 4.6m0-4.6l-4.6 4.6M583.5 158.5l4.6 4.6m0-4.6l-4.6 4.6M527.8 137.4l4.6 4.6m0-4.6l-4.6 4.6M543.8 143l4.6 4.6m0-4.6l-4.6 4.6M558.1 149.7l4.6 4.6m0-4.6l-4.6 4.6M599.2 161.2l4.6 4.6m0-4.6l-4.6 4.6M572.8 155.5l4.6 4.6m0-4.6l-4.6 4.6M568.8 163l4.6 4.6m0-4.6l-4.6 4.6M572.4 155.1l4.6 4.6m0-4.6l-4.6 4.6M517.8 144.4l4.6 4.6m0-4.6l-4.6 4.6M503.9 127.8l4.6 4.6m0-4.6l-4.6 4.6M508.1 126.2l4.6 4.6m0-4.6l-4.6 4.6M542.3 142l4.6 4.6m0-4.6l-4.6 4.6M577.5 159.2l4.6 4.6m0-4.6l-4.6 4.6M516.6 137.7l4.6 4.6m0-4.6l-4.6 4.6M563.5 152.3l4.6 4.6m0-4.6l-4.6 4.6M595 161.3l4.6 4.6m0-4.6l-4.6 4.6M499 124.6l4.6 4.6m0-4.6l-4.6 4.6M572.4 156.3l4.6 4.6m0-4.6l-4.6 4.6M585.2 157l4.6 4.6m0-4.6l-4.6 4.6M565.5 153.2l4.6 4.6m0-4.6l-4.6 4.6M510.2 125.8l4.6 4.6m0-4.6l-4.6 4.6M570 162.2l4.6 4.6m0-4.6l-4.6 4.6M515 133.1l4.6 4.6m0-4.6l-4.6 4.6M530.2 137.1l4.6 4.6m0-4.6l-4.6 4.6M527.2 143.1l4.6 4.6m0-4.6l-4.6 4.6M552.1 148l4.6 4.6m0-4.6l-4.6 4.6M530 137.8l4.6 4.6m0-4.6l-4.6 4.6M576.3 157.6l4.6 4.6m0-4.6l-4.6 4.6M601 158.7l4.6 4.6m0-4.6l-4.6 4.6M579.2 158.3l4.6 4.6m0-4.6l-4.6 4.6M501.2 130.3l4.6 4.6m0-4.6l-4.6 4.6M568.3 161.9l4.6 4.6m0-4.6l-4.6 4.6M567.5 159.2l4.6 4.6m0-4.6l-4.6 4.6M539.2 143.5l4.6 4.6m0-4.6l-4.6 4.6M589.3 158.2l4.6 4.6m0-4.6l-4.6 4.6M545.8 150.9l4.6 4.6m0-4.6l-4.6 4.6M605.3 159l4.6 4.6m0-4.6l-4.6 4.6M563.6 162.3l4.6 4.6m0-4.6l-4.6 4.6M596 163l4.6 4.6m0-4.6l-4.6 4.6M509.4 129.5l4.6 4.6m0-4.6l-4.6 4.6M518.1 133l4.6 4.6m0-4.6l-4.6 4.6M572.3 161.5l4.6 4.6m0-4.6l-4.6 4.6M596.8 157.5l4.6 4.6m0-4.6l-4.6 4.6M569 151.9l4.6 4.6m0-4.6l-4.6 4.6M584.9 159.6l4.6 4.6m0-4.6l-4.6 4.6M587.5 156.6l4.6 4.6m0-4.6l-4.6 4.6M573.3 162.4l4.6 4.6m0-4.6l-4.6 4.6M537.6 144.8l4.6 4.6m0-4.6l-4.6 4.6M536.8 153.5l4.6 4.6m0-4.6l-4.6 4.6M546.8 157.2l4.6 4.6m0-4.6l-4.6 4.6M548.8 158.3l4.6 4.6m0-4.6l-4.6 4.6M576.7 161.2l4.6 4.6m0-4.6l-4.6 4.6M599.8 162.7l4.6 4.6m0-4.6l-4.6 4.6M566.2 155.4l4.6 4.6m0-4.6l-4.6 4.6M518.4 135.4l4.6 4.6m0-4.6l-4.6 4.6M557.1 153.7l4.6 4.6m0-4.6l-4.6 4.6M516.9 137l4.6 4.6m0-4.6l-4.6 4.6M588.8 159l4.6 4.6m0-4.6l-4.6 4.6M523.3 143.4l4.6 4.6m0-4.6l-4.6 4.6M593.6 163l4.6 4.6m0-4.6l-4.6 4.6M549.2 152.6l4.6 4.6m0-4.6l-4.6 4.6M543.9 158.5l4.6 4.6m0-4.6l-4.6 4.6M508.2 126.2l4.6 4.6m0-4.6l-4.6 4.6M546.7 154.9l4.6 4.6m0-4.6l-4.6 4.6M546.3 158.3l4.6 4.6m0-4.6l-4.6 4.6M505.4 125l4.6 4.6m0-4.6l-4.6 4.6M580.4 161.5l4.6 4.6m0-4.6l-4.6 4.6M531.5 152.5l4.6 4.6m0-4.6l-4.6 4.6M531.5 145l4.6 4.6m0-4.6l-4.6 4.6M579.6 158.7l4.6 4.6m0-4.6l-4.6 4.6M590.1 156.6l4.6 4.6m0-4.6l-4.6 4.6M559.1 161.7l4.6 4.6m0-4.6l-4.6 4.6M511.3 130.4l4.6 4.6m0-4.6l-4.6 4.6M510.8 126.8l4.6 4.6m0-4.6l-4.6 4.6M502.4 132.8l4.6 4.6m0-4.6l-4.6 4.6M606.5 161.5l4.6 4.6m0-4.6l-4.6 4.6M557.7 154.1l4.6 4.6m0-4.6l-4.6 4.6M509.5 134.2l4.6 4.6m0-4.6l-4.6 4.6M537.2 144.1l4.6 4.6m0-4.6l-4.6 4.6M582.9 157.5l4.6 4.6m0-4.6l-4.6 4.6M516.4 137l4.6 4.6m0-4.6l-4.6 4.6M597.6 162.3l4.6 4.6m0-4.6l-4.6 4.6M535 145.3l4.6 4.6m0-4.6l-4.6 4.6M606.4 163.2l4.6 4.6m0-4.6l-4.6 4.6M572.8 158.4l4.6 4.6m0-4.6l-4.6 4.6M554.9 150.1l4.6 4.6m0-4.6l-4.6 4.6M507 128.9l4.6 4.6m0-4.6l-4.6 4.6M531.4 141l4.6 4.6m0-4.6l-4.6 4.6M575.4 159.1l4.6 4.6m0-4.6l-4.6 4.6M513.2 130.1l4.6 4.6m0-4.6l-4.6 4.6M573.9 157.4l4.6 4.6m0-4.6l-4.6 4.6M578.8 154.4l4.6 4.6m0-4.6l-4.6 4.6M523.4 137.3l4.6 4.6m0-4.6l-4.6 4.6M585.6 161.3l4.6 4.6m0-4.6l-4.6 4.6M596.2 161.5l4.6 4.6m0-4.6l-4.6 4.6M602.1 160.3l4.6 4.6m0-4.6l-4.6 4.6M603.9 159l4.6 4.6m0-4.6l-4.6 4.6M582.8 160.2l4.6 4.6m0-4.6l-4.6 4.6M547 150.6l4.6 4.6m0-4.6l-4.6 4.6M585.4 160.1l4.6 4.6m0-4.6l-4.6 4.6M595.7 162l4.6 4.6m0-4.6l-4.6 4.6M554 159.1l4.6 4.6m0-4.6l-4.6 4.6M515.3 139.1l4.6 4.6m0-4.6l-4.6 4.6M501.7 126.6l4.6 4.6m0-4.6l-4.6 4.6M564.9 158.4l4.6 4.6m0-4.6l-4.6 4.6M584.6 159l4.6 4.6m0-4.6l-4.6 4.6M571.9 162.4l4.6 4.6m0-4.6l-4.6 4.6M532.8 154.2l4.6 4.6m0-4.6l-4.6 4.6M514.1 129.2l4.6 4.6m0-4.6l-4.6 4.6M511.4 131.6l4.6 4.6m0-4.6l-4.6 4.6M538.1 145.6l4.6 4.6m0-4.6l-4.6 4.6M592.7 158l4.6 4.6m0-4.6l-4.6 4.6M603 158.5l4.6 4.6m0-4.6l-4.6 4.6M540.4 141.3l4.6 4.6m0-4.6l-4.6 4.6M580.7 160.8l4.6 4.6m0-4.6l-4.6 4.6M532.7 145.6l4.6 4.6m0-4.6l-4.6 4.6M589.8 162.6l4.6 4.6m0-4.6l-4.6 4.6M594.9 159.2l4.6 4.6m0-4.6l-4.6 4.6M561.9 157.7l4.6 4.6m0-4.6l-4.6 4.6M538.6 150.2l4.6 4.6m0-4.6l-4.6 4.6M575.5 158.8l4.6 4.6m0-4.6l-4.6 4.6M575.3 154.4l4.6 4.6m0-4.6l-4.6 4.6M506 135.7l4.6 4.6m0-4.6l-4.6 4.6M600.4 162.3l4.6 4.6m0-4.6l-4.6 4.6M586.4 160.3l4.6 4.6m0-4.6l-4.6 4.6M521.2 147.9l4.6 4.6m0-4.6l-4.6 4.6M543.8 149.1l4.6 4.6m0-4.6l-4.6 4.6M502.4 133.3l4.6 4.6m0-4.6l-4.6 4.6M528.2 136.8l4.6 4.6m0-4.6l-4.6 4.6M579.3 160.9l4.6 4.6m0-4.6l-4.6 4.6M541 150.9l4.6 4.6m0-4.6l-4.6 4.6M574.7 160.4l4.6 4.6m0-4.6l-4.6 4.6M535.6 147.4l4.6 4.6m0-4.6l-4.6 4.6M522.6 141.4l4.6 4.6m0-4.6l-4.6 4.6M579 158.6l4.6 4.6m0-4.6l-4.6 4.6M502.6 129.5l4.6 4.6m0-4.6l-4.6 4.6M559.4 159.3l4.6 4.6m0-4.6l-4.6 4.6M539.2 147.9l4.6 4.6m0-4.6l-4.6 4.6M536.7 153.2l4.6 4.6m0-4.6l-4.6 4.6M593.1 162.9l4.6 4.6m0-4.6l-4.6 4.6M596.6 162.8l4.6 4.6m0-4.6l-4.6 4.6M557.6 154.8l4.6 4.6m0-4.6l-4.6 4.6M541.7 147.7l4.6 4.6m0-4.6l-4.6 4.6M594 161.3l4.6 4.6m0-4.6l-4.6 4.6M503 131.5l4.6 4.6m0-4.6l-4.6 4.6M593.5 159.5l4.6 4.6m0-4.6l-4.6 4.6M579.7 159.8l4.6 4.6m0-4.6l-4.6 4.6M532.2 142.5l4.6 4.6m0-4.6l-4.6 4.6M559.2 150.4l4.6 4.6m0-4.6l-4.6 4.6M514.2 137.4l4.6 4.6m0-4.6l-4.6 4.6M572.8 153.6l4.6 4.6m0-4.6l-4.6 4.6M548 148.1l4.6 4.6m0-4.6l-4.6 4.6M508.5 129.2l4.6 4.6m0-4.6l-4.6 4.6M532.8 142.8l4.6 4.6m0-4.6l-4.6 4.6M529.3 149.4l4.6 4.6m0-4.6l-4.6 4.6M526.1 138.3l4.6 4.6m0-4.6l-4.6 4.6M575.1 154l4.6 4.6m0-4.6l-4.6 4.6M542.1 157l4.6 4.6m0-4.6l-4.6 4.6M585.8 161.4l4.6 4.6m0-4.6l-4.6 4.6M575.7 158.4l4.6 4.6m0-4.6l-4.6 4.6M545.5 158.5l4.6 4.6m0-4.6l-4.6 4.6M521.5 135.1l4.6 4.6m0-4.6l-4.6 4.6M547.2 146.3l4.6 4.6m0-4.6l-4.6 4.6M585.6 159.2l4.6 4.6m0-4.6l-4.6 4.6M605 163.3l4.6 4.6m0-4.6l-4.6 4.6M540.7 148.9l4.6 4.6m0-4.6l-4.6 4.6M502.4 123.5l4.6 4.6m0-4.6l-4.6 4.6M512.9 132.8l4.6 4.6m0-4.6l-4.6 4.6M526.4 144.4l4.6 4.6m0-4.6l-4.6 4.6M547.8 155.3l4.6 4.6m0-4.6l-4.6 4.6M515.3 132.9l4.6 4.6m0-4.6l-4.6 4.6M565.6 162.3l4.6 4.6m0-4.6l-4.6 4.6M603.9 162.8l4.6 4.6m0-4.6l-4.6 4.6M521.1 143.1l4.6 4.6m0-4.6l-4.6 4.6M536.7 148l4.6 4.6m0-4.6l-4.6 4.6M596.2 162.7l4.6 4.6m0-4.6l-4.6 4.6M559.9 154.3l4.6 4.6m0-4.6l-4.6 4.6M524.9 144l4.6 4.6m0-4.6l-4.6 4.6M545.6 145.4l4.6 4.6m0-4.6l-4.6 4.6M582.3 159.2l4.6 4.6m0-4.6l-4.6 4.6M504 130.1l4.6 4.6m0-4.6l-4.6 4.6M586.7 160.1l4.6 4.6m0-4.6l-4.6 4.6M539.6 146.7l4.6 4.6m0-4.6l-4.6 4.6M500.9 125.5l4.6 4.6m0-4.6l-4.6 4.6M572.2 162.1l4.6 4.6m0-4.6l-4.6 4.6M542.5 144.4l4.6 4.6m0-4.6l-4.6 4.6M525.4 141.2l4.6 4.6m0-4.6l-4.6 4.6M534.6 146.2l4.6 4.6m0-4.6l-4.6 4.6M539.6 151.6l4.6 4.6m0-4.6l-4.6 4.6M598.6 159.4l4.6 4.6m0-4.6l-4.6 4.6M606.8 161.8l4.6 4.6m0-4.6l-4.6 4.6M548 154.2l4.6 4.6m0-4.6l-4.6 4.6M592.2 160.9l4.6 4.6m0-4.6l-4.6 4.6M572.1 160.3l4.6 4.6m0-4.6l-4.6 4.6M557.1 156.9l4.6 4.6m0-4.6l-4.6 4.6M597.5 160.1l4.6 4.6m0-4.6l-4.6 4.6M601.8 158.8l4.6 4.6m0-4.6l-4.6 4.6M535.2 141.8l4.6 4.6m0-4.6l-4.6 4.6M599.4 157.4l4.6 4.6m0-4.6l-4.6 4.6M587.8 157.3l4.6 4.6m0-4.6l-4.6 4.6M565.4 160.4l4.6 4.6m0-4.6l-4.6 4.6M588.6 156.6l4.6 4.6m0-4.6l-4.6 4.6M568.6 157.8l4.6 4.6m0-4.6l-4.6 4.6M581.1 156.3l4.6 4.6m0-4.6l-4.6 4.6M532.9 129.1l4.6 4.6m0-4.6l-4.6 4.6M582.1 154.5l4.6 4.6m0-4.6l-4.6 4.6M589.5 156.1l4.6 4.6m0-4.6l-4.6 4.6M539.9 134.9l4.6 4.6m0-4.6l-4.6 4.6M596.7 157.3l4.6 4.6m0-4.6l-4.6 4.6M545.4 147.9l4.6 4.6m0-4.6l-4.6 4.6M503 119.9l4.6 4.6m0-4.6l-4.6 4.6M588.5 157.1l4.6 4.6m0-4.6l-4.6 4.6M548.8 142.9l4.6 4.6m0-4.6l-4.6 4.6M500.3 126.9l4.6 4.6m0-4.6l-4.6 4.6M525.3 134.3l4.6 4.6m0-4.6l-4.6 4.6M536.6 141.2l4.6 4.6m0-4.6l-4.6 4.6M595.7 159.6l4.6 4.6m0-4.6l-4.6 4.6M510.5 139.6l4.6 4.6m0-4.6l-4.6 4.6M589 158.4l4.6 4.6m0-4.6l-4.6 4.6M546.1 158.4l4.6 4.6m0-4.6l-4.6 4.6M509.2 138.8l4.6 4.6m0-4.6l-4.6 4.6M595.6 162.9l4.6 4.6m0-4.6l-4.6 4.6M533.1 142.5l4.6 4.6m0-4.6l-4.6 4.6M560.4 158.6l4.6 4.6m0-4.6l-4.6 4.6M568.3 152.1l4.6 4.6m0-4.6l-4.6 4.6M605.3 162.6l4.6 4.6m0-4.6l-4.6 4.6M530.2 150.6l4.6 4.6m0-4.6l-4.6 4.6M529.6 147.4l4.6 4.6m0-4.6l-4.6 4.6M501.3 121.4l4.6 4.6m0-4.6l-4.6 4.6M528 132.3l4.6 4.6m0-4.6l-4.6 4.6M586.6 154.5l4.6 4.6m0-4.6l-4.6 4.6M500.7 124.5l4.6 4.6m0-4.6l-4.6 4.6M590.7 156.9l4.6 4.6m0-4.6l-4.6 4.6M563.8 155.3l4.6 4.6m0-4.6l-4.6 4.6M587.6 157.6l4.6 4.6m0-4.6l-4.6 4.6M536.3 143.8l4.6 4.6m0-4.6l-4.6 4.6M549.4 156l4.6 4.6m0-4.6l-4.6 4.6M571.3 149.1l4.6 4.6m0-4.6l-4.6 4.6M569.2 162.9l4.6 4.6m0-4.6l-4.6 4.6M542.1 140.4l4.6 4.6m0-4.6l-4.6 4.6M512.3 130.4l4.6 4.6m0-4.6l-4.6 4.6M572.4 154.3l4.6 4.6m0-4.6l-4.6 4.6M534 154.6l4.6 4.6m0-4.6l-4.6 4.6M574.7 160.6l4.6 4.6m0-4.6l-4.6 4.6M563.5 153.6l4.6 4.6m0-4.6l-4.6 4.6M576.7 161.6l4.6 4.6m0-4.6l-4.6 4.6M604.1 157.6l4.6 4.6m0-4.6l-4.6 4.6M593 161.5l4.6 4.6m0-4.6l-4.6 4.6M576.5 157.5l4.6 4.6m0-4.6l-4.6 4.6M574.3 152l4.6 4.6m0-4.6l-4.6 4.6M542.5 136.5l4.6 4.6m0-4.6l-4.6 4.6M545.7 148.7l4.6 4.6m0-4.6l-4.6 4.6M575.9 161l4.6 4.6m0-4.6l-4.6 4.6M595.6 160.3l4.6 4.6m0-4.6l-4.6 4.6M594.7 162l4.6 4.6m0-4.6l-4.6 4.6M511.5 128.3l4.6 4.6m0-4.6l-4.6 4.6M524.2 138.3l4.6 4.6m0-4.6l-4.6 4.6M519.8 128.4l4.6 4.6m0-4.6l-4.6 4.6M578.3 153.4l4.6 4.6m0-4.6l-4.6 4.6M512.6 140.6l4.6 4.6m0-4.6l-4.6 4.6M561.5 161.1l4.6 4.6m0-4.6l-4.6 4.6M576 154.8l4.6 4.6m0-4.6l-4.6 4.6M599.5 156.4l4.6 4.6m0-4.6l-4.6 4.6M569.4 149l4.6 4.6m0-4.6l-4.6 4.6M553.3 155.2l4.6 4.6m0-4.6l-4.6 4.6M504.7 123.4l4.6 4.6m0-4.6l-4.6 4.6M570.5 152.4l4.6 4.6m0-4.6l-4.6 4.6M553.8 152.2l4.6 4.6m0-4.6l-4.6 4.6M598.1 160l4.6 4.6m0-4.6l-4.6 4.6M513.2 121l4.6 4.6m0-4.6l-4.6 4.6M580.9 151.3l4.6 4.6m0-4.6l-4.6 4.6M605.3 160.1l4.6 4.6m0-4.6l-4.6 4.6M514.9 132l4.6 4.6m0-4.6l-4.6 4.6M551.4 152.6l4.6 4.6m0-4.6l-4.6 4.6M583.6 160.2l4.6 4.6m0-4.6l-4.6 4.6M603.7 161.7l4.6 4.6m0-4.6l-4.6 4.6M528.9 130.6l4.6 4.6m0-4.6l-4.6 4.6M523.5 129.9l4.6 4.6m0-4.6l-4.6 4.6M527.8 141.2l4.6 4.6m0-4.6l-4.6 4.6M549.2 154.7l4.6 4.6m0-4.6l-4.6 4.6M587.7 153.3l4.6 4.6m0-4.6l-4.6 4.6M598.7 161.9l4.6 4.6m0-4.6l-4.6 4.6M500.8 126.4l4.6 4.6m0-4.6l-4.6 4.6M578.6 155.4l4.6 4.6m0-4.6l-4.6 4.6M602.6 155.5l4.6 4.6m0-4.6l-4.6 4.6M572.4 158.9l4.6 4.6m0-4.6l-4.6 4.6M541.8 156.4l4.6 4.6m0-4.6l-4.6 4.6M540.9 140.2l4.6 4.6m0-4.6l-4.6 4.6M532.5 149.5l4.6 4.6m0-4.6l-4.6 4.6M556.7 145.2l4.6 4.6m0-4.6l-4.6 4.6M568.3 161.1l4.6 4.6m0-4.6l-4.6 4.6M545 153.7l4.6 4.6m0-4.6l-4.6 4.6M586.4 158.6l4.6 4.6m0-4.6l-4.6 4.6M546.3 140.1l4.6 4.6m0-4.6l-4.6 4.6M530.3 141.6l4.6 4.6m0-4.6l-4.6 4.6M604.8 161l4.6 4.6m0-4.6l-4.6 4.6M556.8 149.8l4.6 4.6m0-4.6l-4.6 4.6M534.5 139.4l4.6 4.6m0-4.6l-4.6 4.6M543.9 139.9l4.6 4.6m0-4.6l-4.6 4.6M558.6 149.3l4.6 4.6m0-4.6l-4.6 4.6M560.4 150.2l4.6 4.6m0-4.6l-4.6 4.6M540.5 154.1l4.6 4.6m0-4.6l-4.6 4.6M537.6 148.7l4.6 4.6m0-4.6l-4.6 4.6M499.6 122.5l4.6 4.6m0-4.6l-4.6 4.6M555.2 152.3l4.6 4.6m0-4.6l-4.6 4.6M574.7 162.2l4.6 4.6m0-4.6l-4.6 4.6M511.7 125.7l4.6 4.6m0-4.6l-4.6 4.6M502.5 120.1l4.6 4.6m0-4.6l-4.6 4.6M553.3 142.1l4.6 4.6m0-4.6l-4.6 4.6M591.6 159.3l4.6 4.6m0-4.6l-4.6 4.6M535.4 144.9l4.6 4.6m0-4.6l-4.6 4.6M581.8 157.3l4.6 4.6m0-4.6l-4.6 4.6M576.4 148.2l4.6 4.6m0-4.6l-4.6 4.6M579.6 156.1l4.6 4.6m0-4.6l-4.6 4.6M578.8 156.3l4.6 4.6m0-4.6l-4.6 4.6M561.3 155.2l4.6 4.6m0-4.6l-4.6 4.6M599.9 155l4.6 4.6m0-4.6l-4.6 4.6M559.9 152.6l4.6 4.6m0-4.6l-4.6 4.6M509.2 127.8l4.6 4.6m0-4.6l-4.6 4.6M599.2 161.3l4.6 4.6m0-4.6l-4.6 4.6M582.4 160l4.6 4.6m0-4.6l-4.6 4.6M575.7 158.9l4.6 4.6m0-4.6l-4.6 4.6M562.9 149.1l4.6 4.6m0-4.6l-4.6 4.6M501.5 120.9l4.6 4.6m0-4.6l-4.6 4.6M555 156.7l4.6 4.6m0-4.6l-4.6 4.6M531.5 139.5l4.6 4.6m0-4.6l-4.6 4.6M578.7 160.8l4.6 4.6m0-4.6l-4.6 4.6M505.7 131.9l4.6 4.6m0-4.6l-4.6 4.6M567.1 156l4.6 4.6m0-4.6l-4.6 4.6M581.1 153.6l4.6 4.6m0-4.6l-4.6 4.6M538.1 142.6l4.6 4.6m0-4.6l-4.6 4.6M513.9 128.9l4.6 4.6m0-4.6l-4.6 4.6M568.5 159l4.6 4.6m0-4.6l-4.6 4.6M570.6 160.8l4.6 4.6m0-4.6l-4.6 4.6M603.9 159.1l4.6 4.6m0-4.6l-4.6 4.6M598.4 157.5l4.6 4.6m0-4.6l-4.6 4.6M521.4 128.7l4.6 4.6m0-4.6l-4.6 4.6M564.9 156.2l4.6 4.6m0-4.6l-4.6 4.6M573.5 150.8l4.6 4.6m0-4.6l-4.6 4.6M572 159.6l4.6 4.6m0-4.6l-4.6 4.6M603.2 156.2l4.6 4.6m0-4.6l-4.6 4.6M545.3 138.5l4.6 4.6m0-4.6l-4.6 4.6M606.2 160.8l4.6 4.6m0-4.6l-4.6 4.6M518.8 140.4l4.6 4.6m0-4.6l-4.6 4.6M551.3 157.5l4.6 4.6m0-4.6l-4.6 4.6M523.9 129.9l4.6 4.6m0-4.6l-4.6 4.6M500 124.3l4.6 4.6m0-4.6l-4.6 4.6M542.4 141.9l4.6 4.6m0-4.6l-4.6 4.6M526.2 138.4l4.6 4.6m0-4.6l-4.6 4.6M521.2 148.2l4.6 4.6m0-4.6l-4.6 4.6M592.1 159.7l4.6 4.6m0-4.6l-4.6 4.6M530.2 128.7l4.6 4.6m0-4.6l-4.6 4.6M538.3 143.9l4.6 4.6m0-4.6l-4.6 4.6M616.6 162.7l4.6 4.6m0-4.6l-4.6 4.6M630 161.3l4.6 4.6m0-4.6l-4.6 4.6M629 161l4.6 4.6m0-4.6l-4.6 4.6M618.2 164l4.6 4.6m0-4.6l-4.6 4.6M616.4 161.9l4.6 4.6m0-4.6l-4.6 4.6M624 162.9l4.6 4.6m0-4.6l-4.6 4.6M627.1 163.4l4.6 4.6m0-4.6l-4.6 4.6M625.1 162.7l4.6 4.6m0-4.6l-4.6 4.6M616.5 161.4l4.6 4.6m0-4.6l-4.6 4.6M617.4 161.4l4.6 4.6m0-4.6l-4.6 4.6M628 162.7l4.6 4.6m0-4.6l-4.6 4.6M622.3 163.5l4.6 4.6m0-4.6l-4.6 4.6M616.5 161.7l4.6 4.6m0-4.6l-4.6 4.6M620.8 162.2l4.6 4.6m0-4.6l-4.6 4.6M620.7 163.3l4.6 4.6m0-4.6l-4.6 4.6M617 161.5l4.6 4.6m0-4.6l-4.6 4.6M621.9 163.7l4.6 4.6m0-4.6l-4.6 4.6M630 163.7l4.6 4.6m0-4.6l-4.6 4.6M618.2 163.6l4.6 4.6m0-4.6l-4.6 4.6M624.2 161.4l4.6 4.6m0-4.6l-4.6 4.6M614.5 160.9l4.6 4.6m0-4.6l-4.6 4.6M626.9 161.3l4.6 4.6m0-4.6l-4.6 4.6M621.7 162.7l4.6 4.6m0-4.6l-4.6 4.6M615.7 163.3l4.6 4.6m0-4.6l-4.6 4.6M630 163.2l4.6 4.6m0-4.6l-4.6 4.6M630.5 161.2l4.6 4.6m0-4.6l-4.6 4.6M630.9 163.7l4.6 4.6m0-4.6l-4.6 4.6M621.7 161.2l4.6 4.6m0-4.6l-4.6 4.6M619.7 163.3l4.6 4.6m0-4.6l-4.6 4.6M614.3 162.3l4.6 4.6m0-4.6l-4.6 4.6M624.1 163.4l4.6 4.6m0-4.6l-4.6 4.6M618.7 162l4.6 4.6m0-4.6l-4.6 4.6M617.1 161.4l4.6 4.6m0-4.6l-4.6 4.6M630 162.7l4.6 4.6m0-4.6l-4.6 4.6M616.4 162.2l4.6 4.6m0-4.6l-4.6 4.6M619.4 163.8l4.6 4.6m0-4.6l-4.6 4.6M627 162.2l4.6 4.6m0-4.6l-4.6 4.6M619 163.3l4.6 4.6m0-4.6l-4.6 4.6M627.3 160.9l4.6 4.6m0-4.6l-4.6 4.6M620.4 162.1l4.6 4.6m0-4.6l-4.6 4.6M618 162.5l4.6 4.6m0-4.6l-4.6 4.6M624.6 163.1l4.6 4.6m0-4.6l-4.6 4.6M625.1 162.3l4.6 4.6m0-4.6l-4.6 4.6M614.8 163.8l4.6 4.6m0-4.6l-4.6 4.6M621.6 163.7l4.6 4.6m0-4.6l-4.6 4.6M624 162.1l4.6 4.6m0-4.6l-4.6 4.6M625.5 161.1l4.6 4.6m0-4.6l-4.6 4.6M625.1 161.5l4.6 4.6m0-4.6l-4.6 4.6M616.1 161.1l4.6 4.6m0-4.6l-4.6 4.6M631 162.1l4.6 4.6m0-4.6l-4.6 4.6M661.4 162.2l4.6 4.6m0-4.6l-4.6 4.6M652.1 163.6l4.6 4.6m0-4.6l-4.6 4.6M653.2 161.7l4.6 4.6m0-4.6l-4.6 4.6M660.6 161l4.6 4.6m0-4.6l-4.6 4.6M654.1 160.8l4.6 4.6m0-4.6l-4.6 4.6M650.6 164.1l4.6 4.6m0-4.6l-4.6 4.6M651.9 162.3l4.6 4.6m0-4.6l-4.6 4.6M660.1 163.4l4.6 4.6m0-4.6l-4.6 4.6M642.5 161.6l4.6 4.6m0-4.6l-4.6 4.6M646.4 161.2l4.6 4.6m0-4.6l-4.6 4.6M655.2 163.7l4.6 4.6m0-4.6l-4.6 4.6M654.1 161.5l4.6 4.6m0-4.6l-4.6 4.6M647.2 160.8l4.6 4.6m0-4.6l-4.6 4.6M643.2 163.7l4.6 4.6m0-4.6l-4.6 4.6M655.9 161.8l4.6 4.6m0-4.6l-4.6 4.6M656.1 160.9l4.6 4.6m0-4.6l-4.6 4.6M646.6 164l4.6 4.6m0-4.6l-4.6 4.6M654.5 163l4.6 4.6m0-4.6l-4.6 4.6M651.2 162.8l4.6 4.6m0-4.6l-4.6 4.6M662.6 163.2l4.6 4.6m0-4.6l-4.6 4.6M658.2 162.2l4.6 4.6m0-4.6l-4.6 4.6M648.6 161l4.6 4.6m0-4.6l-4.6 4.6M647.9 163.1l4.6 4.6m0-4.6l-4.6 4.6M646.4 161.7l4.6 4.6m0-4.6l-4.6 4.6M658.2 162.9l4.6 4.6m0-4.6l-4.6 4.6M644.7 162.1l4.6 4.6m0-4.6l-4.6 4.6M649.8 162.2l4.6 4.6m0-4.6l-4.6 4.6M657.3 164.2l4.6 4.6m0-4.6l-4.6 4.6M643 161.3l4.6 4.6m0-4.6l-4.6 4.6M662.3 163.9l4.6 4.6m0-4.6l-4.6 4.6M647.1 162.7l4.6 4.6m0-4.6l-4.6 4.6M661.5 163.1l4.6 4.6m0-4.6l-4.6 4.6M664.4 163.9l4.6 4.6m0-4.6l-4.6 4.6M663.2 164l4.6 4.6m0-4.6l-4.6 4.6M656 160.8l4.6 4.6m0-4.6l-4.6 4.6M658.9 161l4.6 4.6m0-4.6l-4.6 4.6M650.2 160.8l4.6 4.6m0-4.6l-4.6 4.6M663.1 163.2l4.6 4.6m0-4.6l-4.6 4.6M660 160.9l4.6 4.6m0-4.6l-4.6 4.6M646.9 162.8l4.6 4.6m0-4.6l-4.6 4.6M660 162.2l4.6 4.6m0-4.6l-4.6 4.6M663.5 162.7l4.6 4.6m0-4.6l-4.6 4.6M652.4 163.6l4.6 4.6m0-4.6l-4.6 4.6M648.3 161.1l4.6 4.6m0-4.6l-4.6 4.6M648 161l4.6 4.6m0-4.6l-4.6 4.6M660.8 162.2l4.6 4.6m0-4.6l-4.6 4.6M649 164.2l4.6 4.6m0-4.6l-4.6 4.6M644.7 161.3l4.6 4.6m0-4.6l-4.6 4.6M664.4 160.8l4.6 4.6m0-4.6l-4.6 4.6M648.5 160.9l4.6 4.6m0-4.6l-4.6 4.6M652.2 162.9l4.6 4.6m0-4.6l-4.6 4.6M663.3 161.3l4.6 4.6m0-4.6l-4.6 4.6M657.8 163.2l4.6 4.6m0-4.6l-4.6 4.6M644.4 163.6l4.6 4.6m0-4.6l-4.6 4.6M648.1 163.5l4.6 4.6m0-4.6l-4.6 4.6M655.3 163.1l4.6 4.6m0-4.6l-4.6 4.6M647 161.1l4.6 4.6m0-4.6l-4.6 4.6M650.6 164.2l4.6 4.6m0-4.6l-4.6 4.6M642.1 162.2l4.6 4.6m0-4.6l-4.6 4.6M642.6 162.2l4.6 4.6m0-4.6l-4.6 4.6M514 105.7l4.6 4.6m0-4.6l-4.6 4.6M516.1 105l4.6 4.6m0-4.6l-4.6 4.6M517.7 106.6l4.6 4.6m0-4.6l-4.6 4.6" stroke="#ee30ee" stroke-width="0.8" fill="none" opacity="1.0" clip-path="url(#cc)"/>
<rect x="498.7" y="15.8" width="183.7" height="150.8" fill="none" stroke="#333333" stroke-width="1.3"/>
<path d="M498.7 166.5v-3.2M513.4 166.5v-2.0M528.1 166.5v-3.2M542.8 166.5v-2.0M557.5 166.5v-3.2M572.2 166.5v-2.0M586.9 166.5v-3.2M601.6 166.5v-2.0M616.3 166.5v-3.2M631.0 166.5v-2.0M645.7 166.5v-3.2M660.4 166.5v-2.0M675.1 166.5v-3.2" stroke="#333333" stroke-width="1.1" fill="none"/>
<text x="498.7" y="178.2" font-size="10" fill="#1a1a1a" text-anchor="middle">0</text>
<text x="528.1" y="178.2" font-size="10" fill="#1a1a1a" text-anchor="middle">2</text>
<text x="557.5" y="178.2" font-size="10" fill="#1a1a1a" text-anchor="middle">4</text>
<text x="586.9" y="178.2" font-size="10" fill="#1a1a1a" text-anchor="middle">6</text>
<text x="616.3" y="178.2" font-size="10" fill="#1a1a1a" text-anchor="middle">8</text>
<text x="645.7" y="178.2" font-size="10" fill="#1a1a1a" text-anchor="middle">10</text>
<text x="675.1" y="178.2" font-size="10" fill="#1a1a1a" text-anchor="middle">12</text>
<text x="495.3" y="170.1" font-size="10" fill="#1a1a1a" text-anchor="end">0</text>
<text x="495.3" y="116.9" font-size="10" fill="#1a1a1a" text-anchor="end">3</text>
<text x="495.3" y="63.7" font-size="10" fill="#1a1a1a" text-anchor="end">6</text>
<path d="M498.7 166.5h3.2M498.7 139.9h2.0M498.7 113.3h3.2M498.7 86.7h2.0M498.7 60.1h3.2M498.7 33.5h2.0" stroke="#333333" stroke-width="1.1" fill="none"/>
<text x="507.9" y="31.2" font-size="11.7" fill="#1a1a1a" text-anchor="start">300 K</text>
<text x="607.8" y="39.3" font-size="11.7" fill="#4b9c98" text-anchor="start">Redistribution</text>
<path d="M619.4 41.6L612.8 54.0" stroke="#4b9c98" stroke-width="1.0" fill="none"/>
<path d="M612.8 54.0L613.0 49.5L616.4 51.3Z" fill="#4b9c98"/>
<text x="536.4" y="124.9" font-size="11.7" fill="#ee30ee" text-anchor="start">Absorption</text>
<path d="M551.5 145.2L555.1 142.5V131" stroke="#ee30ee" stroke-width="1.0" fill="none"/>
<path d="M555.1 136.0L555.1 129.3" stroke="#ee30ee" stroke-width="1.0" fill="none"/>
<path d="M555.1 129.3L557.1 133.4L553.1 133.4Z" fill="#ee30ee"/>
<text x="598.7" y="132.3" font-size="11.7" fill="#35276e" text-anchor="start">Emission</text>
<path d="M643.0 144.1L633.6 133.7" stroke="#35276e" stroke-width="1.0" fill="none"/>
<path d="M633.6 133.7L637.8 135.4L634.9 138.0Z" fill="#35276e"/>
<path d="M97.2 209.6V376.5" stroke="#a8a8a8" stroke-width="0.8" stroke-dasharray="3 2.2" fill="none"/>
<path d="M68.8 300.8h4.8m-2.4-2.4v4.8M89.7 281h4.8m-2.4-2.4v4.8M75.5 286.7h4.8m-2.4-2.4v4.8M102.1 274.2h4.8m-2.4-2.4v4.8M100.6 270.8h4.8m-2.4-2.4v4.8M80.9 286.6h4.8m-2.4-2.4v4.8M82.5 283h4.8m-2.4-2.4v4.8M73.8 294.2h4.8m-2.4-2.4v4.8M83.8 284.8h4.8m-2.4-2.4v4.8M102.7 279.3h4.8m-2.4-2.4v4.8M68.1 303.4h4.8m-2.4-2.4v4.8M98.7 278.7h4.8m-2.4-2.4v4.8M86.1 282.8h4.8m-2.4-2.4v4.8M97.4 277.4h4.8m-2.4-2.4v4.8M89.3 277h4.8m-2.4-2.4v4.8M102.1 276.4h4.8m-2.4-2.4v4.8M79.8 286.1h4.8m-2.4-2.4v4.8M93.6 276.6h4.8m-2.4-2.4v4.8M91.6 281.2h4.8m-2.4-2.4v4.8M93.1 280.4h4.8m-2.4-2.4v4.8M76.1 294.1h4.8m-2.4-2.4v4.8M87.4 286.6h4.8m-2.4-2.4v4.8M77.8 291h4.8m-2.4-2.4v4.8M81 287.8h4.8m-2.4-2.4v4.8M102.1 276.9h4.8m-2.4-2.4v4.8M87.2 284.2h4.8m-2.4-2.4v4.8M87.2 279.9h4.8m-2.4-2.4v4.8M86.3 283.6h4.8m-2.4-2.4v4.8M80.3 290.7h4.8m-2.4-2.4v4.8M75.4 294.7h4.8m-2.4-2.4v4.8M77.9 293.6h4.8m-2.4-2.4v4.8M82.5 285.2h4.8m-2.4-2.4v4.8M72 291.6h4.8m-2.4-2.4v4.8M83.8 283.9h4.8m-2.4-2.4v4.8M83 282.6h4.8m-2.4-2.4v4.8M91.8 283.8h4.8m-2.4-2.4v4.8M87.2 285.7h4.8m-2.4-2.4v4.8M94.1 279.4h4.8m-2.4-2.4v4.8M75.8 295h4.8m-2.4-2.4v4.8M102.5 281h4.8m-2.4-2.4v4.8M76.8 285h4.8m-2.4-2.4v4.8M69.7 299.9h4.8m-2.4-2.4v4.8M83.1 283.7h4.8m-2.4-2.4v4.8M95.4 272.2h4.8m-2.4-2.4v4.8M79.1 292.5h4.8m-2.4-2.4v4.8M75.5 295.5h4.8m-2.4-2.4v4.8M77.4 287.9h4.8m-2.4-2.4v4.8M99.3 278.2h4.8m-2.4-2.4v4.8M77.4 285.1h4.8m-2.4-2.4v4.8M88.5 283.4h4.8m-2.4-2.4v4.8M70.5 303h4.8m-2.4-2.4v4.8M75.6 289h4.8m-2.4-2.4v4.8M70 298.3h4.8m-2.4-2.4v4.8M96.6 281.3h4.8m-2.4-2.4v4.8M78 289.7h4.8m-2.4-2.4v4.8M89.3 279.2h4.8m-2.4-2.4v4.8M91.8 280.6h4.8m-2.4-2.4v4.8M79.8 286.3h4.8m-2.4-2.4v4.8M84.1 280.6h4.8m-2.4-2.4v4.8M86.5 282.7h4.8m-2.4-2.4v4.8M91.3 280.4h4.8m-2.4-2.4v4.8M85.2 282.7h4.8m-2.4-2.4v4.8M89 276.7h4.8m-2.4-2.4v4.8M78.7 288.4h4.8m-2.4-2.4v4.8M102.1 274.3h4.8m-2.4-2.4v4.8M87.4 285.1h4.8m-2.4-2.4v4.8M74.2 291.9h4.8m-2.4-2.4v4.8M82.9 286.5h4.8m-2.4-2.4v4.8M76.9 289.6h4.8m-2.4-2.4v4.8M88.1 286.8h4.8m-2.4-2.4v4.8M91.1 278.2h4.8m-2.4-2.4v4.8M74.8 293.3h4.8m-2.4-2.4v4.8M69.3 300h4.8m-2.4-2.4v4.8M91.6 280.9h4.8m-2.4-2.4v4.8M88.6 281.2h4.8m-2.4-2.4v4.8M69.5 305.1h4.8m-2.4-2.4v4.8M85.7 279.6h4.8m-2.4-2.4v4.8M92.7 279.7h4.8m-2.4-2.4v4.8M77.1 293.2h4.8m-2.4-2.4v4.8M90.6 278h4.8m-2.4-2.4v4.8M81.7 290.9h4.8m-2.4-2.4v4.8M77.7 286.8h4.8m-2.4-2.4v4.8M95 278.4h4.8m-2.4-2.4v4.8M99.1 275.5h4.8m-2.4-2.4v4.8M68.8 304.6h4.8m-2.4-2.4v4.8M99.2 272.2h4.8m-2.4-2.4v4.8M71 299.1h4.8m-2.4-2.4v4.8M81.8 286.7h4.8m-2.4-2.4v4.8M68.8 294.6h4.8m-2.4-2.4v4.8M86.6 286h4.8m-2.4-2.4v4.8M98.3 280.5h4.8m-2.4-2.4v4.8M198.8 276.2h4.8m-2.4-2.4v4.8M190.5 274.2h4.8m-2.4-2.4v4.8M168.9 286.2h4.8m-2.4-2.4v4.8M129.4 279.8h4.8m-2.4-2.4v4.8M141.2 284.7h4.8m-2.4-2.4v4.8M102.3 275.9h4.8m-2.4-2.4v4.8M169.1 282.8h4.8m-2.4-2.4v4.8M147.2 275.3h4.8m-2.4-2.4v4.8M110.8 279.4h4.8m-2.4-2.4v4.8M120.8 275.2h4.8m-2.4-2.4v4.8M184 273.3h4.8m-2.4-2.4v4.8M137.5 280.7h4.8m-2.4-2.4v4.8M130.6 283.1h4.8m-2.4-2.4v4.8M201 272.6h4.8m-2.4-2.4v4.8M205.6 273.4h4.8m-2.4-2.4v4.8M149.3 278.2h4.8m-2.4-2.4v4.8M196 280.3h4.8m-2.4-2.4v4.8M197.2 275.1h4.8m-2.4-2.4v4.8M126.4 283.1h4.8m-2.4-2.4v4.8M171.7 284.7h4.8m-2.4-2.4v4.8M123.3 285.6h4.8m-2.4-2.4v4.8M106.7 275.2h4.8m-2.4-2.4v4.8M206 274.6h4.8m-2.4-2.4v4.8M150.9 277h4.8m-2.4-2.4v4.8M171.4 280.8h4.8m-2.4-2.4v4.8M152.8 285.6h4.8m-2.4-2.4v4.8M121.8 283.4h4.8m-2.4-2.4v4.8M134.6 278.6h4.8m-2.4-2.4v4.8M121.7 285h4.8m-2.4-2.4v4.8M192.3 275.5h4.8m-2.4-2.4v4.8M198.7 275.4h4.8m-2.4-2.4v4.8M116.5 281.4h4.8m-2.4-2.4v4.8M187.7 275.2h4.8m-2.4-2.4v4.8M120.2 281.4h4.8m-2.4-2.4v4.8M160.4 287.1h4.8m-2.4-2.4v4.8M121.9 277.6h4.8m-2.4-2.4v4.8M169.1 280.7h4.8m-2.4-2.4v4.8M158.4 279.9h4.8m-2.4-2.4v4.8M133.3 286.8h4.8m-2.4-2.4v4.8M177.5 276h4.8m-2.4-2.4v4.8M143.3 276.9h4.8m-2.4-2.4v4.8M187 276.9h4.8m-2.4-2.4v4.8M184.8 273.1h4.8m-2.4-2.4v4.8M99.2 274.7h4.8m-2.4-2.4v4.8M145.2 276.7h4.8m-2.4-2.4v4.8M176.9 285.4h4.8m-2.4-2.4v4.8M160.1 286h4.8m-2.4-2.4v4.8M176.3 282.1h4.8m-2.4-2.4v4.8M136.7 284h4.8m-2.4-2.4v4.8M185 277.6h4.8m-2.4-2.4v4.8M128.1 277.5h4.8m-2.4-2.4v4.8M115.4 276.8h4.8m-2.4-2.4v4.8M162.1 276.4h4.8m-2.4-2.4v4.8M163.5 273.3h4.8m-2.4-2.4v4.8M172.3 280.4h4.8m-2.4-2.4v4.8M160.6 279.3h4.8m-2.4-2.4v4.8M126.6 283.8h4.8m-2.4-2.4v4.8M183.8 275.2h4.8m-2.4-2.4v4.8M202.4 276.6h4.8m-2.4-2.4v4.8M151 281.9h4.8m-2.4-2.4v4.8M173.4 277.8h4.8m-2.4-2.4v4.8M199.9 275.8h4.8m-2.4-2.4v4.8M137.6 283.9h4.8m-2.4-2.4v4.8M99.8 277.2h4.8m-2.4-2.4v4.8M142.5 282.2h4.8m-2.4-2.4v4.8M100.7 281.7h4.8m-2.4-2.4v4.8M194.9 282.5h4.8m-2.4-2.4v4.8M177.6 276.2h4.8m-2.4-2.4v4.8M168.4 278.7h4.8m-2.4-2.4v4.8M122.6 278.6h4.8m-2.4-2.4v4.8M159.9 273.7h4.8m-2.4-2.4v4.8M152.2 282.5h4.8m-2.4-2.4v4.8M195.8 277.6h4.8m-2.4-2.4v4.8M132.8 278.8h4.8m-2.4-2.4v4.8M111.8 286h4.8m-2.4-2.4v4.8M193.3 279.9h4.8m-2.4-2.4v4.8M184.2 283.6h4.8m-2.4-2.4v4.8M147.2 284.2h4.8m-2.4-2.4v4.8M184.2 278.3h4.8m-2.4-2.4v4.8M138.6 282.4h4.8m-2.4-2.4v4.8M118.3 285.5h4.8m-2.4-2.4v4.8M171.7 282.6h4.8m-2.4-2.4v4.8M106.4 283.2h4.8m-2.4-2.4v4.8M145.3 273.8h4.8m-2.4-2.4v4.8M137.7 282.1h4.8m-2.4-2.4v4.8M203.1 276.1h4.8m-2.4-2.4v4.8M145.9 282h4.8m-2.4-2.4v4.8M119.9 286.3h4.8m-2.4-2.4v4.8M147.4 278.6h4.8m-2.4-2.4v4.8M106.6 281.8h4.8m-2.4-2.4v4.8M114.1 279.8h4.8m-2.4-2.4v4.8M133.2 278.5h4.8m-2.4-2.4v4.8M182 281h4.8m-2.4-2.4v4.8M137.4 286.7h4.8m-2.4-2.4v4.8M118.4 279.4h4.8m-2.4-2.4v4.8M184.7 284.7h4.8m-2.4-2.4v4.8M203.6 273.3h4.8m-2.4-2.4v4.8M135.5 280.3h4.8m-2.4-2.4v4.8M169.7 282.4h4.8m-2.4-2.4v4.8M135.6 277.7h4.8m-2.4-2.4v4.8M148.8 281.4h4.8m-2.4-2.4v4.8M157.5 285.7h4.8m-2.4-2.4v4.8M147.2 283.4h4.8m-2.4-2.4v4.8M113.4 280.9h4.8m-2.4-2.4v4.8M173.1 279.5h4.8m-2.4-2.4v4.8M150.4 278.1h4.8m-2.4-2.4v4.8M141.8 273.9h4.8m-2.4-2.4v4.8M118.6 288.5h4.8m-2.4-2.4v4.8M158.1 277.5h4.8m-2.4-2.4v4.8M137.4 282.2h4.8m-2.4-2.4v4.8M133 284.5h4.8m-2.4-2.4v4.8M183 274.6h4.8m-2.4-2.4v4.8M125.9 280.1h4.8m-2.4-2.4v4.8M146 285.8h4.8m-2.4-2.4v4.8M176.5 279.4h4.8m-2.4-2.4v4.8M205.2 273.4h4.8m-2.4-2.4v4.8M195.5 282.7h4.8m-2.4-2.4v4.8M107 276.7h4.8m-2.4-2.4v4.8M106.8 278.6h4.8m-2.4-2.4v4.8M114.3 278.2h4.8m-2.4-2.4v4.8M100.8 288h4.8m-2.4-2.4v4.8M191.5 279.2h4.8m-2.4-2.4v4.8M145 274h4.8m-2.4-2.4v4.8M182.2 283.5h4.8m-2.4-2.4v4.8M173.5 281.5h4.8m-2.4-2.4v4.8M146.5 283.2h4.8m-2.4-2.4v4.8M120.1 284.1h4.8m-2.4-2.4v4.8M125.2 285.6h4.8m-2.4-2.4v4.8M192.2 281.1h4.8m-2.4-2.4v4.8M157.3 275.9h4.8m-2.4-2.4v4.8M170.4 284.8h4.8m-2.4-2.4v4.8M201 273.2h4.8m-2.4-2.4v4.8M188.3 281.9h4.8m-2.4-2.4v4.8M187.3 277.6h4.8m-2.4-2.4v4.8M98.3 283.6h4.8m-2.4-2.4v4.8M172.6 279.3h4.8m-2.4-2.4v4.8M200.4 275.1h4.8m-2.4-2.4v4.8M188 272.8h4.8m-2.4-2.4v4.8M133 275.1h4.8m-2.4-2.4v4.8M95.1 277h4.8m-2.4-2.4v4.8M104.6 281.5h4.8m-2.4-2.4v4.8M143.9 286.6h4.8m-2.4-2.4v4.8M165.7 276.1h4.8m-2.4-2.4v4.8M119.7 284.9h4.8m-2.4-2.4v4.8M180.7 279.3h4.8m-2.4-2.4v4.8M96.8 284.7h4.8m-2.4-2.4v4.8M200 282.4h4.8m-2.4-2.4v4.8M127 281.7h4.8m-2.4-2.4v4.8M193.6 275.1h4.8m-2.4-2.4v4.8M137.7 278.5h4.8m-2.4-2.4v4.8M97.9 288.5h4.8m-2.4-2.4v4.8M136.2 278.9h4.8m-2.4-2.4v4.8M110.4 288.3h4.8m-2.4-2.4v4.8M189.9 283.9h4.8m-2.4-2.4v4.8M100.9 288h4.8m-2.4-2.4v4.8M103.6 284.8h4.8m-2.4-2.4v4.8M159.3 278.1h4.8m-2.4-2.4v4.8M126.6 280.8h4.8m-2.4-2.4v4.8M131.8 279.8h4.8m-2.4-2.4v4.8" stroke="#3d8985" stroke-width="0.8" fill="none" opacity="1.0" clip-path="url(#cd)"/>
<path d="M57.8 338h4.8m-2.4-2.4v4.8M63.6 322.2h4.8m-2.4-2.4v4.8M63.6 329.2h4.8m-2.4-2.4v4.8M65.1 312.1h4.8m-2.4-2.4v4.8M66.9 307.1h4.8m-2.4-2.4v4.8M69 314.2h4.8m-2.4-2.4v4.8" stroke="#5f9f9c" stroke-width="0.8" fill="none" opacity="1.0" clip-path="url(#cd)"/>
<g clip-path="url(#cd)"><path d="M94.1 272.1L84.8 288.9L77.6 317.7L75.5 331.7L99.2 333.5L99.2 275.6Z" fill="#ff2b8e" opacity="0.55" filter="url(#bl2)"/></g>
<g clip-path="url(#cd)"><path d="M95.1 275.6L101.3 279.1L117.8 280.8L130.2 279.1L137.8 266.8L156.6 269.6L175.4 261.5L207.6 261.5L207.6 293.1L175.4 296.6L174.6 308.9L156.6 308.9L137.8 307.1L136.4 315.9L117.8 321.2L99.2 322.9L86.9 319.4L88.9 294.9Z" fill="#ff2b8e" opacity="1.0" filter="url(#bl2)"/></g>
<g clip-path="url(#cd)"><path d="M224.1 249.3L231.3 242.2L239.6 259.8L240.6 277.3L233.4 280.8L224.1 279.1Z" fill="#ff2b8e" opacity="0.8" filter="url(#bl2)"/></g>
<g clip-path="url(#cd)"><path d="M262.3 256.3L276.7 252.8L291.2 256.3L291.2 284.3L276.7 286.1L262.3 285Z" fill="#ff2b8e" opacity="0.85" filter="url(#bl2)"/></g>
<path d="M84.7 279.8l5.4 5.4m0-5.4l-5.4 5.4M98.4 286.2l5.4 5.4m0-5.4l-5.4 5.4M95.6 296.4l5.4 5.4m0-5.4l-5.4 5.4M106 278.2l5.4 5.4m0-5.4l-5.4 5.4M176.7 259.3l5.4 5.4m0-5.4l-5.4 5.4M203.4 295.4l5.4 5.4m0-5.4l-5.4 5.4M145.1 305.1l5.4 5.4m0-5.4l-5.4 5.4M109.3 290.5l5.4 5.4m0-5.4l-5.4 5.4M172.3 307.8l5.4 5.4m0-5.4l-5.4 5.4M151.7 313.1l5.4 5.4m0-5.4l-5.4 5.4M168.4 291.6l5.4 5.4m0-5.4l-5.4 5.4M112.3 296.1l5.4 5.4m0-5.4l-5.4 5.4M124.3 275.5l5.4 5.4m0-5.4l-5.4 5.4M129.2 283.3l5.4 5.4m0-5.4l-5.4 5.4M139.2 268.1l5.4 5.4m0-5.4l-5.4 5.4M178.1 269.5l5.4 5.4m0-5.4l-5.4 5.4M125.9 290.4l5.4 5.4m0-5.4l-5.4 5.4M83.7 285.3l5.4 5.4m0-5.4l-5.4 5.4M106.4 322.6l5.4 5.4m0-5.4l-5.4 5.4M200.5 280.1l5.4 5.4m0-5.4l-5.4 5.4M170.3 281.4l5.4 5.4m0-5.4l-5.4 5.4M147.2 256.7l5.4 5.4m0-5.4l-5.4 5.4M78.4 302.6l5.4 5.4m0-5.4l-5.4 5.4M99.8 282.3l5.4 5.4m0-5.4l-5.4 5.4M101.7 312.7l5.4 5.4m0-5.4l-5.4 5.4M195.6 270.7l5.4 5.4m0-5.4l-5.4 5.4M128.6 303.1l5.4 5.4m0-5.4l-5.4 5.4M168.8 316.7l5.4 5.4m0-5.4l-5.4 5.4M195.2 257.7l5.4 5.4m0-5.4l-5.4 5.4M73.1 322.9l5.4 5.4m0-5.4l-5.4 5.4M195.2 261.6l5.4 5.4m0-5.4l-5.4 5.4M109.8 263.3l5.4 5.4m0-5.4l-5.4 5.4M149.3 314.8l5.4 5.4m0-5.4l-5.4 5.4M164.1 299.2l5.4 5.4m0-5.4l-5.4 5.4M89.2 258.6l5.4 5.4m0-5.4l-5.4 5.4M168.2 315.1l5.4 5.4m0-5.4l-5.4 5.4M128.3 274.3l5.4 5.4m0-5.4l-5.4 5.4M120.7 313.8l5.4 5.4m0-5.4l-5.4 5.4M82.8 314.4l5.4 5.4m0-5.4l-5.4 5.4M98.1 325.2l5.4 5.4m0-5.4l-5.4 5.4M193 273.7l5.4 5.4m0-5.4l-5.4 5.4M140.1 289.9l5.4 5.4m0-5.4l-5.4 5.4M94.8 292.4l5.4 5.4m0-5.4l-5.4 5.4M174 286.1l5.4 5.4m0-5.4l-5.4 5.4M204.3 288.1l5.4 5.4m0-5.4l-5.4 5.4M170.8 282l5.4 5.4m0-5.4l-5.4 5.4M133.3 262.2l5.4 5.4m0-5.4l-5.4 5.4M104.8 303.2l5.4 5.4m0-5.4l-5.4 5.4M185.9 277.5l5.4 5.4m0-5.4l-5.4 5.4M174.6 299.2l5.4 5.4m0-5.4l-5.4 5.4M102.3 301.9l5.4 5.4m0-5.4l-5.4 5.4M88.6 259.6l5.4 5.4m0-5.4l-5.4 5.4M179.1 248l5.4 5.4m0-5.4l-5.4 5.4M90.2 321.9l5.4 5.4m0-5.4l-5.4 5.4M107.5 280.2l5.4 5.4m0-5.4l-5.4 5.4M128.8 321.7l5.4 5.4m0-5.4l-5.4 5.4M83.6 289l5.4 5.4m0-5.4l-5.4 5.4M117.6 291.2l5.4 5.4m0-5.4l-5.4 5.4M84.5 304.8l5.4 5.4m0-5.4l-5.4 5.4M138.5 259.6l5.4 5.4m0-5.4l-5.4 5.4M89.2 336.9l5.4 5.4m0-5.4l-5.4 5.4M108 326.6l5.4 5.4m0-5.4l-5.4 5.4M162.3 262.8l5.4 5.4m0-5.4l-5.4 5.4M131.4 283.6l5.4 5.4m0-5.4l-5.4 5.4M115.4 261.7l5.4 5.4m0-5.4l-5.4 5.4M136.2 276.9l5.4 5.4m0-5.4l-5.4 5.4M170.4 307.5l5.4 5.4m0-5.4l-5.4 5.4M195.2 286.5l5.4 5.4m0-5.4l-5.4 5.4M154.7 266.6l5.4 5.4m0-5.4l-5.4 5.4M200.7 269.1l5.4 5.4m0-5.4l-5.4 5.4M106 271.7l5.4 5.4m0-5.4l-5.4 5.4M149.4 257.6l5.4 5.4m0-5.4l-5.4 5.4M176 307l5.4 5.4m0-5.4l-5.4 5.4M93.2 276.6l5.4 5.4m0-5.4l-5.4 5.4M84.9 291.8l5.4 5.4m0-5.4l-5.4 5.4M107.6 300.5l5.4 5.4m0-5.4l-5.4 5.4M159.5 278.9l5.4 5.4m0-5.4l-5.4 5.4M192.4 272.2l5.4 5.4m0-5.4l-5.4 5.4M194.2 280.8l5.4 5.4m0-5.4l-5.4 5.4M158.4 255.2l5.4 5.4m0-5.4l-5.4 5.4M172.1 278.8l5.4 5.4m0-5.4l-5.4 5.4M75.2 335.5l5.4 5.4m0-5.4l-5.4 5.4M168.1 259l5.4 5.4m0-5.4l-5.4 5.4M122.8 318.2l5.4 5.4m0-5.4l-5.4 5.4M130.3 259.6l5.4 5.4m0-5.4l-5.4 5.4M97.4 318.5l5.4 5.4m0-5.4l-5.4 5.4M172 314.5l5.4 5.4m0-5.4l-5.4 5.4M191.7 299.5l5.4 5.4m0-5.4l-5.4 5.4M96.2 299.2l5.4 5.4m0-5.4l-5.4 5.4M121.7 334.2l5.4 5.4m0-5.4l-5.4 5.4M187.6 298.7l5.4 5.4m0-5.4l-5.4 5.4M189.6 253.3l5.4 5.4m0-5.4l-5.4 5.4M187.4 270.3l5.4 5.4m0-5.4l-5.4 5.4M147.5 290.2l5.4 5.4m0-5.4l-5.4 5.4M168 281.9l5.4 5.4m0-5.4l-5.4 5.4M193 267.6l5.4 5.4m0-5.4l-5.4 5.4M130.5 258.9l5.4 5.4m0-5.4l-5.4 5.4M109 301.4l5.4 5.4m0-5.4l-5.4 5.4M159.9 252.2l5.4 5.4m0-5.4l-5.4 5.4M110.9 276.1l5.4 5.4m0-5.4l-5.4 5.4M191.7 255.6l5.4 5.4m0-5.4l-5.4 5.4M165.6 259.7l5.4 5.4m0-5.4l-5.4 5.4M156.7 286.4l5.4 5.4m0-5.4l-5.4 5.4M96.1 289.6l5.4 5.4m0-5.4l-5.4 5.4M203.8 249.8l5.4 5.4m0-5.4l-5.4 5.4M75.5 309.5l5.4 5.4m0-5.4l-5.4 5.4M94.7 266.6l5.4 5.4m0-5.4l-5.4 5.4M96.6 306.2l5.4 5.4m0-5.4l-5.4 5.4M149.6 312.2l5.4 5.4m0-5.4l-5.4 5.4M162.6 313.8l5.4 5.4m0-5.4l-5.4 5.4M198.7 278.9l5.4 5.4m0-5.4l-5.4 5.4M195.2 268.6l5.4 5.4m0-5.4l-5.4 5.4M122 319.1l5.4 5.4m0-5.4l-5.4 5.4M191.9 276.1l5.4 5.4m0-5.4l-5.4 5.4M117.6 331.1l5.4 5.4m0-5.4l-5.4 5.4M102.5 333.3l5.4 5.4m0-5.4l-5.4 5.4M93.3 268.3l5.4 5.4m0-5.4l-5.4 5.4M108 263.5l5.4 5.4m0-5.4l-5.4 5.4M170.7 277.9l5.4 5.4m0-5.4l-5.4 5.4M183.5 252l5.4 5.4m0-5.4l-5.4 5.4M81.5 314l5.4 5.4m0-5.4l-5.4 5.4M108.2 288.9l5.4 5.4m0-5.4l-5.4 5.4M180.8 266.8l5.4 5.4m0-5.4l-5.4 5.4M204.4 272.9l5.4 5.4m0-5.4l-5.4 5.4M151.7 278.6l5.4 5.4m0-5.4l-5.4 5.4M73.5 317.9l5.4 5.4m0-5.4l-5.4 5.4M96.3 331.3l5.4 5.4m0-5.4l-5.4 5.4M177.4 295.8l5.4 5.4m0-5.4l-5.4 5.4M177.1 252.9l5.4 5.4m0-5.4l-5.4 5.4M119.7 264l5.4 5.4m0-5.4l-5.4 5.4M115.9 279.5l5.4 5.4m0-5.4l-5.4 5.4M104.9 270.6l5.4 5.4m0-5.4l-5.4 5.4M108.6 298.5l5.4 5.4m0-5.4l-5.4 5.4M169 260.8l5.4 5.4m0-5.4l-5.4 5.4M88.9 321.7l5.4 5.4m0-5.4l-5.4 5.4M98.8 266.4l5.4 5.4m0-5.4l-5.4 5.4M162.2 271.1l5.4 5.4m0-5.4l-5.4 5.4M118.1 281.9l5.4 5.4m0-5.4l-5.4 5.4M105.5 263.9l5.4 5.4m0-5.4l-5.4 5.4M98.9 296.7l5.4 5.4m0-5.4l-5.4 5.4M163.6 317.2l5.4 5.4m0-5.4l-5.4 5.4M160.8 300.6l5.4 5.4m0-5.4l-5.4 5.4M76.4 328l5.4 5.4m0-5.4l-5.4 5.4M159.2 261.3l5.4 5.4m0-5.4l-5.4 5.4M163 257.6l5.4 5.4m0-5.4l-5.4 5.4M161.1 265.4l5.4 5.4m0-5.4l-5.4 5.4M184.7 282.4l5.4 5.4m0-5.4l-5.4 5.4M102.1 329.8l5.4 5.4m0-5.4l-5.4 5.4M85 301.4l5.4 5.4m0-5.4l-5.4 5.4M109.8 285.4l5.4 5.4m0-5.4l-5.4 5.4M192.5 260.2l5.4 5.4m0-5.4l-5.4 5.4M96.1 282.9l5.4 5.4m0-5.4l-5.4 5.4M96.8 331.7l5.4 5.4m0-5.4l-5.4 5.4M99.9 318.8l5.4 5.4m0-5.4l-5.4 5.4M70.8 335.4l5.4 5.4m0-5.4l-5.4 5.4M180.5 257.3l5.4 5.4m0-5.4l-5.4 5.4M121.1 305.7l5.4 5.4m0-5.4l-5.4 5.4M165.9 288.4l5.4 5.4m0-5.4l-5.4 5.4M114.9 323.8l5.4 5.4m0-5.4l-5.4 5.4M85.5 271.6l5.4 5.4m0-5.4l-5.4 5.4M100.4 289l5.4 5.4m0-5.4l-5.4 5.4M106.3 292.3l5.4 5.4m0-5.4l-5.4 5.4M138.6 313.2l5.4 5.4m0-5.4l-5.4 5.4M85.8 298.8l5.4 5.4m0-5.4l-5.4 5.4M143.6 262.4l5.4 5.4m0-5.4l-5.4 5.4M148 305.5l5.4 5.4m0-5.4l-5.4 5.4M197.1 265.1l5.4 5.4m0-5.4l-5.4 5.4M136.1 295.9l5.4 5.4m0-5.4l-5.4 5.4M185.1 280.2l5.4 5.4m0-5.4l-5.4 5.4M145.2 289.9l5.4 5.4m0-5.4l-5.4 5.4M192 304.9l5.4 5.4m0-5.4l-5.4 5.4M87.7 321.4l5.4 5.4m0-5.4l-5.4 5.4M103.2 328.9l5.4 5.4m0-5.4l-5.4 5.4M203.8 286.2l5.4 5.4m0-5.4l-5.4 5.4M179.2 295.5l5.4 5.4m0-5.4l-5.4 5.4M141.3 316.8l5.4 5.4m0-5.4l-5.4 5.4M192 298.7l5.4 5.4m0-5.4l-5.4 5.4M125.4 268.8l5.4 5.4m0-5.4l-5.4 5.4M188.9 245l5.4 5.4m0-5.4l-5.4 5.4M135.8 298.4l5.4 5.4m0-5.4l-5.4 5.4M183.1 298.3l5.4 5.4m0-5.4l-5.4 5.4M97.5 293.3l5.4 5.4m0-5.4l-5.4 5.4M111.7 313.8l5.4 5.4m0-5.4l-5.4 5.4M175.8 305.3l5.4 5.4m0-5.4l-5.4 5.4M155.5 309.6l5.4 5.4m0-5.4l-5.4 5.4M85.4 265.2l5.4 5.4m0-5.4l-5.4 5.4M176.1 272.2l5.4 5.4m0-5.4l-5.4 5.4M138.5 260.3l5.4 5.4m0-5.4l-5.4 5.4M177.4 282.8l5.4 5.4m0-5.4l-5.4 5.4M124.6 272.7l5.4 5.4m0-5.4l-5.4 5.4M165.4 257.2l5.4 5.4m0-5.4l-5.4 5.4M103.9 326.4l5.4 5.4m0-5.4l-5.4 5.4M115 328.2l5.4 5.4m0-5.4l-5.4 5.4M201.6 284.3l5.4 5.4m0-5.4l-5.4 5.4M106.9 325l5.4 5.4m0-5.4l-5.4 5.4M143.1 311.3l5.4 5.4m0-5.4l-5.4 5.4M148.2 271.3l5.4 5.4m0-5.4l-5.4 5.4M100.7 325.5l5.4 5.4m0-5.4l-5.4 5.4M140.4 300.6l5.4 5.4m0-5.4l-5.4 5.4M131 303.5l5.4 5.4m0-5.4l-5.4 5.4M92.3 326.4l5.4 5.4m0-5.4l-5.4 5.4M169.5 278.8l5.4 5.4m0-5.4l-5.4 5.4M164.1 278.4l5.4 5.4m0-5.4l-5.4 5.4M195.2 288.2l5.4 5.4m0-5.4l-5.4 5.4M132.6 313.5l5.4 5.4m0-5.4l-5.4 5.4M125.5 263l5.4 5.4m0-5.4l-5.4 5.4M86.8 282.1l5.4 5.4m0-5.4l-5.4 5.4M107 316l5.4 5.4m0-5.4l-5.4 5.4M111.4 300.9l5.4 5.4m0-5.4l-5.4 5.4M158.1 299.9l5.4 5.4m0-5.4l-5.4 5.4M187.1 297.2l5.4 5.4m0-5.4l-5.4 5.4M178.5 301.1l5.4 5.4m0-5.4l-5.4 5.4M157.1 270.6l5.4 5.4m0-5.4l-5.4 5.4M141.4 271.7l5.4 5.4m0-5.4l-5.4 5.4M201 268.9l5.4 5.4m0-5.4l-5.4 5.4M184.2 255.2l5.4 5.4m0-5.4l-5.4 5.4M129.5 299.3l5.4 5.4m0-5.4l-5.4 5.4M92.5 321.8l5.4 5.4m0-5.4l-5.4 5.4M111.3 298.9l5.4 5.4m0-5.4l-5.4 5.4M122.3 295l5.4 5.4m0-5.4l-5.4 5.4M135.8 253.6l5.4 5.4m0-5.4l-5.4 5.4M187.8 291.9l5.4 5.4m0-5.4l-5.4 5.4M72.6 332.2l5.4 5.4m0-5.4l-5.4 5.4M148.8 259.4l5.4 5.4m0-5.4l-5.4 5.4M115.2 325.5l5.4 5.4m0-5.4l-5.4 5.4M173.9 287.7l5.4 5.4m0-5.4l-5.4 5.4M133.9 325.9l5.4 5.4m0-5.4l-5.4 5.4M145.7 284.4l5.4 5.4m0-5.4l-5.4 5.4M167.2 253.9l5.4 5.4m0-5.4l-5.4 5.4M113.8 299.1l5.4 5.4m0-5.4l-5.4 5.4M116.9 262.7l5.4 5.4m0-5.4l-5.4 5.4M130.3 331.1l5.4 5.4m0-5.4l-5.4 5.4M71.9 333l5.4 5.4m0-5.4l-5.4 5.4M122 295.9l5.4 5.4m0-5.4l-5.4 5.4M193.5 287.2l5.4 5.4m0-5.4l-5.4 5.4M204.2 287.3l5.4 5.4m0-5.4l-5.4 5.4M200.7 273.5l5.4 5.4m0-5.4l-5.4 5.4M122.9 333.1l5.4 5.4m0-5.4l-5.4 5.4M90 264.1l5.4 5.4m0-5.4l-5.4 5.4M160.6 310.1l5.4 5.4m0-5.4l-5.4 5.4M92.1 278.3l5.4 5.4m0-5.4l-5.4 5.4M206.5 288.1l5.4 5.4m0-5.4l-5.4 5.4M98.3 320.8l5.4 5.4m0-5.4l-5.4 5.4M167.4 251.5l5.4 5.4m0-5.4l-5.4 5.4M97.6 315.6l5.4 5.4m0-5.4l-5.4 5.4M89.3 318.4l5.4 5.4m0-5.4l-5.4 5.4M100.7 299l5.4 5.4m0-5.4l-5.4 5.4M102.3 276.1l5.4 5.4m0-5.4l-5.4 5.4M102.6 313l5.4 5.4m0-5.4l-5.4 5.4M127.2 322l5.4 5.4m0-5.4l-5.4 5.4M76.7 329.4l5.4 5.4m0-5.4l-5.4 5.4M191.7 280.7l5.4 5.4m0-5.4l-5.4 5.4M111.7 300.4l5.4 5.4m0-5.4l-5.4 5.4M128.4 307.9l5.4 5.4m0-5.4l-5.4 5.4M77.1 323.2l5.4 5.4m0-5.4l-5.4 5.4M89.4 318.4l5.4 5.4m0-5.4l-5.4 5.4M115.1 328.2l5.4 5.4m0-5.4l-5.4 5.4M139.8 273.3l5.4 5.4m0-5.4l-5.4 5.4M138 268.9l5.4 5.4m0-5.4l-5.4 5.4M176.8 296.2l5.4 5.4m0-5.4l-5.4 5.4M98.9 333.8l5.4 5.4m0-5.4l-5.4 5.4M164.8 303.6l5.4 5.4m0-5.4l-5.4 5.4M109.6 330l5.4 5.4m0-5.4l-5.4 5.4M134.5 259l5.4 5.4m0-5.4l-5.4 5.4M102.2 282.1l5.4 5.4m0-5.4l-5.4 5.4M198.3 294.5l5.4 5.4m0-5.4l-5.4 5.4M188.2 251.6l5.4 5.4m0-5.4l-5.4 5.4M166.8 316.9l5.4 5.4m0-5.4l-5.4 5.4M76.3 335.8l5.4 5.4m0-5.4l-5.4 5.4M196.4 287.3l5.4 5.4m0-5.4l-5.4 5.4M190.9 248.7l5.4 5.4m0-5.4l-5.4 5.4M107.3 321.1l5.4 5.4m0-5.4l-5.4 5.4M135.9 261.2l5.4 5.4m0-5.4l-5.4 5.4M180.1 254.3l5.4 5.4m0-5.4l-5.4 5.4M119.4 316.2l5.4 5.4m0-5.4l-5.4 5.4M153.9 256.7l5.4 5.4m0-5.4l-5.4 5.4M96.6 290.6l5.4 5.4m0-5.4l-5.4 5.4M195.6 284.7l5.4 5.4m0-5.4l-5.4 5.4M178.7 262.7l5.4 5.4m0-5.4l-5.4 5.4M130.5 273.7l5.4 5.4m0-5.4l-5.4 5.4M164.7 296.9l5.4 5.4m0-5.4l-5.4 5.4M141.1 262.5l5.4 5.4m0-5.4l-5.4 5.4M190.7 246l5.4 5.4m0-5.4l-5.4 5.4M120.1 274.9l5.4 5.4m0-5.4l-5.4 5.4M145.3 258.6l5.4 5.4m0-5.4l-5.4 5.4M102.7 294.4l5.4 5.4m0-5.4l-5.4 5.4M104.9 263.1l5.4 5.4m0-5.4l-5.4 5.4M84.6 324.6l5.4 5.4m0-5.4l-5.4 5.4M150.9 265.7l5.4 5.4m0-5.4l-5.4 5.4M116.9 330.4l5.4 5.4m0-5.4l-5.4 5.4M150.1 280.7l5.4 5.4m0-5.4l-5.4 5.4M128.8 312.6l5.4 5.4m0-5.4l-5.4 5.4M117.3 316.2l5.4 5.4m0-5.4l-5.4 5.4M181.3 302.3l5.4 5.4m0-5.4l-5.4 5.4M167.6 286.7l5.4 5.4m0-5.4l-5.4 5.4M101.2 311.8l5.4 5.4m0-5.4l-5.4 5.4M161.7 257.5l5.4 5.4m0-5.4l-5.4 5.4M105.3 328.6l5.4 5.4m0-5.4l-5.4 5.4M95.7 301.8l5.4 5.4m0-5.4l-5.4 5.4M168.3 252.6l5.4 5.4m0-5.4l-5.4 5.4M121.4 324.4l5.4 5.4m0-5.4l-5.4 5.4M108.1 284.4l5.4 5.4m0-5.4l-5.4 5.4M156.2 281.9l5.4 5.4m0-5.4l-5.4 5.4M113.9 310l5.4 5.4m0-5.4l-5.4 5.4M95.1 298.5l5.4 5.4m0-5.4l-5.4 5.4M159.1 275l5.4 5.4m0-5.4l-5.4 5.4M109.2 274.3l5.4 5.4m0-5.4l-5.4 5.4M195.1 294.2l5.4 5.4m0-5.4l-5.4 5.4M124.1 274l5.4 5.4m0-5.4l-5.4 5.4M189.6 273.9l5.4 5.4m0-5.4l-5.4 5.4M197 265.1l5.4 5.4m0-5.4l-5.4 5.4M162.1 318.3l5.4 5.4m0-5.4l-5.4 5.4M85.8 306l5.4 5.4m0-5.4l-5.4 5.4M204.5 267.4l5.4 5.4m0-5.4l-5.4 5.4M118.1 261.2l5.4 5.4m0-5.4l-5.4 5.4M78.4 306.7l5.4 5.4m0-5.4l-5.4 5.4M131 258.6l5.4 5.4m0-5.4l-5.4 5.4M136.7 303.2l5.4 5.4m0-5.4l-5.4 5.4M116.3 333.4l5.4 5.4m0-5.4l-5.4 5.4M203.1 251.2l5.4 5.4m0-5.4l-5.4 5.4M83.1 296.7l5.4 5.4m0-5.4l-5.4 5.4M78.7 318.6l5.4 5.4m0-5.4l-5.4 5.4M95.4 276.5l5.4 5.4m0-5.4l-5.4 5.4M93.2 297.2l5.4 5.4m0-5.4l-5.4 5.4M90.3 329.3l5.4 5.4m0-5.4l-5.4 5.4M136.2 287.3l5.4 5.4m0-5.4l-5.4 5.4M118.4 331.1l5.4 5.4m0-5.4l-5.4 5.4M158.9 275.6l5.4 5.4m0-5.4l-5.4 5.4M116.9 319.1l5.4 5.4m0-5.4l-5.4 5.4M159.6 258.7l5.4 5.4m0-5.4l-5.4 5.4M92.6 319.4l5.4 5.4m0-5.4l-5.4 5.4M97.4 322.3l5.4 5.4m0-5.4l-5.4 5.4M134.2 285.9l5.4 5.4m0-5.4l-5.4 5.4M165.7 257.9l5.4 5.4m0-5.4l-5.4 5.4M152.8 255.7l5.4 5.4m0-5.4l-5.4 5.4M89.9 264.4l5.4 5.4m0-5.4l-5.4 5.4M85.9 325.5l5.4 5.4m0-5.4l-5.4 5.4M86.3 304.1l5.4 5.4m0-5.4l-5.4 5.4M126.7 276.6l5.4 5.4m0-5.4l-5.4 5.4M198.4 297.8l5.4 5.4m0-5.4l-5.4 5.4M149.1 299.6l5.4 5.4m0-5.4l-5.4 5.4M122.3 313.1l5.4 5.4m0-5.4l-5.4 5.4M168.9 263.5l5.4 5.4m0-5.4l-5.4 5.4M163.9 296.8l5.4 5.4m0-5.4l-5.4 5.4M126.1 320.2l5.4 5.4m0-5.4l-5.4 5.4M150.4 300.2l5.4 5.4m0-5.4l-5.4 5.4M143.2 292l5.4 5.4m0-5.4l-5.4 5.4M110.1 298.9l5.4 5.4m0-5.4l-5.4 5.4M132.2 317.1l5.4 5.4m0-5.4l-5.4 5.4M133 295l5.4 5.4m0-5.4l-5.4 5.4M71.7 323.7l5.4 5.4m0-5.4l-5.4 5.4M138.3 293.7l5.4 5.4m0-5.4l-5.4 5.4M111.4 332.7l5.4 5.4m0-5.4l-5.4 5.4M114.2 305.4l5.4 5.4m0-5.4l-5.4 5.4M83.9 282l5.4 5.4m0-5.4l-5.4 5.4M99.9 288.3l5.4 5.4m0-5.4l-5.4 5.4M138 278.5l5.4 5.4m0-5.4l-5.4 5.4M192.4 273.6l5.4 5.4m0-5.4l-5.4 5.4M184.7 276.2l5.4 5.4m0-5.4l-5.4 5.4M100.5 262.1l5.4 5.4m0-5.4l-5.4 5.4M173.5 292.5l5.4 5.4m0-5.4l-5.4 5.4M194.3 304.5l5.4 5.4m0-5.4l-5.4 5.4M144.2 263.7l5.4 5.4m0-5.4l-5.4 5.4M92.7 291.7l5.4 5.4m0-5.4l-5.4 5.4M71.8 334.4l5.4 5.4m0-5.4l-5.4 5.4M128.3 326.6l5.4 5.4m0-5.4l-5.4 5.4M197.6 290.7l5.4 5.4m0-5.4l-5.4 5.4M133.3 314.8l5.4 5.4m0-5.4l-5.4 5.4M150.6 272l5.4 5.4m0-5.4l-5.4 5.4M148.4 283.4l5.4 5.4m0-5.4l-5.4 5.4M72.4 322.3l5.4 5.4m0-5.4l-5.4 5.4M199.2 295.3l5.4 5.4m0-5.4l-5.4 5.4M148.1 277.6l5.4 5.4m0-5.4l-5.4 5.4M154.5 256l5.4 5.4m0-5.4l-5.4 5.4M157.2 309.8l5.4 5.4m0-5.4l-5.4 5.4M206.2 276l5.4 5.4m0-5.4l-5.4 5.4M85.6 268.3l5.4 5.4m0-5.4l-5.4 5.4M132.8 326.9l5.4 5.4m0-5.4l-5.4 5.4M156.9 287.3l5.4 5.4m0-5.4l-5.4 5.4M148.5 280.3l5.4 5.4m0-5.4l-5.4 5.4M105.9 323.5l5.4 5.4m0-5.4l-5.4 5.4M114.4 334.5l5.4 5.4m0-5.4l-5.4 5.4M97.3 291.7l5.4 5.4m0-5.4l-5.4 5.4M123.3 267.1l5.4 5.4m0-5.4l-5.4 5.4M89.2 318.6l5.4 5.4m0-5.4l-5.4 5.4M141.5 273.9l5.4 5.4m0-5.4l-5.4 5.4M112.9 318.6l5.4 5.4m0-5.4l-5.4 5.4M86.9 304l5.4 5.4m0-5.4l-5.4 5.4M121.8 263.7l5.4 5.4m0-5.4l-5.4 5.4M102.7 306.1l5.4 5.4m0-5.4l-5.4 5.4M108.6 295l5.4 5.4m0-5.4l-5.4 5.4M98.6 264.7l5.4 5.4m0-5.4l-5.4 5.4M191.2 271.6l5.4 5.4m0-5.4l-5.4 5.4M124.5 259.7l5.4 5.4m0-5.4l-5.4 5.4M205.1 263.8l5.4 5.4m0-5.4l-5.4 5.4M125.9 268.9l5.4 5.4m0-5.4l-5.4 5.4M110 331.9l5.4 5.4m0-5.4l-5.4 5.4M132.4 258.5l5.4 5.4m0-5.4l-5.4 5.4M148.9 313l5.4 5.4m0-5.4l-5.4 5.4M98.8 285.9l5.4 5.4m0-5.4l-5.4 5.4M139.6 253.8l5.4 5.4m0-5.4l-5.4 5.4M93.2 294.5l5.4 5.4m0-5.4l-5.4 5.4M131.2 302.7l5.4 5.4m0-5.4l-5.4 5.4M95.3 302.1l5.4 5.4m0-5.4l-5.4 5.4M113.7 288.8l5.4 5.4m0-5.4l-5.4 5.4M198.7 292.9l5.4 5.4m0-5.4l-5.4 5.4M117.2 334.6l5.4 5.4m0-5.4l-5.4 5.4M140.8 305.8l5.4 5.4m0-5.4l-5.4 5.4M85.6 293.7l5.4 5.4m0-5.4l-5.4 5.4M154.3 305.1l5.4 5.4m0-5.4l-5.4 5.4M170.6 279l5.4 5.4m0-5.4l-5.4 5.4M78.3 333.2l5.4 5.4m0-5.4l-5.4 5.4M141.8 281.5l5.4 5.4m0-5.4l-5.4 5.4M146.2 316.5l5.4 5.4m0-5.4l-5.4 5.4M117 271l5.4 5.4m0-5.4l-5.4 5.4M124.2 288.6l5.4 5.4m0-5.4l-5.4 5.4M101.1 279.3l5.4 5.4m0-5.4l-5.4 5.4M173.3 263.1l5.4 5.4m0-5.4l-5.4 5.4M205.2 250.2l5.4 5.4m0-5.4l-5.4 5.4M166.1 294.4l5.4 5.4m0-5.4l-5.4 5.4M106.2 272.4l5.4 5.4m0-5.4l-5.4 5.4M127.2 307.8l5.4 5.4m0-5.4l-5.4 5.4M85.8 281.5l5.4 5.4m0-5.4l-5.4 5.4M167.2 266.3l5.4 5.4m0-5.4l-5.4 5.4M90.7 318.7l5.4 5.4m0-5.4l-5.4 5.4M191.4 251.6l5.4 5.4m0-5.4l-5.4 5.4M156.3 313.5l5.4 5.4m0-5.4l-5.4 5.4M146.9 266.5l5.4 5.4m0-5.4l-5.4 5.4M117.1 277.4l5.4 5.4m0-5.4l-5.4 5.4M176.2 275.6l5.4 5.4m0-5.4l-5.4 5.4M144.5 255l5.4 5.4m0-5.4l-5.4 5.4M152.4 273.7l5.4 5.4m0-5.4l-5.4 5.4M112.3 327.8l5.4 5.4m0-5.4l-5.4 5.4M146.3 317.1l5.4 5.4m0-5.4l-5.4 5.4M96 284.1l5.4 5.4m0-5.4l-5.4 5.4M112.3 327.4l5.4 5.4m0-5.4l-5.4 5.4M137.5 288.7l5.4 5.4m0-5.4l-5.4 5.4M113.1 275.2l5.4 5.4m0-5.4l-5.4 5.4M130.8 261.6l5.4 5.4m0-5.4l-5.4 5.4M162.9 313.7l5.4 5.4m0-5.4l-5.4 5.4M102 335.1l5.4 5.4m0-5.4l-5.4 5.4M200.3 288l5.4 5.4m0-5.4l-5.4 5.4M185.2 245.7l5.4 5.4m0-5.4l-5.4 5.4M178.6 302l5.4 5.4m0-5.4l-5.4 5.4M191.9 266.5l5.4 5.4m0-5.4l-5.4 5.4M138 311.7l5.4 5.4m0-5.4l-5.4 5.4M91.6 330.7l5.4 5.4m0-5.4l-5.4 5.4M144 289l5.4 5.4m0-5.4l-5.4 5.4M95.5 288.5l5.4 5.4m0-5.4l-5.4 5.4M80.6 309.7l5.4 5.4m0-5.4l-5.4 5.4M197.6 252.4l5.4 5.4m0-5.4l-5.4 5.4M203.1 273.4l5.4 5.4m0-5.4l-5.4 5.4M74.8 324.9l5.4 5.4m0-5.4l-5.4 5.4M84.2 305.4l5.4 5.4m0-5.4l-5.4 5.4M198.3 264.4l5.4 5.4m0-5.4l-5.4 5.4M114.5 262.5l5.4 5.4m0-5.4l-5.4 5.4M123.1 330.7l5.4 5.4m0-5.4l-5.4 5.4M195.9 276.6l5.4 5.4m0-5.4l-5.4 5.4M206.4 278.3l5.4 5.4m0-5.4l-5.4 5.4M135.1 254.4l5.4 5.4m0-5.4l-5.4 5.4M146.4 278.4l5.4 5.4m0-5.4l-5.4 5.4M132.8 304.5l5.4 5.4m0-5.4l-5.4 5.4M95.3 329.3l5.4 5.4m0-5.4l-5.4 5.4M206.3 272.9l5.4 5.4m0-5.4l-5.4 5.4M186.3 302.4l5.4 5.4m0-5.4l-5.4 5.4M110.8 288.8l5.4 5.4m0-5.4l-5.4 5.4M100.4 313.7l5.4 5.4m0-5.4l-5.4 5.4M169.5 264.4l5.4 5.4m0-5.4l-5.4 5.4M204.6 276.9l5.4 5.4m0-5.4l-5.4 5.4M117.8 294.2l5.4 5.4m0-5.4l-5.4 5.4M150.1 282.7l5.4 5.4m0-5.4l-5.4 5.4M195.6 285.1l5.4 5.4m0-5.4l-5.4 5.4M201.7 293.3l5.4 5.4m0-5.4l-5.4 5.4M114.2 292.9l5.4 5.4m0-5.4l-5.4 5.4M85.6 312.9l5.4 5.4m0-5.4l-5.4 5.4M191.1 252.7l5.4 5.4m0-5.4l-5.4 5.4M85.4 283.1l5.4 5.4m0-5.4l-5.4 5.4M110.5 288.1l5.4 5.4m0-5.4l-5.4 5.4M128.1 284.8l5.4 5.4m0-5.4l-5.4 5.4M192 280.4l5.4 5.4m0-5.4l-5.4 5.4M141.2 268.1l5.4 5.4m0-5.4l-5.4 5.4M132 272.1l5.4 5.4m0-5.4l-5.4 5.4M120.9 286.2l5.4 5.4m0-5.4l-5.4 5.4M170.4 283.4l5.4 5.4m0-5.4l-5.4 5.4M152.5 302l5.4 5.4m0-5.4l-5.4 5.4M117.8 276.9l5.4 5.4m0-5.4l-5.4 5.4M130.9 296.8l5.4 5.4m0-5.4l-5.4 5.4M121.7 310.7l5.4 5.4m0-5.4l-5.4 5.4M155.6 256.1l5.4 5.4m0-5.4l-5.4 5.4M96.5 277.4l5.4 5.4m0-5.4l-5.4 5.4M142.7 278.5l5.4 5.4m0-5.4l-5.4 5.4M160.8 300.6l5.4 5.4m0-5.4l-5.4 5.4M141.2 279.2l5.4 5.4m0-5.4l-5.4 5.4M196.9 276.6l5.4 5.4m0-5.4l-5.4 5.4M159.4 305.2l5.4 5.4m0-5.4l-5.4 5.4M191.2 292.3l5.4 5.4m0-5.4l-5.4 5.4M132 273.4l5.4 5.4m0-5.4l-5.4 5.4M86.3 331.8l5.4 5.4m0-5.4l-5.4 5.4M151.4 316.7l5.4 5.4m0-5.4l-5.4 5.4M142.3 310.5l5.4 5.4m0-5.4l-5.4 5.4M119.8 316.8l5.4 5.4m0-5.4l-5.4 5.4M104.3 325.2l5.4 5.4m0-5.4l-5.4 5.4M203.7 269.5l5.4 5.4m0-5.4l-5.4 5.4M119.1 327.7l5.4 5.4m0-5.4l-5.4 5.4M203.6 255l5.4 5.4m0-5.4l-5.4 5.4M130.2 297.3l5.4 5.4m0-5.4l-5.4 5.4M115.5 262.8l5.4 5.4m0-5.4l-5.4 5.4M167.7 251l5.4 5.4m0-5.4l-5.4 5.4M148.6 304.3l5.4 5.4m0-5.4l-5.4 5.4M105.8 315.9l5.4 5.4m0-5.4l-5.4 5.4M83.9 310l5.4 5.4m0-5.4l-5.4 5.4M113.2 261.3l5.4 5.4m0-5.4l-5.4 5.4M82.7 323.8l5.4 5.4m0-5.4l-5.4 5.4M97.7 325.5l5.4 5.4m0-5.4l-5.4 5.4M121.1 301.2l5.4 5.4m0-5.4l-5.4 5.4M114.6 321.5l5.4 5.4m0-5.4l-5.4 5.4M94.9 268.6l5.4 5.4m0-5.4l-5.4 5.4M203.9 300.7l5.4 5.4m0-5.4l-5.4 5.4M167.4 294.8l5.4 5.4m0-5.4l-5.4 5.4M97.7 308.5l5.4 5.4m0-5.4l-5.4 5.4M116.3 314.5l5.4 5.4m0-5.4l-5.4 5.4M122.7 269.5l5.4 5.4m0-5.4l-5.4 5.4M154.1 277.1l5.4 5.4m0-5.4l-5.4 5.4M96.1 318.9l5.4 5.4m0-5.4l-5.4 5.4M185.5 247.1l5.4 5.4m0-5.4l-5.4 5.4M97.2 330.6l5.4 5.4m0-5.4l-5.4 5.4M185.1 259.3l5.4 5.4m0-5.4l-5.4 5.4M109 324.3l5.4 5.4m0-5.4l-5.4 5.4M140.1 268.1l5.4 5.4m0-5.4l-5.4 5.4M86.7 302.6l5.4 5.4m0-5.4l-5.4 5.4M92.4 330.2l5.4 5.4m0-5.4l-5.4 5.4M143.1 309.9l5.4 5.4m0-5.4l-5.4 5.4M194.8 253.7l5.4 5.4m0-5.4l-5.4 5.4M169.4 290.2l5.4 5.4m0-5.4l-5.4 5.4M158.5 306.9l5.4 5.4m0-5.4l-5.4 5.4M134.1 286.9l5.4 5.4m0-5.4l-5.4 5.4M127.5 296.4l5.4 5.4m0-5.4l-5.4 5.4M186.7 245.8l5.4 5.4m0-5.4l-5.4 5.4M170.7 258l5.4 5.4m0-5.4l-5.4 5.4M111.6 330.9l5.4 5.4m0-5.4l-5.4 5.4M100.3 291.3l5.4 5.4m0-5.4l-5.4 5.4M174.7 269.5l5.4 5.4m0-5.4l-5.4 5.4M195.3 265.4l5.4 5.4m0-5.4l-5.4 5.4M110.7 332.6l5.4 5.4m0-5.4l-5.4 5.4M135.9 307.1l5.4 5.4m0-5.4l-5.4 5.4M189.1 253.6l5.4 5.4m0-5.4l-5.4 5.4M143.6 265.8l5.4 5.4m0-5.4l-5.4 5.4M169.5 289.4l5.4 5.4m0-5.4l-5.4 5.4M179.2 284.7l5.4 5.4m0-5.4l-5.4 5.4M175.3 286.6l5.4 5.4m0-5.4l-5.4 5.4M113.8 326l5.4 5.4m0-5.4l-5.4 5.4M149.5 257l5.4 5.4m0-5.4l-5.4 5.4M145.5 292.7l5.4 5.4m0-5.4l-5.4 5.4M115.8 326.7l5.4 5.4m0-5.4l-5.4 5.4M185 249.3l5.4 5.4m0-5.4l-5.4 5.4M138.1 291.4l5.4 5.4m0-5.4l-5.4 5.4M78.2 298.1l5.4 5.4m0-5.4l-5.4 5.4M97.4 273.3l5.4 5.4m0-5.4l-5.4 5.4M133.1 298.4l5.4 5.4m0-5.4l-5.4 5.4M94.2 300.9l5.4 5.4m0-5.4l-5.4 5.4M203 287.4l5.4 5.4m0-5.4l-5.4 5.4M124.5 290l5.4 5.4m0-5.4l-5.4 5.4M89.5 269.1l5.4 5.4m0-5.4l-5.4 5.4M121.6 326.4l5.4 5.4m0-5.4l-5.4 5.4M142.3 271.6l5.4 5.4m0-5.4l-5.4 5.4M198.6 256.4l5.4 5.4m0-5.4l-5.4 5.4M90.6 271.2l5.4 5.4m0-5.4l-5.4 5.4M128.7 322.2l5.4 5.4m0-5.4l-5.4 5.4M144.2 255.7l5.4 5.4m0-5.4l-5.4 5.4M134.9 314.6l5.4 5.4m0-5.4l-5.4 5.4M164.2 310.5l5.4 5.4m0-5.4l-5.4 5.4M77.1 322.2l5.4 5.4m0-5.4l-5.4 5.4M160.2 288.1l5.4 5.4m0-5.4l-5.4 5.4M147.9 262.6l5.4 5.4m0-5.4l-5.4 5.4M168.6 294l5.4 5.4m0-5.4l-5.4 5.4M191 268.2l5.4 5.4m0-5.4l-5.4 5.4M183.6 271.3l5.4 5.4m0-5.4l-5.4 5.4M83.1 331.3l5.4 5.4m0-5.4l-5.4 5.4M83.6 317.4l5.4 5.4m0-5.4l-5.4 5.4M174.6 266.4l5.4 5.4m0-5.4l-5.4 5.4M165.1 303.5l5.4 5.4m0-5.4l-5.4 5.4M101 296.8l5.4 5.4m0-5.4l-5.4 5.4M105.5 269.4l5.4 5.4m0-5.4l-5.4 5.4M184.3 268.6l5.4 5.4m0-5.4l-5.4 5.4M114.1 283.8l5.4 5.4m0-5.4l-5.4 5.4M112.9 286.7l5.4 5.4m0-5.4l-5.4 5.4M185.7 262.2l5.4 5.4m0-5.4l-5.4 5.4M101.8 268.1l5.4 5.4m0-5.4l-5.4 5.4M180.6 280.4l5.4 5.4m0-5.4l-5.4 5.4M197.8 298.1l5.4 5.4m0-5.4l-5.4 5.4M100.8 293.7l5.4 5.4m0-5.4l-5.4 5.4M111.1 302.4l5.4 5.4m0-5.4l-5.4 5.4M167.5 282.6l5.4 5.4m0-5.4l-5.4 5.4M188.7 277.6l5.4 5.4m0-5.4l-5.4 5.4M186.6 278.4l5.4 5.4m0-5.4l-5.4 5.4M128.1 319.4l5.4 5.4m0-5.4l-5.4 5.4M161 276.8l5.4 5.4m0-5.4l-5.4 5.4M114.9 314.3l5.4 5.4m0-5.4l-5.4 5.4M158.3 279l5.4 5.4m0-5.4l-5.4 5.4M99 271.7l5.4 5.4m0-5.4l-5.4 5.4M80 332.6l5.4 5.4m0-5.4l-5.4 5.4M191.5 251.5l5.4 5.4m0-5.4l-5.4 5.4M199.7 245.3l5.4 5.4m0-5.4l-5.4 5.4M171.4 284.9l5.4 5.4m0-5.4l-5.4 5.4M142.4 288l5.4 5.4m0-5.4l-5.4 5.4M199.2 247.9l5.4 5.4m0-5.4l-5.4 5.4M129.5 319l5.4 5.4m0-5.4l-5.4 5.4M143.5 298.4l5.4 5.4m0-5.4l-5.4 5.4M180.8 252l5.4 5.4m0-5.4l-5.4 5.4M143.4 261.7l5.4 5.4m0-5.4l-5.4 5.4M162.1 294.3l5.4 5.4m0-5.4l-5.4 5.4M189.3 292.4l5.4 5.4m0-5.4l-5.4 5.4M124.8 300.8l5.4 5.4m0-5.4l-5.4 5.4M121.6 312.2l5.4 5.4m0-5.4l-5.4 5.4M89 277.3l5.4 5.4m0-5.4l-5.4 5.4M140.9 297.7l5.4 5.4m0-5.4l-5.4 5.4M172.7 291l5.4 5.4m0-5.4l-5.4 5.4M91.9 312.9l5.4 5.4m0-5.4l-5.4 5.4M146.4 275.8l5.4 5.4m0-5.4l-5.4 5.4M156.7 268.4l5.4 5.4m0-5.4l-5.4 5.4M118.8 266.5l5.4 5.4m0-5.4l-5.4 5.4M149.7 314.1l5.4 5.4m0-5.4l-5.4 5.4M86.9 279.6l5.4 5.4m0-5.4l-5.4 5.4M186 249.4l5.4 5.4m0-5.4l-5.4 5.4M181.8 261.3l5.4 5.4m0-5.4l-5.4 5.4M150.7 315l5.4 5.4m0-5.4l-5.4 5.4M107.2 292.8l5.4 5.4m0-5.4l-5.4 5.4M85 319.2l5.4 5.4m0-5.4l-5.4 5.4M179 264.8l5.4 5.4m0-5.4l-5.4 5.4M81.7 322.7l5.4 5.4m0-5.4l-5.4 5.4M179.5 283.3l5.4 5.4m0-5.4l-5.4 5.4M189.4 269.3l5.4 5.4m0-5.4l-5.4 5.4M83.1 266.2l5.4 5.4m0-5.4l-5.4 5.4M133.5 289l5.4 5.4m0-5.4l-5.4 5.4M145.9 284.8l5.4 5.4m0-5.4l-5.4 5.4M129 270.9l5.4 5.4m0-5.4l-5.4 5.4M153.4 314.7l5.4 5.4m0-5.4l-5.4 5.4M85.1 324.7l5.4 5.4m0-5.4l-5.4 5.4M89.3 332.3l5.4 5.4m0-5.4l-5.4 5.4M72 335.9l5.4 5.4m0-5.4l-5.4 5.4M170 253.4l5.4 5.4m0-5.4l-5.4 5.4M113.9 319.9l5.4 5.4m0-5.4l-5.4 5.4M106.3 295.8l5.4 5.4m0-5.4l-5.4 5.4M161.5 274.2l5.4 5.4m0-5.4l-5.4 5.4M149.9 302l5.4 5.4m0-5.4l-5.4 5.4M144.7 287.2l5.4 5.4m0-5.4l-5.4 5.4M195.7 265.3l5.4 5.4m0-5.4l-5.4 5.4M102.6 302.2l5.4 5.4m0-5.4l-5.4 5.4M151.5 302.4l5.4 5.4m0-5.4l-5.4 5.4M132.1 324.7l5.4 5.4m0-5.4l-5.4 5.4M90.7 336.4l5.4 5.4m0-5.4l-5.4 5.4M175.1 282.8l5.4 5.4m0-5.4l-5.4 5.4M108.8 275.1l5.4 5.4m0-5.4l-5.4 5.4M101.1 299.5l5.4 5.4m0-5.4l-5.4 5.4M151.8 255.1l5.4 5.4m0-5.4l-5.4 5.4M150.8 312.9l5.4 5.4m0-5.4l-5.4 5.4M84.4 336.9l5.4 5.4m0-5.4l-5.4 5.4M148.8 284l5.4 5.4m0-5.4l-5.4 5.4M133.5 286.3l5.4 5.4m0-5.4l-5.4 5.4M95.5 318.2l5.4 5.4m0-5.4l-5.4 5.4M150 300.3l5.4 5.4m0-5.4l-5.4 5.4M138.2 252.7l5.4 5.4m0-5.4l-5.4 5.4M133.9 268.6l5.4 5.4m0-5.4l-5.4 5.4M77.1 319.3l5.4 5.4m0-5.4l-5.4 5.4M95.6 302.1l5.4 5.4m0-5.4l-5.4 5.4M111 309.5l5.4 5.4m0-5.4l-5.4 5.4M79.5 303.5l5.4 5.4m0-5.4l-5.4 5.4M177.3 287l5.4 5.4m0-5.4l-5.4 5.4M192.4 280.4l5.4 5.4m0-5.4l-5.4 5.4M158.1 298.1l5.4 5.4m0-5.4l-5.4 5.4M184.4 296l5.4 5.4m0-5.4l-5.4 5.4M88.8 316.9l5.4 5.4m0-5.4l-5.4 5.4M94.5 279.5l5.4 5.4m0-5.4l-5.4 5.4M163.4 294.5l5.4 5.4m0-5.4l-5.4 5.4M159.3 298.7l5.4 5.4m0-5.4l-5.4 5.4M148.7 306.1l5.4 5.4m0-5.4l-5.4 5.4M133.6 299.1l5.4 5.4m0-5.4l-5.4 5.4M182.5 258.7l5.4 5.4m0-5.4l-5.4 5.4M100.7 275.6l5.4 5.4m0-5.4l-5.4 5.4M110.7 304.9l5.4 5.4m0-5.4l-5.4 5.4M179.9 304.1l5.4 5.4m0-5.4l-5.4 5.4M195.2 292.6l5.4 5.4m0-5.4l-5.4 5.4M125.2 334.6l5.4 5.4m0-5.4l-5.4 5.4M187.5 255.1l5.4 5.4m0-5.4l-5.4 5.4M136.4 294.6l5.4 5.4m0-5.4l-5.4 5.4M202.9 301.8l5.4 5.4m0-5.4l-5.4 5.4M111.7 325l5.4 5.4m0-5.4l-5.4 5.4M195.8 263.2l5.4 5.4m0-5.4l-5.4 5.4M142.1 270l5.4 5.4m0-5.4l-5.4 5.4M184.4 275.6l5.4 5.4m0-5.4l-5.4 5.4M84.6 277.5l5.4 5.4m0-5.4l-5.4 5.4M189.4 293.6l5.4 5.4m0-5.4l-5.4 5.4M128.3 277.9l5.4 5.4m0-5.4l-5.4 5.4M95.9 316.8l5.4 5.4m0-5.4l-5.4 5.4M85.3 276l5.4 5.4m0-5.4l-5.4 5.4M91.9 309.4l5.4 5.4m0-5.4l-5.4 5.4M121 280.1l5.4 5.4m0-5.4l-5.4 5.4M173.3 245.2l5.4 5.4m0-5.4l-5.4 5.4M146.5 281.4l5.4 5.4m0-5.4l-5.4 5.4M145.5 282.2l5.4 5.4m0-5.4l-5.4 5.4M122.3 315.6l5.4 5.4m0-5.4l-5.4 5.4M161.3 256.6l5.4 5.4m0-5.4l-5.4 5.4M163.4 276.6l5.4 5.4m0-5.4l-5.4 5.4M148.6 260.9l5.4 5.4m0-5.4l-5.4 5.4M139.8 261.8l5.4 5.4m0-5.4l-5.4 5.4M97.5 301.2l5.4 5.4m0-5.4l-5.4 5.4M204.6 295.5l5.4 5.4m0-5.4l-5.4 5.4M144.3 282.2l5.4 5.4m0-5.4l-5.4 5.4M186.4 295.4l5.4 5.4m0-5.4l-5.4 5.4M193 272.2l5.4 5.4m0-5.4l-5.4 5.4M124.8 280.6l5.4 5.4m0-5.4l-5.4 5.4M110.9 333l5.4 5.4m0-5.4l-5.4 5.4M92.5 304.9l5.4 5.4m0-5.4l-5.4 5.4M131.5 324.6l5.4 5.4m0-5.4l-5.4 5.4M143.7 312.5l5.4 5.4m0-5.4l-5.4 5.4M137.5 258.9l5.4 5.4m0-5.4l-5.4 5.4M161.8 315.3l5.4 5.4m0-5.4l-5.4 5.4M136.8 269.9l5.4 5.4m0-5.4l-5.4 5.4M76.2 320.7l5.4 5.4m0-5.4l-5.4 5.4M199.5 254.2l5.4 5.4m0-5.4l-5.4 5.4M111 333.3l5.4 5.4m0-5.4l-5.4 5.4M192.1 252.4l5.4 5.4m0-5.4l-5.4 5.4M177 265.5l5.4 5.4m0-5.4l-5.4 5.4M176.6 260.4l5.4 5.4m0-5.4l-5.4 5.4M121.8 270.7l5.4 5.4m0-5.4l-5.4 5.4M177.5 295.7l5.4 5.4m0-5.4l-5.4 5.4M166.7 283.4l5.4 5.4m0-5.4l-5.4 5.4M100.6 313.8l5.4 5.4m0-5.4l-5.4 5.4M166.3 252.6l5.4 5.4m0-5.4l-5.4 5.4M156 267.3l5.4 5.4m0-5.4l-5.4 5.4M104.7 283.7l5.4 5.4m0-5.4l-5.4 5.4M173.2 298.8l5.4 5.4m0-5.4l-5.4 5.4M165.1 306.7l5.4 5.4m0-5.4l-5.4 5.4M112.9 322.1l5.4 5.4m0-5.4l-5.4 5.4M126.5 283.9l5.4 5.4m0-5.4l-5.4 5.4M109 335.4l5.4 5.4m0-5.4l-5.4 5.4M164.5 302.6l5.4 5.4m0-5.4l-5.4 5.4M182 275.8l5.4 5.4m0-5.4l-5.4 5.4M130.3 276.3l5.4 5.4m0-5.4l-5.4 5.4M163.2 307.2l5.4 5.4m0-5.4l-5.4 5.4M96.5 277l5.4 5.4m0-5.4l-5.4 5.4M91.9 297.7l5.4 5.4m0-5.4l-5.4 5.4M82.1 289l5.4 5.4m0-5.4l-5.4 5.4M124 310.3l5.4 5.4m0-5.4l-5.4 5.4M172.7 269.2l5.4 5.4m0-5.4l-5.4 5.4M206 281.4l5.4 5.4m0-5.4l-5.4 5.4M100 307.4l5.4 5.4m0-5.4l-5.4 5.4M101.9 322.9l5.4 5.4m0-5.4l-5.4 5.4M104.7 291.2l5.4 5.4m0-5.4l-5.4 5.4M181.1 265.9l5.4 5.4m0-5.4l-5.4 5.4M157.3 313l5.4 5.4m0-5.4l-5.4 5.4M88.2 314.2l5.4 5.4m0-5.4l-5.4 5.4M111.5 263.7l5.4 5.4m0-5.4l-5.4 5.4M199.5 252.7l5.4 5.4m0-5.4l-5.4 5.4M186.3 259.2l5.4 5.4m0-5.4l-5.4 5.4M102 324.7l5.4 5.4m0-5.4l-5.4 5.4M85.6 325.3l5.4 5.4m0-5.4l-5.4 5.4M113.5 333.1l5.4 5.4m0-5.4l-5.4 5.4M102.9 290.5l5.4 5.4m0-5.4l-5.4 5.4M169.5 287.3l5.4 5.4m0-5.4l-5.4 5.4M201.7 284.1l5.4 5.4m0-5.4l-5.4 5.4M156.9 318l5.4 5.4m0-5.4l-5.4 5.4M112 305.7l5.4 5.4m0-5.4l-5.4 5.4M188.9 285.2l5.4 5.4m0-5.4l-5.4 5.4M85.9 272.8l5.4 5.4m0-5.4l-5.4 5.4M168.6 285l5.4 5.4m0-5.4l-5.4 5.4M200.6 293.5l5.4 5.4m0-5.4l-5.4 5.4M111 309.9l5.4 5.4m0-5.4l-5.4 5.4M128.7 290.2l5.4 5.4m0-5.4l-5.4 5.4M85.5 273.5l5.4 5.4m0-5.4l-5.4 5.4M77.2 314.3l5.4 5.4m0-5.4l-5.4 5.4M114.8 262.5l5.4 5.4m0-5.4l-5.4 5.4M170.1 302.9l5.4 5.4m0-5.4l-5.4 5.4M92.6 268l5.4 5.4m0-5.4l-5.4 5.4M127.1 286.9l5.4 5.4m0-5.4l-5.4 5.4M182.6 281.2l5.4 5.4m0-5.4l-5.4 5.4M179.3 249.6l5.4 5.4m0-5.4l-5.4 5.4M163.5 275.4l5.4 5.4m0-5.4l-5.4 5.4M110.5 312.4l5.4 5.4m0-5.4l-5.4 5.4M121 262.4l5.4 5.4m0-5.4l-5.4 5.4M151.5 311.9l5.4 5.4m0-5.4l-5.4 5.4M193.6 289.7l5.4 5.4m0-5.4l-5.4 5.4M204.1 277.1l5.4 5.4m0-5.4l-5.4 5.4M170.6 305.7l5.4 5.4m0-5.4l-5.4 5.4M205.8 293.2l5.4 5.4m0-5.4l-5.4 5.4M162.2 300.3l5.4 5.4m0-5.4l-5.4 5.4M120.3 299.3l5.4 5.4m0-5.4l-5.4 5.4M96.9 277.9l5.4 5.4m0-5.4l-5.4 5.4M134.7 255.8l5.4 5.4m0-5.4l-5.4 5.4M183.8 267.6l5.4 5.4m0-5.4l-5.4 5.4M118.1 289.8l5.4 5.4m0-5.4l-5.4 5.4M80.9 316.5l5.4 5.4m0-5.4l-5.4 5.4M108.9 285.9l5.4 5.4m0-5.4l-5.4 5.4M165.4 277.5l5.4 5.4m0-5.4l-5.4 5.4M112.1 306l5.4 5.4m0-5.4l-5.4 5.4M121.5 310.7l5.4 5.4m0-5.4l-5.4 5.4M98.2 291.9l5.4 5.4m0-5.4l-5.4 5.4M90.3 307.5l5.4 5.4m0-5.4l-5.4 5.4M84.2 320.1l5.4 5.4m0-5.4l-5.4 5.4M142.1 307.3l5.4 5.4m0-5.4l-5.4 5.4M61.5 351.5l5.4 5.4m0-5.4l-5.4 5.4M69.7 368.4l5.4 5.4m0-5.4l-5.4 5.4M69.8 350.2l5.4 5.4m0-5.4l-5.4 5.4M83.6 358.8l5.4 5.4m0-5.4l-5.4 5.4M81.7 350l5.4 5.4m0-5.4l-5.4 5.4M92 359.7l5.4 5.4m0-5.4l-5.4 5.4M89.2 353.4l5.4 5.4m0-5.4l-5.4 5.4M76.2 369.9l5.4 5.4m0-5.4l-5.4 5.4M67.9 359.7l5.4 5.4m0-5.4l-5.4 5.4M92.8 356l5.4 5.4m0-5.4l-5.4 5.4M87.5 356.8l5.4 5.4m0-5.4l-5.4 5.4M79.8 361.9l5.4 5.4m0-5.4l-5.4 5.4M91.3 346.7l5.4 5.4m0-5.4l-5.4 5.4M80.1 333.5l5.4 5.4m0-5.4l-5.4 5.4M77.8 347.9l5.4 5.4m0-5.4l-5.4 5.4M84.4 348.6l5.4 5.4m0-5.4l-5.4 5.4M79.6 356.9l5.4 5.4m0-5.4l-5.4 5.4M64.7 360.5l5.4 5.4m0-5.4l-5.4 5.4M93.5 343.1l5.4 5.4m0-5.4l-5.4 5.4M60 362.2l5.4 5.4m0-5.4l-5.4 5.4M79.9 346.9l5.4 5.4m0-5.4l-5.4 5.4M93.9 335.8l5.4 5.4m0-5.4l-5.4 5.4M92.8 353.1l5.4 5.4m0-5.4l-5.4 5.4M81.5 338.7l5.4 5.4m0-5.4l-5.4 5.4M87.3 337.2l5.4 5.4m0-5.4l-5.4 5.4M88.2 355.1l5.4 5.4m0-5.4l-5.4 5.4M87.3 342.8l5.4 5.4m0-5.4l-5.4 5.4M93.1 355.8l5.4 5.4m0-5.4l-5.4 5.4M81.1 330.3l5.4 5.4m0-5.4l-5.4 5.4M86.1 338.1l5.4 5.4m0-5.4l-5.4 5.4M64.5 363.7l5.4 5.4m0-5.4l-5.4 5.4M70.6 340.2l5.4 5.4m0-5.4l-5.4 5.4M63.6 361.9l5.4 5.4m0-5.4l-5.4 5.4M69.1 345.1l5.4 5.4m0-5.4l-5.4 5.4M84.6 326.3l5.4 5.4m0-5.4l-5.4 5.4M67.4 367l5.4 5.4m0-5.4l-5.4 5.4M89.5 343.2l5.4 5.4m0-5.4l-5.4 5.4M91.6 337.2l5.4 5.4m0-5.4l-5.4 5.4M64 353.9l5.4 5.4m0-5.4l-5.4 5.4M67.1 349.8l5.4 5.4m0-5.4l-5.4 5.4M90.8 362.1l5.4 5.4m0-5.4l-5.4 5.4M72.9 329.7l5.4 5.4m0-5.4l-5.4 5.4M92.6 336.3l5.4 5.4m0-5.4l-5.4 5.4M72.1 341.3l5.4 5.4m0-5.4l-5.4 5.4M86.3 355l5.4 5.4m0-5.4l-5.4 5.4M76.1 366.9l5.4 5.4m0-5.4l-5.4 5.4M70.2 337.8l5.4 5.4m0-5.4l-5.4 5.4M74.5 337.4l5.4 5.4m0-5.4l-5.4 5.4M69.4 367l5.4 5.4m0-5.4l-5.4 5.4M82.8 358.9l5.4 5.4m0-5.4l-5.4 5.4M66.6 349.2l5.4 5.4m0-5.4l-5.4 5.4M76.8 328.9l5.4 5.4m0-5.4l-5.4 5.4M83.8 350.5l5.4 5.4m0-5.4l-5.4 5.4M74.9 342.7l5.4 5.4m0-5.4l-5.4 5.4M63.9 357l5.4 5.4m0-5.4l-5.4 5.4M80.6 326.6l5.4 5.4m0-5.4l-5.4 5.4M80.5 361.2l5.4 5.4m0-5.4l-5.4 5.4M93.3 333.4l5.4 5.4m0-5.4l-5.4 5.4M67.2 353.7l5.4 5.4m0-5.4l-5.4 5.4M84.6 334.3l5.4 5.4m0-5.4l-5.4 5.4M153.8 257.2l5.4 5.4m0-5.4l-5.4 5.4M90.5 265.1l5.4 5.4m0-5.4l-5.4 5.4M87.8 268.4l5.4 5.4m0-5.4l-5.4 5.4M178.9 255.7l5.4 5.4m0-5.4l-5.4 5.4M138.5 253.4l5.4 5.4m0-5.4l-5.4 5.4M104.3 268l5.4 5.4m0-5.4l-5.4 5.4M159.3 257.4l5.4 5.4m0-5.4l-5.4 5.4M104.5 267.7l5.4 5.4m0-5.4l-5.4 5.4M198.4 239.6l5.4 5.4m0-5.4l-5.4 5.4M99.6 260.6l5.4 5.4m0-5.4l-5.4 5.4M135.4 260.6l5.4 5.4m0-5.4l-5.4 5.4M116.3 254.7l5.4 5.4m0-5.4l-5.4 5.4M88.6 255.9l5.4 5.4m0-5.4l-5.4 5.4M120.4 261.4l5.4 5.4m0-5.4l-5.4 5.4M199.8 253.7l5.4 5.4m0-5.4l-5.4 5.4M101.9 263.1l5.4 5.4m0-5.4l-5.4 5.4M123.7 261l5.4 5.4m0-5.4l-5.4 5.4M156 240.3l5.4 5.4m0-5.4l-5.4 5.4M135.9 260.5l5.4 5.4m0-5.4l-5.4 5.4M130.9 245.5l5.4 5.4m0-5.4l-5.4 5.4M138 260.2l5.4 5.4m0-5.4l-5.4 5.4M116.1 264.4l5.4 5.4m0-5.4l-5.4 5.4M128.2 259.9l5.4 5.4m0-5.4l-5.4 5.4M166.5 246.7l5.4 5.4m0-5.4l-5.4 5.4M91.6 272.4l5.4 5.4m0-5.4l-5.4 5.4M184.6 241.1l5.4 5.4m0-5.4l-5.4 5.4M180.6 255.3l5.4 5.4m0-5.4l-5.4 5.4M169.2 257.1l5.4 5.4m0-5.4l-5.4 5.4M167.1 256.2l5.4 5.4m0-5.4l-5.4 5.4M186.8 241.9l5.4 5.4m0-5.4l-5.4 5.4M142.2 248.3l5.4 5.4m0-5.4l-5.4 5.4M199.3 239.7l5.4 5.4m0-5.4l-5.4 5.4M163.7 249.6l5.4 5.4m0-5.4l-5.4 5.4M128.9 251.3l5.4 5.4m0-5.4l-5.4 5.4M103.1 263.2l5.4 5.4m0-5.4l-5.4 5.4M96.4 271.4l5.4 5.4m0-5.4l-5.4 5.4M166.2 253.3l5.4 5.4m0-5.4l-5.4 5.4M111.1 244.2l5.4 5.4m0-5.4l-5.4 5.4M121 256.9l5.4 5.4m0-5.4l-5.4 5.4M144.9 258.7l5.4 5.4m0-5.4l-5.4 5.4M205.2 243l5.4 5.4m0-5.4l-5.4 5.4M193 252.8l5.4 5.4m0-5.4l-5.4 5.4M195.3 239.4l5.4 5.4m0-5.4l-5.4 5.4M199 253.5l5.4 5.4m0-5.4l-5.4 5.4M104.9 269l5.4 5.4m0-5.4l-5.4 5.4M97 257.5l5.4 5.4m0-5.4l-5.4 5.4M92.3 267.2l5.4 5.4m0-5.4l-5.4 5.4M128.7 249.9l5.4 5.4m0-5.4l-5.4 5.4M91.8 260.7l5.4 5.4m0-5.4l-5.4 5.4M200.9 252.1l5.4 5.4m0-5.4l-5.4 5.4M134.5 248.5l5.4 5.4m0-5.4l-5.4 5.4M122.8 246.9l5.4 5.4m0-5.4l-5.4 5.4M205.5 252.4l5.4 5.4m0-5.4l-5.4 5.4M142.5 259.3l5.4 5.4m0-5.4l-5.4 5.4M153 255.1l5.4 5.4m0-5.4l-5.4 5.4M202.6 243.9l5.4 5.4m0-5.4l-5.4 5.4M205 241.6l5.4 5.4m0-5.4l-5.4 5.4M185 252.4l5.4 5.4m0-5.4l-5.4 5.4M165.8 257.2l5.4 5.4m0-5.4l-5.4 5.4M127.9 243.4l5.4 5.4m0-5.4l-5.4 5.4M203.5 253.1l5.4 5.4m0-5.4l-5.4 5.4M145.5 255.6l5.4 5.4m0-5.4l-5.4 5.4M160.5 250.4l5.4 5.4m0-5.4l-5.4 5.4M117.5 246.3l5.4 5.4m0-5.4l-5.4 5.4M140.1 247l5.4 5.4m0-5.4l-5.4 5.4M172.7 238.4l5.4 5.4m0-5.4l-5.4 5.4M147.9 251.5l5.4 5.4m0-5.4l-5.4 5.4M178.6 255l5.4 5.4m0-5.4l-5.4 5.4M91.6 257.9l5.4 5.4m0-5.4l-5.4 5.4M169.3 245.7l5.4 5.4m0-5.4l-5.4 5.4M237.4 262.6l5.4 5.4m0-5.4l-5.4 5.4M233.7 249.5l5.4 5.4m0-5.4l-5.4 5.4M238.9 286.3l5.4 5.4m0-5.4l-5.4 5.4M231.7 261.8l5.4 5.4m0-5.4l-5.4 5.4M220.6 262l5.4 5.4m0-5.4l-5.4 5.4M239.5 266.9l5.4 5.4m0-5.4l-5.4 5.4M232.6 276.2l5.4 5.4m0-5.4l-5.4 5.4M224.5 267.5l5.4 5.4m0-5.4l-5.4 5.4M231.5 280.8l5.4 5.4m0-5.4l-5.4 5.4M235 258.2l5.4 5.4m0-5.4l-5.4 5.4M228.3 263.1l5.4 5.4m0-5.4l-5.4 5.4M239.8 262.5l5.4 5.4m0-5.4l-5.4 5.4M226.6 253l5.4 5.4m0-5.4l-5.4 5.4M219.8 275.3l5.4 5.4m0-5.4l-5.4 5.4M233.4 272.4l5.4 5.4m0-5.4l-5.4 5.4M228.4 276.1l5.4 5.4m0-5.4l-5.4 5.4M231.5 272.3l5.4 5.4m0-5.4l-5.4 5.4M239.3 272.4l5.4 5.4m0-5.4l-5.4 5.4M224 259l5.4 5.4m0-5.4l-5.4 5.4M232.4 265.9l5.4 5.4m0-5.4l-5.4 5.4M220.9 247.5l5.4 5.4m0-5.4l-5.4 5.4M226.6 257.8l5.4 5.4m0-5.4l-5.4 5.4M237.2 277.4l5.4 5.4m0-5.4l-5.4 5.4M232.2 278.6l5.4 5.4m0-5.4l-5.4 5.4M241.8 255l5.4 5.4m0-5.4l-5.4 5.4M237.6 265.5l5.4 5.4m0-5.4l-5.4 5.4M221.9 268.3l5.4 5.4m0-5.4l-5.4 5.4M236.4 269.7l5.4 5.4m0-5.4l-5.4 5.4M236.9 252.2l5.4 5.4m0-5.4l-5.4 5.4M241.4 279.8l5.4 5.4m0-5.4l-5.4 5.4M229.6 254.8l5.4 5.4m0-5.4l-5.4 5.4M231 259.5l5.4 5.4m0-5.4l-5.4 5.4M227.8 290.8l5.4 5.4m0-5.4l-5.4 5.4M235.4 285.3l5.4 5.4m0-5.4l-5.4 5.4M229 258l5.4 5.4m0-5.4l-5.4 5.4M219 247.2l5.4 5.4m0-5.4l-5.4 5.4M222.1 235.6l5.4 5.4m0-5.4l-5.4 5.4M240.6 255.6l5.4 5.4m0-5.4l-5.4 5.4M235.1 270.8l5.4 5.4m0-5.4l-5.4 5.4M227.1 273l5.4 5.4m0-5.4l-5.4 5.4M220.8 242l5.4 5.4m0-5.4l-5.4 5.4M219.2 275.6l5.4 5.4m0-5.4l-5.4 5.4M231.5 259.5l5.4 5.4m0-5.4l-5.4 5.4M226.3 268.6l5.4 5.4m0-5.4l-5.4 5.4M239.8 283.9l5.4 5.4m0-5.4l-5.4 5.4M224.2 257.8l5.4 5.4m0-5.4l-5.4 5.4M238.9 280l5.4 5.4m0-5.4l-5.4 5.4M229.5 285.6l5.4 5.4m0-5.4l-5.4 5.4M231 269.4l5.4 5.4m0-5.4l-5.4 5.4M223.1 262.3l5.4 5.4m0-5.4l-5.4 5.4M230.1 268.5l5.4 5.4m0-5.4l-5.4 5.4M219.2 264.9l5.4 5.4m0-5.4l-5.4 5.4M235.2 278.8l5.4 5.4m0-5.4l-5.4 5.4M226.1 251.6l5.4 5.4m0-5.4l-5.4 5.4M235.5 288.9l5.4 5.4m0-5.4l-5.4 5.4M224.1 258.7l5.4 5.4m0-5.4l-5.4 5.4M239.1 251.9l5.4 5.4m0-5.4l-5.4 5.4M242 243.6l5.4 5.4m0-5.4l-5.4 5.4M221 275.5l5.4 5.4m0-5.4l-5.4 5.4M233.1 275.3l5.4 5.4m0-5.4l-5.4 5.4M220.8 257.8l5.4 5.4m0-5.4l-5.4 5.4M228.3 259.3l5.4 5.4m0-5.4l-5.4 5.4M235.1 260.7l5.4 5.4m0-5.4l-5.4 5.4M222.9 264.1l5.4 5.4m0-5.4l-5.4 5.4M223.7 268.2l5.4 5.4m0-5.4l-5.4 5.4M233.3 274.9l5.4 5.4m0-5.4l-5.4 5.4M232.2 270.4l5.4 5.4m0-5.4l-5.4 5.4M235.7 274l5.4 5.4m0-5.4l-5.4 5.4M221.8 246.1l5.4 5.4m0-5.4l-5.4 5.4M237.7 275.1l5.4 5.4m0-5.4l-5.4 5.4M228.2 287.4l5.4 5.4m0-5.4l-5.4 5.4M237.6 281.6l5.4 5.4m0-5.4l-5.4 5.4M219.9 235.8l5.4 5.4m0-5.4l-5.4 5.4M219.7 249.3l5.4 5.4m0-5.4l-5.4 5.4M224.7 252.3l5.4 5.4m0-5.4l-5.4 5.4M240.2 263.9l5.4 5.4m0-5.4l-5.4 5.4M237.3 282.5l5.4 5.4m0-5.4l-5.4 5.4M227.6 242.3l5.4 5.4m0-5.4l-5.4 5.4M229.1 269l5.4 5.4m0-5.4l-5.4 5.4M233 265.5l5.4 5.4m0-5.4l-5.4 5.4M241 291.2l5.4 5.4m0-5.4l-5.4 5.4M226.2 264.6l5.4 5.4m0-5.4l-5.4 5.4M239 251.8l5.4 5.4m0-5.4l-5.4 5.4M224.2 274.7l5.4 5.4m0-5.4l-5.4 5.4M229.4 259.2l5.4 5.4m0-5.4l-5.4 5.4M236.3 278l5.4 5.4m0-5.4l-5.4 5.4M225.5 260.3l5.4 5.4m0-5.4l-5.4 5.4M236.9 263.7l5.4 5.4m0-5.4l-5.4 5.4M223.5 250.8l5.4 5.4m0-5.4l-5.4 5.4M229.5 246.4l5.4 5.4m0-5.4l-5.4 5.4M229.6 258.2l5.4 5.4m0-5.4l-5.4 5.4M233.7 256.3l5.4 5.4m0-5.4l-5.4 5.4M241 256.1l5.4 5.4m0-5.4l-5.4 5.4M233.8 251.8l5.4 5.4m0-5.4l-5.4 5.4M220.8 268.2l5.4 5.4m0-5.4l-5.4 5.4M237.9 265.8l5.4 5.4m0-5.4l-5.4 5.4M221 266.8l5.4 5.4m0-5.4l-5.4 5.4M235.5 253.8l5.4 5.4m0-5.4l-5.4 5.4M235 266.8l5.4 5.4m0-5.4l-5.4 5.4M227.9 257.1l5.4 5.4m0-5.4l-5.4 5.4M223.1 277.3l5.4 5.4m0-5.4l-5.4 5.4M237.7 266.7l5.4 5.4m0-5.4l-5.4 5.4M228.6 236.8l5.4 5.4m0-5.4l-5.4 5.4M224.1 261.4l5.4 5.4m0-5.4l-5.4 5.4M242 258.6l5.4 5.4m0-5.4l-5.4 5.4M219.7 240.3l5.4 5.4m0-5.4l-5.4 5.4M237.9 272.3l5.4 5.4m0-5.4l-5.4 5.4M224.4 236.1l5.4 5.4m0-5.4l-5.4 5.4M224.1 262.8l5.4 5.4m0-5.4l-5.4 5.4M225.9 259.4l5.4 5.4m0-5.4l-5.4 5.4M221.5 259.6l5.4 5.4m0-5.4l-5.4 5.4M229.8 244.5l5.4 5.4m0-5.4l-5.4 5.4M236.8 269.4l5.4 5.4m0-5.4l-5.4 5.4M237.3 286.1l5.4 5.4m0-5.4l-5.4 5.4M235.8 252.9l5.4 5.4m0-5.4l-5.4 5.4M239.5 282.9l5.4 5.4m0-5.4l-5.4 5.4M237.9 264.4l5.4 5.4m0-5.4l-5.4 5.4M232.1 258.3l5.4 5.4m0-5.4l-5.4 5.4M228.1 260l5.4 5.4m0-5.4l-5.4 5.4M235 262l5.4 5.4m0-5.4l-5.4 5.4M225 271.4l5.4 5.4m0-5.4l-5.4 5.4M226.9 277.3l5.4 5.4m0-5.4l-5.4 5.4M226.1 271.9l5.4 5.4m0-5.4l-5.4 5.4M230.7 240.9l5.4 5.4m0-5.4l-5.4 5.4M225.8 286l5.4 5.4m0-5.4l-5.4 5.4M239.4 251.7l5.4 5.4m0-5.4l-5.4 5.4M239.9 276.8l5.4 5.4m0-5.4l-5.4 5.4M221 255.3l5.4 5.4m0-5.4l-5.4 5.4M220.9 276.3l5.4 5.4m0-5.4l-5.4 5.4M223.9 255l5.4 5.4m0-5.4l-5.4 5.4M240.7 277.5l5.4 5.4m0-5.4l-5.4 5.4M220.4 285.9l5.4 5.4m0-5.4l-5.4 5.4M219 271.7l5.4 5.4m0-5.4l-5.4 5.4M229.5 251.1l5.4 5.4m0-5.4l-5.4 5.4M220.9 265.7l5.4 5.4m0-5.4l-5.4 5.4M241.6 266.2l5.4 5.4m0-5.4l-5.4 5.4M226.9 266.1l5.4 5.4m0-5.4l-5.4 5.4M225.5 287.3l5.4 5.4m0-5.4l-5.4 5.4M239.3 239.3l5.4 5.4m0-5.4l-5.4 5.4M227.7 265.6l5.4 5.4m0-5.4l-5.4 5.4M221.5 282.3l5.4 5.4m0-5.4l-5.4 5.4M237.4 271.3l5.4 5.4m0-5.4l-5.4 5.4M230.1 270.8l5.4 5.4m0-5.4l-5.4 5.4M229.3 251.5l5.4 5.4m0-5.4l-5.4 5.4M241.8 269.7l5.4 5.4m0-5.4l-5.4 5.4M240.2 261.8l5.4 5.4m0-5.4l-5.4 5.4M223.3 266.1l5.4 5.4m0-5.4l-5.4 5.4M229.6 275.8l5.4 5.4m0-5.4l-5.4 5.4M241.3 262.7l5.4 5.4m0-5.4l-5.4 5.4M233.2 256.3l5.4 5.4m0-5.4l-5.4 5.4M225.5 267.5l5.4 5.4m0-5.4l-5.4 5.4M240.4 255.8l5.4 5.4m0-5.4l-5.4 5.4M225.8 273.2l5.4 5.4m0-5.4l-5.4 5.4M230.4 240.8l5.4 5.4m0-5.4l-5.4 5.4M221 271.1l5.4 5.4m0-5.4l-5.4 5.4M233 261.6l5.4 5.4m0-5.4l-5.4 5.4M221.9 252l5.4 5.4m0-5.4l-5.4 5.4M219.6 257.4l5.4 5.4m0-5.4l-5.4 5.4M228.7 285.2l5.4 5.4m0-5.4l-5.4 5.4M236.5 263.2l5.4 5.4m0-5.4l-5.4 5.4M234.7 259.4l5.4 5.4m0-5.4l-5.4 5.4M227.4 262.4l5.4 5.4m0-5.4l-5.4 5.4M236.9 264.8l5.4 5.4m0-5.4l-5.4 5.4M224.7 253.9l5.4 5.4m0-5.4l-5.4 5.4M226.3 263.6l5.4 5.4m0-5.4l-5.4 5.4M238.1 286.9l5.4 5.4m0-5.4l-5.4 5.4M225.6 276.6l5.4 5.4m0-5.4l-5.4 5.4M238.6 258.9l5.4 5.4m0-5.4l-5.4 5.4M241.6 275.7l5.4 5.4m0-5.4l-5.4 5.4M225.1 259.6l5.4 5.4m0-5.4l-5.4 5.4M260.9 254.7l5.4 5.4m0-5.4l-5.4 5.4M287.6 254l5.4 5.4m0-5.4l-5.4 5.4M273.8 262.2l5.4 5.4m0-5.4l-5.4 5.4M263.7 264.9l5.4 5.4m0-5.4l-5.4 5.4M267.1 276.7l5.4 5.4m0-5.4l-5.4 5.4M279.3 279.9l5.4 5.4m0-5.4l-5.4 5.4M258.5 277.8l5.4 5.4m0-5.4l-5.4 5.4M285.8 272.5l5.4 5.4m0-5.4l-5.4 5.4M267.1 259.7l5.4 5.4m0-5.4l-5.4 5.4M261.6 270l5.4 5.4m0-5.4l-5.4 5.4M285.4 274.8l5.4 5.4m0-5.4l-5.4 5.4M277.5 282l5.4 5.4m0-5.4l-5.4 5.4M259.4 282.9l5.4 5.4m0-5.4l-5.4 5.4M262.2 271.4l5.4 5.4m0-5.4l-5.4 5.4M277.6 261.1l5.4 5.4m0-5.4l-5.4 5.4M278.3 258.5l5.4 5.4m0-5.4l-5.4 5.4M261.5 287.6l5.4 5.4m0-5.4l-5.4 5.4M288.8 259.5l5.4 5.4m0-5.4l-5.4 5.4M286.4 253.8l5.4 5.4m0-5.4l-5.4 5.4M288.5 278.5l5.4 5.4m0-5.4l-5.4 5.4M271.3 255.7l5.4 5.4m0-5.4l-5.4 5.4M269.4 284.2l5.4 5.4m0-5.4l-5.4 5.4M289.3 261.6l5.4 5.4m0-5.4l-5.4 5.4M288.3 248.8l5.4 5.4m0-5.4l-5.4 5.4M274.1 260.9l5.4 5.4m0-5.4l-5.4 5.4M285.1 273.2l5.4 5.4m0-5.4l-5.4 5.4M279.5 272.5l5.4 5.4m0-5.4l-5.4 5.4M268.1 275.8l5.4 5.4m0-5.4l-5.4 5.4M260.3 278.6l5.4 5.4m0-5.4l-5.4 5.4M257 261.7l5.4 5.4m0-5.4l-5.4 5.4M266.4 279.7l5.4 5.4m0-5.4l-5.4 5.4M277.8 263.5l5.4 5.4m0-5.4l-5.4 5.4M281.9 256.8l5.4 5.4m0-5.4l-5.4 5.4M282.4 273.5l5.4 5.4m0-5.4l-5.4 5.4M269 269.1l5.4 5.4m0-5.4l-5.4 5.4M262.3 260.1l5.4 5.4m0-5.4l-5.4 5.4M261.9 270.9l5.4 5.4m0-5.4l-5.4 5.4M269.4 265.6l5.4 5.4m0-5.4l-5.4 5.4M274.9 254.8l5.4 5.4m0-5.4l-5.4 5.4M290.8 266.3l5.4 5.4m0-5.4l-5.4 5.4M274.1 262.5l5.4 5.4m0-5.4l-5.4 5.4M275.9 253.1l5.4 5.4m0-5.4l-5.4 5.4M281.2 258l5.4 5.4m0-5.4l-5.4 5.4M281.2 257.1l5.4 5.4m0-5.4l-5.4 5.4M285.6 283.4l5.4 5.4m0-5.4l-5.4 5.4M286.8 253.2l5.4 5.4m0-5.4l-5.4 5.4M277.8 285l5.4 5.4m0-5.4l-5.4 5.4M288.4 283.9l5.4 5.4m0-5.4l-5.4 5.4M275.3 259.4l5.4 5.4m0-5.4l-5.4 5.4M258.2 254.8l5.4 5.4m0-5.4l-5.4 5.4M268 255.9l5.4 5.4m0-5.4l-5.4 5.4M283.8 284.5l5.4 5.4m0-5.4l-5.4 5.4M283.3 256.8l5.4 5.4m0-5.4l-5.4 5.4M281.1 270.9l5.4 5.4m0-5.4l-5.4 5.4M258 280.4l5.4 5.4m0-5.4l-5.4 5.4M274.2 281l5.4 5.4m0-5.4l-5.4 5.4M261.5 276.6l5.4 5.4m0-5.4l-5.4 5.4M260.5 272.3l5.4 5.4m0-5.4l-5.4 5.4M263.6 259.2l5.4 5.4m0-5.4l-5.4 5.4M290.1 272.5l5.4 5.4m0-5.4l-5.4 5.4M275.2 256.5l5.4 5.4m0-5.4l-5.4 5.4M270.8 259.1l5.4 5.4m0-5.4l-5.4 5.4M268.9 246l5.4 5.4m0-5.4l-5.4 5.4M257.1 257.7l5.4 5.4m0-5.4l-5.4 5.4M274.5 264.2l5.4 5.4m0-5.4l-5.4 5.4M262.1 276.7l5.4 5.4m0-5.4l-5.4 5.4M287.2 262.5l5.4 5.4m0-5.4l-5.4 5.4M284.4 262.1l5.4 5.4m0-5.4l-5.4 5.4M265 255.8l5.4 5.4m0-5.4l-5.4 5.4M291.9 277l5.4 5.4m0-5.4l-5.4 5.4M284.2 266.9l5.4 5.4m0-5.4l-5.4 5.4M286.7 270.6l5.4 5.4m0-5.4l-5.4 5.4M266.8 278.1l5.4 5.4m0-5.4l-5.4 5.4M284.2 267l5.4 5.4m0-5.4l-5.4 5.4M280.7 267.4l5.4 5.4m0-5.4l-5.4 5.4M287.2 263.2l5.4 5.4m0-5.4l-5.4 5.4M287.1 276.5l5.4 5.4m0-5.4l-5.4 5.4M281.7 284.2l5.4 5.4m0-5.4l-5.4 5.4M275.7 268.9l5.4 5.4m0-5.4l-5.4 5.4M286.2 272.3l5.4 5.4m0-5.4l-5.4 5.4M266.5 280.4l5.4 5.4m0-5.4l-5.4 5.4M261.1 278.1l5.4 5.4m0-5.4l-5.4 5.4M272.3 263.9l5.4 5.4m0-5.4l-5.4 5.4M263.9 266.3l5.4 5.4m0-5.4l-5.4 5.4M280.4 268.2l5.4 5.4m0-5.4l-5.4 5.4M269.7 281.3l5.4 5.4m0-5.4l-5.4 5.4M278.6 265.1l5.4 5.4m0-5.4l-5.4 5.4M267.6 246.6l5.4 5.4m0-5.4l-5.4 5.4M285.5 282.1l5.4 5.4m0-5.4l-5.4 5.4M275.4 279.7l5.4 5.4m0-5.4l-5.4 5.4M277.4 287.6l5.4 5.4m0-5.4l-5.4 5.4M271.3 256.9l5.4 5.4m0-5.4l-5.4 5.4M290.8 258.6l5.4 5.4m0-5.4l-5.4 5.4M288.9 258.6l5.4 5.4m0-5.4l-5.4 5.4M273.3 248.8l5.4 5.4m0-5.4l-5.4 5.4M256.5 268.5l5.4 5.4m0-5.4l-5.4 5.4M279.2 272.4l5.4 5.4m0-5.4l-5.4 5.4M271.9 268.2l5.4 5.4m0-5.4l-5.4 5.4M265.3 259.6l5.4 5.4m0-5.4l-5.4 5.4M276.3 261.8l5.4 5.4m0-5.4l-5.4 5.4M269.1 274.8l5.4 5.4m0-5.4l-5.4 5.4M268.5 285.2l5.4 5.4m0-5.4l-5.4 5.4M266.4 272.2l5.4 5.4m0-5.4l-5.4 5.4M262 250.4l5.4 5.4m0-5.4l-5.4 5.4M259.5 250.1l5.4 5.4m0-5.4l-5.4 5.4M278.1 253.7l5.4 5.4m0-5.4l-5.4 5.4M261.4 292.8l5.4 5.4m0-5.4l-5.4 5.4M273 256.8l5.4 5.4m0-5.4l-5.4 5.4M259 291l5.4 5.4m0-5.4l-5.4 5.4M269.4 247.5l5.4 5.4m0-5.4l-5.4 5.4M258.1 274l5.4 5.4m0-5.4l-5.4 5.4M264.5 279.7l5.4 5.4m0-5.4l-5.4 5.4M267 279.7l5.4 5.4m0-5.4l-5.4 5.4M277.5 259.4l5.4 5.4m0-5.4l-5.4 5.4M266.4 278.9l5.4 5.4m0-5.4l-5.4 5.4M267.6 278.3l5.4 5.4m0-5.4l-5.4 5.4M290.1 258.7l5.4 5.4m0-5.4l-5.4 5.4M258.1 260.8l5.4 5.4m0-5.4l-5.4 5.4M287.2 272.9l5.4 5.4m0-5.4l-5.4 5.4M291.6 273.6l5.4 5.4m0-5.4l-5.4 5.4M273.2 243l5.4 5.4m0-5.4l-5.4 5.4M283 275.2l5.4 5.4m0-5.4l-5.4 5.4M260.7 280.1l5.4 5.4m0-5.4l-5.4 5.4M267.2 279.1l5.4 5.4m0-5.4l-5.4 5.4M259.8 267l5.4 5.4m0-5.4l-5.4 5.4M266.9 255.1l5.4 5.4m0-5.4l-5.4 5.4M279.1 246.5l5.4 5.4m0-5.4l-5.4 5.4M265.2 262.5l5.4 5.4m0-5.4l-5.4 5.4M289.1 260.6l5.4 5.4m0-5.4l-5.4 5.4M259.6 265.1l5.4 5.4m0-5.4l-5.4 5.4M260.2 265.2l5.4 5.4m0-5.4l-5.4 5.4M283.8 278l5.4 5.4m0-5.4l-5.4 5.4M276.9 255.8l5.4 5.4m0-5.4l-5.4 5.4M257.7 251.9l5.4 5.4m0-5.4l-5.4 5.4M275 266.7l5.4 5.4m0-5.4l-5.4 5.4M271.8 266.6l5.4 5.4m0-5.4l-5.4 5.4M283.6 258.7l5.4 5.4m0-5.4l-5.4 5.4M257 279.5l5.4 5.4m0-5.4l-5.4 5.4M257.8 274.5l5.4 5.4m0-5.4l-5.4 5.4M284.1 275.7l5.4 5.4m0-5.4l-5.4 5.4M264.4 254.3l5.4 5.4m0-5.4l-5.4 5.4M274.9 263.9l5.4 5.4m0-5.4l-5.4 5.4M291 286.4l5.4 5.4m0-5.4l-5.4 5.4M266.4 268.6l5.4 5.4m0-5.4l-5.4 5.4M258.9 248.5l5.4 5.4m0-5.4l-5.4 5.4M283 266.5l5.4 5.4m0-5.4l-5.4 5.4M280.9 266.6l5.4 5.4m0-5.4l-5.4 5.4M271.1 264.1l5.4 5.4m0-5.4l-5.4 5.4M273.2 265.3l5.4 5.4m0-5.4l-5.4 5.4M277.9 265.1l5.4 5.4m0-5.4l-5.4 5.4M266 275.7l5.4 5.4m0-5.4l-5.4 5.4M271.1 281.1l5.4 5.4m0-5.4l-5.4 5.4M267.8 275.5l5.4 5.4m0-5.4l-5.4 5.4M262 279.5l5.4 5.4m0-5.4l-5.4 5.4M291.6 269.8l5.4 5.4m0-5.4l-5.4 5.4M286.5 260.1l5.4 5.4m0-5.4l-5.4 5.4M284.8 262.5l5.4 5.4m0-5.4l-5.4 5.4M288.6 258.7l5.4 5.4m0-5.4l-5.4 5.4M289.8 279.9l5.4 5.4m0-5.4l-5.4 5.4M256.8 262.2l5.4 5.4m0-5.4l-5.4 5.4M287.6 261.2l5.4 5.4m0-5.4l-5.4 5.4M263.6 279l5.4 5.4m0-5.4l-5.4 5.4M260.1 285.2l5.4 5.4m0-5.4l-5.4 5.4M272.2 270.9l5.4 5.4m0-5.4l-5.4 5.4M283.4 257l5.4 5.4m0-5.4l-5.4 5.4M283.3 252.9l5.4 5.4m0-5.4l-5.4 5.4M267.8 256.4l5.4 5.4m0-5.4l-5.4 5.4M265.3 285.3l5.4 5.4m0-5.4l-5.4 5.4M277.8 280l5.4 5.4m0-5.4l-5.4 5.4M263.2 267.5l5.4 5.4m0-5.4l-5.4 5.4M268.2 248.1l5.4 5.4m0-5.4l-5.4 5.4M277.4 263.9l5.4 5.4m0-5.4l-5.4 5.4M285.3 275.2l5.4 5.4m0-5.4l-5.4 5.4M266.1 284.3l5.4 5.4m0-5.4l-5.4 5.4M284.5 257.3l5.4 5.4m0-5.4l-5.4 5.4M262.7 282.1l5.4 5.4m0-5.4l-5.4 5.4M269.7 256.1l5.4 5.4m0-5.4l-5.4 5.4M273.9 273.1l5.4 5.4m0-5.4l-5.4 5.4M269.7 281.5l5.4 5.4m0-5.4l-5.4 5.4M267.4 262.7l5.4 5.4m0-5.4l-5.4 5.4M266 277.6l5.4 5.4m0-5.4l-5.4 5.4M262 268.5l5.4 5.4m0-5.4l-5.4 5.4M282.5 260.4l5.4 5.4m0-5.4l-5.4 5.4M283.9 254.1l5.4 5.4m0-5.4l-5.4 5.4M257.7 277.5l5.4 5.4m0-5.4l-5.4 5.4M272.1 274.4l5.4 5.4m0-5.4l-5.4 5.4M264.4 283.8l5.4 5.4m0-5.4l-5.4 5.4M260.7 288.6l5.4 5.4m0-5.4l-5.4 5.4M286.4 275l5.4 5.4m0-5.4l-5.4 5.4M277 279.2l5.4 5.4m0-5.4l-5.4 5.4M285 271.3l5.4 5.4m0-5.4l-5.4 5.4M282.2 269.9l5.4 5.4m0-5.4l-5.4 5.4M274.7 264.7l5.4 5.4m0-5.4l-5.4 5.4M282.7 253.6l5.4 5.4m0-5.4l-5.4 5.4M271.9 286.7l5.4 5.4m0-5.4l-5.4 5.4M267 278.2l5.4 5.4m0-5.4l-5.4 5.4M267.5 276.5l5.4 5.4m0-5.4l-5.4 5.4M263.6 270.8l5.4 5.4m0-5.4l-5.4 5.4M269.2 251.3l5.4 5.4m0-5.4l-5.4 5.4M270.4 244.6l5.4 5.4m0-5.4l-5.4 5.4M276.5 281l5.4 5.4m0-5.4l-5.4 5.4M281 275.8l5.4 5.4m0-5.4l-5.4 5.4M264.6 273.1l5.4 5.4m0-5.4l-5.4 5.4M270.4 289.9l5.4 5.4m0-5.4l-5.4 5.4M284.5 262.9l5.4 5.4m0-5.4l-5.4 5.4M278.4 286l5.4 5.4m0-5.4l-5.4 5.4M277.8 285.1l5.4 5.4m0-5.4l-5.4 5.4M292 268.1l5.4 5.4m0-5.4l-5.4 5.4M272.2 261.6l5.4 5.4m0-5.4l-5.4 5.4M257.6 258l5.4 5.4m0-5.4l-5.4 5.4M286.2 287.6l5.4 5.4m0-5.4l-5.4 5.4M273.3 284.2l5.4 5.4m0-5.4l-5.4 5.4M261.5 282.4l5.4 5.4m0-5.4l-5.4 5.4M261.3 292.2l5.4 5.4m0-5.4l-5.4 5.4M281.5 267.9l5.4 5.4m0-5.4l-5.4 5.4M285.1 282.7l5.4 5.4m0-5.4l-5.4 5.4M289.6 290l5.4 5.4m0-5.4l-5.4 5.4M273.5 283.9l5.4 5.4m0-5.4l-5.4 5.4M286.3 257l5.4 5.4m0-5.4l-5.4 5.4M271.3 266l5.4 5.4m0-5.4l-5.4 5.4M82.1 250.8l5.4 5.4m0-5.4l-5.4 5.4M109.8 231.8l5.4 5.4m0-5.4l-5.4 5.4M113.1 237.8l5.4 5.4m0-5.4l-5.4 5.4M151.2 227.3l5.4 5.4m0-5.4l-5.4 5.4M139.9 244.8l5.4 5.4m0-5.4l-5.4 5.4M146.1 246.6l5.4 5.4m0-5.4l-5.4 5.4M179.1 239.5l5.4 5.4m0-5.4l-5.4 5.4M197.7 241.3l5.4 5.4m0-5.4l-5.4 5.4M224.5 215l5.4 5.4m0-5.4l-5.4 5.4M230.7 213.2l5.4 5.4m0-5.4l-5.4 5.4M228.6 218.5l5.4 5.4m0-5.4l-5.4 5.4M259.6 236l5.4 5.4m0-5.4l-5.4 5.4M278.2 237.8l5.4 5.4m0-5.4l-5.4 5.4M93.9 353.9l5.4 5.4m0-5.4l-5.4 5.4M97.2 363.4l5.4 5.4m0-5.4l-5.4 5.4M121.3 239.5l5.4 5.4m0-5.4l-5.4 5.4M226.6 223.8l5.4 5.4m0-5.4l-5.4 5.4M234.8 222l5.4 5.4m0-5.4l-5.4 5.4M80 267.6l5.4 5.4m0-5.4l-5.4 5.4M75.9 281.6l5.4 5.4m0-5.4l-5.4 5.4" stroke="#ff2b8e" stroke-width="0.8" fill="none" opacity="1.0" clip-path="url(#cd)"/>
<path d="M85.7 290.3h4.6m-2.3-2.3v4.6M93.3 275.1h4.6m-2.3-2.3v4.6M75.4 294.2h4.6m-2.3-2.3v4.6M92.1 275.5h4.6m-2.3-2.3v4.6M78.1 292.5h4.6m-2.3-2.3v4.6M89.4 286.4h4.6m-2.3-2.3v4.6M95.5 276.3h4.6m-2.3-2.3v4.6M81 290.5h4.6m-2.3-2.3v4.6M91.6 280.1h4.6m-2.3-2.3v4.6M73.7 297.3h4.6m-2.3-2.3v4.6M68.5 303.3h4.6m-2.3-2.3v4.6M72 303.9h4.6m-2.3-2.3v4.6M79.4 286.6h4.6m-2.3-2.3v4.6M87 290h4.6m-2.3-2.3v4.6M87.8 286.3h4.6m-2.3-2.3v4.6M68.1 303.7h4.6m-2.3-2.3v4.6M89.8 276.3h4.6m-2.3-2.3v4.6M97.9 280.9h4.6m-2.3-2.3v4.6M84 290.5h4.6m-2.3-2.3v4.6M81.8 286h4.6m-2.3-2.3v4.6M81.6 289.9h4.6m-2.3-2.3v4.6M91.5 270.4h4.6m-2.3-2.3v4.6M86.1 287.1h4.6m-2.3-2.3v4.6M71.2 301.7h4.6m-2.3-2.3v4.6M73.9 292.2h4.6m-2.3-2.3v4.6M88.8 289.2h4.6m-2.3-2.3v4.6M86 282.4h4.6m-2.3-2.3v4.6M94.3 276.9h4.6m-2.3-2.3v4.6M79.4 291.5h4.6m-2.3-2.3v4.6M81 284.4h4.6m-2.3-2.3v4.6M94.4 270h4.6m-2.3-2.3v4.6M99 279.5h4.6m-2.3-2.3v4.6M97.3 276.6h4.6m-2.3-2.3v4.6M76.1 293.3h4.6m-2.3-2.3v4.6M80.4 295.1h4.6m-2.3-2.3v4.6M98.2 278.7h4.6m-2.3-2.3v4.6M70.6 302h4.6m-2.3-2.3v4.6M93.6 271.2h4.6m-2.3-2.3v4.6M82.1 291.4h4.6m-2.3-2.3v4.6M72.4 293.4h4.6m-2.3-2.3v4.6M91.5 279.5h4.6m-2.3-2.3v4.6M88.8 278.8h4.6m-2.3-2.3v4.6M79.2 295.8h4.6m-2.3-2.3v4.6M91.1 274.1h4.6m-2.3-2.3v4.6M80.3 297.9h4.6m-2.3-2.3v4.6M78.1 290.1h4.6m-2.3-2.3v4.6M73.8 297.3h4.6m-2.3-2.3v4.6M91.9 277.6h4.6m-2.3-2.3v4.6M71.9 295.9h4.6m-2.3-2.3v4.6M89.3 281h4.6m-2.3-2.3v4.6M96.1 276.7h4.6m-2.3-2.3v4.6M83.8 289.6h4.6m-2.3-2.3v4.6M94.5 277.4h4.6m-2.3-2.3v4.6M75.5 297.6h4.6m-2.3-2.3v4.6M93.6 272h4.6m-2.3-2.3v4.6M73.8 291.5h4.6m-2.3-2.3v4.6M98.6 276.8h4.6m-2.3-2.3v4.6M92.5 272.8h4.6m-2.3-2.3v4.6M87.1 290.6h4.6m-2.3-2.3v4.6M68.1 296.9h4.6m-2.3-2.3v4.6M78.3 288.3h4.6m-2.3-2.3v4.6M94.5 270.5h4.6m-2.3-2.3v4.6M90.7 273.9h4.6m-2.3-2.3v4.6M93.4 269.3h4.6m-2.3-2.3v4.6M96.5 270.1h4.6m-2.3-2.3v4.6M78 287h4.6m-2.3-2.3v4.6M70.9 305.2h4.6m-2.3-2.3v4.6M94.9 274.5h4.6m-2.3-2.3v4.6M97.6 277h4.6m-2.3-2.3v4.6M70.1 306.5h4.6m-2.3-2.3v4.6M123.6 275.2h4.6m-2.3-2.3v4.6M106.9 276.5h4.6m-2.3-2.3v4.6M92.5 271.2h4.6m-2.3-2.3v4.6M101.6 279.6h4.6m-2.3-2.3v4.6M109 277.8h4.6m-2.3-2.3v4.6M109.1 275.9h4.6m-2.3-2.3v4.6M97.9 274h4.6m-2.3-2.3v4.6M103.1 278.4h4.6m-2.3-2.3v4.6M124.1 275.7h4.6m-2.3-2.3v4.6M117.9 275.3h4.6m-2.3-2.3v4.6M106.7 278.8h4.6m-2.3-2.3v4.6M110.4 275h4.6m-2.3-2.3v4.6M97.6 274.6h4.6m-2.3-2.3v4.6M108.6 274.2h4.6m-2.3-2.3v4.6M117.2 274.4h4.6m-2.3-2.3v4.6M106.4 277.9h4.6m-2.3-2.3v4.6M100.3 279.3h4.6m-2.3-2.3v4.6M102.7 279.8h4.6m-2.3-2.3v4.6M114.2 277h4.6m-2.3-2.3v4.6M118.2 275.6h4.6m-2.3-2.3v4.6M126.8 277.1h4.6m-2.3-2.3v4.6M113.8 277.3h4.6m-2.3-2.3v4.6M108.7 278.8h4.6m-2.3-2.3v4.6M102.5 278.8h4.6m-2.3-2.3v4.6M109.9 278h4.6m-2.3-2.3v4.6M111.3 276.3h4.6m-2.3-2.3v4.6M127.4 276.7h4.6m-2.3-2.3v4.6M127.6 278.6h4.6m-2.3-2.3v4.6M113.5 276.9h4.6m-2.3-2.3v4.6M107.7 277.9h4.6m-2.3-2.3v4.6M99.8 273h4.6m-2.3-2.3v4.6M93.9 272.8h4.6m-2.3-2.3v4.6M108.8 278.8h4.6m-2.3-2.3v4.6M102.4 274h4.6m-2.3-2.3v4.6M103.5 277.1h4.6m-2.3-2.3v4.6M106.4 276.4h4.6m-2.3-2.3v4.6M111.6 277.3h4.6m-2.3-2.3v4.6M95 279.7h4.6m-2.3-2.3v4.6M115.1 281.2h4.6m-2.3-2.3v4.6M110.2 279.2h4.6m-2.3-2.3v4.6M142.1 269.2h4.6m-2.3-2.3v4.6M136 270.6h4.6m-2.3-2.3v4.6M138.5 266.1h4.6m-2.3-2.3v4.6M141.8 264.6h4.6m-2.3-2.3v4.6M144 267.2h4.6m-2.3-2.3v4.6M136 265.8h4.6m-2.3-2.3v4.6M138.7 266.5h4.6m-2.3-2.3v4.6M137.1 268.3h4.6m-2.3-2.3v4.6M137.7 265.8h4.6m-2.3-2.3v4.6M143.9 268.8h4.6m-2.3-2.3v4.6M140 266.3h4.6m-2.3-2.3v4.6M142.3 268.9h4.6m-2.3-2.3v4.6M137.9 266h4.6m-2.3-2.3v4.6M138.3 267.5h4.6m-2.3-2.3v4.6M141.1 267h4.6m-2.3-2.3v4.6M144.2 269h4.6m-2.3-2.3v4.6M137.4 268.3h4.6m-2.3-2.3v4.6M143.5 264.5h4.6m-2.3-2.3v4.6M136.1 270.4h4.6m-2.3-2.3v4.6M137.6 264.8h4.6m-2.3-2.3v4.6M141.7 270.6h4.6m-2.3-2.3v4.6M142.6 264.3h4.6m-2.3-2.3v4.6M142.8 269h4.6m-2.3-2.3v4.6M142.8 269.7h4.6m-2.3-2.3v4.6M143.8 270.8h4.6m-2.3-2.3v4.6M159.4 274h4.6m-2.3-2.3v4.6M164.8 269.2h4.6m-2.3-2.3v4.6M161.1 271.4h4.6m-2.3-2.3v4.6M158.1 270.4h4.6m-2.3-2.3v4.6M154.9 268.3h4.6m-2.3-2.3v4.6M166.6 273h4.6m-2.3-2.3v4.6M160.3 270.7h4.6m-2.3-2.3v4.6M159.2 266.4h4.6m-2.3-2.3v4.6M157.1 271.5h4.6m-2.3-2.3v4.6M163.2 269.2h4.6m-2.3-2.3v4.6M158.2 276.1h4.6m-2.3-2.3v4.6M163.1 276.6h4.6m-2.3-2.3v4.6M164.9 278h4.6m-2.3-2.3v4.6M165.6 268.7h4.6m-2.3-2.3v4.6M160.8 267.1h4.6m-2.3-2.3v4.6M164.3 270.2h4.6m-2.3-2.3v4.6M157.6 276.5h4.6m-2.3-2.3v4.6M155.8 276.2h4.6m-2.3-2.3v4.6M163 269.7h4.6m-2.3-2.3v4.6M166.4 273.9h4.6m-2.3-2.3v4.6M159 267.2h4.6m-2.3-2.3v4.6M164.5 266.6h4.6m-2.3-2.3v4.6M154.4 265.3h4.6m-2.3-2.3v4.6M159.6 268h4.6m-2.3-2.3v4.6M157 270.8h4.6m-2.3-2.3v4.6M189.8 260.5h4.6m-2.3-2.3v4.6M189.4 266h4.6m-2.3-2.3v4.6M191.2 266.3h4.6m-2.3-2.3v4.6M190.4 261.8h4.6m-2.3-2.3v4.6M188.8 264.9h4.6m-2.3-2.3v4.6M190.1 260.1h4.6m-2.3-2.3v4.6M185.7 258.6h4.6m-2.3-2.3v4.6M187.1 259.3h4.6m-2.3-2.3v4.6M185.6 263.5h4.6m-2.3-2.3v4.6M185.4 266.5h4.6m-2.3-2.3v4.6M184.8 265.5h4.6m-2.3-2.3v4.6M187.9 262.6h4.6m-2.3-2.3v4.6M223 267.5h4.6m-2.3-2.3v4.6M233.9 274.3h4.6m-2.3-2.3v4.6M226.4 270.9h4.6m-2.3-2.3v4.6M239.6 277.3h4.6m-2.3-2.3v4.6M231.2 271.6h4.6m-2.3-2.3v4.6M229 270.8h4.6m-2.3-2.3v4.6M222.2 267.8h4.6m-2.3-2.3v4.6M223.3 269.9h4.6m-2.3-2.3v4.6M222.5 267.4h4.6m-2.3-2.3v4.6M239.2 276.1h4.6m-2.3-2.3v4.6M231.1 274.2h4.6m-2.3-2.3v4.6M231.5 271.9h4.6m-2.3-2.3v4.6M235.7 276.7h4.6m-2.3-2.3v4.6M241.2 276.6h4.6m-2.3-2.3v4.6M232.9 275.3h4.6m-2.3-2.3v4.6M235.5 274.7h4.6m-2.3-2.3v4.6M220.9 268.1h4.6m-2.3-2.3v4.6M221.1 269.6h4.6m-2.3-2.3v4.6M234.8 274h4.6m-2.3-2.3v4.6M227.5 272.3h4.6m-2.3-2.3v4.6M226.4 271.5h4.6m-2.3-2.3v4.6M232.3 274.2h4.6m-2.3-2.3v4.6M239.6 278.5h4.6m-2.3-2.3v4.6M225.5 269.8h4.6m-2.3-2.3v4.6M230 273.7h4.6m-2.3-2.3v4.6M228.8 272.5h4.6m-2.3-2.3v4.6M237.3 276.7h4.6m-2.3-2.3v4.6M234 273.8h4.6m-2.3-2.3v4.6M229.4 273.6h4.6m-2.3-2.3v4.6M231.8 274.5h4.6m-2.3-2.3v4.6M266.7 263.8h4.6m-2.3-2.3v4.6M264.6 263.6h4.6m-2.3-2.3v4.6M264.1 269.4h4.6m-2.3-2.3v4.6M260 264.3h4.6m-2.3-2.3v4.6M287.6 267.9h4.6m-2.3-2.3v4.6M270 267.5h4.6m-2.3-2.3v4.6M279.2 267.7h4.6m-2.3-2.3v4.6M273.9 265.5h4.6m-2.3-2.3v4.6M267.8 268.8h4.6m-2.3-2.3v4.6M279.9 265.5h4.6m-2.3-2.3v4.6M259.1 266.9h4.6m-2.3-2.3v4.6M286 265.9h4.6m-2.3-2.3v4.6M280.6 263.4h4.6m-2.3-2.3v4.6M265.5 267.1h4.6m-2.3-2.3v4.6M263.7 263.9h4.6m-2.3-2.3v4.6M277.7 264.1h4.6m-2.3-2.3v4.6M280 267.5h4.6m-2.3-2.3v4.6M281.7 267.9h4.6m-2.3-2.3v4.6M275.1 265.6h4.6m-2.3-2.3v4.6M283.8 268.1h4.6m-2.3-2.3v4.6M283.1 266.2h4.6m-2.3-2.3v4.6M279 269h4.6m-2.3-2.3v4.6" stroke="#3d8985" stroke-width="0.8" fill="none" opacity="1.0" clip-path="url(#cd)"/>
<rect x="55.9" y="208.6" width="258.0" height="167.9" fill="none" stroke="#333333" stroke-width="1.3"/>
<path d="M55.9 376.5v-3.2M76.5 376.5v-2.0M97.2 376.5v-3.2M117.8 376.5v-2.0M138.5 376.5v-3.2M159.1 376.5v-2.0M179.7 376.5v-3.2M200.4 376.5v-2.0M221.0 376.5v-3.2M241.7 376.5v-2.0M262.3 376.5v-3.2M282.9 376.5v-2.0M303.6 376.5v-3.2" stroke="#333333" stroke-width="1.1" fill="none"/>
<text x="55.9" y="387.6" font-size="10" fill="#1a1a1a" text-anchor="middle">0</text>
<text x="97.2" y="387.6" font-size="10" fill="#1a1a1a" text-anchor="middle">2</text>
<text x="138.5" y="387.6" font-size="10" fill="#1a1a1a" text-anchor="middle">4</text>
<text x="179.7" y="387.6" font-size="10" fill="#1a1a1a" text-anchor="middle">6</text>
<text x="221.0" y="387.6" font-size="10" fill="#1a1a1a" text-anchor="middle">8</text>
<text x="262.3" y="387.6" font-size="10" fill="#1a1a1a" text-anchor="middle">10</text>
<text x="303.6" y="387.6" font-size="10" fill="#1a1a1a" text-anchor="middle">12</text>
<path d="M55.9 372.0h1.3M55.9 365.8h1.3M55.9 361.4h1.3M55.9 358.0h1.3M55.9 355.3h1.3M55.9 352.9h1.3M55.9 350.9h1.3M55.9 349.1h1.3M55.9 347.5h3.2M55.9 336.9h1.3M55.9 330.7h1.3M55.9 326.4h1.3M55.9 323.0h1.3M55.9 320.2h1.3M55.9 317.8h1.3M55.9 315.8h1.3M55.9 314.0h1.3M55.9 312.4h3.2M55.9 301.8h1.3M55.9 295.7h1.3M55.9 291.3h1.3M55.9 287.9h1.3M55.9 285.1h1.3M55.9 282.8h1.3M55.9 280.7h1.3M55.9 278.9h1.3M55.9 277.3h3.2M55.9 266.8h1.3M55.9 260.6h1.3M55.9 256.2h1.3M55.9 252.8h1.3M55.9 250.0h1.3M55.9 247.7h1.3M55.9 245.6h1.3M55.9 243.8h1.3M55.9 242.2h3.2M55.9 231.7h1.3M55.9 225.5h1.3M55.9 221.1h1.3M55.9 217.7h1.3M55.9 214.9h1.3M55.9 212.6h1.3M55.9 210.6h1.3M55.9 208.8h1.3" stroke="#333333" stroke-width="1.0" fill="none"/>
<text x="52.3" y="245.8" font-size="10" fill="#1a1a1a" text-anchor="end">10<tspan font-size="7" dy="-4">1</tspan></text>
<text x="52.3" y="280.9" font-size="10" fill="#1a1a1a" text-anchor="end">10<tspan font-size="7" dy="-4">0</tspan></text>
<text x="52.3" y="316.0" font-size="10" fill="#1a1a1a" text-anchor="end">10<tspan font-size="7" dy="-4">−1</tspan></text>
<text x="52.3" y="351.1" font-size="10" fill="#1a1a1a" text-anchor="end">10<tspan font-size="7" dy="-4">−2</tspan></text>
<text x="66.0" y="225.2" font-size="11.7" fill="#1a1a1a" text-anchor="start">300 K</text>
<path d="M116.8 220.1h6m-3-3v6" stroke="#5f9f9c" stroke-width="0.9" fill="none" opacity="1.0"/>
<text x="133.6" y="225.2" font-size="11.7" fill="#1a1a1a" text-anchor="start">3ph</text>
<path d="M173.1 217.3l5.6 5.6m0-5.6l-5.6 5.6" stroke="#ff2b8e" stroke-width="0.9" fill="none" opacity="1.0"/>
<text x="188.8" y="225.2" font-size="11.7" fill="#1a1a1a" text-anchor="start">4ph</text>
<path d="M456.8 209.6V376.6" stroke="#a8a8a8" stroke-width="0.8" stroke-dasharray="3 2.2" fill="none"/>
<g clip-path="url(#ce)"><path d="M426 228.8L427.9 232.7L432 238L434.7 241.4L439.7 246.3L444.6 251.2L451.9 253.7L456.8 255.4L464.3 256.5L476.7 258.3L486.4 254.5L496.1 259.1L499.2 258L503.3 256.4L506.2 244.2L509.5 257.8L518.8 257.5L522.5 257.3L526.1 258.2L529.2 259L539.1 261.5L549.8 262.4L555.6 262.9L564.3 263.9L567.6 269.5L567.6 298.9L564.3 298.7L555.6 298.3L549.8 298L539.1 297.5L529.2 297L526.1 304.5L522.5 303.9L518.8 303.2L509.5 301.6L506.2 301L503.3 300.5L499.2 299.8L496.1 284.9L486.4 284.3L476.7 283.7L464.3 283L456.8 279.9L451.9 277.8L444.6 273.4L439.7 270.4L434.7 260.5L432 255.2L427.9 242.5L426 228.8Z" fill="#ff2b8e" opacity="1.0" filter="url(#bl)"/></g>
<g clip-path="url(#ce)"><path d="M583.8 294.6L593.2 293.7L602.6 293.7L602.6 309.3L593.2 323.3L583.8 318.7Z" fill="#ff2b8e" opacity="0.9" filter="url(#bl)"/></g>
<g clip-path="url(#ce)"><path d="M622.1 292.3L636.6 292.3L652.2 292.3L652.2 311.6L636.6 314L622.1 311.6Z" fill="#ff2b8e" opacity="0.9" filter="url(#bl)"/></g>
<path d="M498.2 294.7l4.8 4.8m0-4.8l-4.8 4.8M513.1 263.8l4.8 4.8m0-4.8l-4.8 4.8M477.7 270l4.8 4.8m0-4.8l-4.8 4.8M512.3 274.9l4.8 4.8m0-4.8l-4.8 4.8M563.5 267.8l4.8 4.8m0-4.8l-4.8 4.8M521.2 285.8l4.8 4.8m0-4.8l-4.8 4.8M430.3 241.8l4.8 4.8m0-4.8l-4.8 4.8M454.6 259.8l4.8 4.8m0-4.8l-4.8 4.8M516.4 260.6l4.8 4.8m0-4.8l-4.8 4.8M431 246.8l4.8 4.8m0-4.8l-4.8 4.8M471.4 272.7l4.8 4.8m0-4.8l-4.8 4.8M459.5 257.3l4.8 4.8m0-4.8l-4.8 4.8M488 266.5l4.8 4.8m0-4.8l-4.8 4.8M439.3 256.2l4.8 4.8m0-4.8l-4.8 4.8M513.6 295.6l4.8 4.8m0-4.8l-4.8 4.8M471.2 274.8l4.8 4.8m0-4.8l-4.8 4.8M502 295.4l4.8 4.8m0-4.8l-4.8 4.8M564 284.1l4.8 4.8m0-4.8l-4.8 4.8M555.7 295.9l4.8 4.8m0-4.8l-4.8 4.8M530.5 260.3l4.8 4.8m0-4.8l-4.8 4.8M485.8 271.4l4.8 4.8m0-4.8l-4.8 4.8M512 286.8l4.8 4.8m0-4.8l-4.8 4.8M457.9 254.7l4.8 4.8m0-4.8l-4.8 4.8M515.1 277.9l4.8 4.8m0-4.8l-4.8 4.8M488.6 259.3l4.8 4.8m0-4.8l-4.8 4.8M528.9 284.7l4.8 4.8m0-4.8l-4.8 4.8M467.4 270.5l4.8 4.8m0-4.8l-4.8 4.8M430.4 247.1l4.8 4.8m0-4.8l-4.8 4.8M439 253l4.8 4.8m0-4.8l-4.8 4.8M470.3 273.1l4.8 4.8m0-4.8l-4.8 4.8M453.8 271.7l4.8 4.8m0-4.8l-4.8 4.8M455.4 255.1l4.8 4.8m0-4.8l-4.8 4.8M487.9 266.6l4.8 4.8m0-4.8l-4.8 4.8M468.4 255.1l4.8 4.8m0-4.8l-4.8 4.8M508.6 292.8l4.8 4.8m0-4.8l-4.8 4.8M520.4 302.7l4.8 4.8m0-4.8l-4.8 4.8M565.7 273.5l4.8 4.8m0-4.8l-4.8 4.8M453.2 266.7l4.8 4.8m0-4.8l-4.8 4.8M553.4 267.9l4.8 4.8m0-4.8l-4.8 4.8M535.6 273.8l4.8 4.8m0-4.8l-4.8 4.8M450.8 259.9l4.8 4.8m0-4.8l-4.8 4.8M505.7 292.4l4.8 4.8m0-4.8l-4.8 4.8M430.6 245.2l4.8 4.8m0-4.8l-4.8 4.8M554.5 284.8l4.8 4.8m0-4.8l-4.8 4.8M514.3 296.7l4.8 4.8m0-4.8l-4.8 4.8M548.9 263.2l4.8 4.8m0-4.8l-4.8 4.8M465.7 261.5l4.8 4.8m0-4.8l-4.8 4.8M529 278.7l4.8 4.8m0-4.8l-4.8 4.8M549.2 295.1l4.8 4.8m0-4.8l-4.8 4.8M463.9 278.5l4.8 4.8m0-4.8l-4.8 4.8M541.5 268.3l4.8 4.8m0-4.8l-4.8 4.8M455.4 261.2l4.8 4.8m0-4.8l-4.8 4.8M496.1 272.2l4.8 4.8m0-4.8l-4.8 4.8M482.4 265.2l4.8 4.8m0-4.8l-4.8 4.8M503.1 281.9l4.8 4.8m0-4.8l-4.8 4.8M475.2 278l4.8 4.8m0-4.8l-4.8 4.8M513.3 262.5l4.8 4.8m0-4.8l-4.8 4.8M455.3 263.1l4.8 4.8m0-4.8l-4.8 4.8M478.6 277.4l4.8 4.8m0-4.8l-4.8 4.8M431.4 256.8l4.8 4.8m0-4.8l-4.8 4.8M529.5 290.6l4.8 4.8m0-4.8l-4.8 4.8M463 267.2l4.8 4.8m0-4.8l-4.8 4.8M450.8 261.8l4.8 4.8m0-4.8l-4.8 4.8M490.7 276.9l4.8 4.8m0-4.8l-4.8 4.8M520.1 271.4l4.8 4.8m0-4.8l-4.8 4.8M559.4 284.8l4.8 4.8m0-4.8l-4.8 4.8M534.2 271.9l4.8 4.8m0-4.8l-4.8 4.8M504.7 298l4.8 4.8m0-4.8l-4.8 4.8M466.7 269.8l4.8 4.8m0-4.8l-4.8 4.8M429 250.2l4.8 4.8m0-4.8l-4.8 4.8M541.1 292.3l4.8 4.8m0-4.8l-4.8 4.8M503.1 286.3l4.8 4.8m0-4.8l-4.8 4.8M498.2 281.2l4.8 4.8m0-4.8l-4.8 4.8M460.7 268.3l4.8 4.8m0-4.8l-4.8 4.8M462.4 254.6l4.8 4.8m0-4.8l-4.8 4.8M488.7 279.5l4.8 4.8m0-4.8l-4.8 4.8M529.3 289.4l4.8 4.8m0-4.8l-4.8 4.8M529.6 265.1l4.8 4.8m0-4.8l-4.8 4.8M555.3 277.7l4.8 4.8m0-4.8l-4.8 4.8M530 264.5l4.8 4.8m0-4.8l-4.8 4.8M539.8 273.3l4.8 4.8m0-4.8l-4.8 4.8M551.2 268.8l4.8 4.8m0-4.8l-4.8 4.8M477.5 271.9l4.8 4.8m0-4.8l-4.8 4.8M543.4 261.3l4.8 4.8m0-4.8l-4.8 4.8M476.8 255.9l4.8 4.8m0-4.8l-4.8 4.8M536.7 269.6l4.8 4.8m0-4.8l-4.8 4.8M471.2 274.6l4.8 4.8m0-4.8l-4.8 4.8M464.2 262.2l4.8 4.8m0-4.8l-4.8 4.8M489.1 276.7l4.8 4.8m0-4.8l-4.8 4.8M443.5 252.8l4.8 4.8m0-4.8l-4.8 4.8M449.9 272.3l4.8 4.8m0-4.8l-4.8 4.8M498.9 296.5l4.8 4.8m0-4.8l-4.8 4.8M480.7 276.6l4.8 4.8m0-4.8l-4.8 4.8M546.1 275.7l4.8 4.8m0-4.8l-4.8 4.8M493.5 270.4l4.8 4.8m0-4.8l-4.8 4.8M425 230.2l4.8 4.8m0-4.8l-4.8 4.8M558.5 297l4.8 4.8m0-4.8l-4.8 4.8M503.8 253.4l4.8 4.8m0-4.8l-4.8 4.8M544.4 260.2l4.8 4.8m0-4.8l-4.8 4.8M552.7 263.6l4.8 4.8m0-4.8l-4.8 4.8M443.5 248.2l4.8 4.8m0-4.8l-4.8 4.8M564.2 275.4l4.8 4.8m0-4.8l-4.8 4.8M548.8 287l4.8 4.8m0-4.8l-4.8 4.8M484.6 279.6l4.8 4.8m0-4.8l-4.8 4.8M490.3 254.2l4.8 4.8m0-4.8l-4.8 4.8M524 280.5l4.8 4.8m0-4.8l-4.8 4.8M467.8 276.1l4.8 4.8m0-4.8l-4.8 4.8M484.3 273.9l4.8 4.8m0-4.8l-4.8 4.8M492.8 267.3l4.8 4.8m0-4.8l-4.8 4.8M480.8 264.6l4.8 4.8m0-4.8l-4.8 4.8M482 267.4l4.8 4.8m0-4.8l-4.8 4.8M492.4 259.4l4.8 4.8m0-4.8l-4.8 4.8M551.3 274.9l4.8 4.8m0-4.8l-4.8 4.8M531.6 284.1l4.8 4.8m0-4.8l-4.8 4.8M445.9 266.4l4.8 4.8m0-4.8l-4.8 4.8M442.4 253.5l4.8 4.8m0-4.8l-4.8 4.8M554.4 272.9l4.8 4.8m0-4.8l-4.8 4.8M453.9 275l4.8 4.8m0-4.8l-4.8 4.8M533.5 273.7l4.8 4.8m0-4.8l-4.8 4.8M443.4 248.2l4.8 4.8m0-4.8l-4.8 4.8M530.9 257.9l4.8 4.8m0-4.8l-4.8 4.8M564 270.4l4.8 4.8m0-4.8l-4.8 4.8M556.2 261.8l4.8 4.8m0-4.8l-4.8 4.8M445.4 265.3l4.8 4.8m0-4.8l-4.8 4.8M499.8 269.9l4.8 4.8m0-4.8l-4.8 4.8M444.2 266.6l4.8 4.8m0-4.8l-4.8 4.8M533.6 258.5l4.8 4.8m0-4.8l-4.8 4.8M490.9 256.1l4.8 4.8m0-4.8l-4.8 4.8M548.4 262.7l4.8 4.8m0-4.8l-4.8 4.8M449.6 266.5l4.8 4.8m0-4.8l-4.8 4.8M518 262.9l4.8 4.8m0-4.8l-4.8 4.8M542.2 292l4.8 4.8m0-4.8l-4.8 4.8M520 301.4l4.8 4.8m0-4.8l-4.8 4.8M467.2 280.6l4.8 4.8m0-4.8l-4.8 4.8M496 289.8l4.8 4.8m0-4.8l-4.8 4.8M517.4 282.5l4.8 4.8m0-4.8l-4.8 4.8M539 284l4.8 4.8m0-4.8l-4.8 4.8M565.1 293.7l4.8 4.8m0-4.8l-4.8 4.8M434.2 251.3l4.8 4.8m0-4.8l-4.8 4.8M494.8 260.4l4.8 4.8m0-4.8l-4.8 4.8M426.2 241.1l4.8 4.8m0-4.8l-4.8 4.8M457.8 268l4.8 4.8m0-4.8l-4.8 4.8M540.7 271.1l4.8 4.8m0-4.8l-4.8 4.8M456.5 268.9l4.8 4.8m0-4.8l-4.8 4.8M532.9 274.3l4.8 4.8m0-4.8l-4.8 4.8M437.9 260.1l4.8 4.8m0-4.8l-4.8 4.8M425.9 236.6l4.8 4.8m0-4.8l-4.8 4.8M455.7 271l4.8 4.8m0-4.8l-4.8 4.8M471.3 258l4.8 4.8m0-4.8l-4.8 4.8M434.4 261.3l4.8 4.8m0-4.8l-4.8 4.8M441.3 261l4.8 4.8m0-4.8l-4.8 4.8M485.1 253.6l4.8 4.8m0-4.8l-4.8 4.8M527.1 285l4.8 4.8m0-4.8l-4.8 4.8M441.3 258l4.8 4.8m0-4.8l-4.8 4.8M542.3 288l4.8 4.8m0-4.8l-4.8 4.8M532.6 281.8l4.8 4.8m0-4.8l-4.8 4.8M560.3 261.8l4.8 4.8m0-4.8l-4.8 4.8M447.5 254.5l4.8 4.8m0-4.8l-4.8 4.8M507.5 282.5l4.8 4.8m0-4.8l-4.8 4.8M497 258.5l4.8 4.8m0-4.8l-4.8 4.8M491.7 267.2l4.8 4.8m0-4.8l-4.8 4.8M493.6 283l4.8 4.8m0-4.8l-4.8 4.8M531.7 291.9l4.8 4.8m0-4.8l-4.8 4.8M552 296.7l4.8 4.8m0-4.8l-4.8 4.8M504.2 285.1l4.8 4.8m0-4.8l-4.8 4.8M521 272.3l4.8 4.8m0-4.8l-4.8 4.8M530 263.4l4.8 4.8m0-4.8l-4.8 4.8M564.7 293.7l4.8 4.8m0-4.8l-4.8 4.8M455.5 266l4.8 4.8m0-4.8l-4.8 4.8M556.1 282.3l4.8 4.8m0-4.8l-4.8 4.8M452.3 263.8l4.8 4.8m0-4.8l-4.8 4.8M467.8 279.9l4.8 4.8m0-4.8l-4.8 4.8M538.7 278.9l4.8 4.8m0-4.8l-4.8 4.8M543.8 292.7l4.8 4.8m0-4.8l-4.8 4.8M471 279l4.8 4.8m0-4.8l-4.8 4.8M544.2 279.6l4.8 4.8m0-4.8l-4.8 4.8M509.6 298.5l4.8 4.8m0-4.8l-4.8 4.8M485.8 271l4.8 4.8m0-4.8l-4.8 4.8M523.8 291.5l4.8 4.8m0-4.8l-4.8 4.8M564.2 286.2l4.8 4.8m0-4.8l-4.8 4.8M496.4 276.9l4.8 4.8m0-4.8l-4.8 4.8M471.8 280.8l4.8 4.8m0-4.8l-4.8 4.8M428 233.8l4.8 4.8m0-4.8l-4.8 4.8M563.5 275.9l4.8 4.8m0-4.8l-4.8 4.8M441.6 267l4.8 4.8m0-4.8l-4.8 4.8M468.5 281.2l4.8 4.8m0-4.8l-4.8 4.8M471.6 274.4l4.8 4.8m0-4.8l-4.8 4.8M469.4 258.5l4.8 4.8m0-4.8l-4.8 4.8M502.8 244.7l4.8 4.8m0-4.8l-4.8 4.8M466.6 280.1l4.8 4.8m0-4.8l-4.8 4.8M532.2 267.5l4.8 4.8m0-4.8l-4.8 4.8M540.1 282.2l4.8 4.8m0-4.8l-4.8 4.8M539.7 292.6l4.8 4.8m0-4.8l-4.8 4.8M526.3 268.1l4.8 4.8m0-4.8l-4.8 4.8M503.9 263.7l4.8 4.8m0-4.8l-4.8 4.8M489.2 270.5l4.8 4.8m0-4.8l-4.8 4.8M490.8 265.7l4.8 4.8m0-4.8l-4.8 4.8M544.3 283.9l4.8 4.8m0-4.8l-4.8 4.8M502.6 278.6l4.8 4.8m0-4.8l-4.8 4.8M447.1 256.9l4.8 4.8m0-4.8l-4.8 4.8M423.3 227l4.8 4.8m0-4.8l-4.8 4.8M429.5 250.4l4.8 4.8m0-4.8l-4.8 4.8M529.7 278.7l4.8 4.8m0-4.8l-4.8 4.8M465.5 268l4.8 4.8m0-4.8l-4.8 4.8M556.5 273l4.8 4.8m0-4.8l-4.8 4.8M474.4 256.1l4.8 4.8m0-4.8l-4.8 4.8M457.6 277.4l4.8 4.8m0-4.8l-4.8 4.8M528.1 263.7l4.8 4.8m0-4.8l-4.8 4.8M537 281.1l4.8 4.8m0-4.8l-4.8 4.8M520.6 292.5l4.8 4.8m0-4.8l-4.8 4.8M461 254.4l4.8 4.8m0-4.8l-4.8 4.8M545 260.7l4.8 4.8m0-4.8l-4.8 4.8M501.9 263.4l4.8 4.8m0-4.8l-4.8 4.8M474.6 271.4l4.8 4.8m0-4.8l-4.8 4.8M556 269.2l4.8 4.8m0-4.8l-4.8 4.8M557.7 291.6l4.8 4.8m0-4.8l-4.8 4.8M481.9 254.3l4.8 4.8m0-4.8l-4.8 4.8M555.9 266.4l4.8 4.8m0-4.8l-4.8 4.8M550 286.9l4.8 4.8m0-4.8l-4.8 4.8M525.2 294.8l4.8 4.8m0-4.8l-4.8 4.8M488.4 283l4.8 4.8m0-4.8l-4.8 4.8M484.7 276.9l4.8 4.8m0-4.8l-4.8 4.8M481.4 262.1l4.8 4.8m0-4.8l-4.8 4.8M519.7 259.5l4.8 4.8m0-4.8l-4.8 4.8M556.9 285.8l4.8 4.8m0-4.8l-4.8 4.8M470.5 270.5l4.8 4.8m0-4.8l-4.8 4.8M458.9 256.9l4.8 4.8m0-4.8l-4.8 4.8M536.6 270.8l4.8 4.8m0-4.8l-4.8 4.8M515.8 287.8l4.8 4.8m0-4.8l-4.8 4.8M462.4 259.9l4.8 4.8m0-4.8l-4.8 4.8M435.7 241.4l4.8 4.8m0-4.8l-4.8 4.8M443.2 267.6l4.8 4.8m0-4.8l-4.8 4.8M531.9 260.2l4.8 4.8m0-4.8l-4.8 4.8M444.9 250.1l4.8 4.8m0-4.8l-4.8 4.8M495.8 289.1l4.8 4.8m0-4.8l-4.8 4.8M501.1 288.5l4.8 4.8m0-4.8l-4.8 4.8M515.7 271.7l4.8 4.8m0-4.8l-4.8 4.8M542.7 261.5l4.8 4.8m0-4.8l-4.8 4.8M546.6 271.1l4.8 4.8m0-4.8l-4.8 4.8M527.5 260.9l4.8 4.8m0-4.8l-4.8 4.8M543 277.7l4.8 4.8m0-4.8l-4.8 4.8M557.9 261.3l4.8 4.8m0-4.8l-4.8 4.8M450.8 271.6l4.8 4.8m0-4.8l-4.8 4.8M510.9 275.4l4.8 4.8m0-4.8l-4.8 4.8M483.2 267.2l4.8 4.8m0-4.8l-4.8 4.8M452.4 266.7l4.8 4.8m0-4.8l-4.8 4.8M507.9 265.6l4.8 4.8m0-4.8l-4.8 4.8M524.1 297.3l4.8 4.8m0-4.8l-4.8 4.8M452.6 265l4.8 4.8m0-4.8l-4.8 4.8M533.7 285.4l4.8 4.8m0-4.8l-4.8 4.8M528.7 286.7l4.8 4.8m0-4.8l-4.8 4.8M466.1 257.8l4.8 4.8m0-4.8l-4.8 4.8M450.7 254.8l4.8 4.8m0-4.8l-4.8 4.8M501.7 298.2l4.8 4.8m0-4.8l-4.8 4.8M490.1 267.4l4.8 4.8m0-4.8l-4.8 4.8M440.4 261.6l4.8 4.8m0-4.8l-4.8 4.8M492.3 270l4.8 4.8m0-4.8l-4.8 4.8M555.1 282.6l4.8 4.8m0-4.8l-4.8 4.8M551.5 285.9l4.8 4.8m0-4.8l-4.8 4.8M529.8 289.8l4.8 4.8m0-4.8l-4.8 4.8M506.5 263.9l4.8 4.8m0-4.8l-4.8 4.8M541.5 294.5l4.8 4.8m0-4.8l-4.8 4.8M529.6 289.8l4.8 4.8m0-4.8l-4.8 4.8M561.5 286.1l4.8 4.8m0-4.8l-4.8 4.8M545.4 290.4l4.8 4.8m0-4.8l-4.8 4.8M564.5 279.3l4.8 4.8m0-4.8l-4.8 4.8M454.2 254.1l4.8 4.8m0-4.8l-4.8 4.8M536.2 268.4l4.8 4.8m0-4.8l-4.8 4.8M484.1 275.6l4.8 4.8m0-4.8l-4.8 4.8M514 261.2l4.8 4.8m0-4.8l-4.8 4.8M528.6 267.4l4.8 4.8m0-4.8l-4.8 4.8M431.4 247.9l4.8 4.8m0-4.8l-4.8 4.8M464.3 266.6l4.8 4.8m0-4.8l-4.8 4.8M518.7 273.2l4.8 4.8m0-4.8l-4.8 4.8M422.8 228.2l4.8 4.8m0-4.8l-4.8 4.8M463.5 269.8l4.8 4.8m0-4.8l-4.8 4.8M463.5 276.4l4.8 4.8m0-4.8l-4.8 4.8M454.5 265.5l4.8 4.8m0-4.8l-4.8 4.8M549.5 288.7l4.8 4.8m0-4.8l-4.8 4.8M560.8 272.7l4.8 4.8m0-4.8l-4.8 4.8M551.5 263.5l4.8 4.8m0-4.8l-4.8 4.8M530.8 259.8l4.8 4.8m0-4.8l-4.8 4.8M450.3 260.2l4.8 4.8m0-4.8l-4.8 4.8M474.3 277.8l4.8 4.8m0-4.8l-4.8 4.8M462 263.1l4.8 4.8m0-4.8l-4.8 4.8M441.6 269.2l4.8 4.8m0-4.8l-4.8 4.8M544.3 265.6l4.8 4.8m0-4.8l-4.8 4.8M426.9 242.6l4.8 4.8m0-4.8l-4.8 4.8M422.9 227.6l4.8 4.8m0-4.8l-4.8 4.8M564.2 292.3l4.8 4.8m0-4.8l-4.8 4.8M505.5 277.1l4.8 4.8m0-4.8l-4.8 4.8M527.3 272.1l4.8 4.8m0-4.8l-4.8 4.8M527.9 291.6l4.8 4.8m0-4.8l-4.8 4.8M563.2 269.6l4.8 4.8m0-4.8l-4.8 4.8M438 269.4l4.8 4.8m0-4.8l-4.8 4.8M539.4 266.7l4.8 4.8m0-4.8l-4.8 4.8M477.2 255.6l4.8 4.8m0-4.8l-4.8 4.8M513.5 277.2l4.8 4.8m0-4.8l-4.8 4.8M428.3 241.6l4.8 4.8m0-4.8l-4.8 4.8M477 270l4.8 4.8m0-4.8l-4.8 4.8M472.1 258.6l4.8 4.8m0-4.8l-4.8 4.8M475.6 279.8l4.8 4.8m0-4.8l-4.8 4.8M458.6 257l4.8 4.8m0-4.8l-4.8 4.8M496.9 283.1l4.8 4.8m0-4.8l-4.8 4.8M548.5 259.5l4.8 4.8m0-4.8l-4.8 4.8M482.4 278.6l4.8 4.8m0-4.8l-4.8 4.8M468.7 279l4.8 4.8m0-4.8l-4.8 4.8M548.2 269.8l4.8 4.8m0-4.8l-4.8 4.8M468.7 263.8l4.8 4.8m0-4.8l-4.8 4.8M544.4 258.8l4.8 4.8m0-4.8l-4.8 4.8M447.4 263.5l4.8 4.8m0-4.8l-4.8 4.8M515.6 280.6l4.8 4.8m0-4.8l-4.8 4.8M498.6 278.3l4.8 4.8m0-4.8l-4.8 4.8M481.4 265.1l4.8 4.8m0-4.8l-4.8 4.8M479.3 273.9l4.8 4.8m0-4.8l-4.8 4.8M482.3 258.4l4.8 4.8m0-4.8l-4.8 4.8M444.7 261.8l4.8 4.8m0-4.8l-4.8 4.8M455.8 254l4.8 4.8m0-4.8l-4.8 4.8M423.6 230.6l4.8 4.8m0-4.8l-4.8 4.8M561.2 271l4.8 4.8m0-4.8l-4.8 4.8M456.4 259.4l4.8 4.8m0-4.8l-4.8 4.8M494.7 285.2l4.8 4.8m0-4.8l-4.8 4.8M437.4 268.1l4.8 4.8m0-4.8l-4.8 4.8M463.5 270.1l4.8 4.8m0-4.8l-4.8 4.8M562.2 264.8l4.8 4.8m0-4.8l-4.8 4.8M501.7 266.2l4.8 4.8m0-4.8l-4.8 4.8M511.8 262.9l4.8 4.8m0-4.8l-4.8 4.8M475.8 264.1l4.8 4.8m0-4.8l-4.8 4.8M453.7 272.3l4.8 4.8m0-4.8l-4.8 4.8M460.8 269.8l4.8 4.8m0-4.8l-4.8 4.8M465.1 264.9l4.8 4.8m0-4.8l-4.8 4.8M428.2 244.2l4.8 4.8m0-4.8l-4.8 4.8M509.5 263.7l4.8 4.8m0-4.8l-4.8 4.8M535.8 279.6l4.8 4.8m0-4.8l-4.8 4.8M512.2 300.1l4.8 4.8m0-4.8l-4.8 4.8M555.6 272.1l4.8 4.8m0-4.8l-4.8 4.8M536.5 292.2l4.8 4.8m0-4.8l-4.8 4.8M482 273.6l4.8 4.8m0-4.8l-4.8 4.8M543.7 267.7l4.8 4.8m0-4.8l-4.8 4.8M445.2 249.5l4.8 4.8m0-4.8l-4.8 4.8M452 274.1l4.8 4.8m0-4.8l-4.8 4.8M503.2 275l4.8 4.8m0-4.8l-4.8 4.8M559.8 295.7l4.8 4.8m0-4.8l-4.8 4.8M553.1 270.1l4.8 4.8m0-4.8l-4.8 4.8M468.1 277.9l4.8 4.8m0-4.8l-4.8 4.8M524.1 300.8l4.8 4.8m0-4.8l-4.8 4.8M464.6 279.6l4.8 4.8m0-4.8l-4.8 4.8M472.6 254.6l4.8 4.8m0-4.8l-4.8 4.8M544.2 275.7l4.8 4.8m0-4.8l-4.8 4.8M515.3 271.6l4.8 4.8m0-4.8l-4.8 4.8M535.5 264.2l4.8 4.8m0-4.8l-4.8 4.8M561.2 262.2l4.8 4.8m0-4.8l-4.8 4.8M471.8 255.7l4.8 4.8m0-4.8l-4.8 4.8M458.5 277.2l4.8 4.8m0-4.8l-4.8 4.8M516.2 299.7l4.8 4.8m0-4.8l-4.8 4.8M548.6 259.8l4.8 4.8m0-4.8l-4.8 4.8M537.9 286.5l4.8 4.8m0-4.8l-4.8 4.8M498.6 296.5l4.8 4.8m0-4.8l-4.8 4.8M486.7 257.7l4.8 4.8m0-4.8l-4.8 4.8M450.6 272.9l4.8 4.8m0-4.8l-4.8 4.8M473.5 272.7l4.8 4.8m0-4.8l-4.8 4.8M470.4 273.2l4.8 4.8m0-4.8l-4.8 4.8M432.6 245.9l4.8 4.8m0-4.8l-4.8 4.8M493.2 266.3l4.8 4.8m0-4.8l-4.8 4.8M469.3 256.7l4.8 4.8m0-4.8l-4.8 4.8M533.9 274.5l4.8 4.8m0-4.8l-4.8 4.8M477.6 257.7l4.8 4.8m0-4.8l-4.8 4.8M485.2 269.9l4.8 4.8m0-4.8l-4.8 4.8M504.2 296.6l4.8 4.8m0-4.8l-4.8 4.8M493.8 282l4.8 4.8m0-4.8l-4.8 4.8M554.8 267.4l4.8 4.8m0-4.8l-4.8 4.8M439.9 265.4l4.8 4.8m0-4.8l-4.8 4.8M518.2 276l4.8 4.8m0-4.8l-4.8 4.8M480.8 270.4l4.8 4.8m0-4.8l-4.8 4.8M454.9 267.8l4.8 4.8m0-4.8l-4.8 4.8M429.8 253l4.8 4.8m0-4.8l-4.8 4.8M456.3 278.8l4.8 4.8m0-4.8l-4.8 4.8M456.8 274.2l4.8 4.8m0-4.8l-4.8 4.8M473.5 265.9l4.8 4.8m0-4.8l-4.8 4.8M565.2 274.2l4.8 4.8m0-4.8l-4.8 4.8M540.5 275.1l4.8 4.8m0-4.8l-4.8 4.8M532.1 271.2l4.8 4.8m0-4.8l-4.8 4.8M423.6 230.6l4.8 4.8m0-4.8l-4.8 4.8M441.2 254.5l4.8 4.8m0-4.8l-4.8 4.8M474.8 270.4l4.8 4.8m0-4.8l-4.8 4.8M444.7 249.3l4.8 4.8m0-4.8l-4.8 4.8M462.4 277.8l4.8 4.8m0-4.8l-4.8 4.8M475.9 273.5l4.8 4.8m0-4.8l-4.8 4.8M449.6 258.2l4.8 4.8m0-4.8l-4.8 4.8M484.4 282.7l4.8 4.8m0-4.8l-4.8 4.8M559 292.8l4.8 4.8m0-4.8l-4.8 4.8M547.4 259.3l4.8 4.8m0-4.8l-4.8 4.8M501.1 263l4.8 4.8m0-4.8l-4.8 4.8M423.2 230.1l4.8 4.8m0-4.8l-4.8 4.8M536.6 269.6l4.8 4.8m0-4.8l-4.8 4.8M439.6 263.8l4.8 4.8m0-4.8l-4.8 4.8M433.3 243.5l4.8 4.8m0-4.8l-4.8 4.8M514.8 285l4.8 4.8m0-4.8l-4.8 4.8M503.9 270.4l4.8 4.8m0-4.8l-4.8 4.8M460.1 265.8l4.8 4.8m0-4.8l-4.8 4.8M423.5 228.3l4.8 4.8m0-4.8l-4.8 4.8M560.3 291.3l4.8 4.8m0-4.8l-4.8 4.8M485.2 264.4l4.8 4.8m0-4.8l-4.8 4.8M521 265l4.8 4.8m0-4.8l-4.8 4.8M469.8 261l4.8 4.8m0-4.8l-4.8 4.8M474.2 260.8l4.8 4.8m0-4.8l-4.8 4.8M495.5 270.9l4.8 4.8m0-4.8l-4.8 4.8M551.2 290.3l4.8 4.8m0-4.8l-4.8 4.8M494.2 275.4l4.8 4.8m0-4.8l-4.8 4.8M431.2 241l4.8 4.8m0-4.8l-4.8 4.8M450.7 272.8l4.8 4.8m0-4.8l-4.8 4.8M441.9 252.8l4.8 4.8m0-4.8l-4.8 4.8M523.9 287l4.8 4.8m0-4.8l-4.8 4.8M492.8 273.4l4.8 4.8m0-4.8l-4.8 4.8M493.4 282.6l4.8 4.8m0-4.8l-4.8 4.8M463.8 254.4l4.8 4.8m0-4.8l-4.8 4.8M468.5 262.3l4.8 4.8m0-4.8l-4.8 4.8M511.7 279.3l4.8 4.8m0-4.8l-4.8 4.8M511.8 268.4l4.8 4.8m0-4.8l-4.8 4.8M505.3 258.1l4.8 4.8m0-4.8l-4.8 4.8M465.7 275.4l4.8 4.8m0-4.8l-4.8 4.8M488.6 259.5l4.8 4.8m0-4.8l-4.8 4.8M494.1 285.4l4.8 4.8m0-4.8l-4.8 4.8M489.2 256.5l4.8 4.8m0-4.8l-4.8 4.8M446.5 260.1l4.8 4.8m0-4.8l-4.8 4.8M463.4 266.3l4.8 4.8m0-4.8l-4.8 4.8M532.3 283.2l4.8 4.8m0-4.8l-4.8 4.8M447.3 263.7l4.8 4.8m0-4.8l-4.8 4.8M564 296.7l4.8 4.8m0-4.8l-4.8 4.8M466.1 275.8l4.8 4.8m0-4.8l-4.8 4.8M490.5 260.3l4.8 4.8m0-4.8l-4.8 4.8M503.3 266.3l4.8 4.8m0-4.8l-4.8 4.8M454.6 264.5l4.8 4.8m0-4.8l-4.8 4.8M530.3 282.8l4.8 4.8m0-4.8l-4.8 4.8M425.2 229.1l4.8 4.8m0-4.8l-4.8 4.8M495.2 256.2l4.8 4.8m0-4.8l-4.8 4.8M510.4 285l4.8 4.8m0-4.8l-4.8 4.8M448 251.4l4.8 4.8m0-4.8l-4.8 4.8M532.2 273.5l4.8 4.8m0-4.8l-4.8 4.8M425 236l4.8 4.8m0-4.8l-4.8 4.8M483.2 280.1l4.8 4.8m0-4.8l-4.8 4.8M490.4 269.6l4.8 4.8m0-4.8l-4.8 4.8M451.8 263.6l4.8 4.8m0-4.8l-4.8 4.8M559.5 264.7l4.8 4.8m0-4.8l-4.8 4.8M540.7 284.9l4.8 4.8m0-4.8l-4.8 4.8M455.9 266.3l4.8 4.8m0-4.8l-4.8 4.8M556.8 289.3l4.8 4.8m0-4.8l-4.8 4.8M433.1 241.9l4.8 4.8m0-4.8l-4.8 4.8M424.1 231l4.8 4.8m0-4.8l-4.8 4.8M564 277.7l4.8 4.8m0-4.8l-4.8 4.8M423.7 231.3l4.8 4.8m0-4.8l-4.8 4.8M530.5 269.1l4.8 4.8m0-4.8l-4.8 4.8M434.7 253.1l4.8 4.8m0-4.8l-4.8 4.8M491.7 278.8l4.8 4.8m0-4.8l-4.8 4.8M441.2 263.8l4.8 4.8m0-4.8l-4.8 4.8M479.9 253.9l4.8 4.8m0-4.8l-4.8 4.8M469.5 257l4.8 4.8m0-4.8l-4.8 4.8M425.4 235.2l4.8 4.8m0-4.8l-4.8 4.8M444 271.8l4.8 4.8m0-4.8l-4.8 4.8M464.2 262l4.8 4.8m0-4.8l-4.8 4.8M509.8 287.4l4.8 4.8m0-4.8l-4.8 4.8M527.2 267.4l4.8 4.8m0-4.8l-4.8 4.8M547 270.6l4.8 4.8m0-4.8l-4.8 4.8M435.3 246.1l4.8 4.8m0-4.8l-4.8 4.8M559.9 264.6l4.8 4.8m0-4.8l-4.8 4.8M517 296.1l4.8 4.8m0-4.8l-4.8 4.8M547.2 278l4.8 4.8m0-4.8l-4.8 4.8M527.3 258.5l4.8 4.8m0-4.8l-4.8 4.8M453.1 277.5l4.8 4.8m0-4.8l-4.8 4.8M557.3 263.9l4.8 4.8m0-4.8l-4.8 4.8M434.7 253.2l4.8 4.8m0-4.8l-4.8 4.8M546 273.4l4.8 4.8m0-4.8l-4.8 4.8M497.6 254.3l4.8 4.8m0-4.8l-4.8 4.8M426.6 239.4l4.8 4.8m0-4.8l-4.8 4.8M444.9 249.5l4.8 4.8m0-4.8l-4.8 4.8M506.6 287.6l4.8 4.8m0-4.8l-4.8 4.8M547.5 262.1l4.8 4.8m0-4.8l-4.8 4.8M491.8 256l4.8 4.8m0-4.8l-4.8 4.8M453.4 259.8l4.8 4.8m0-4.8l-4.8 4.8M565.5 290l4.8 4.8m0-4.8l-4.8 4.8M523.6 262.9l4.8 4.8m0-4.8l-4.8 4.8M546.9 286.6l4.8 4.8m0-4.8l-4.8 4.8M477.7 279.4l4.8 4.8m0-4.8l-4.8 4.8M495.3 260l4.8 4.8m0-4.8l-4.8 4.8M465.2 256.8l4.8 4.8m0-4.8l-4.8 4.8M460.6 267.9l4.8 4.8m0-4.8l-4.8 4.8M517.7 262.9l4.8 4.8m0-4.8l-4.8 4.8M558 284l4.8 4.8m0-4.8l-4.8 4.8M478.7 260.1l4.8 4.8m0-4.8l-4.8 4.8M537.1 266l4.8 4.8m0-4.8l-4.8 4.8M460.9 256.7l4.8 4.8m0-4.8l-4.8 4.8M532.5 272.8l4.8 4.8m0-4.8l-4.8 4.8M470.6 261.9l4.8 4.8m0-4.8l-4.8 4.8M432.4 243.5l4.8 4.8m0-4.8l-4.8 4.8M482.6 259l4.8 4.8m0-4.8l-4.8 4.8M507.1 283.8l4.8 4.8m0-4.8l-4.8 4.8M468 267.9l4.8 4.8m0-4.8l-4.8 4.8M441.9 265.6l4.8 4.8m0-4.8l-4.8 4.8M514.3 292.3l4.8 4.8m0-4.8l-4.8 4.8M554.7 277.3l4.8 4.8m0-4.8l-4.8 4.8M468.6 277.2l4.8 4.8m0-4.8l-4.8 4.8M462.2 270.4l4.8 4.8m0-4.8l-4.8 4.8M442 264.4l4.8 4.8m0-4.8l-4.8 4.8M561.2 262.5l4.8 4.8m0-4.8l-4.8 4.8M553.8 261.3l4.8 4.8m0-4.8l-4.8 4.8M523.6 256.3l4.8 4.8m0-4.8l-4.8 4.8M514.6 282.1l4.8 4.8m0-4.8l-4.8 4.8M446.7 258.1l4.8 4.8m0-4.8l-4.8 4.8M561.3 262.5l4.8 4.8m0-4.8l-4.8 4.8M562.6 281.4l4.8 4.8m0-4.8l-4.8 4.8M521 253.9l4.8 4.8m0-4.8l-4.8 4.8M526.4 261.3l4.8 4.8m0-4.8l-4.8 4.8M547.7 275.7l4.8 4.8m0-4.8l-4.8 4.8M548.3 283.4l4.8 4.8m0-4.8l-4.8 4.8M541.3 279.9l4.8 4.8m0-4.8l-4.8 4.8M453.4 256.1l4.8 4.8m0-4.8l-4.8 4.8M536.6 271.9l4.8 4.8m0-4.8l-4.8 4.8M490.2 275.7l4.8 4.8m0-4.8l-4.8 4.8M543.7 271.3l4.8 4.8m0-4.8l-4.8 4.8M518.9 262.5l4.8 4.8m0-4.8l-4.8 4.8M426.3 232.9l4.8 4.8m0-4.8l-4.8 4.8M545.4 291.4l4.8 4.8m0-4.8l-4.8 4.8M429.2 236.4l4.8 4.8m0-4.8l-4.8 4.8M460.1 265.9l4.8 4.8m0-4.8l-4.8 4.8M556.3 290l4.8 4.8m0-4.8l-4.8 4.8M493.6 282l4.8 4.8m0-4.8l-4.8 4.8M548.1 264.2l4.8 4.8m0-4.8l-4.8 4.8M485.3 258.1l4.8 4.8m0-4.8l-4.8 4.8M444.1 253.1l4.8 4.8m0-4.8l-4.8 4.8M538.9 268.5l4.8 4.8m0-4.8l-4.8 4.8M427.2 242l4.8 4.8m0-4.8l-4.8 4.8M517.8 261.9l4.8 4.8m0-4.8l-4.8 4.8M493.3 264.2l4.8 4.8m0-4.8l-4.8 4.8M488 265.6l4.8 4.8m0-4.8l-4.8 4.8M463.4 276.1l4.8 4.8m0-4.8l-4.8 4.8M547.8 275.8l4.8 4.8m0-4.8l-4.8 4.8M468.7 273.8l4.8 4.8m0-4.8l-4.8 4.8M470.9 267.7l4.8 4.8m0-4.8l-4.8 4.8M445.1 262.5l4.8 4.8m0-4.8l-4.8 4.8M472.9 271.6l4.8 4.8m0-4.8l-4.8 4.8M475.1 281.3l4.8 4.8m0-4.8l-4.8 4.8M549.8 285.4l4.8 4.8m0-4.8l-4.8 4.8M530.1 258.4l4.8 4.8m0-4.8l-4.8 4.8M477.2 272.5l4.8 4.8m0-4.8l-4.8 4.8M519.8 256.5l4.8 4.8m0-4.8l-4.8 4.8M499.2 269.6l4.8 4.8m0-4.8l-4.8 4.8M438 261.4l4.8 4.8m0-4.8l-4.8 4.8M487.8 263.3l4.8 4.8m0-4.8l-4.8 4.8M477.4 261.1l4.8 4.8m0-4.8l-4.8 4.8M543.1 287.1l4.8 4.8m0-4.8l-4.8 4.8M498.2 294.3l4.8 4.8m0-4.8l-4.8 4.8M468.6 265.8l4.8 4.8m0-4.8l-4.8 4.8M541.7 289.2l4.8 4.8m0-4.8l-4.8 4.8M537.7 271l4.8 4.8m0-4.8l-4.8 4.8M540.9 294l4.8 4.8m0-4.8l-4.8 4.8M496.8 292.2l4.8 4.8m0-4.8l-4.8 4.8M534 269.8l4.8 4.8m0-4.8l-4.8 4.8M455.6 252.3l4.8 4.8m0-4.8l-4.8 4.8M551.5 282.2l4.8 4.8m0-4.8l-4.8 4.8M453.6 257.6l4.8 4.8m0-4.8l-4.8 4.8M471.2 258.1l4.8 4.8m0-4.8l-4.8 4.8M462.4 257.2l4.8 4.8m0-4.8l-4.8 4.8M473.3 266l4.8 4.8m0-4.8l-4.8 4.8M467.8 264.5l4.8 4.8m0-4.8l-4.8 4.8M430.9 249.1l4.8 4.8m0-4.8l-4.8 4.8M473.3 265.9l4.8 4.8m0-4.8l-4.8 4.8M537.9 277.4l4.8 4.8m0-4.8l-4.8 4.8M559.5 291.6l4.8 4.8m0-4.8l-4.8 4.8M528 279.9l4.8 4.8m0-4.8l-4.8 4.8M453 269.1l4.8 4.8m0-4.8l-4.8 4.8M476.3 268.6l4.8 4.8m0-4.8l-4.8 4.8M493 261.1l4.8 4.8m0-4.8l-4.8 4.8M536.5 280.9l4.8 4.8m0-4.8l-4.8 4.8M533.2 272.8l4.8 4.8m0-4.8l-4.8 4.8M427.4 234.2l4.8 4.8m0-4.8l-4.8 4.8M549.8 272.7l4.8 4.8m0-4.8l-4.8 4.8M495.3 258.3l4.8 4.8m0-4.8l-4.8 4.8M563.6 277.1l4.8 4.8m0-4.8l-4.8 4.8M430.3 245l4.8 4.8m0-4.8l-4.8 4.8M451.6 265.1l4.8 4.8m0-4.8l-4.8 4.8M509.1 290.5l4.8 4.8m0-4.8l-4.8 4.8M431.8 247.8l4.8 4.8m0-4.8l-4.8 4.8M520.4 277.1l4.8 4.8m0-4.8l-4.8 4.8M539.9 258.3l4.8 4.8m0-4.8l-4.8 4.8M562.5 285.3l4.8 4.8m0-4.8l-4.8 4.8M487.1 265.4l4.8 4.8m0-4.8l-4.8 4.8M453.9 253.3l4.8 4.8m0-4.8l-4.8 4.8M533 258.4l4.8 4.8m0-4.8l-4.8 4.8M478 267.9l4.8 4.8m0-4.8l-4.8 4.8M497.4 294.2l4.8 4.8m0-4.8l-4.8 4.8M459.6 262.3l4.8 4.8m0-4.8l-4.8 4.8M555.8 294.8l4.8 4.8m0-4.8l-4.8 4.8M470.7 268l4.8 4.8m0-4.8l-4.8 4.8M481.4 274.7l4.8 4.8m0-4.8l-4.8 4.8M447.1 267.2l4.8 4.8m0-4.8l-4.8 4.8M430.6 250.3l4.8 4.8m0-4.8l-4.8 4.8M431.5 239.3l4.8 4.8m0-4.8l-4.8 4.8M515.4 278l4.8 4.8m0-4.8l-4.8 4.8M468.8 263l4.8 4.8m0-4.8l-4.8 4.8M471.7 258.8l4.8 4.8m0-4.8l-4.8 4.8M544.2 287.7l4.8 4.8m0-4.8l-4.8 4.8M496.9 282.6l4.8 4.8m0-4.8l-4.8 4.8M564 289.4l4.8 4.8m0-4.8l-4.8 4.8M428 245.2l4.8 4.8m0-4.8l-4.8 4.8M558.1 274.1l4.8 4.8m0-4.8l-4.8 4.8M528.1 276.2l4.8 4.8m0-4.8l-4.8 4.8M523.9 282.1l4.8 4.8m0-4.8l-4.8 4.8M498 269.6l4.8 4.8m0-4.8l-4.8 4.8M536.8 260.2l4.8 4.8m0-4.8l-4.8 4.8M514.4 262.3l4.8 4.8m0-4.8l-4.8 4.8M445.7 269.1l4.8 4.8m0-4.8l-4.8 4.8M553.8 294.7l4.8 4.8m0-4.8l-4.8 4.8M488.5 276l4.8 4.8m0-4.8l-4.8 4.8M500.9 285.2l4.8 4.8m0-4.8l-4.8 4.8M552.8 293.2l4.8 4.8m0-4.8l-4.8 4.8M541.3 260l4.8 4.8m0-4.8l-4.8 4.8M480.8 258.1l4.8 4.8m0-4.8l-4.8 4.8M511.3 290.5l4.8 4.8m0-4.8l-4.8 4.8M497.3 293.1l4.8 4.8m0-4.8l-4.8 4.8M466.9 280l4.8 4.8m0-4.8l-4.8 4.8M448.4 252.8l4.8 4.8m0-4.8l-4.8 4.8M495.7 260l4.8 4.8m0-4.8l-4.8 4.8M488.6 274l4.8 4.8m0-4.8l-4.8 4.8M492.8 273.3l4.8 4.8m0-4.8l-4.8 4.8M562.8 296.2l4.8 4.8m0-4.8l-4.8 4.8M450.9 271.4l4.8 4.8m0-4.8l-4.8 4.8M495.6 278.1l4.8 4.8m0-4.8l-4.8 4.8M439.8 255.2l4.8 4.8m0-4.8l-4.8 4.8M549.5 276.2l4.8 4.8m0-4.8l-4.8 4.8M471.1 268.3l4.8 4.8m0-4.8l-4.8 4.8M457.9 278.9l4.8 4.8m0-4.8l-4.8 4.8M466.2 271.1l4.8 4.8m0-4.8l-4.8 4.8M534.2 280.3l4.8 4.8m0-4.8l-4.8 4.8M548.3 292.3l4.8 4.8m0-4.8l-4.8 4.8M467.6 277.1l4.8 4.8m0-4.8l-4.8 4.8M535.9 289.8l4.8 4.8m0-4.8l-4.8 4.8M503.5 270.6l4.8 4.8m0-4.8l-4.8 4.8M528.1 274.8l4.8 4.8m0-4.8l-4.8 4.8M463.9 254.7l4.8 4.8m0-4.8l-4.8 4.8M492.1 278.8l4.8 4.8m0-4.8l-4.8 4.8M500.8 275.4l4.8 4.8m0-4.8l-4.8 4.8M436.2 265.9l4.8 4.8m0-4.8l-4.8 4.8M493.9 263.7l4.8 4.8m0-4.8l-4.8 4.8M474.3 264.6l4.8 4.8m0-4.8l-4.8 4.8M459.7 260.3l4.8 4.8m0-4.8l-4.8 4.8M536.9 275.8l4.8 4.8m0-4.8l-4.8 4.8M554.8 281.8l4.8 4.8m0-4.8l-4.8 4.8M476.8 282.4l4.8 4.8m0-4.8l-4.8 4.8M476.7 260.5l4.8 4.8m0-4.8l-4.8 4.8M533.6 279.4l4.8 4.8m0-4.8l-4.8 4.8M486.4 264.3l4.8 4.8m0-4.8l-4.8 4.8M430.3 244.8l4.8 4.8m0-4.8l-4.8 4.8M544.4 291.8l4.8 4.8m0-4.8l-4.8 4.8M433.6 250.6l4.8 4.8m0-4.8l-4.8 4.8M510.3 283.2l4.8 4.8m0-4.8l-4.8 4.8M482.4 253.6l4.8 4.8m0-4.8l-4.8 4.8M565.4 265.3l4.8 4.8m0-4.8l-4.8 4.8M447.2 266.9l4.8 4.8m0-4.8l-4.8 4.8M460.5 255.3l4.8 4.8m0-4.8l-4.8 4.8M511.2 274.9l4.8 4.8m0-4.8l-4.8 4.8M434.9 245.3l4.8 4.8m0-4.8l-4.8 4.8M563 289.3l4.8 4.8m0-4.8l-4.8 4.8M464.3 281.6l4.8 4.8m0-4.8l-4.8 4.8M543.8 287.6l4.8 4.8m0-4.8l-4.8 4.8M446.8 252.6l4.8 4.8m0-4.8l-4.8 4.8M519.6 280.9l4.8 4.8m0-4.8l-4.8 4.8M457.3 253.5l4.8 4.8m0-4.8l-4.8 4.8M471.7 261.6l4.8 4.8m0-4.8l-4.8 4.8M514.6 283.2l4.8 4.8m0-4.8l-4.8 4.8M562.6 282.4l4.8 4.8m0-4.8l-4.8 4.8M459.6 274.4l4.8 4.8m0-4.8l-4.8 4.8M427.5 240.3l4.8 4.8m0-4.8l-4.8 4.8M556.5 269.8l4.8 4.8m0-4.8l-4.8 4.8M472.4 273.9l4.8 4.8m0-4.8l-4.8 4.8M538.2 264.9l4.8 4.8m0-4.8l-4.8 4.8M467.4 275l4.8 4.8m0-4.8l-4.8 4.8M460.2 258l4.8 4.8m0-4.8l-4.8 4.8M491.2 263.8l4.8 4.8m0-4.8l-4.8 4.8M519.9 263.5l4.8 4.8m0-4.8l-4.8 4.8M500.4 298.1l4.8 4.8m0-4.8l-4.8 4.8M517.8 290.6l4.8 4.8m0-4.8l-4.8 4.8M545.5 274.5l4.8 4.8m0-4.8l-4.8 4.8M521.4 269.4l4.8 4.8m0-4.8l-4.8 4.8M545 265.6l4.8 4.8m0-4.8l-4.8 4.8M554.6 266.1l4.8 4.8m0-4.8l-4.8 4.8M459 259.6l4.8 4.8m0-4.8l-4.8 4.8M473.1 261.4l4.8 4.8m0-4.8l-4.8 4.8M502.7 268.5l4.8 4.8m0-4.8l-4.8 4.8M435.8 261.8l4.8 4.8m0-4.8l-4.8 4.8M440.8 268.9l4.8 4.8m0-4.8l-4.8 4.8M547.4 262.3l4.8 4.8m0-4.8l-4.8 4.8M472.8 269.7l4.8 4.8m0-4.8l-4.8 4.8M505 262.2l4.8 4.8m0-4.8l-4.8 4.8M434.7 240.8l4.8 4.8m0-4.8l-4.8 4.8M426.8 243.6l4.8 4.8m0-4.8l-4.8 4.8M526.5 282.9l4.8 4.8m0-4.8l-4.8 4.8M514.5 275l4.8 4.8m0-4.8l-4.8 4.8M491.6 268.5l4.8 4.8m0-4.8l-4.8 4.8M539.7 280.9l4.8 4.8m0-4.8l-4.8 4.8M532.6 273l4.8 4.8m0-4.8l-4.8 4.8M549.8 261.9l4.8 4.8m0-4.8l-4.8 4.8M465.1 255.3l4.8 4.8m0-4.8l-4.8 4.8M426.6 238.8l4.8 4.8m0-4.8l-4.8 4.8M488.1 257l4.8 4.8m0-4.8l-4.8 4.8M444.8 252.8l4.8 4.8m0-4.8l-4.8 4.8M550.7 281.1l4.8 4.8m0-4.8l-4.8 4.8M482.4 271.7l4.8 4.8m0-4.8l-4.8 4.8M484.8 267.4l4.8 4.8m0-4.8l-4.8 4.8M433 268.6l4.8 4.8m0-4.8l-4.8 4.8M506.6 291.8l4.8 4.8m0-4.8l-4.8 4.8M552 262l4.8 4.8m0-4.8l-4.8 4.8M431.1 239.8l4.8 4.8m0-4.8l-4.8 4.8M447 253.5l4.8 4.8m0-4.8l-4.8 4.8M479 289.9l4.8 4.8m0-4.8l-4.8 4.8M507.7 292.4l4.8 4.8m0-4.8l-4.8 4.8M494.2 300.7l4.8 4.8m0-4.8l-4.8 4.8M549.1 262.3l4.8 4.8m0-4.8l-4.8 4.8M519.5 317.8l4.8 4.8m0-4.8l-4.8 4.8M540.3 279.8l4.8 4.8m0-4.8l-4.8 4.8M479.5 255.1l4.8 4.8m0-4.8l-4.8 4.8M461.5 255.4l4.8 4.8m0-4.8l-4.8 4.8M432.5 257.1l4.8 4.8m0-4.8l-4.8 4.8M495 265.8l4.8 4.8m0-4.8l-4.8 4.8M524.8 265.1l4.8 4.8m0-4.8l-4.8 4.8M554.1 265.4l4.8 4.8m0-4.8l-4.8 4.8M451 255.5l4.8 4.8m0-4.8l-4.8 4.8M559.8 307.2l4.8 4.8m0-4.8l-4.8 4.8M451.4 292.8l4.8 4.8m0-4.8l-4.8 4.8M427.3 244l4.8 4.8m0-4.8l-4.8 4.8M488.5 258.3l4.8 4.8m0-4.8l-4.8 4.8M508.2 260.5l4.8 4.8m0-4.8l-4.8 4.8M498.2 293.5l4.8 4.8m0-4.8l-4.8 4.8M483.1 295.4l4.8 4.8m0-4.8l-4.8 4.8M551.2 263.7l4.8 4.8m0-4.8l-4.8 4.8M452.7 253.1l4.8 4.8m0-4.8l-4.8 4.8M473.2 256.8l4.8 4.8m0-4.8l-4.8 4.8M465.9 256.4l4.8 4.8m0-4.8l-4.8 4.8M491.7 260.6l4.8 4.8m0-4.8l-4.8 4.8M555.8 299.2l4.8 4.8m0-4.8l-4.8 4.8M473.6 271.8l4.8 4.8m0-4.8l-4.8 4.8M434.6 242.2l4.8 4.8m0-4.8l-4.8 4.8M540.4 260.8l4.8 4.8m0-4.8l-4.8 4.8M475.4 259.7l4.8 4.8m0-4.8l-4.8 4.8M452.7 256l4.8 4.8m0-4.8l-4.8 4.8M454.1 294.3l4.8 4.8m0-4.8l-4.8 4.8M457 275.6l4.8 4.8m0-4.8l-4.8 4.8M456.9 295.1l4.8 4.8m0-4.8l-4.8 4.8M551.2 278l4.8 4.8m0-4.8l-4.8 4.8M558.5 293.5l4.8 4.8m0-4.8l-4.8 4.8M551.6 278.8l4.8 4.8m0-4.8l-4.8 4.8M433.8 241.4l4.8 4.8m0-4.8l-4.8 4.8M543.4 313.7l4.8 4.8m0-4.8l-4.8 4.8M482.7 294.3l4.8 4.8m0-4.8l-4.8 4.8M552.9 268.3l4.8 4.8m0-4.8l-4.8 4.8M531.7 295.9l4.8 4.8m0-4.8l-4.8 4.8M518.7 260.5l4.8 4.8m0-4.8l-4.8 4.8M429.9 240l4.8 4.8m0-4.8l-4.8 4.8M461.1 269.5l4.8 4.8m0-4.8l-4.8 4.8M473.3 265.5l4.8 4.8m0-4.8l-4.8 4.8M467.7 256.9l4.8 4.8m0-4.8l-4.8 4.8M462.7 278l4.8 4.8m0-4.8l-4.8 4.8M462.9 294.1l4.8 4.8m0-4.8l-4.8 4.8M547.9 274.8l4.8 4.8m0-4.8l-4.8 4.8M465 277.5l4.8 4.8m0-4.8l-4.8 4.8M550.4 300.6l4.8 4.8m0-4.8l-4.8 4.8M452.8 256l4.8 4.8m0-4.8l-4.8 4.8M429.4 257.9l4.8 4.8m0-4.8l-4.8 4.8M462.6 263.8l4.8 4.8m0-4.8l-4.8 4.8M532.8 265.1l4.8 4.8m0-4.8l-4.8 4.8M526.4 257.2l4.8 4.8m0-4.8l-4.8 4.8M480.9 254l4.8 4.8m0-4.8l-4.8 4.8M540.5 266.2l4.8 4.8m0-4.8l-4.8 4.8M539.6 294.7l4.8 4.8m0-4.8l-4.8 4.8M438.4 250.9l4.8 4.8m0-4.8l-4.8 4.8M536.7 288.9l4.8 4.8m0-4.8l-4.8 4.8M482.9 254.5l4.8 4.8m0-4.8l-4.8 4.8M446.6 257.8l4.8 4.8m0-4.8l-4.8 4.8M493.3 279.2l4.8 4.8m0-4.8l-4.8 4.8M547.6 290.1l4.8 4.8m0-4.8l-4.8 4.8M502.4 271.2l4.8 4.8m0-4.8l-4.8 4.8M510.6 256.3l4.8 4.8m0-4.8l-4.8 4.8M428.7 242.7l4.8 4.8m0-4.8l-4.8 4.8M484.4 292.5l4.8 4.8m0-4.8l-4.8 4.8M455.9 260.9l4.8 4.8m0-4.8l-4.8 4.8M458.7 276.3l4.8 4.8m0-4.8l-4.8 4.8M538 260.8l4.8 4.8m0-4.8l-4.8 4.8M477.9 279.4l4.8 4.8m0-4.8l-4.8 4.8M528.8 294.7l4.8 4.8m0-4.8l-4.8 4.8M446.1 275.7l4.8 4.8m0-4.8l-4.8 4.8M487.3 294.6l4.8 4.8m0-4.8l-4.8 4.8M450.6 285.8l4.8 4.8m0-4.8l-4.8 4.8M554.3 284.5l4.8 4.8m0-4.8l-4.8 4.8M446.8 257.8l4.8 4.8m0-4.8l-4.8 4.8M475.5 294l4.8 4.8m0-4.8l-4.8 4.8M447.2 260.4l4.8 4.8m0-4.8l-4.8 4.8M475.6 271.3l4.8 4.8m0-4.8l-4.8 4.8M527.3 257.5l4.8 4.8m0-4.8l-4.8 4.8M456 254.5l4.8 4.8m0-4.8l-4.8 4.8M493.4 278.9l4.8 4.8m0-4.8l-4.8 4.8M535.6 291.9l4.8 4.8m0-4.8l-4.8 4.8M445.8 294.8l4.8 4.8m0-4.8l-4.8 4.8M424.7 230.8l4.8 4.8m0-4.8l-4.8 4.8M513.2 286.1l4.8 4.8m0-4.8l-4.8 4.8M478.6 279.4l4.8 4.8m0-4.8l-4.8 4.8M487.4 260.6l4.8 4.8m0-4.8l-4.8 4.8M467.6 265.9l4.8 4.8m0-4.8l-4.8 4.8M438 270l4.8 4.8m0-4.8l-4.8 4.8M446.7 267.9l4.8 4.8m0-4.8l-4.8 4.8M556 300.6l4.8 4.8m0-4.8l-4.8 4.8M540.2 262.9l4.8 4.8m0-4.8l-4.8 4.8M538.4 260l4.8 4.8m0-4.8l-4.8 4.8M454.9 258.3l4.8 4.8m0-4.8l-4.8 4.8M520.1 321.5l4.8 4.8m0-4.8l-4.8 4.8M453.1 266.4l4.8 4.8m0-4.8l-4.8 4.8M463.7 281.8l4.8 4.8m0-4.8l-4.8 4.8M423.9 239.3l4.8 4.8m0-4.8l-4.8 4.8M465.6 257.4l4.8 4.8m0-4.8l-4.8 4.8M541.4 292.6l4.8 4.8m0-4.8l-4.8 4.8M535.9 305.3l4.8 4.8m0-4.8l-4.8 4.8M487.8 265.5l4.8 4.8m0-4.8l-4.8 4.8M536.5 276l4.8 4.8m0-4.8l-4.8 4.8M457.5 273.6l4.8 4.8m0-4.8l-4.8 4.8M485.5 284.6l4.8 4.8m0-4.8l-4.8 4.8M547.9 298.3l4.8 4.8m0-4.8l-4.8 4.8M432.3 248.8l4.8 4.8m0-4.8l-4.8 4.8M486.7 254.3l4.8 4.8m0-4.8l-4.8 4.8M463.9 255.1l4.8 4.8m0-4.8l-4.8 4.8M524.1 260.7l4.8 4.8m0-4.8l-4.8 4.8M448 286.4l4.8 4.8m0-4.8l-4.8 4.8M461.1 279l4.8 4.8m0-4.8l-4.8 4.8M518 285.4l4.8 4.8m0-4.8l-4.8 4.8M433.5 242.8l4.8 4.8m0-4.8l-4.8 4.8M541 270.7l4.8 4.8m0-4.8l-4.8 4.8M465.8 268.8l4.8 4.8m0-4.8l-4.8 4.8M427.4 244.7l4.8 4.8m0-4.8l-4.8 4.8M533.7 313.8l4.8 4.8m0-4.8l-4.8 4.8M467.9 280l4.8 4.8m0-4.8l-4.8 4.8M557.5 304.9l4.8 4.8m0-4.8l-4.8 4.8M488.9 300.5l4.8 4.8m0-4.8l-4.8 4.8M500.6 278.2l4.8 4.8m0-4.8l-4.8 4.8M505.3 252.1l4.8 4.8m0-4.8l-4.8 4.8M478.8 269l4.8 4.8m0-4.8l-4.8 4.8M535.7 280l4.8 4.8m0-4.8l-4.8 4.8M472.2 301l4.8 4.8m0-4.8l-4.8 4.8M433.7 242.5l4.8 4.8m0-4.8l-4.8 4.8M472.6 301.7l4.8 4.8m0-4.8l-4.8 4.8M489.7 264.9l4.8 4.8m0-4.8l-4.8 4.8M540.9 264.3l4.8 4.8m0-4.8l-4.8 4.8M537.7 260.4l4.8 4.8m0-4.8l-4.8 4.8M507.9 314.7l4.8 4.8m0-4.8l-4.8 4.8M509.3 261.2l4.8 4.8m0-4.8l-4.8 4.8M453.1 284.4l4.8 4.8m0-4.8l-4.8 4.8M460.7 296.5l4.8 4.8m0-4.8l-4.8 4.8M484.3 253.7l4.8 4.8m0-4.8l-4.8 4.8M527.4 291.9l4.8 4.8m0-4.8l-4.8 4.8M518.9 255.7l4.8 4.8m0-4.8l-4.8 4.8M475.8 269.2l4.8 4.8m0-4.8l-4.8 4.8M554.1 262.1l4.8 4.8m0-4.8l-4.8 4.8M484.5 260.8l4.8 4.8m0-4.8l-4.8 4.8M512.5 271.8l4.8 4.8m0-4.8l-4.8 4.8M468.3 268.5l4.8 4.8m0-4.8l-4.8 4.8M500.7 255l4.8 4.8m0-4.8l-4.8 4.8M468.5 259.7l4.8 4.8m0-4.8l-4.8 4.8M462.3 262.4l4.8 4.8m0-4.8l-4.8 4.8M462.1 262.7l4.8 4.8m0-4.8l-4.8 4.8M521 260.8l4.8 4.8m0-4.8l-4.8 4.8M559.6 262.5l4.8 4.8m0-4.8l-4.8 4.8M464.8 282.1l4.8 4.8m0-4.8l-4.8 4.8M516.6 263.7l4.8 4.8m0-4.8l-4.8 4.8M463.3 281.2l4.8 4.8m0-4.8l-4.8 4.8M476.6 288.2l4.8 4.8m0-4.8l-4.8 4.8M553.2 263.1l4.8 4.8m0-4.8l-4.8 4.8M519.4 260.6l4.8 4.8m0-4.8l-4.8 4.8M503.9 306.8l4.8 4.8m0-4.8l-4.8 4.8M513.8 308.5l4.8 4.8m0-4.8l-4.8 4.8M471.3 261l4.8 4.8m0-4.8l-4.8 4.8M500.4 265.3l4.8 4.8m0-4.8l-4.8 4.8M497.9 261.3l4.8 4.8m0-4.8l-4.8 4.8M452.4 271.8l4.8 4.8m0-4.8l-4.8 4.8M438.6 249.1l4.8 4.8m0-4.8l-4.8 4.8M435.4 262.4l4.8 4.8m0-4.8l-4.8 4.8M445.1 254.8l4.8 4.8m0-4.8l-4.8 4.8M545.8 278.3l4.8 4.8m0-4.8l-4.8 4.8M489.6 262l4.8 4.8m0-4.8l-4.8 4.8M496.8 296.5l4.8 4.8m0-4.8l-4.8 4.8M474.3 257.8l4.8 4.8m0-4.8l-4.8 4.8M448.9 275.8l4.8 4.8m0-4.8l-4.8 4.8M491.3 298.7l4.8 4.8m0-4.8l-4.8 4.8M454.2 278.7l4.8 4.8m0-4.8l-4.8 4.8M478.5 259.9l4.8 4.8m0-4.8l-4.8 4.8M525.7 265l4.8 4.8m0-4.8l-4.8 4.8M454.3 264.5l4.8 4.8m0-4.8l-4.8 4.8M483.7 253.5l4.8 4.8m0-4.8l-4.8 4.8M564.3 275.3l4.8 4.8m0-4.8l-4.8 4.8M474.6 257.5l4.8 4.8m0-4.8l-4.8 4.8M443.6 252.1l4.8 4.8m0-4.8l-4.8 4.8M432.7 249.5l4.8 4.8m0-4.8l-4.8 4.8M515.5 305.9l4.8 4.8m0-4.8l-4.8 4.8M460.1 286.7l4.8 4.8m0-4.8l-4.8 4.8M530.1 258.5l4.8 4.8m0-4.8l-4.8 4.8M450.8 255l4.8 4.8m0-4.8l-4.8 4.8M547.8 294.5l4.8 4.8m0-4.8l-4.8 4.8M431.5 240.7l4.8 4.8m0-4.8l-4.8 4.8M445.7 270l4.8 4.8m0-4.8l-4.8 4.8M484.2 299.1l4.8 4.8m0-4.8l-4.8 4.8M543 266.3l4.8 4.8m0-4.8l-4.8 4.8M461.6 268.6l4.8 4.8m0-4.8l-4.8 4.8M480.8 287l4.8 4.8m0-4.8l-4.8 4.8M450.1 287.6l4.8 4.8m0-4.8l-4.8 4.8M507.2 268.3l4.8 4.8m0-4.8l-4.8 4.8M561.7 270.6l4.8 4.8m0-4.8l-4.8 4.8M533.5 313.4l4.8 4.8m0-4.8l-4.8 4.8M550.9 316.3l4.8 4.8m0-4.8l-4.8 4.8M486.2 285.7l4.8 4.8m0-4.8l-4.8 4.8M542.5 266.8l4.8 4.8m0-4.8l-4.8 4.8M487.6 297.4l4.8 4.8m0-4.8l-4.8 4.8M535 266.2l4.8 4.8m0-4.8l-4.8 4.8M533.9 260.3l4.8 4.8m0-4.8l-4.8 4.8M479.1 272.7l4.8 4.8m0-4.8l-4.8 4.8M466.6 255.5l4.8 4.8m0-4.8l-4.8 4.8M505.1 278.3l4.8 4.8m0-4.8l-4.8 4.8M517.8 258.4l4.8 4.8m0-4.8l-4.8 4.8M432.6 240l4.8 4.8m0-4.8l-4.8 4.8M500.7 254.9l4.8 4.8m0-4.8l-4.8 4.8M451.8 265.9l4.8 4.8m0-4.8l-4.8 4.8M476.6 280l4.8 4.8m0-4.8l-4.8 4.8M441.7 262.3l4.8 4.8m0-4.8l-4.8 4.8M483.2 255.8l4.8 4.8m0-4.8l-4.8 4.8M553.3 311.4l4.8 4.8m0-4.8l-4.8 4.8M561.3 266.8l4.8 4.8m0-4.8l-4.8 4.8M425.9 241l4.8 4.8m0-4.8l-4.8 4.8M552.2 269.7l4.8 4.8m0-4.8l-4.8 4.8M465.2 287.7l4.8 4.8m0-4.8l-4.8 4.8M502 277.4l4.8 4.8m0-4.8l-4.8 4.8M524.8 276.8l4.8 4.8m0-4.8l-4.8 4.8M540.5 280.1l4.8 4.8m0-4.8l-4.8 4.8M528.7 257.8l4.8 4.8m0-4.8l-4.8 4.8M491.8 296.6l4.8 4.8m0-4.8l-4.8 4.8M492.6 281.5l4.8 4.8m0-4.8l-4.8 4.8M498.9 312.4l4.8 4.8m0-4.8l-4.8 4.8M433.4 243.9l4.8 4.8m0-4.8l-4.8 4.8M446.4 285.9l4.8 4.8m0-4.8l-4.8 4.8M562.8 266.1l4.8 4.8m0-4.8l-4.8 4.8M463.6 258.9l4.8 4.8m0-4.8l-4.8 4.8M509.6 291.5l4.8 4.8m0-4.8l-4.8 4.8M459.2 288l4.8 4.8m0-4.8l-4.8 4.8M487.5 268.6l4.8 4.8m0-4.8l-4.8 4.8M475 267.8l4.8 4.8m0-4.8l-4.8 4.8M427.2 233.2l4.8 4.8m0-4.8l-4.8 4.8M561.8 268.2l4.8 4.8m0-4.8l-4.8 4.8M472.9 301.7l4.8 4.8m0-4.8l-4.8 4.8M467 256.2l4.8 4.8m0-4.8l-4.8 4.8M547.7 271.7l4.8 4.8m0-4.8l-4.8 4.8M515.8 263.4l4.8 4.8m0-4.8l-4.8 4.8M440.7 250.8l4.8 4.8m0-4.8l-4.8 4.8M532.8 278l4.8 4.8m0-4.8l-4.8 4.8M517.9 294.1l4.8 4.8m0-4.8l-4.8 4.8M504.8 283.8l4.8 4.8m0-4.8l-4.8 4.8M450.3 254.5l4.8 4.8m0-4.8l-4.8 4.8M485.4 290.6l4.8 4.8m0-4.8l-4.8 4.8M454.6 283.1l4.8 4.8m0-4.8l-4.8 4.8M541.5 293.2l4.8 4.8m0-4.8l-4.8 4.8M438 246.5l4.8 4.8m0-4.8l-4.8 4.8M538.8 263.7l4.8 4.8m0-4.8l-4.8 4.8M425.7 238l4.8 4.8m0-4.8l-4.8 4.8M522.8 304.1l4.8 4.8m0-4.8l-4.8 4.8M525.3 282l4.8 4.8m0-4.8l-4.8 4.8M474.3 297.5l4.8 4.8m0-4.8l-4.8 4.8M460.9 266.1l4.8 4.8m0-4.8l-4.8 4.8M438.4 262.5l4.8 4.8m0-4.8l-4.8 4.8M521.3 276.6l4.8 4.8m0-4.8l-4.8 4.8M476.4 255.9l4.8 4.8m0-4.8l-4.8 4.8M513.8 256l4.8 4.8m0-4.8l-4.8 4.8M531.7 283.1l4.8 4.8m0-4.8l-4.8 4.8M546.6 287.8l4.8 4.8m0-4.8l-4.8 4.8M532 264.6l4.8 4.8m0-4.8l-4.8 4.8M557.9 283.4l4.8 4.8m0-4.8l-4.8 4.8M501.3 264.9l4.8 4.8m0-4.8l-4.8 4.8M543.9 285.5l4.8 4.8m0-4.8l-4.8 4.8M502.2 278.9l4.8 4.8m0-4.8l-4.8 4.8M535.5 316.1l4.8 4.8m0-4.8l-4.8 4.8M450.8 295.1l4.8 4.8m0-4.8l-4.8 4.8M463.3 265.7l4.8 4.8m0-4.8l-4.8 4.8M528.2 298.4l4.8 4.8m0-4.8l-4.8 4.8M471.6 261.8l4.8 4.8m0-4.8l-4.8 4.8M498.8 272.7l4.8 4.8m0-4.8l-4.8 4.8M480.3 259.9l4.8 4.8m0-4.8l-4.8 4.8M424.1 240.4l4.8 4.8m0-4.8l-4.8 4.8M472.7 296.4l4.8 4.8m0-4.8l-4.8 4.8M512.7 257.1l4.8 4.8m0-4.8l-4.8 4.8M448.1 259.3l4.8 4.8m0-4.8l-4.8 4.8M450.7 253.2l4.8 4.8m0-4.8l-4.8 4.8M532.7 275.1l4.8 4.8m0-4.8l-4.8 4.8M444.3 263.7l4.8 4.8m0-4.8l-4.8 4.8M520.4 305l4.8 4.8m0-4.8l-4.8 4.8M485.1 256.4l4.8 4.8m0-4.8l-4.8 4.8M427.8 242.3l4.8 4.8m0-4.8l-4.8 4.8M498.4 319.3l4.8 4.8m0-4.8l-4.8 4.8M458.1 254.5l4.8 4.8m0-4.8l-4.8 4.8M498.7 289l4.8 4.8m0-4.8l-4.8 4.8M456.2 258.5l4.8 4.8m0-4.8l-4.8 4.8M449.5 285.7l4.8 4.8m0-4.8l-4.8 4.8M505.2 255.2l4.8 4.8m0-4.8l-4.8 4.8M474.2 260.5l4.8 4.8m0-4.8l-4.8 4.8M425.7 243.9l4.8 4.8m0-4.8l-4.8 4.8M533.1 266.2l4.8 4.8m0-4.8l-4.8 4.8M471.9 297.7l4.8 4.8m0-4.8l-4.8 4.8M460.4 279.8l4.8 4.8m0-4.8l-4.8 4.8M554.4 268l4.8 4.8m0-4.8l-4.8 4.8M535.3 266.8l4.8 4.8m0-4.8l-4.8 4.8M563.4 265.7l4.8 4.8m0-4.8l-4.8 4.8M447.6 274.9l4.8 4.8m0-4.8l-4.8 4.8M472.1 267.7l4.8 4.8m0-4.8l-4.8 4.8M545.8 262.7l4.8 4.8m0-4.8l-4.8 4.8M454.9 273.1l4.8 4.8m0-4.8l-4.8 4.8M456.2 265.1l4.8 4.8m0-4.8l-4.8 4.8M453.8 273.8l4.8 4.8m0-4.8l-4.8 4.8M516.7 256l4.8 4.8m0-4.8l-4.8 4.8M535.9 311l4.8 4.8m0-4.8l-4.8 4.8M465.7 286.3l4.8 4.8m0-4.8l-4.8 4.8M466.8 294.8l4.8 4.8m0-4.8l-4.8 4.8M560 292.2l4.8 4.8m0-4.8l-4.8 4.8M481.5 261.2l4.8 4.8m0-4.8l-4.8 4.8M449 288.2l4.8 4.8m0-4.8l-4.8 4.8M556.6 292l4.8 4.8m0-4.8l-4.8 4.8M554.6 269.3l4.8 4.8m0-4.8l-4.8 4.8M434.3 250.7l4.8 4.8m0-4.8l-4.8 4.8M566.3 287.7l4.8 4.8m0-4.8l-4.8 4.8M543 286.7l4.8 4.8m0-4.8l-4.8 4.8M481.7 267.5l4.8 4.8m0-4.8l-4.8 4.8M457.2 262.7l4.8 4.8m0-4.8l-4.8 4.8M560.6 310.7l4.8 4.8m0-4.8l-4.8 4.8M510.6 291.3l4.8 4.8m0-4.8l-4.8 4.8M469.1 277.3l4.8 4.8m0-4.8l-4.8 4.8M552.3 261.7l4.8 4.8m0-4.8l-4.8 4.8M562.9 265.7l4.8 4.8m0-4.8l-4.8 4.8M429 235.5l4.8 4.8m0-4.8l-4.8 4.8M480.7 283l4.8 4.8m0-4.8l-4.8 4.8M457.1 296.2l4.8 4.8m0-4.8l-4.8 4.8M532.8 260.5l4.8 4.8m0-4.8l-4.8 4.8M534.8 262.9l4.8 4.8m0-4.8l-4.8 4.8M525 257.1l4.8 4.8m0-4.8l-4.8 4.8M537.6 268.5l4.8 4.8m0-4.8l-4.8 4.8M521.5 256.5l4.8 4.8m0-4.8l-4.8 4.8M494.4 266.3l4.8 4.8m0-4.8l-4.8 4.8M443.5 259.3l4.8 4.8m0-4.8l-4.8 4.8M562.4 262.9l4.8 4.8m0-4.8l-4.8 4.8M560.9 270.2l4.8 4.8m0-4.8l-4.8 4.8M538.3 299.6l4.8 4.8m0-4.8l-4.8 4.8M506.3 281.5l4.8 4.8m0-4.8l-4.8 4.8M562.1 275.5l4.8 4.8m0-4.8l-4.8 4.8M538.8 275.5l4.8 4.8m0-4.8l-4.8 4.8M469.1 302.9l4.8 4.8m0-4.8l-4.8 4.8M442.6 289.8l4.8 4.8m0-4.8l-4.8 4.8M529.5 260.6l4.8 4.8m0-4.8l-4.8 4.8M550.4 261.1l4.8 4.8m0-4.8l-4.8 4.8M526 314.5l4.8 4.8m0-4.8l-4.8 4.8M532.3 308.8l4.8 4.8m0-4.8l-4.8 4.8M522.8 294.8l4.8 4.8m0-4.8l-4.8 4.8M553 311l4.8 4.8m0-4.8l-4.8 4.8M475.4 258.1l4.8 4.8m0-4.8l-4.8 4.8M477 256.3l4.8 4.8m0-4.8l-4.8 4.8M552.7 273.6l4.8 4.8m0-4.8l-4.8 4.8M563.1 264.7l4.8 4.8m0-4.8l-4.8 4.8M488.2 274.8l4.8 4.8m0-4.8l-4.8 4.8M475.7 281.7l4.8 4.8m0-4.8l-4.8 4.8M460.5 254.7l4.8 4.8m0-4.8l-4.8 4.8M550.3 279.6l4.8 4.8m0-4.8l-4.8 4.8M469.3 286.6l4.8 4.8m0-4.8l-4.8 4.8M437.2 249.9l4.8 4.8m0-4.8l-4.8 4.8M493.4 293.2l4.8 4.8m0-4.8l-4.8 4.8M506.8 271.2l4.8 4.8m0-4.8l-4.8 4.8M512.6 314.5l4.8 4.8m0-4.8l-4.8 4.8M476.3 258.1l4.8 4.8m0-4.8l-4.8 4.8M500 256.8l4.8 4.8m0-4.8l-4.8 4.8M457.6 276.3l4.8 4.8m0-4.8l-4.8 4.8M487.2 256.5l4.8 4.8m0-4.8l-4.8 4.8M422.6 235.2l4.8 4.8m0-4.8l-4.8 4.8M543.8 285.8l4.8 4.8m0-4.8l-4.8 4.8M502.9 266.1l4.8 4.8m0-4.8l-4.8 4.8M561.9 317.6l4.8 4.8m0-4.8l-4.8 4.8M558.8 287.7l4.8 4.8m0-4.8l-4.8 4.8M517.1 314.5l4.8 4.8m0-4.8l-4.8 4.8M455.7 266.9l4.8 4.8m0-4.8l-4.8 4.8M504.2 254.4l4.8 4.8m0-4.8l-4.8 4.8M507.4 280.8l4.8 4.8m0-4.8l-4.8 4.8M555.4 275.6l4.8 4.8m0-4.8l-4.8 4.8M481.1 270.9l4.8 4.8m0-4.8l-4.8 4.8M422.8 227.6l4.8 4.8m0-4.8l-4.8 4.8M426.5 247.4l4.8 4.8m0-4.8l-4.8 4.8M547.3 295.3l4.8 4.8m0-4.8l-4.8 4.8M459.8 274.3l4.8 4.8m0-4.8l-4.8 4.8M444.1 264.7l4.8 4.8m0-4.8l-4.8 4.8M498.1 287.6l4.8 4.8m0-4.8l-4.8 4.8M439.9 286.1l4.8 4.8m0-4.8l-4.8 4.8M507.2 321.3l4.8 4.8m0-4.8l-4.8 4.8M435.7 265.4l4.8 4.8m0-4.8l-4.8 4.8M540.2 316.8l4.8 4.8m0-4.8l-4.8 4.8M456.4 260.2l4.8 4.8m0-4.8l-4.8 4.8M551 291l4.8 4.8m0-4.8l-4.8 4.8M438.4 264.1l4.8 4.8m0-4.8l-4.8 4.8M465.3 287.2l4.8 4.8m0-4.8l-4.8 4.8M437.6 270.2l4.8 4.8m0-4.8l-4.8 4.8M480.1 256.1l4.8 4.8m0-4.8l-4.8 4.8M458.9 285.9l4.8 4.8m0-4.8l-4.8 4.8M558.8 314.9l4.8 4.8m0-4.8l-4.8 4.8M428.1 251.9l4.8 4.8m0-4.8l-4.8 4.8M512.7 268.1l4.8 4.8m0-4.8l-4.8 4.8M428 246.1l4.8 4.8m0-4.8l-4.8 4.8M499.6 259.3l4.8 4.8m0-4.8l-4.8 4.8M499.4 255.9l4.8 4.8m0-4.8l-4.8 4.8M558.3 303.7l4.8 4.8m0-4.8l-4.8 4.8M528 316.2l4.8 4.8m0-4.8l-4.8 4.8M448.1 263.8l4.8 4.8m0-4.8l-4.8 4.8M559.9 309l4.8 4.8m0-4.8l-4.8 4.8M514.7 257.1l4.8 4.8m0-4.8l-4.8 4.8M493.6 273.6l4.8 4.8m0-4.8l-4.8 4.8M499.8 262l4.8 4.8m0-4.8l-4.8 4.8M454.3 259l4.8 4.8m0-4.8l-4.8 4.8M457.9 298.1l4.8 4.8m0-4.8l-4.8 4.8M582.6 322.8l4.8 4.8m0-4.8l-4.8 4.8M602.8 326.3l4.8 4.8m0-4.8l-4.8 4.8M579.2 314.3l4.8 4.8m0-4.8l-4.8 4.8M592.2 301.8l4.8 4.8m0-4.8l-4.8 4.8M599.9 289.6l4.8 4.8m0-4.8l-4.8 4.8M578.8 295.6l4.8 4.8m0-4.8l-4.8 4.8M583.9 304.2l4.8 4.8m0-4.8l-4.8 4.8M598.8 326.6l4.8 4.8m0-4.8l-4.8 4.8M591.9 289.1l4.8 4.8m0-4.8l-4.8 4.8M588.6 302.7l4.8 4.8m0-4.8l-4.8 4.8M597.4 315.3l4.8 4.8m0-4.8l-4.8 4.8M581.1 300.4l4.8 4.8m0-4.8l-4.8 4.8M579 289.8l4.8 4.8m0-4.8l-4.8 4.8M590.4 306.7l4.8 4.8m0-4.8l-4.8 4.8M581.9 307.6l4.8 4.8m0-4.8l-4.8 4.8M589.3 302.1l4.8 4.8m0-4.8l-4.8 4.8M580.7 319.1l4.8 4.8m0-4.8l-4.8 4.8M591.8 296.5l4.8 4.8m0-4.8l-4.8 4.8M594.8 331.1l4.8 4.8m0-4.8l-4.8 4.8M601.7 313.8l4.8 4.8m0-4.8l-4.8 4.8M594.2 286.6l4.8 4.8m0-4.8l-4.8 4.8M599.2 315.5l4.8 4.8m0-4.8l-4.8 4.8M584.8 308.9l4.8 4.8m0-4.8l-4.8 4.8M590.8 326.1l4.8 4.8m0-4.8l-4.8 4.8M593.5 293.2l4.8 4.8m0-4.8l-4.8 4.8M582.8 303.9l4.8 4.8m0-4.8l-4.8 4.8M591.8 322.4l4.8 4.8m0-4.8l-4.8 4.8M599.7 325.9l4.8 4.8m0-4.8l-4.8 4.8M597.8 328.9l4.8 4.8m0-4.8l-4.8 4.8M600.5 319.6l4.8 4.8m0-4.8l-4.8 4.8M595.7 301.4l4.8 4.8m0-4.8l-4.8 4.8M595.1 296.5l4.8 4.8m0-4.8l-4.8 4.8M585.1 312l4.8 4.8m0-4.8l-4.8 4.8M593.1 299.3l4.8 4.8m0-4.8l-4.8 4.8M588.6 315.9l4.8 4.8m0-4.8l-4.8 4.8M593.9 328l4.8 4.8m0-4.8l-4.8 4.8M591.8 313.7l4.8 4.8m0-4.8l-4.8 4.8M595.4 317.1l4.8 4.8m0-4.8l-4.8 4.8M579.8 300.3l4.8 4.8m0-4.8l-4.8 4.8M586.3 329l4.8 4.8m0-4.8l-4.8 4.8M579.5 288.7l4.8 4.8m0-4.8l-4.8 4.8M590.9 325.8l4.8 4.8m0-4.8l-4.8 4.8M580 306.7l4.8 4.8m0-4.8l-4.8 4.8M589.2 330.2l4.8 4.8m0-4.8l-4.8 4.8M591.9 308.8l4.8 4.8m0-4.8l-4.8 4.8M592.8 327.2l4.8 4.8m0-4.8l-4.8 4.8M578.6 303.7l4.8 4.8m0-4.8l-4.8 4.8M578.5 309l4.8 4.8m0-4.8l-4.8 4.8M588.1 292.3l4.8 4.8m0-4.8l-4.8 4.8M591.5 325.5l4.8 4.8m0-4.8l-4.8 4.8M582 294.6l4.8 4.8m0-4.8l-4.8 4.8M584.1 304.9l4.8 4.8m0-4.8l-4.8 4.8M587.1 318.2l4.8 4.8m0-4.8l-4.8 4.8M587.5 303.7l4.8 4.8m0-4.8l-4.8 4.8M587.3 316.8l4.8 4.8m0-4.8l-4.8 4.8M587.3 293.1l4.8 4.8m0-4.8l-4.8 4.8M602.6 296.7l4.8 4.8m0-4.8l-4.8 4.8M597.3 314.6l4.8 4.8m0-4.8l-4.8 4.8M596.5 301l4.8 4.8m0-4.8l-4.8 4.8M602.9 321l4.8 4.8m0-4.8l-4.8 4.8M578.5 308.8l4.8 4.8m0-4.8l-4.8 4.8M595.9 317.5l4.8 4.8m0-4.8l-4.8 4.8M602.5 323l4.8 4.8m0-4.8l-4.8 4.8M594.3 292.7l4.8 4.8m0-4.8l-4.8 4.8M602.8 314.2l4.8 4.8m0-4.8l-4.8 4.8M596.5 325.6l4.8 4.8m0-4.8l-4.8 4.8M590.8 326l4.8 4.8m0-4.8l-4.8 4.8M597.7 307.4l4.8 4.8m0-4.8l-4.8 4.8M579.8 287.6l4.8 4.8m0-4.8l-4.8 4.8M590.6 292.8l4.8 4.8m0-4.8l-4.8 4.8M601.2 304.9l4.8 4.8m0-4.8l-4.8 4.8M589.3 300.9l4.8 4.8m0-4.8l-4.8 4.8M590.8 323.9l4.8 4.8m0-4.8l-4.8 4.8M578.4 297.3l4.8 4.8m0-4.8l-4.8 4.8M601.1 298.9l4.8 4.8m0-4.8l-4.8 4.8M591.6 293.4l4.8 4.8m0-4.8l-4.8 4.8M586.6 319.4l4.8 4.8m0-4.8l-4.8 4.8M597.9 291.1l4.8 4.8m0-4.8l-4.8 4.8M592.3 307.8l4.8 4.8m0-4.8l-4.8 4.8M593.7 314.2l4.8 4.8m0-4.8l-4.8 4.8M589 329.1l4.8 4.8m0-4.8l-4.8 4.8M593 295l4.8 4.8m0-4.8l-4.8 4.8M587.2 299.9l4.8 4.8m0-4.8l-4.8 4.8M596.6 300.3l4.8 4.8m0-4.8l-4.8 4.8M582.7 311.8l4.8 4.8m0-4.8l-4.8 4.8M593.4 291.4l4.8 4.8m0-4.8l-4.8 4.8M578.9 327.6l4.8 4.8m0-4.8l-4.8 4.8M583.2 295.8l4.8 4.8m0-4.8l-4.8 4.8M582.3 307.7l4.8 4.8m0-4.8l-4.8 4.8M585.9 300.3l4.8 4.8m0-4.8l-4.8 4.8M589 319.7l4.8 4.8m0-4.8l-4.8 4.8M591.6 291l4.8 4.8m0-4.8l-4.8 4.8M599.8 307.4l4.8 4.8m0-4.8l-4.8 4.8M596.2 289.3l4.8 4.8m0-4.8l-4.8 4.8M596 303.6l4.8 4.8m0-4.8l-4.8 4.8M597.5 327l4.8 4.8m0-4.8l-4.8 4.8M592.6 320.2l4.8 4.8m0-4.8l-4.8 4.8M590.8 328.3l4.8 4.8m0-4.8l-4.8 4.8M585.5 308.5l4.8 4.8m0-4.8l-4.8 4.8M598.6 286.6l4.8 4.8m0-4.8l-4.8 4.8M602.6 303.2l4.8 4.8m0-4.8l-4.8 4.8M598.5 314.1l4.8 4.8m0-4.8l-4.8 4.8M581.4 318.2l4.8 4.8m0-4.8l-4.8 4.8M595.2 306.1l4.8 4.8m0-4.8l-4.8 4.8M581.2 322.3l4.8 4.8m0-4.8l-4.8 4.8M595.4 288.6l4.8 4.8m0-4.8l-4.8 4.8M589.4 308.3l4.8 4.8m0-4.8l-4.8 4.8M600.6 297.7l4.8 4.8m0-4.8l-4.8 4.8M595.1 307.1l4.8 4.8m0-4.8l-4.8 4.8M598.7 317.1l4.8 4.8m0-4.8l-4.8 4.8M579.7 295.1l4.8 4.8m0-4.8l-4.8 4.8M595.3 327.7l4.8 4.8m0-4.8l-4.8 4.8M601.7 310.7l4.8 4.8m0-4.8l-4.8 4.8M589.8 328.6l4.8 4.8m0-4.8l-4.8 4.8M582.1 295.2l4.8 4.8m0-4.8l-4.8 4.8M595.9 305.8l4.8 4.8m0-4.8l-4.8 4.8M591.6 315.8l4.8 4.8m0-4.8l-4.8 4.8M598 286.7l4.8 4.8m0-4.8l-4.8 4.8M580.6 320.1l4.8 4.8m0-4.8l-4.8 4.8M597.6 300.2l4.8 4.8m0-4.8l-4.8 4.8M597.8 325.9l4.8 4.8m0-4.8l-4.8 4.8M588.6 310.5l4.8 4.8m0-4.8l-4.8 4.8M579 306.3l4.8 4.8m0-4.8l-4.8 4.8M582.5 309.3l4.8 4.8m0-4.8l-4.8 4.8M597.4 328l4.8 4.8m0-4.8l-4.8 4.8M601.6 297.4l4.8 4.8m0-4.8l-4.8 4.8M587.4 327.9l4.8 4.8m0-4.8l-4.8 4.8M595.5 312.3l4.8 4.8m0-4.8l-4.8 4.8M603.1 310.3l4.8 4.8m0-4.8l-4.8 4.8M593.6 316.6l4.8 4.8m0-4.8l-4.8 4.8M582.1 313.5l4.8 4.8m0-4.8l-4.8 4.8M583.9 309l4.8 4.8m0-4.8l-4.8 4.8M584.6 298.9l4.8 4.8m0-4.8l-4.8 4.8M599.7 300.7l4.8 4.8m0-4.8l-4.8 4.8M585.5 329.8l4.8 4.8m0-4.8l-4.8 4.8M597 313.7l4.8 4.8m0-4.8l-4.8 4.8M602.6 326.7l4.8 4.8m0-4.8l-4.8 4.8M593.7 292.5l4.8 4.8m0-4.8l-4.8 4.8M586.1 314.2l4.8 4.8m0-4.8l-4.8 4.8M584.8 331.6l4.8 4.8m0-4.8l-4.8 4.8M602.3 313.6l4.8 4.8m0-4.8l-4.8 4.8M598.9 332.1l4.8 4.8m0-4.8l-4.8 4.8M600.8 309.5l4.8 4.8m0-4.8l-4.8 4.8M599 318.1l4.8 4.8m0-4.8l-4.8 4.8M584.2 311.1l4.8 4.8m0-4.8l-4.8 4.8M588.6 317l4.8 4.8m0-4.8l-4.8 4.8M582.8 331l4.8 4.8m0-4.8l-4.8 4.8M578.9 325.6l4.8 4.8m0-4.8l-4.8 4.8M583.5 293.9l4.8 4.8m0-4.8l-4.8 4.8M594.9 306.2l4.8 4.8m0-4.8l-4.8 4.8M591.7 284.2l4.8 4.8m0-4.8l-4.8 4.8M602.6 277.4l4.8 4.8m0-4.8l-4.8 4.8M601.9 283.7l4.8 4.8m0-4.8l-4.8 4.8M598.9 284.9l4.8 4.8m0-4.8l-4.8 4.8M598.8 281.6l4.8 4.8m0-4.8l-4.8 4.8M598.1 287.2l4.8 4.8m0-4.8l-4.8 4.8M593.7 284.6l4.8 4.8m0-4.8l-4.8 4.8M597.2 284.2l4.8 4.8m0-4.8l-4.8 4.8M595.5 282.1l4.8 4.8m0-4.8l-4.8 4.8M597.8 283.7l4.8 4.8m0-4.8l-4.8 4.8M595.1 281.2l4.8 4.8m0-4.8l-4.8 4.8M598.6 279.2l4.8 4.8m0-4.8l-4.8 4.8M639.8 316.4l4.8 4.8m0-4.8l-4.8 4.8M630.1 298.2l4.8 4.8m0-4.8l-4.8 4.8M642.7 288.8l4.8 4.8m0-4.8l-4.8 4.8M643.4 299.6l4.8 4.8m0-4.8l-4.8 4.8M639.1 311.2l4.8 4.8m0-4.8l-4.8 4.8M637.9 307.8l4.8 4.8m0-4.8l-4.8 4.8M629.4 312.8l4.8 4.8m0-4.8l-4.8 4.8M651.3 286.7l4.8 4.8m0-4.8l-4.8 4.8M628.4 302.6l4.8 4.8m0-4.8l-4.8 4.8M620.1 291.5l4.8 4.8m0-4.8l-4.8 4.8M627.1 290.7l4.8 4.8m0-4.8l-4.8 4.8M625.9 302.6l4.8 4.8m0-4.8l-4.8 4.8M641.9 299.7l4.8 4.8m0-4.8l-4.8 4.8M649.5 294.8l4.8 4.8m0-4.8l-4.8 4.8M634.5 306.9l4.8 4.8m0-4.8l-4.8 4.8M631.6 304.7l4.8 4.8m0-4.8l-4.8 4.8M646.7 319.6l4.8 4.8m0-4.8l-4.8 4.8M628.3 296.1l4.8 4.8m0-4.8l-4.8 4.8M621.5 292.5l4.8 4.8m0-4.8l-4.8 4.8M630.1 289.6l4.8 4.8m0-4.8l-4.8 4.8M626 293.5l4.8 4.8m0-4.8l-4.8 4.8M647.8 309.2l4.8 4.8m0-4.8l-4.8 4.8M637.5 293.4l4.8 4.8m0-4.8l-4.8 4.8M650.8 300.5l4.8 4.8m0-4.8l-4.8 4.8M649.1 289.4l4.8 4.8m0-4.8l-4.8 4.8M651.8 313.4l4.8 4.8m0-4.8l-4.8 4.8M633.7 299l4.8 4.8m0-4.8l-4.8 4.8M639.1 317l4.8 4.8m0-4.8l-4.8 4.8M637.9 288.3l4.8 4.8m0-4.8l-4.8 4.8M636.7 314.3l4.8 4.8m0-4.8l-4.8 4.8M628.5 288.7l4.8 4.8m0-4.8l-4.8 4.8M632.4 317.7l4.8 4.8m0-4.8l-4.8 4.8M627.7 300.5l4.8 4.8m0-4.8l-4.8 4.8M623.4 303.4l4.8 4.8m0-4.8l-4.8 4.8M634.7 297.3l4.8 4.8m0-4.8l-4.8 4.8M627.4 314l4.8 4.8m0-4.8l-4.8 4.8M634 314.2l4.8 4.8m0-4.8l-4.8 4.8M637.3 306.8l4.8 4.8m0-4.8l-4.8 4.8M647.6 314.1l4.8 4.8m0-4.8l-4.8 4.8M636.3 310.8l4.8 4.8m0-4.8l-4.8 4.8M622.5 315.8l4.8 4.8m0-4.8l-4.8 4.8M637.3 302.4l4.8 4.8m0-4.8l-4.8 4.8M639.4 296.8l4.8 4.8m0-4.8l-4.8 4.8M620.3 286.6l4.8 4.8m0-4.8l-4.8 4.8M650.6 311.5l4.8 4.8m0-4.8l-4.8 4.8M623.6 292.7l4.8 4.8m0-4.8l-4.8 4.8M620.6 298.1l4.8 4.8m0-4.8l-4.8 4.8M628.5 286.8l4.8 4.8m0-4.8l-4.8 4.8M622.4 303.4l4.8 4.8m0-4.8l-4.8 4.8M622.1 316.1l4.8 4.8m0-4.8l-4.8 4.8M642.8 293l4.8 4.8m0-4.8l-4.8 4.8M623.1 285.8l4.8 4.8m0-4.8l-4.8 4.8M622.9 310.2l4.8 4.8m0-4.8l-4.8 4.8M626.4 311.7l4.8 4.8m0-4.8l-4.8 4.8M638.7 320.2l4.8 4.8m0-4.8l-4.8 4.8M646 292l4.8 4.8m0-4.8l-4.8 4.8M651.3 297.9l4.8 4.8m0-4.8l-4.8 4.8M622.3 310.5l4.8 4.8m0-4.8l-4.8 4.8M622.3 287.9l4.8 4.8m0-4.8l-4.8 4.8M638.9 295.5l4.8 4.8m0-4.8l-4.8 4.8M644.6 294.3l4.8 4.8m0-4.8l-4.8 4.8M651.7 314.2l4.8 4.8m0-4.8l-4.8 4.8M630.5 304l4.8 4.8m0-4.8l-4.8 4.8M639.1 303l4.8 4.8m0-4.8l-4.8 4.8M626.5 309.5l4.8 4.8m0-4.8l-4.8 4.8M641.3 317.9l4.8 4.8m0-4.8l-4.8 4.8M646.7 317.5l4.8 4.8m0-4.8l-4.8 4.8M632.6 290l4.8 4.8m0-4.8l-4.8 4.8M624.2 302.4l4.8 4.8m0-4.8l-4.8 4.8M625 316.6l4.8 4.8m0-4.8l-4.8 4.8M639.2 289.1l4.8 4.8m0-4.8l-4.8 4.8M632.1 288.4l4.8 4.8m0-4.8l-4.8 4.8M629.1 296.8l4.8 4.8m0-4.8l-4.8 4.8M648.2 314.4l4.8 4.8m0-4.8l-4.8 4.8M643.3 310.7l4.8 4.8m0-4.8l-4.8 4.8M631.6 315.6l4.8 4.8m0-4.8l-4.8 4.8M649.2 310.5l4.8 4.8m0-4.8l-4.8 4.8M631.7 290.9l4.8 4.8m0-4.8l-4.8 4.8M632 300.4l4.8 4.8m0-4.8l-4.8 4.8M638.3 292.9l4.8 4.8m0-4.8l-4.8 4.8M633.4 289.6l4.8 4.8m0-4.8l-4.8 4.8M625.7 285.8l4.8 4.8m0-4.8l-4.8 4.8M618.1 292.1l4.8 4.8m0-4.8l-4.8 4.8M635.9 289.9l4.8 4.8m0-4.8l-4.8 4.8M623.3 317.4l4.8 4.8m0-4.8l-4.8 4.8M644.8 306.1l4.8 4.8m0-4.8l-4.8 4.8M627.4 290.9l4.8 4.8m0-4.8l-4.8 4.8M638.7 313.3l4.8 4.8m0-4.8l-4.8 4.8M638 299.6l4.8 4.8m0-4.8l-4.8 4.8M619.4 302.3l4.8 4.8m0-4.8l-4.8 4.8M638.7 314l4.8 4.8m0-4.8l-4.8 4.8M649.2 307.4l4.8 4.8m0-4.8l-4.8 4.8M637.3 309.5l4.8 4.8m0-4.8l-4.8 4.8M632.9 286.2l4.8 4.8m0-4.8l-4.8 4.8M631.1 304.2l4.8 4.8m0-4.8l-4.8 4.8M626.7 306.3l4.8 4.8m0-4.8l-4.8 4.8M627.7 286.9l4.8 4.8m0-4.8l-4.8 4.8M650.5 315.5l4.8 4.8m0-4.8l-4.8 4.8M644.8 289.2l4.8 4.8m0-4.8l-4.8 4.8M641.2 287.6l4.8 4.8m0-4.8l-4.8 4.8M627.2 288.6l4.8 4.8m0-4.8l-4.8 4.8M645.1 296.7l4.8 4.8m0-4.8l-4.8 4.8M633.9 295.2l4.8 4.8m0-4.8l-4.8 4.8M650.9 314.4l4.8 4.8m0-4.8l-4.8 4.8M618.6 298.3l4.8 4.8m0-4.8l-4.8 4.8M620 289.1l4.8 4.8m0-4.8l-4.8 4.8M647.6 285.7l4.8 4.8m0-4.8l-4.8 4.8M622.3 305.5l4.8 4.8m0-4.8l-4.8 4.8M619.9 296l4.8 4.8m0-4.8l-4.8 4.8M621.7 316.7l4.8 4.8m0-4.8l-4.8 4.8M624.9 314.9l4.8 4.8m0-4.8l-4.8 4.8M648.3 288.3l4.8 4.8m0-4.8l-4.8 4.8M642.3 296.1l4.8 4.8m0-4.8l-4.8 4.8M632.9 313.5l4.8 4.8m0-4.8l-4.8 4.8M624.4 317.7l4.8 4.8m0-4.8l-4.8 4.8M620.8 310.7l4.8 4.8m0-4.8l-4.8 4.8M637.1 318.1l4.8 4.8m0-4.8l-4.8 4.8M637.4 303.1l4.8 4.8m0-4.8l-4.8 4.8M628.4 317.8l4.8 4.8m0-4.8l-4.8 4.8M631.8 290.7l4.8 4.8m0-4.8l-4.8 4.8M643.6 295.7l4.8 4.8m0-4.8l-4.8 4.8M628.3 314.6l4.8 4.8m0-4.8l-4.8 4.8M644.7 317.6l4.8 4.8m0-4.8l-4.8 4.8M633.9 308l4.8 4.8m0-4.8l-4.8 4.8M624.4 318.8l4.8 4.8m0-4.8l-4.8 4.8M628.3 300.5l4.8 4.8m0-4.8l-4.8 4.8M635.3 292l4.8 4.8m0-4.8l-4.8 4.8M640.1 286.8l4.8 4.8m0-4.8l-4.8 4.8M625.6 309.9l4.8 4.8m0-4.8l-4.8 4.8M630 315.6l4.8 4.8m0-4.8l-4.8 4.8M627.5 303l4.8 4.8m0-4.8l-4.8 4.8M631.3 310.4l4.8 4.8m0-4.8l-4.8 4.8M645 295l4.8 4.8m0-4.8l-4.8 4.8M650.1 301.5l4.8 4.8m0-4.8l-4.8 4.8M638.1 299.7l4.8 4.8m0-4.8l-4.8 4.8M650.1 309.1l4.8 4.8m0-4.8l-4.8 4.8M647.6 302.8l4.8 4.8m0-4.8l-4.8 4.8M644.7 293.1l4.8 4.8m0-4.8l-4.8 4.8M627.9 299.8l4.8 4.8m0-4.8l-4.8 4.8M633.6 314.8l4.8 4.8m0-4.8l-4.8 4.8M631.1 287.1l4.8 4.8m0-4.8l-4.8 4.8M629.5 316l4.8 4.8m0-4.8l-4.8 4.8M641.8 304l4.8 4.8m0-4.8l-4.8 4.8M639.1 316.1l4.8 4.8m0-4.8l-4.8 4.8M636.1 304.9l4.8 4.8m0-4.8l-4.8 4.8M637.8 304l4.8 4.8m0-4.8l-4.8 4.8M637.1 285.9l4.8 4.8m0-4.8l-4.8 4.8M621.7 318.7l4.8 4.8m0-4.8l-4.8 4.8M630 316.4l4.8 4.8m0-4.8l-4.8 4.8M618.9 294.3l4.8 4.8m0-4.8l-4.8 4.8M647 320.4l4.8 4.8m0-4.8l-4.8 4.8M624.2 313.2l4.8 4.8m0-4.8l-4.8 4.8M631 285.8l4.8 4.8m0-4.8l-4.8 4.8M620.4 307l4.8 4.8m0-4.8l-4.8 4.8M636.2 313.5l4.8 4.8m0-4.8l-4.8 4.8M629.5 295.9l4.8 4.8m0-4.8l-4.8 4.8M641.6 292.7l4.8 4.8m0-4.8l-4.8 4.8M642.2 308.9l4.8 4.8m0-4.8l-4.8 4.8M622.5 320l4.8 4.8m0-4.8l-4.8 4.8M641.1 292.7l4.8 4.8m0-4.8l-4.8 4.8M642.4 299.4l4.8 4.8m0-4.8l-4.8 4.8M632 318.9l4.8 4.8m0-4.8l-4.8 4.8M633.4 316.7l4.8 4.8m0-4.8l-4.8 4.8M628 293.8l4.8 4.8m0-4.8l-4.8 4.8M638.3 289.3l4.8 4.8m0-4.8l-4.8 4.8M647.9 295.3l4.8 4.8m0-4.8l-4.8 4.8M650.5 315.2l4.8 4.8m0-4.8l-4.8 4.8M643.7 298.4l4.8 4.8m0-4.8l-4.8 4.8M637 316.4l4.8 4.8m0-4.8l-4.8 4.8M635.2 288.9l4.8 4.8m0-4.8l-4.8 4.8M642.8 288l4.8 4.8m0-4.8l-4.8 4.8M645.1 318.3l4.8 4.8m0-4.8l-4.8 4.8M631.7 291l4.8 4.8m0-4.8l-4.8 4.8M643 303.4l4.8 4.8m0-4.8l-4.8 4.8M633.6 306.8l4.8 4.8m0-4.8l-4.8 4.8M630.6 308.2l4.8 4.8m0-4.8l-4.8 4.8M634.2 299.9l4.8 4.8m0-4.8l-4.8 4.8M623.1 314.7l4.8 4.8m0-4.8l-4.8 4.8M639.8 300.5l4.8 4.8m0-4.8l-4.8 4.8M634.9 302.3l4.8 4.8m0-4.8l-4.8 4.8M630.1 285.6l4.8 4.8m0-4.8l-4.8 4.8M628.1 301.9l4.8 4.8m0-4.8l-4.8 4.8M628.2 299.5l4.8 4.8m0-4.8l-4.8 4.8M628.4 305.8l4.8 4.8m0-4.8l-4.8 4.8M619.4 308.7l4.8 4.8m0-4.8l-4.8 4.8M633.6 299l4.8 4.8m0-4.8l-4.8 4.8M644.8 318.8l4.8 4.8m0-4.8l-4.8 4.8M629 312.1l4.8 4.8m0-4.8l-4.8 4.8M633.9 288.8l4.8 4.8m0-4.8l-4.8 4.8M650.4 295.2l4.8 4.8m0-4.8l-4.8 4.8M650.5 303l4.8 4.8m0-4.8l-4.8 4.8M639.4 315.9l4.8 4.8m0-4.8l-4.8 4.8M643.1 311.3l4.8 4.8m0-4.8l-4.8 4.8M637.1 312.5l4.8 4.8m0-4.8l-4.8 4.8M635.7 306.7l4.8 4.8m0-4.8l-4.8 4.8M648.5 302.3l4.8 4.8m0-4.8l-4.8 4.8M644.6 311.6l4.8 4.8m0-4.8l-4.8 4.8M635.4 302.1l4.8 4.8m0-4.8l-4.8 4.8M628.6 306.1l4.8 4.8m0-4.8l-4.8 4.8M618.4 315.3l4.8 4.8m0-4.8l-4.8 4.8M629.3 296.7l4.8 4.8m0-4.8l-4.8 4.8M638.1 295.6l4.8 4.8m0-4.8l-4.8 4.8M620.9 313l4.8 4.8m0-4.8l-4.8 4.8M650.3 315.8l4.8 4.8m0-4.8l-4.8 4.8M623.8 301.1l4.8 4.8m0-4.8l-4.8 4.8M633.9 290l4.8 4.8m0-4.8l-4.8 4.8M647.8 300.1l4.8 4.8m0-4.8l-4.8 4.8M633.5 305l4.8 4.8m0-4.8l-4.8 4.8M652.3 316.7l4.8 4.8m0-4.8l-4.8 4.8M634.6 293.8l4.8 4.8m0-4.8l-4.8 4.8M641.2 317.2l4.8 4.8m0-4.8l-4.8 4.8M646.2 288l4.8 4.8m0-4.8l-4.8 4.8M643.9 314.6l4.8 4.8m0-4.8l-4.8 4.8M649.2 315.6l4.8 4.8m0-4.8l-4.8 4.8M618.2 296l4.8 4.8m0-4.8l-4.8 4.8M641.9 293.2l4.8 4.8m0-4.8l-4.8 4.8M636.3 318.1l4.8 4.8m0-4.8l-4.8 4.8M619 297.9l4.8 4.8m0-4.8l-4.8 4.8M644.4 308.5l4.8 4.8m0-4.8l-4.8 4.8M644.5 307.3l4.8 4.8m0-4.8l-4.8 4.8M442.4 302.8l4.8 4.8m0-4.8l-4.8 4.8M469.9 317.3l4.8 4.8m0-4.8l-4.8 4.8M469.9 325.7l4.8 4.8m0-4.8l-4.8 4.8M510.4 329l4.8 4.8m0-4.8l-4.8 4.8M458.6 308.9l4.8 4.8m0-4.8l-4.8 4.8M479.2 311.2l4.8 4.8m0-4.8l-4.8 4.8M502 308.9l4.8 4.8m0-4.8l-4.8 4.8M533 315.9l4.8 4.8m0-4.8l-4.8 4.8M582.5 341.6l4.8 4.8m0-4.8l-4.8 4.8M586.7 349.6l4.8 4.8m0-4.8l-4.8 4.8M599.1 276.2l4.8 4.8m0-4.8l-4.8 4.8M452.4 299.6l4.8 4.8m0-4.8l-4.8 4.8M464.8 313.6l4.8 4.8m0-4.8l-4.8 4.8M588.7 337l4.8 4.8m0-4.8l-4.8 4.8M592.9 341.6l4.8 4.8m0-4.8l-4.8 4.8M588.7 347.3l4.8 4.8m0-4.8l-4.8 4.8M433.8 280.8l4.8 4.8m0-4.8l-4.8 4.8M437.9 290.2l4.8 4.8m0-4.8l-4.8 4.8M454.4 306.6l4.8 4.8m0-4.8l-4.8 4.8" stroke="#ff2b8e" stroke-width="0.8" fill="none" opacity="1.0" clip-path="url(#ce)"/>
<path d="M488.4 253.4h4.4m-2.2-2.2v4.4M521.8 254.7h4.4m-2.2-2.2v4.4M442.6 248.1h4.4m-2.2-2.2v4.4M535 257.7h4.4m-2.2-2.2v4.4M513.4 254.7h4.4m-2.2-2.2v4.4M457.7 251.9h4.4m-2.2-2.2v4.4M562.6 262.6h4.4m-2.2-2.2v4.4M517.2 254.1h4.4m-2.2-2.2v4.4M490.7 255.6h4.4m-2.2-2.2v4.4M473.3 256.5h4.4m-2.2-2.2v4.4M538.2 259h4.4m-2.2-2.2v4.4M566.5 267.6h4.4m-2.2-2.2v4.4M564 263.3h4.4m-2.2-2.2v4.4M501.8 252.2h4.4m-2.2-2.2v4.4M432.2 238.4h4.4m-2.2-2.2v4.4M440.2 246h4.4m-2.2-2.2v4.4M456.5 251.9h4.4m-2.2-2.2v4.4M515.8 256.1h4.4m-2.2-2.2v4.4M546.6 259.2h4.4m-2.2-2.2v4.4M453.7 252.9h4.4m-2.2-2.2v4.4M519.8 253.6h4.4m-2.2-2.2v4.4M480.1 252.6h4.4m-2.2-2.2v4.4M558.1 259.6h4.4m-2.2-2.2v4.4M511.8 254.1h4.4m-2.2-2.2v4.4M433.3 239h4.4m-2.2-2.2v4.4M545.4 260.1h4.4m-2.2-2.2v4.4M544.9 260h4.4m-2.2-2.2v4.4M542.7 259.9h4.4m-2.2-2.2v4.4M502.5 247.6h4.4m-2.2-2.2v4.4M439.9 247.3h4.4m-2.2-2.2v4.4M472.9 255.6h4.4m-2.2-2.2v4.4M514.6 253.6h4.4m-2.2-2.2v4.4M558.2 261.9h4.4m-2.2-2.2v4.4M524.6 256.9h4.4m-2.2-2.2v4.4M432.1 239.4h4.4m-2.2-2.2v4.4M551.5 259.6h4.4m-2.2-2.2v4.4M497.5 255h4.4m-2.2-2.2v4.4M512.7 256.1h4.4m-2.2-2.2v4.4M491.2 254.1h4.4m-2.2-2.2v4.4M427.2 231.5h4.4m-2.2-2.2v4.4M433.1 239.3h4.4m-2.2-2.2v4.4M448.1 251.8h4.4m-2.2-2.2v4.4M431.8 238h4.4m-2.2-2.2v4.4M562.7 263h4.4m-2.2-2.2v4.4M486.1 253.4h4.4m-2.2-2.2v4.4M475.2 256.2h4.4m-2.2-2.2v4.4M479.7 252.3h4.4m-2.2-2.2v4.4M442.8 247.8h4.4m-2.2-2.2v4.4M537 259.1h4.4m-2.2-2.2v4.4M522.2 255h4.4m-2.2-2.2v4.4M565.3 266.5h4.4m-2.2-2.2v4.4M531.7 256.7h4.4m-2.2-2.2v4.4M516.7 253.5h4.4m-2.2-2.2v4.4M430.3 235.7h4.4m-2.2-2.2v4.4M530.1 258.4h4.4m-2.2-2.2v4.4M499.7 253.5h4.4m-2.2-2.2v4.4M519.3 255.1h4.4m-2.2-2.2v4.4M540.3 258.1h4.4m-2.2-2.2v4.4M455.6 253.7h4.4m-2.2-2.2v4.4M540.9 258.6h4.4m-2.2-2.2v4.4M484.5 250.7h4.4m-2.2-2.2v4.4M563.3 262.5h4.4m-2.2-2.2v4.4M477.4 255.7h4.4m-2.2-2.2v4.4M424.5 228.9h4.4m-2.2-2.2v4.4M484.9 253.4h4.4m-2.2-2.2v4.4M454.9 251.9h4.4m-2.2-2.2v4.4M530 257.6h4.4m-2.2-2.2v4.4M437.9 242.9h4.4m-2.2-2.2v4.4M552.8 259.5h4.4m-2.2-2.2v4.4M521 254.4h4.4m-2.2-2.2v4.4M461.5 253.7h4.4m-2.2-2.2v4.4M422.9 227.1h4.4m-2.2-2.2v4.4M449.3 252.1h4.4m-2.2-2.2v4.4M527 256.6h4.4m-2.2-2.2v4.4M468.3 254h4.4m-2.2-2.2v4.4M514.8 254.4h4.4m-2.2-2.2v4.4M552.7 261.2h4.4m-2.2-2.2v4.4M487.4 254.6h4.4m-2.2-2.2v4.4M528.4 256.1h4.4m-2.2-2.2v4.4M427.1 232.4h4.4m-2.2-2.2v4.4M432.9 238.3h4.4m-2.2-2.2v4.4M509.8 255.8h4.4m-2.2-2.2v4.4M523.4 254.3h4.4m-2.2-2.2v4.4M548.7 260.2h4.4m-2.2-2.2v4.4M425.9 230.8h4.4m-2.2-2.2v4.4M460.6 253.1h4.4m-2.2-2.2v4.4M470.3 254.1h4.4m-2.2-2.2v4.4M462.8 252.9h4.4m-2.2-2.2v4.4M556.3 260.5h4.4m-2.2-2.2v4.4M427.7 231.8h4.4m-2.2-2.2v4.4M545.9 260.7h4.4m-2.2-2.2v4.4M527.5 257.7h4.4m-2.2-2.2v4.4M468.4 255.4h4.4m-2.2-2.2v4.4M445.1 249.2h4.4m-2.2-2.2v4.4M564.7 264.4h4.4m-2.2-2.2v4.4M558.4 261.5h4.4m-2.2-2.2v4.4M441.1 247.9h4.4m-2.2-2.2v4.4M540.5 259.7h4.4m-2.2-2.2v4.4M472.7 254.4h4.4m-2.2-2.2v4.4M510.2 255.4h4.4m-2.2-2.2v4.4M548.1 260.9h4.4m-2.2-2.2v4.4M451.5 251.4h4.4m-2.2-2.2v4.4M493.6 255.8h4.4m-2.2-2.2v4.4M539.8 258.7h4.4m-2.2-2.2v4.4M447.8 249.9h4.4m-2.2-2.2v4.4M456.5 254.2h4.4m-2.2-2.2v4.4M465.4 254.7h4.4m-2.2-2.2v4.4M495.3 257.1h4.4m-2.2-2.2v4.4M513.9 255.3h4.4m-2.2-2.2v4.4M565.1 265.1h4.4m-2.2-2.2v4.4M542.3 258.5h4.4m-2.2-2.2v4.4M509.8 254.6h4.4m-2.2-2.2v4.4M434.9 240.1h4.4m-2.2-2.2v4.4M561.9 260.1h4.4m-2.2-2.2v4.4M434.3 241.4h4.4m-2.2-2.2v4.4M468 255.7h4.4m-2.2-2.2v4.4M459.5 254.7h4.4m-2.2-2.2v4.4M507 252.9h4.4m-2.2-2.2v4.4M470.9 254.2h4.4m-2.2-2.2v4.4M547.5 259.6h4.4m-2.2-2.2v4.4M547 260.5h4.4m-2.2-2.2v4.4M510.6 254.7h4.4m-2.2-2.2v4.4M423.1 225.5h4.4m-2.2-2.2v4.4M460.1 253.6h4.4m-2.2-2.2v4.4M536.4 258.9h4.4m-2.2-2.2v4.4M440.7 245.5h4.4m-2.2-2.2v4.4M547.8 259.9h4.4m-2.2-2.2v4.4M469.2 256.3h4.4m-2.2-2.2v4.4M467.7 253.3h4.4m-2.2-2.2v4.4M531.5 258.5h4.4m-2.2-2.2v4.4M516.1 256h4.4m-2.2-2.2v4.4M493.5 255h4.4m-2.2-2.2v4.4M426.5 231.1h4.4m-2.2-2.2v4.4M562 262.4h4.4m-2.2-2.2v4.4M487.3 252.6h4.4m-2.2-2.2v4.4M544 259.4h4.4m-2.2-2.2v4.4M505.9 249.2h4.4m-2.2-2.2v4.4M519.5 253.4h4.4m-2.2-2.2v4.4M517.6 255.6h4.4m-2.2-2.2v4.4M456.1 253.1h4.4m-2.2-2.2v4.4M518.7 253.9h4.4m-2.2-2.2v4.4M461.9 254.7h4.4m-2.2-2.2v4.4M435.5 241.1h4.4m-2.2-2.2v4.4M427 233.1h4.4m-2.2-2.2v4.4M486.1 251.9h4.4m-2.2-2.2v4.4M563.9 264.1h4.4m-2.2-2.2v4.4M473.2 256.6h4.4m-2.2-2.2v4.4M441.7 248.8h4.4m-2.2-2.2v4.4M536.9 258.3h4.4m-2.2-2.2v4.4M523.3 254.7h4.4m-2.2-2.2v4.4M451.6 250.5h4.4m-2.2-2.2v4.4M499.1 255.2h4.4m-2.2-2.2v4.4M538.5 259.8h4.4m-2.2-2.2v4.4M425.1 228.6h4.4m-2.2-2.2v4.4M441.1 245.9h4.4m-2.2-2.2v4.4M543.7 260h4.4m-2.2-2.2v4.4M561.8 261h4.4m-2.2-2.2v4.4M501 254.5h4.4m-2.2-2.2v4.4M552.3 259.9h4.4m-2.2-2.2v4.4M464.3 254.7h4.4m-2.2-2.2v4.4M465.6 254.9h4.4m-2.2-2.2v4.4M557.6 260.6h4.4m-2.2-2.2v4.4M512.9 254.3h4.4m-2.2-2.2v4.4M431.6 237.4h4.4m-2.2-2.2v4.4M535.3 259.7h4.4m-2.2-2.2v4.4M556.7 260.7h4.4m-2.2-2.2v4.4M425.1 228h4.4m-2.2-2.2v4.4M481.4 252.1h4.4m-2.2-2.2v4.4M563.6 264.5h4.4m-2.2-2.2v4.4M462 253.9h4.4m-2.2-2.2v4.4M465.6 253.8h4.4m-2.2-2.2v4.4M474.9 255.6h4.4m-2.2-2.2v4.4M481.8 252.1h4.4m-2.2-2.2v4.4M500.6 254.3h4.4m-2.2-2.2v4.4M548.1 260h4.4m-2.2-2.2v4.4M565.5 266.6h4.4m-2.2-2.2v4.4M436 241.8h4.4m-2.2-2.2v4.4M550.6 261.3h4.4m-2.2-2.2v4.4M471.8 254.6h4.4m-2.2-2.2v4.4M526.4 256.1h4.4m-2.2-2.2v4.4M521.5 254h4.4m-2.2-2.2v4.4M506 249.9h4.4m-2.2-2.2v4.4M452.4 252.6h4.4m-2.2-2.2v4.4M540.3 258.2h4.4m-2.2-2.2v4.4M474.8 256.3h4.4m-2.2-2.2v4.4M563.5 264.3h4.4m-2.2-2.2v4.4M478.5 254.3h4.4m-2.2-2.2v4.4M523.1 256.7h4.4m-2.2-2.2v4.4M520.6 256.1h4.4m-2.2-2.2v4.4M452.3 252.2h4.4m-2.2-2.2v4.4M532.9 258.8h4.4m-2.2-2.2v4.4M516.8 256.2h4.4m-2.2-2.2v4.4M445.1 250.1h4.4m-2.2-2.2v4.4M433.6 239h4.4m-2.2-2.2v4.4M505.5 246.6h4.4m-2.2-2.2v4.4M489.9 254.5h4.4m-2.2-2.2v4.4M426.7 230.2h4.4m-2.2-2.2v4.4M467.9 254.3h4.4m-2.2-2.2v4.4M545 259.9h4.4m-2.2-2.2v4.4M472.3 254.6h4.4m-2.2-2.2v4.4M538.5 257.9h4.4m-2.2-2.2v4.4M480.8 253.7h4.4m-2.2-2.2v4.4M495.3 255.8h4.4m-2.2-2.2v4.4M519.5 253.8h4.4m-2.2-2.2v4.4M513.3 255.7h4.4m-2.2-2.2v4.4M534.1 257.4h4.4m-2.2-2.2v4.4M543.1 260.6h4.4m-2.2-2.2v4.4M480.3 252.4h4.4m-2.2-2.2v4.4M479 254.9h4.4m-2.2-2.2v4.4M428 232.5h4.4m-2.2-2.2v4.4M426.9 232.1h4.4m-2.2-2.2v4.4M488.7 255h4.4m-2.2-2.2v4.4M488.4 253.2h4.4m-2.2-2.2v4.4M433 239.7h4.4m-2.2-2.2v4.4M518.8 254.4h4.4m-2.2-2.2v4.4M503.7 243.7h4.4m-2.2-2.2v4.4M473.8 254.3h4.4m-2.2-2.2v4.4M492 256.2h4.4m-2.2-2.2v4.4M490.4 255.9h4.4m-2.2-2.2v4.4M504.9 244h4.4m-2.2-2.2v4.4M516.3 256.3h4.4m-2.2-2.2v4.4M544 260.4h4.4m-2.2-2.2v4.4M427.8 233.4h4.4m-2.2-2.2v4.4M499.3 255.9h4.4m-2.2-2.2v4.4M565.1 265.3h4.4m-2.2-2.2v4.4M424 227.4h4.4m-2.2-2.2v4.4M563.4 264.3h4.4m-2.2-2.2v4.4M445.5 250.8h4.4m-2.2-2.2v4.4M475.1 255.8h4.4m-2.2-2.2v4.4M427 230.5h4.4m-2.2-2.2v4.4M596.8 271.6h4.4m-2.2-2.2v4.4M593.6 272.8h4.4m-2.2-2.2v4.4M597.6 271.3h4.4m-2.2-2.2v4.4M601.3 267.7h4.4m-2.2-2.2v4.4M593.5 272.5h4.4m-2.2-2.2v4.4M594.1 274h4.4m-2.2-2.2v4.4M599.8 269.3h4.4m-2.2-2.2v4.4M583.3 279.5h4.4m-2.2-2.2v4.4M595.8 270.6h4.4m-2.2-2.2v4.4M583.8 279.1h4.4m-2.2-2.2v4.4M602.1 269.2h4.4m-2.2-2.2v4.4M588 274.3h4.4m-2.2-2.2v4.4M595.8 271.4h4.4m-2.2-2.2v4.4M589.3 276.7h4.4m-2.2-2.2v4.4M596.5 271.6h4.4m-2.2-2.2v4.4M580.4 279.4h4.4m-2.2-2.2v4.4M580.7 280.8h4.4m-2.2-2.2v4.4M595.1 271.7h4.4m-2.2-2.2v4.4M588 275h4.4m-2.2-2.2v4.4M584.4 277.5h4.4m-2.2-2.2v4.4M588.6 273.8h4.4m-2.2-2.2v4.4M598.9 270.6h4.4m-2.2-2.2v4.4M599.8 269.4h4.4m-2.2-2.2v4.4M586.7 278h4.4m-2.2-2.2v4.4M582.8 281h4.4m-2.2-2.2v4.4M583.9 279h4.4m-2.2-2.2v4.4M594.9 270.6h4.4m-2.2-2.2v4.4M595 270.4h4.4m-2.2-2.2v4.4M601.1 267.5h4.4m-2.2-2.2v4.4M585.5 279.2h4.4m-2.2-2.2v4.4M592.7 273.7h4.4m-2.2-2.2v4.4M601.9 269.4h4.4m-2.2-2.2v4.4M601.1 269.2h4.4m-2.2-2.2v4.4M594.7 271.3h4.4m-2.2-2.2v4.4M590 273.7h4.4m-2.2-2.2v4.4M598.6 271.1h4.4m-2.2-2.2v4.4M598 268.7h4.4m-2.2-2.2v4.4M598.2 269.9h4.4m-2.2-2.2v4.4M592.8 274.5h4.4m-2.2-2.2v4.4M591.9 274.3h4.4m-2.2-2.2v4.4M584.2 276.9h4.4m-2.2-2.2v4.4M584.7 279.1h4.4m-2.2-2.2v4.4M599 269.6h4.4m-2.2-2.2v4.4M599.4 270.4h4.4m-2.2-2.2v4.4M600 269.4h4.4m-2.2-2.2v4.4M599.6 269h4.4m-2.2-2.2v4.4M586.7 277.3h4.4m-2.2-2.2v4.4M581.2 280.2h4.4m-2.2-2.2v4.4M580.3 279.6h4.4m-2.2-2.2v4.4M584.7 278.7h4.4m-2.2-2.2v4.4M587.8 276.1h4.4m-2.2-2.2v4.4M600.6 270h4.4m-2.2-2.2v4.4M587 276.4h4.4m-2.2-2.2v4.4M590.9 272.9h4.4m-2.2-2.2v4.4M591.5 273.3h4.4m-2.2-2.2v4.4M640.7 285.2h4.4m-2.2-2.2v4.4M633 286.8h4.4m-2.2-2.2v4.4M621.7 276.1h4.4m-2.2-2.2v4.4M640.9 287.7h4.4m-2.2-2.2v4.4M646.6 283.9h4.4m-2.2-2.2v4.4M632 280.9h4.4m-2.2-2.2v4.4M628 279.5h4.4m-2.2-2.2v4.4M644.5 281.4h4.4m-2.2-2.2v4.4M623.5 286.6h4.4m-2.2-2.2v4.4M643.5 282.3h4.4m-2.2-2.2v4.4M630.2 278.1h4.4m-2.2-2.2v4.4M636.7 280.3h4.4m-2.2-2.2v4.4M624.1 277h4.4m-2.2-2.2v4.4M651.4 285.9h4.4m-2.2-2.2v4.4M624.7 281.6h4.4m-2.2-2.2v4.4M628.8 281.1h4.4m-2.2-2.2v4.4M621.5 288h4.4m-2.2-2.2v4.4M621.1 287.1h4.4m-2.2-2.2v4.4M629.5 279.2h4.4m-2.2-2.2v4.4M637.7 287.4h4.4m-2.2-2.2v4.4M638.2 279.8h4.4m-2.2-2.2v4.4M650.7 286.5h4.4m-2.2-2.2v4.4M641.7 288h4.4m-2.2-2.2v4.4M647.3 284.8h4.4m-2.2-2.2v4.4M639.4 280.1h4.4m-2.2-2.2v4.4M633.2 285.9h4.4m-2.2-2.2v4.4M619.8 280.4h4.4m-2.2-2.2v4.4M640.8 282.1h4.4m-2.2-2.2v4.4M620.7 284.3h4.4m-2.2-2.2v4.4M627.2 286h4.4m-2.2-2.2v4.4M621.7 285.5h4.4m-2.2-2.2v4.4M647.2 278.5h4.4m-2.2-2.2v4.4M638.6 285.9h4.4m-2.2-2.2v4.4M629.1 277.6h4.4m-2.2-2.2v4.4M622.6 286.8h4.4m-2.2-2.2v4.4M650.1 284.9h4.4m-2.2-2.2v4.4M650.4 284.6h4.4m-2.2-2.2v4.4M621.3 284.4h4.4m-2.2-2.2v4.4M647.2 278.6h4.4m-2.2-2.2v4.4M638.7 283.9h4.4m-2.2-2.2v4.4M632.9 285.6h4.4m-2.2-2.2v4.4M649.9 283.5h4.4m-2.2-2.2v4.4M621.6 281h4.4m-2.2-2.2v4.4M630.7 285h4.4m-2.2-2.2v4.4M650.1 280.2h4.4m-2.2-2.2v4.4M633.7 280.9h4.4m-2.2-2.2v4.4M624.1 285.7h4.4m-2.2-2.2v4.4M651.1 286.7h4.4m-2.2-2.2v4.4M643.2 285.8h4.4m-2.2-2.2v4.4M621.5 276.4h4.4m-2.2-2.2v4.4M642.4 285.5h4.4m-2.2-2.2v4.4M625 278.2h4.4m-2.2-2.2v4.4M643.5 285.7h4.4m-2.2-2.2v4.4M619.2 284.5h4.4m-2.2-2.2v4.4M636.5 286.2h4.4m-2.2-2.2v4.4M644.1 283.7h4.4m-2.2-2.2v4.4M625.3 280.5h4.4m-2.2-2.2v4.4M622.6 279.1h4.4m-2.2-2.2v4.4M651.1 285.2h4.4m-2.2-2.2v4.4M623.9 280.4h4.4m-2.2-2.2v4.4M626.2 286.4h4.4m-2.2-2.2v4.4M635 287.3h4.4m-2.2-2.2v4.4M641.1 283.8h4.4m-2.2-2.2v4.4M625.5 275.4h4.4m-2.2-2.2v4.4M636.5 282.1h4.4m-2.2-2.2v4.4M644.7 286h4.4m-2.2-2.2v4.4M625.5 284h4.4m-2.2-2.2v4.4M635.3 282.8h4.4m-2.2-2.2v4.4M622 285h4.4m-2.2-2.2v4.4M618.4 279.3h4.4m-2.2-2.2v4.4M649.6 281.2h4.4m-2.2-2.2v4.4M637.9 285h4.4m-2.2-2.2v4.4M629 283.8h4.4m-2.2-2.2v4.4M617.9 286.1h4.4m-2.2-2.2v4.4M634.2 286.1h4.4m-2.2-2.2v4.4M638.9 287.4h4.4m-2.2-2.2v4.4M631 278.8h4.4m-2.2-2.2v4.4M625.4 274.4h4.4m-2.2-2.2v4.4M618 277.5h4.4m-2.2-2.2v4.4M650.9 277.1h4.4m-2.2-2.2v4.4M651.8 276.1h4.4m-2.2-2.2v4.4M635 282.2h4.4m-2.2-2.2v4.4M624 277.2h4.4m-2.2-2.2v4.4M623.7 276.8h4.4m-2.2-2.2v4.4M644.1 281.3h4.4m-2.2-2.2v4.4M644.3 285.2h4.4m-2.2-2.2v4.4M645.5 278.3h4.4m-2.2-2.2v4.4M639.6 282.3h4.4m-2.2-2.2v4.4M625.9 282.3h4.4m-2.2-2.2v4.4M642.2 282.7h4.4m-2.2-2.2v4.4M636.6 287.7h4.4m-2.2-2.2v4.4M618.4 283.1h4.4m-2.2-2.2v4.4M645.9 277.4h4.4m-2.2-2.2v4.4M622.7 275.5h4.4m-2.2-2.2v4.4M627.4 275.3h4.4m-2.2-2.2v4.4M632 280.8h4.4m-2.2-2.2v4.4M637.3 283.2h4.4m-2.2-2.2v4.4M620.1 286.9h4.4m-2.2-2.2v4.4M648.8 287.7h4.4m-2.2-2.2v4.4M638.8 280h4.4m-2.2-2.2v4.4M639.6 283.3h4.4m-2.2-2.2v4.4M642 280.7h4.4m-2.2-2.2v4.4M627.8 286.6h4.4m-2.2-2.2v4.4M628.4 280.4h4.4m-2.2-2.2v4.4M625.2 283.2h4.4m-2.2-2.2v4.4M633.7 285.9h4.4m-2.2-2.2v4.4M639.9 279.7h4.4m-2.2-2.2v4.4M636.2 282h4.4m-2.2-2.2v4.4M625.8 275.5h4.4m-2.2-2.2v4.4M647.1 287.3h4.4m-2.2-2.2v4.4" stroke="#3d8985" stroke-width="0.8" fill="none" opacity="1.0" clip-path="url(#ce)"/>
<path d="M415.8 222.4L415.8 223.2L415.9 224.0L415.9 224.8L415.9 225.6L415.9 226.4L415.9 227.2L415.9 228.0L415.9 228.8L416.0 229.6L416.0 230.4L416.0 231.2L416.0 232.0L416.0 232.8L416.1 233.6L416.1 234.4L416.1 235.2L416.1 236.0L416.2 236.8L416.2 237.6L416.2 238.4L416.2 239.2L416.3 240.0L416.3 240.7L416.3 241.5L416.4 242.3L416.4 243.1L416.4 243.9L416.5 244.7L416.5 245.5L416.6 246.3L416.6 247.1L416.7 247.9L416.7 248.7L416.7 249.5L416.8 250.3L416.8 251.1L416.9 251.9L417.0 252.7L417.0 253.5L417.1 254.3L417.1 255.1L417.2 255.9L417.3 256.7L417.3 257.5L417.4 258.3L417.5 259.1L417.6 259.9L417.7 260.7L417.7 261.5L417.8 262.3L417.9 263.1L418.0 263.9L418.1 264.6L418.2 265.4L418.3 266.2L418.5 267.0L418.6 267.8L418.7 268.6L418.8 269.4L419.0 270.2L419.1 271.0L419.2 271.8L419.4 272.6L419.5 273.4L419.7 274.2L419.9 275.0L420.0 275.8L420.2 276.6L420.4 277.4L420.6 278.2L420.8 279.0L421.0 279.8L421.3 280.6L421.5 281.4L421.7 282.2L422.0 283.0L422.2 283.8L422.5 284.6L422.8 285.4L423.1 286.2L423.4 287.0L423.7 287.8L424.0 288.5L424.4 289.3L424.7 290.1L425.1 290.9L425.5 291.7L425.9 292.5L426.3 293.3L426.7 294.1L427.2 294.9L427.6 295.7L428.1 296.5L428.6 297.3L429.1 298.1L429.7 298.9L430.3 299.7L430.8 300.5L431.5 301.3L432.1 302.1L432.8 302.9L433.4 303.7L434.2 304.5L434.9 305.3L435.7 306.1L436.5 306.9L437.3 307.7L438.2 308.5L439.1 309.3L440.1 310.1L441.0 310.9L442.1 311.7L443.1 312.4L444.2 313.2L445.4 314.0L446.6 314.8L447.8 315.6L449.1 316.4L450.5 317.2L451.9 318.0L453.3 318.8L454.8 319.6L456.4 320.4L458.0 321.2L459.7 322.0L461.5 322.8L463.3 323.6L465.3 324.4L467.3 325.2L469.3 326.0L471.5 326.8L473.7 327.6L476.0 328.4L478.5 329.2L481.0 330.0L483.6 330.8L486.3 331.6L489.2 332.4L492.1 333.2L495.2 334.0L498.4 334.8L501.7 335.5L505.1 336.3L508.7 337.1L512.4 337.9L516.3 338.7L520.3 339.5L524.5 340.3L528.9 341.1L533.4 341.9L538.1 342.7L543.0 343.5L548.2 344.3L553.5 345.1L559.0 345.9L564.7 346.7L570.7 347.5L576.9 348.3L583.3 349.1L590.1 349.9L597.0 350.7L604.3 351.5L611.9 352.3L619.7 353.1L627.9 353.9L636.4 354.7L645.2 355.5L654.4 356.3L664.0 357.1L673.8 357.8" stroke="#ee2a24" stroke-width="1.5" fill="none" clip-path="url(#ce)"/>
<path d="M415.5 287.8H673.8" stroke="#2a2af0" stroke-width="1.3" fill="none"/>
<rect x="415.5" y="208.6" width="258.3" height="168.0" fill="none" stroke="#333333" stroke-width="1.3"/>
<path d="M415.5 376.6v-3.2M436.2 376.6v-2.0M456.8 376.6v-3.2M477.5 376.6v-2.0M498.2 376.6v-3.2M518.8 376.6v-2.0M539.5 376.6v-3.2M560.1 376.6v-2.0M580.8 376.6v-3.2M601.5 376.6v-2.0M622.1 376.6v-3.2M642.8 376.6v-2.0M663.5 376.6v-3.2" stroke="#333333" stroke-width="1.1" fill="none"/>
<text x="415.5" y="387.6" font-size="10" fill="#1a1a1a" text-anchor="middle">0</text>
<text x="456.8" y="387.6" font-size="10" fill="#1a1a1a" text-anchor="middle">2</text>
<text x="498.2" y="387.6" font-size="10" fill="#1a1a1a" text-anchor="middle">4</text>
<text x="539.5" y="387.6" font-size="10" fill="#1a1a1a" text-anchor="middle">6</text>
<text x="580.8" y="387.6" font-size="10" fill="#1a1a1a" text-anchor="middle">8</text>
<text x="622.1" y="387.6" font-size="10" fill="#1a1a1a" text-anchor="middle">10</text>
<text x="663.5" y="387.6" font-size="10" fill="#1a1a1a" text-anchor="middle">12</text>
<path d="M415.5 373.1h1.3M415.5 370.0h1.3M415.5 367.3h1.3M415.5 364.9h1.3M415.5 362.8h3.2M415.5 348.7h1.3M415.5 340.4h1.3M415.5 334.6h1.3M415.5 330.1h1.3M415.5 326.4h1.3M415.5 323.2h1.3M415.5 320.5h1.3M415.5 318.1h1.3M415.5 316.0h3.2M415.5 301.9h1.3M415.5 293.7h1.3M415.5 287.8h1.3M415.5 283.3h1.3M415.5 279.6h1.3M415.5 276.5h1.3M415.5 273.7h1.3M415.5 271.4h1.3M415.5 269.2h3.2M415.5 255.1h1.3M415.5 246.9h1.3M415.5 241.1h1.3M415.5 236.5h1.3M415.5 232.8h1.3M415.5 229.7h1.3M415.5 227.0h1.3M415.5 224.6h1.3M415.5 222.4h3.2" stroke="#333333" stroke-width="1.0" fill="none"/>
<text x="411.8" y="226.0" font-size="10" fill="#1a1a1a" text-anchor="end">10<tspan font-size="7" dy="-4">1</tspan></text>
<text x="411.8" y="272.8" font-size="10" fill="#1a1a1a" text-anchor="end">10<tspan font-size="7" dy="-4">0</tspan></text>
<text x="411.8" y="319.6" font-size="10" fill="#1a1a1a" text-anchor="end">10<tspan font-size="7" dy="-4">−1</tspan></text>
<text x="411.8" y="366.4" font-size="10" fill="#1a1a1a" text-anchor="end">10<tspan font-size="7" dy="-4">−2</tspan></text>
<text x="425.0" y="225.2" font-size="11.7" fill="#1a1a1a" text-anchor="start">300 K</text>
<path d="M476.3 220.1h6m-3-3v6" stroke="#5f9f9c" stroke-width="0.9" fill="none" opacity="1.0"/>
<text x="492.6" y="225.2" font-size="11.7" fill="#1a1a1a" text-anchor="start">3ph</text>
<path d="M532.1 217.3l5.6 5.6m0-5.6l-5.6 5.6" stroke="#ff2b8e" stroke-width="0.9" fill="none" opacity="1.0"/>
<text x="548.2" y="225.2" font-size="11.7" fill="#1a1a1a" text-anchor="start">3+4ph</text>
<text x="560.4" y="262.3" font-size="11.7" fill="#2a2af0" text-anchor="start">Wigner limit</text>
<path d="M580.3 267.7L574.8 285.5" stroke="#2a2af0" stroke-width="1.0" fill="none"/>
<path d="M574.8 285.5L574.1 281.1L577.9 282.2Z" fill="#2a2af0"/>
<text x="475.9" y="367.1" font-size="11.7" fill="#ee2a24" text-anchor="start">Ioffe-Regel limit</text>
<path d="M510.5 352.8L516.0 339.7" stroke="#ee2a24" stroke-width="1.0" fill="none"/>
<path d="M516.0 339.7L516.2 344.2L512.6 342.7Z" fill="#ee2a24"/>
<text transform="translate(430.3 373.2) rotate(-90)" font-size="11.7" fill="#8a2bb0">Overdamped</text>
<text transform="translate(670.3 276.6) rotate(-90)" font-size="11.7" fill="#4aa08a">Particle-like</text>
<text transform="translate(670.4 349.2) rotate(-90)" font-size="11.7" fill="#ff2b8e">Wave-like</text>
<text x="129.3" y="188.7" font-size="11.9" fill="#1a1a1a" text-anchor="middle">Frequency (THz)</text>
<text x="360.2" y="188.7" font-size="11.9" fill="#1a1a1a" text-anchor="middle">Frequency (THz)</text>
<text x="590.5" y="188.7" font-size="11.9" fill="#1a1a1a" text-anchor="middle">Frequency (THz)</text>
<text x="184.9" y="401.2" font-size="11.9" fill="#1a1a1a" text-anchor="middle">Frequency (THz)</text>
<text x="544.6" y="401.2" font-size="11.9" fill="#1a1a1a" text-anchor="middle">Frequency (THz)</text>
<text transform="translate(23.8 164.5) rotate(-90)" font-size="11.7" fill="#1a1a1a">Phase space volume (×10<tspan font-size="7.5" dy="-4.5">−7</tspan><tspan dy="4.5">)</tspan></text>
<text transform="translate(248.5 164.9) rotate(-90)" font-size="11.7" fill="#1a1a1a">Phase space volume (×10<tspan font-size="7.5" dy="-4.5">−7</tspan><tspan dy="4.5">)</tspan></text>
<text transform="translate(485.4 165.0) rotate(-90)" font-size="11.7" fill="#1a1a1a">Phase space volume (×10<tspan font-size="7.5" dy="-4.5">−7</tspan><tspan dy="4.5">)</tspan></text>
<text transform="translate(29.9 354.6) rotate(-90)" font-size="11.7" fill="#1a1a1a">Scattering rates (ps<tspan font-size="7.5" dy="-4.5">−1</tspan><tspan dy="4.5">)</tspan></text>
<text transform="translate(390.0 323.9) rotate(-90)" font-size="11.7" fill="#1a1a1a">Lifetime (ps)</text>
<text x="0.3" y="13.4" font-size="17" fill="#1a1a1a" text-anchor="start">(a)</text>
<text x="224.9" y="13.4" font-size="17" fill="#1a1a1a" text-anchor="start">(b)</text>
<text x="463.9" y="13.4" font-size="17" fill="#1a1a1a" text-anchor="start">(c)</text>
<text x="13.0" y="218.6" font-size="17" fill="#1a1a1a" text-anchor="start">(d)</text>
<text x="370.0" y="218.6" font-size="17" fill="#1a1a1a" text-anchor="start">(e)</text>
</svg></body></html>
